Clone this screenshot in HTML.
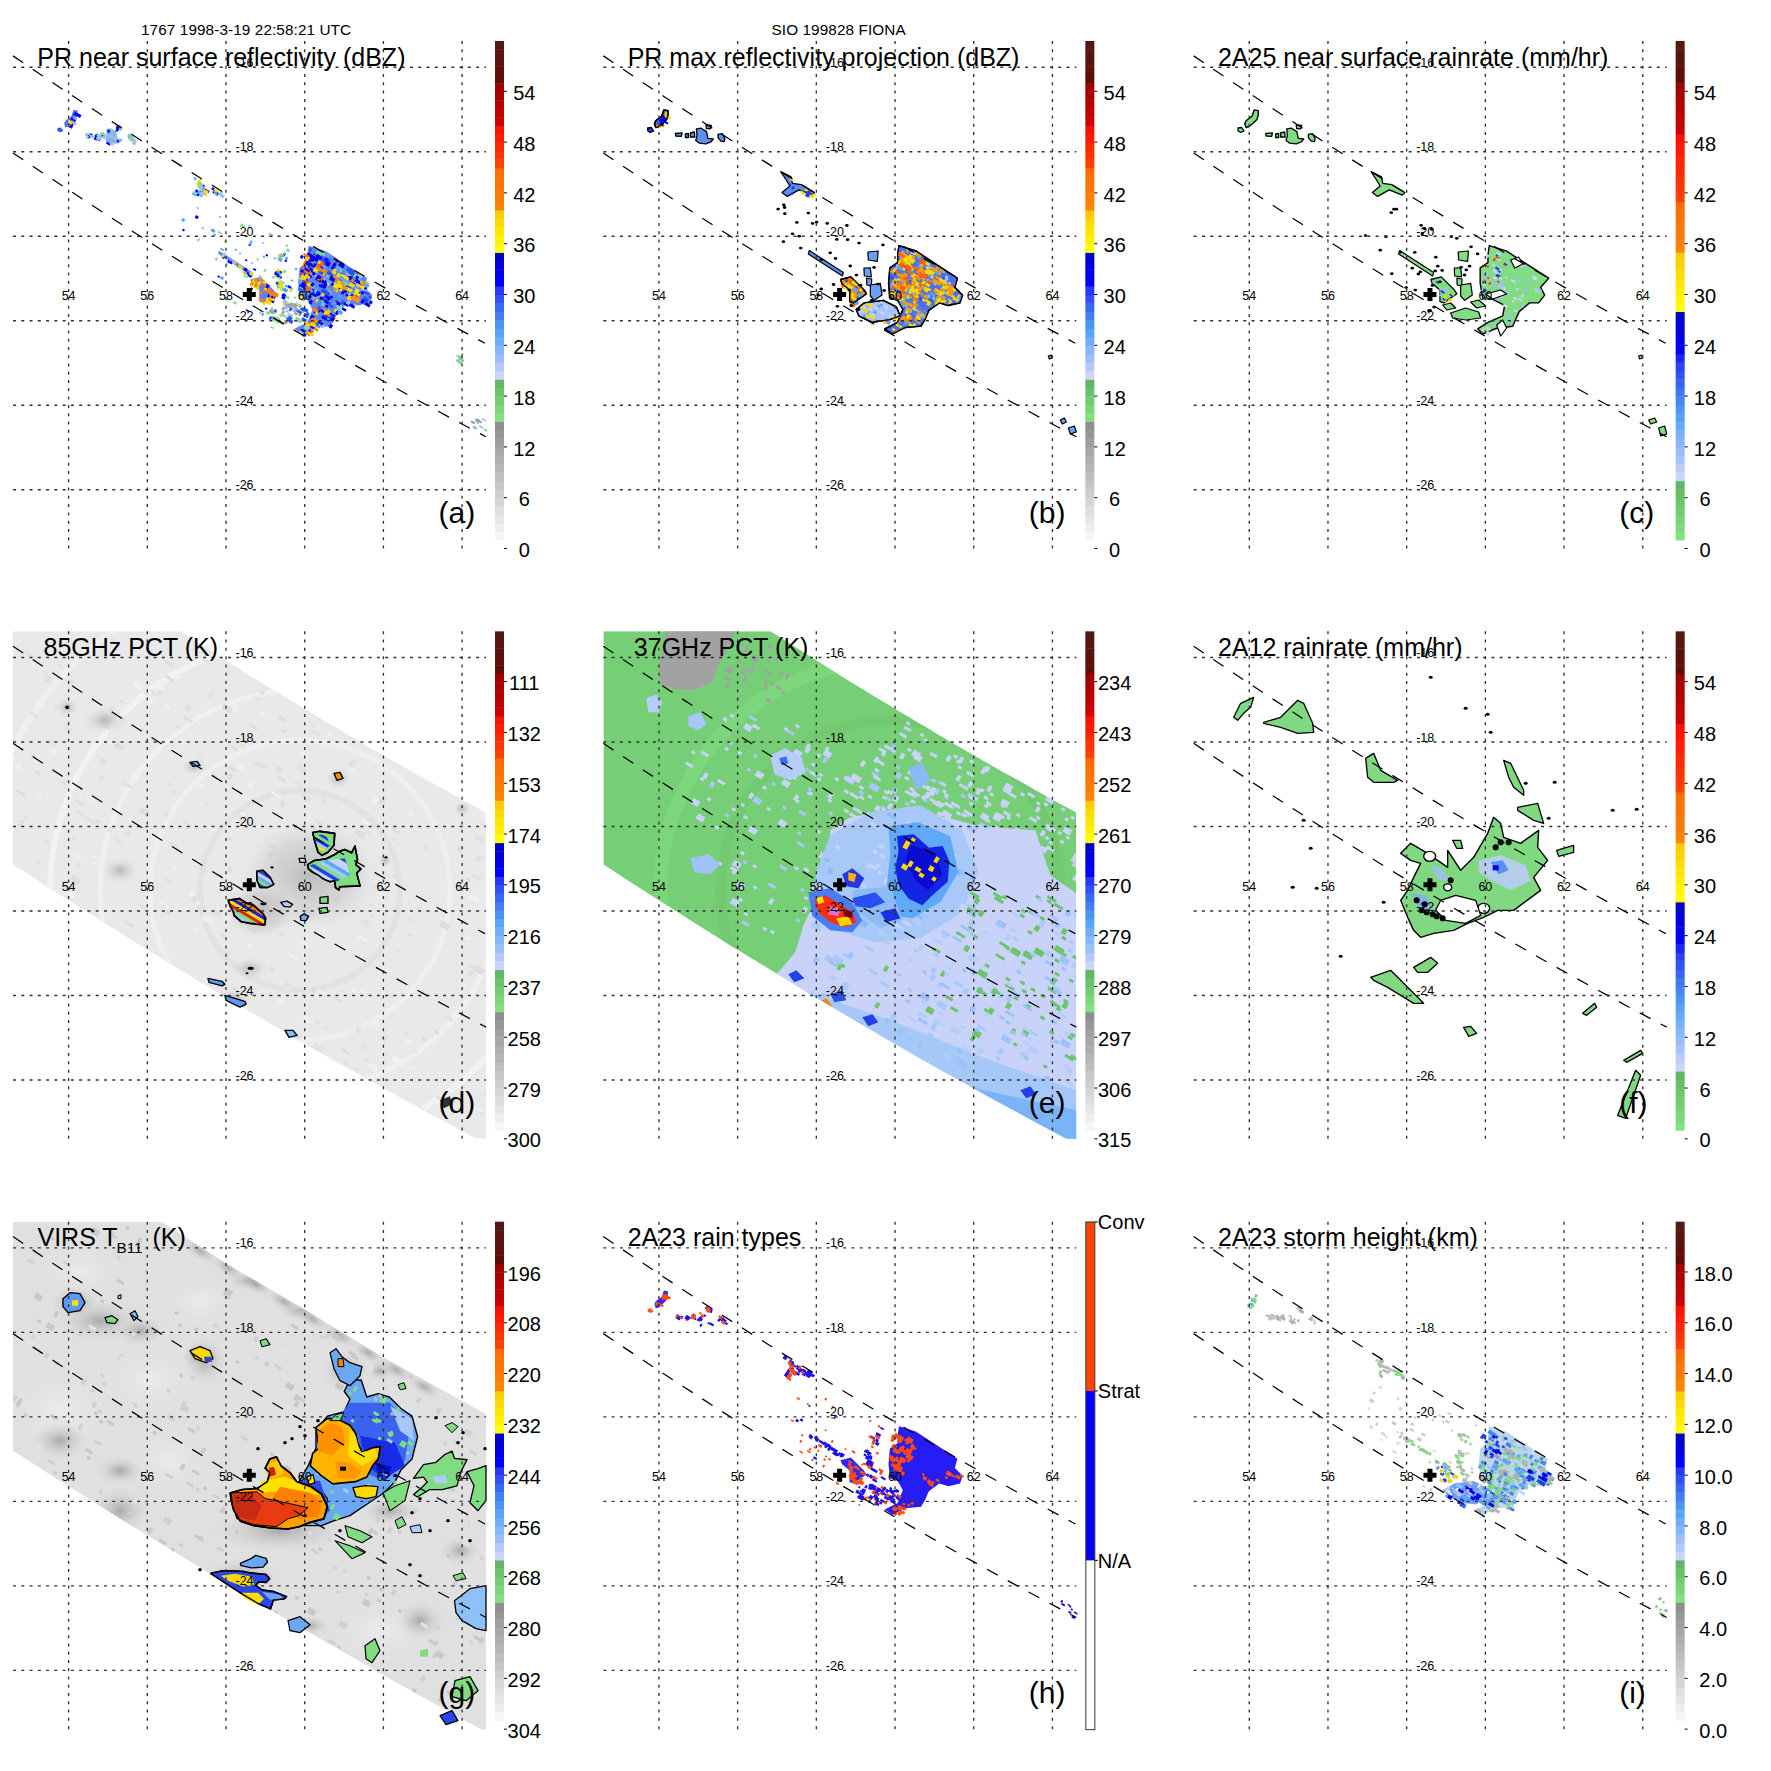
<!DOCTYPE html><html><head><meta charset="utf-8"><style>html,body{margin:0;padding:0;background:#fff;overflow:hidden}svg{display:block}</style></head><body>
<svg width="1771" height="1771" viewBox="0 0 1771 1771">
<rect width="1771" height="1771" fill="#fff"/>
<text x="141" y="35" style="font-family:'Liberation Sans',sans-serif;letter-spacing:0.1px" font-size="15.3" fill="#000">1767 1998-3-19 22:58:21 UTC</text>
<text x="771.5" y="35.1" style="font-family:'Liberation Sans',sans-serif;letter-spacing:0.1px" font-size="15.3" fill="#000">SIO 199828 FIONA</text>
<g transform="translate(0.000,0.000)">
<polygon points="308.6,245.7 325.5,250.9 367.1,278.2 364.5,287.3 372.3,295.1 369.7,302.9 358.0,305.5 348.9,302.9 338.5,310.6 334.6,319.7 330.7,326.2 315.1,327.5 302.1,334.0 294.4,328.8 307.3,322.3 309.9,315.8 312.5,309.4 307.3,300.3 299.5,297.7 298.2,283.4 299.5,267.8 307.3,262.6 307.3,254.8" fill="#3a64f0" fill-opacity="0.8"/><path fill="#82e082" d="M339.7 262.9l3.9 2.3l-1.5 2.6l-3.9 -2.3zM318.6 322.5l2.6 1.5l-1.2 2.1l-2.6 -1.5zM299.5 296.5l5.1 3.1l-1.2 2.1l-5.1 -3.1zM322.2 302.6l2.6 1.5l-1.2 2.1l-2.6 -1.5zM337.6 266.3l5.1 3.1l-2.0 3.3l-5.1 -3.1zM346.6 282.9l2.6 1.5l-2.0 3.3l-2.6 -1.5zM327.4 279.3l3.9 2.3l-2.0 3.3l-3.9 -2.3zM334.4 281.8l5.1 3.1l-2.0 3.3l-5.1 -3.1zM347.1 268.2l5.1 3.1l-2.0 3.3l-5.1 -3.1zM329.1 274.6l3.9 2.3l-1.2 2.1l-3.9 -2.3zM339.5 281.7l3.9 2.3l-2.0 3.3l-3.9 -2.3zM337.9 303.3l5.1 3.1l-2.0 3.3l-5.1 -3.1zM313.2 320.6l2.6 1.5l-2.0 3.3l-2.6 -1.5zM365.8 280.8l3.9 2.3l-1.5 2.6l-3.9 -2.3zM355.0 273.6l2.6 1.5l-1.5 2.6l-2.6 -1.5zM324.8 280.5l3.9 2.3l-1.2 2.1l-3.9 -2.3zM305.1 325.6l3.9 2.3l-1.5 2.6l-3.9 -2.3zM307.0 282.2l3.9 2.3l-2.0 3.3l-3.9 -2.3zM299.7 278.4l2.6 1.5l-1.2 2.1l-2.6 -1.5zM353.5 294.0l5.1 3.1l-1.2 2.1l-5.1 -3.1zM354.0 281.3l3.9 2.3l-1.5 2.6l-3.9 -2.3zM309.8 282.2l2.6 1.5l-2.0 3.3l-2.6 -1.5zM334.7 277.7l2.6 1.5l-2.0 3.3l-2.6 -1.5zM320.6 297.9l5.1 3.1l-1.2 2.1l-5.1 -3.1zM344.8 283.2l5.1 3.1l-1.2 2.1l-5.1 -3.1zM316.9 250.5l5.1 3.1l-2.0 3.3l-5.1 -3.1zM321.6 251.8l3.9 2.3l-1.2 2.1l-3.9 -2.3zM357.8 276.1l2.6 1.5l-1.2 2.1l-2.6 -1.5zM317.1 266.4l2.6 1.5l-1.2 2.1l-2.6 -1.5zM312.0 284.4l2.6 1.5l-1.5 2.6l-2.6 -1.5zM346.0 279.9l3.9 2.3l-2.0 3.3l-3.9 -2.3zM333.4 270.6l2.6 1.5l-2.0 3.3l-2.6 -1.5z"/><path fill="#ffd800" d="M332.2 314.8l5.1 3.1l-1.2 2.1l-5.1 -3.1zM299.7 294.1l5.1 3.1l-1.2 2.1l-5.1 -3.1zM310.3 255.6l2.6 1.5l-1.2 2.1l-2.6 -1.5zM303.8 275.9l2.6 1.5l-1.5 2.6l-2.6 -1.5zM313.6 296.8l5.1 3.1l-1.5 2.6l-5.1 -3.1zM337.9 259.1l2.6 1.5l-1.2 2.1l-2.6 -1.5zM314.2 318.3l5.1 3.1l-2.0 3.3l-5.1 -3.1zM348.6 271.0l3.9 2.3l-1.2 2.1l-3.9 -2.3zM354.6 297.0l5.1 3.1l-1.5 2.6l-5.1 -3.1zM300.0 276.4l2.6 1.5l-1.2 2.1l-2.6 -1.5zM308.7 282.3l3.9 2.3l-1.5 2.6l-3.9 -2.3zM360.5 285.2l2.6 1.5l-1.2 2.1l-2.6 -1.5zM328.1 273.8l5.1 3.1l-2.0 3.3l-5.1 -3.1zM339.0 285.2l2.6 1.5l-1.2 2.1l-2.6 -1.5zM301.1 275.3l5.1 3.1l-1.5 2.6l-5.1 -3.1zM305.6 266.9l3.9 2.3l-1.5 2.6l-3.9 -2.3zM329.2 290.7l2.6 1.5l-1.2 2.1l-2.6 -1.5zM334.9 308.5l2.6 1.5l-1.5 2.6l-2.6 -1.5zM335.9 288.8l2.6 1.5l-1.2 2.1l-2.6 -1.5zM320.1 270.5l5.1 3.1l-1.5 2.6l-5.1 -3.1zM360.9 280.2l2.6 1.5l-1.5 2.6l-2.6 -1.5zM322.5 270.0l2.6 1.5l-1.5 2.6l-2.6 -1.5zM327.7 281.1l2.6 1.5l-2.0 3.3l-2.6 -1.5zM300.8 329.7l2.6 1.5l-1.5 2.6l-2.6 -1.5zM304.6 266.7l2.6 1.5l-1.2 2.1l-2.6 -1.5zM308.1 254.9l2.6 1.5l-2.0 3.3l-2.6 -1.5zM322.3 292.8l2.6 1.5l-2.0 3.3l-2.6 -1.5zM340.7 281.4l3.9 2.3l-1.5 2.6l-3.9 -2.3z"/><path fill="#4a94f8" d="M314.3 259.9l3.9 2.3l-1.2 2.1l-3.9 -2.3zM352.4 282.6l2.6 1.5l-2.0 3.3l-2.6 -1.5zM347.0 299.6l2.6 1.5l-2.0 3.3l-2.6 -1.5zM302.9 333.0l2.6 1.5l-1.5 2.6l-2.6 -1.5zM318.2 325.0l2.6 1.5l-1.2 2.1l-2.6 -1.5zM326.2 298.5l5.1 3.1l-1.5 2.6l-5.1 -3.1zM305.3 295.1l2.6 1.5l-2.0 3.3l-2.6 -1.5zM308.9 289.8l2.6 1.5l-1.2 2.1l-2.6 -1.5zM319.4 282.8l3.9 2.3l-2.0 3.3l-3.9 -2.3zM302.8 272.8l2.6 1.5l-1.5 2.6l-2.6 -1.5zM309.9 247.5l2.6 1.5l-1.2 2.1l-2.6 -1.5zM318.6 275.2l2.6 1.5l-1.2 2.1l-2.6 -1.5zM319.2 261.4l2.6 1.5l-1.5 2.6l-2.6 -1.5zM329.6 308.4l2.6 1.5l-2.0 3.3l-2.6 -1.5zM314.0 297.7l2.6 1.5l-1.5 2.6l-2.6 -1.5zM300.7 326.5l3.9 2.3l-1.5 2.6l-3.9 -2.3zM310.2 319.4l2.6 1.5l-1.2 2.1l-2.6 -1.5zM312.7 314.4l2.6 1.5l-1.5 2.6l-2.6 -1.5zM312.7 263.1l2.6 1.5l-1.5 2.6l-2.6 -1.5zM336.1 275.7l2.6 1.5l-1.5 2.6l-2.6 -1.5zM350.8 282.1l5.1 3.1l-1.2 2.1l-5.1 -3.1zM335.4 269.0l3.9 2.3l-2.0 3.3l-3.9 -2.3zM327.7 294.3l2.6 1.5l-1.2 2.1l-2.6 -1.5zM328.9 257.1l2.6 1.5l-1.5 2.6l-2.6 -1.5zM332.6 292.3l2.6 1.5l-2.0 3.3l-2.6 -1.5zM331.4 272.8l5.1 3.1l-2.0 3.3l-5.1 -3.1zM304.1 282.4l2.6 1.5l-1.5 2.6l-2.6 -1.5zM364.8 299.0l5.1 3.1l-1.2 2.1l-5.1 -3.1z"/><path fill="#0000dd" d="M331.1 274.5l5.1 3.1l-1.2 2.1l-5.1 -3.1zM325.1 279.2l2.6 1.5l-1.5 2.6l-2.6 -1.5zM321.3 277.9l5.1 3.1l-2.0 3.3l-5.1 -3.1zM329.7 317.6l2.6 1.5l-1.2 2.1l-2.6 -1.5zM367.2 301.6l2.6 1.5l-2.0 3.3l-2.6 -1.5zM342.6 290.0l2.6 1.5l-2.0 3.3l-2.6 -1.5zM330.2 312.7l5.1 3.1l-1.5 2.6l-5.1 -3.1zM350.1 275.3l2.6 1.5l-2.0 3.3l-2.6 -1.5zM308.4 266.2l5.1 3.1l-1.2 2.1l-5.1 -3.1zM312.0 314.9l2.6 1.5l-1.2 2.1l-2.6 -1.5zM323.0 297.0l5.1 3.1l-1.5 2.6l-5.1 -3.1zM332.1 282.5l2.6 1.5l-1.5 2.6l-2.6 -1.5zM334.3 262.2l2.6 1.5l-2.0 3.3l-2.6 -1.5zM316.5 276.9l5.1 3.1l-1.5 2.6l-5.1 -3.1zM326.1 304.3l2.6 1.5l-1.2 2.1l-2.6 -1.5zM350.0 276.0l2.6 1.5l-1.2 2.1l-2.6 -1.5zM318.1 308.9l2.6 1.5l-1.2 2.1l-2.6 -1.5zM342.8 307.3l3.9 2.3l-1.2 2.1l-3.9 -2.3zM310.4 253.7l3.9 2.3l-1.5 2.6l-3.9 -2.3zM340.5 281.6l3.9 2.3l-1.2 2.1l-3.9 -2.3zM321.6 283.8l5.1 3.1l-1.2 2.1l-5.1 -3.1zM335.9 300.3l5.1 3.1l-1.5 2.6l-5.1 -3.1zM312.4 288.8l3.9 2.3l-1.2 2.1l-3.9 -2.3zM337.0 310.5l2.6 1.5l-2.0 3.3l-2.6 -1.5zM326.7 296.5l3.9 2.3l-1.5 2.6l-3.9 -2.3zM323.6 259.7l5.1 3.1l-1.5 2.6l-5.1 -3.1zM344.8 289.2l2.6 1.5l-1.5 2.6l-2.6 -1.5zM355.2 279.5l2.6 1.5l-1.2 2.1l-2.6 -1.5zM343.9 275.0l3.9 2.3l-1.2 2.1l-3.9 -2.3zM365.6 301.8l5.1 3.1l-1.5 2.6l-5.1 -3.1zM325.5 294.3l5.1 3.1l-1.2 2.1l-5.1 -3.1zM324.9 282.5l2.6 1.5l-2.0 3.3l-2.6 -1.5zM344.0 301.7l5.1 3.1l-1.2 2.1l-5.1 -3.1zM328.7 314.7l2.6 1.5l-1.2 2.1l-2.6 -1.5z"/><path fill="#58a6fc" d="M299.3 287.0l2.6 1.5l-2.0 3.3l-2.6 -1.5zM356.0 287.3l3.9 2.3l-1.5 2.6l-3.9 -2.3zM334.4 301.0l2.6 1.5l-1.5 2.6l-2.6 -1.5zM346.3 269.5l2.6 1.5l-1.5 2.6l-2.6 -1.5zM351.0 269.5l3.9 2.3l-1.5 2.6l-3.9 -2.3zM346.1 271.9l5.1 3.1l-2.0 3.3l-5.1 -3.1zM350.6 292.4l2.6 1.5l-1.2 2.1l-2.6 -1.5zM310.9 289.3l2.6 1.5l-1.2 2.1l-2.6 -1.5zM307.9 289.5l3.9 2.3l-1.5 2.6l-3.9 -2.3zM323.8 265.4l2.6 1.5l-2.0 3.3l-2.6 -1.5zM326.8 290.6l5.1 3.1l-1.2 2.1l-5.1 -3.1zM365.4 298.0l5.1 3.1l-1.5 2.6l-5.1 -3.1zM339.4 309.6l3.9 2.3l-2.0 3.3l-3.9 -2.3zM322.0 268.1l5.1 3.1l-1.5 2.6l-5.1 -3.1zM299.2 278.8l5.1 3.1l-1.5 2.6l-5.1 -3.1zM355.4 282.8l2.6 1.5l-1.2 2.1l-2.6 -1.5zM341.9 275.7l5.1 3.1l-2.0 3.3l-5.1 -3.1zM369.5 296.5l2.6 1.5l-1.5 2.6l-2.6 -1.5zM333.4 287.9l2.6 1.5l-1.2 2.1l-2.6 -1.5zM336.3 265.6l5.1 3.1l-2.0 3.3l-5.1 -3.1zM365.7 283.1l3.9 2.3l-1.5 2.6l-3.9 -2.3zM347.0 280.3l5.1 3.1l-1.2 2.1l-5.1 -3.1zM314.3 266.9l2.6 1.5l-2.0 3.3l-2.6 -1.5zM353.0 289.8l3.9 2.3l-2.0 3.3l-3.9 -2.3zM304.5 270.1l5.1 3.1l-1.5 2.6l-5.1 -3.1zM323.7 262.4l2.6 1.5l-2.0 3.3l-2.6 -1.5zM339.0 294.6l2.6 1.5l-1.2 2.1l-2.6 -1.5zM326.8 286.7l3.9 2.3l-1.5 2.6l-3.9 -2.3zM326.8 279.0l5.1 3.1l-1.2 2.1l-5.1 -3.1zM328.1 275.3l2.6 1.5l-1.5 2.6l-2.6 -1.5zM353.8 284.4l3.9 2.3l-1.2 2.1l-3.9 -2.3zM312.8 256.8l5.1 3.1l-1.5 2.6l-5.1 -3.1zM327.5 252.4l2.6 1.5l-2.0 3.3l-2.6 -1.5zM316.6 264.0l2.6 1.5l-1.5 2.6l-2.6 -1.5zM366.6 291.2l2.6 1.5l-2.0 3.3l-2.6 -1.5zM325.2 315.9l5.1 3.1l-1.2 2.1l-5.1 -3.1zM315.5 292.6l5.1 3.1l-2.0 3.3l-5.1 -3.1zM349.2 267.5l3.9 2.3l-1.2 2.1l-3.9 -2.3z"/><path fill="#9cbffc" d="M323.3 277.5l2.6 1.5l-1.2 2.1l-2.6 -1.5zM336.9 273.8l3.9 2.3l-1.2 2.1l-3.9 -2.3zM350.0 282.5l2.6 1.5l-1.2 2.1l-2.6 -1.5zM305.9 289.8l2.6 1.5l-1.2 2.1l-2.6 -1.5zM322.3 324.0l2.6 1.5l-2.0 3.3l-2.6 -1.5zM312.0 272.3l5.1 3.1l-1.2 2.1l-5.1 -3.1zM320.2 260.8l2.6 1.5l-1.5 2.6l-2.6 -1.5zM349.1 292.4l5.1 3.1l-1.2 2.1l-5.1 -3.1zM347.9 300.1l2.6 1.5l-2.0 3.3l-2.6 -1.5zM342.7 280.7l2.6 1.5l-2.0 3.3l-2.6 -1.5zM356.3 280.6l2.6 1.5l-2.0 3.3l-2.6 -1.5zM315.6 288.7l2.6 1.5l-2.0 3.3l-2.6 -1.5zM338.0 305.6l2.6 1.5l-2.0 3.3l-2.6 -1.5zM350.8 280.9l3.9 2.3l-1.5 2.6l-3.9 -2.3zM327.9 300.3l2.6 1.5l-1.2 2.1l-2.6 -1.5zM319.8 266.4l5.1 3.1l-1.5 2.6l-5.1 -3.1zM315.5 289.2l2.6 1.5l-1.5 2.6l-2.6 -1.5zM340.2 263.3l2.6 1.5l-1.2 2.1l-2.6 -1.5zM305.3 324.0l5.1 3.1l-1.5 2.6l-5.1 -3.1zM347.1 272.8l2.6 1.5l-1.2 2.1l-2.6 -1.5zM362.2 287.1l5.1 3.1l-1.5 2.6l-5.1 -3.1zM359.4 273.2l3.9 2.3l-2.0 3.3l-3.9 -2.3z"/><path fill="#2a50f8" d="M328.0 270.2l5.1 3.1l-2.0 3.3l-5.1 -3.1zM364.2 295.9l5.1 3.1l-2.0 3.3l-5.1 -3.1zM329.2 324.2l2.6 1.5l-1.2 2.1l-2.6 -1.5zM319.9 270.4l3.9 2.3l-1.5 2.6l-3.9 -2.3zM351.5 303.2l2.6 1.5l-1.5 2.6l-2.6 -1.5zM364.6 290.6l5.1 3.1l-1.2 2.1l-5.1 -3.1zM301.9 271.2l5.1 3.1l-2.0 3.3l-5.1 -3.1zM322.8 288.1l5.1 3.1l-2.0 3.3l-5.1 -3.1zM342.3 300.0l2.6 1.5l-2.0 3.3l-2.6 -1.5zM348.7 288.4l2.6 1.5l-1.5 2.6l-2.6 -1.5zM316.5 322.5l2.6 1.5l-1.2 2.1l-2.6 -1.5zM303.2 288.9l3.9 2.3l-1.5 2.6l-3.9 -2.3zM349.8 267.8l5.1 3.1l-1.2 2.1l-5.1 -3.1zM302.6 271.2l2.6 1.5l-1.2 2.1l-2.6 -1.5zM322.9 295.8l5.1 3.1l-1.5 2.6l-5.1 -3.1zM325.9 312.9l2.6 1.5l-2.0 3.3l-2.6 -1.5zM326.4 299.9l5.1 3.1l-1.5 2.6l-5.1 -3.1zM355.2 294.2l3.9 2.3l-1.5 2.6l-3.9 -2.3zM322.6 256.7l3.9 2.3l-2.0 3.3l-3.9 -2.3zM318.5 305.7l2.6 1.5l-1.5 2.6l-2.6 -1.5zM329.8 304.0l3.9 2.3l-1.2 2.1l-3.9 -2.3zM317.0 290.1l2.6 1.5l-1.5 2.6l-2.6 -1.5zM347.7 267.3l2.6 1.5l-2.0 3.3l-2.6 -1.5zM349.8 269.7l5.1 3.1l-2.0 3.3l-5.1 -3.1zM308.1 288.8l2.6 1.5l-1.5 2.6l-2.6 -1.5zM348.3 267.7l2.6 1.5l-1.5 2.6l-2.6 -1.5zM327.9 291.6l2.6 1.5l-2.0 3.3l-2.6 -1.5zM324.6 261.5l5.1 3.1l-1.5 2.6l-5.1 -3.1zM325.8 257.3l5.1 3.1l-2.0 3.3l-5.1 -3.1zM310.1 247.3l2.6 1.5l-2.0 3.3l-2.6 -1.5zM346.7 284.7l3.9 2.3l-1.5 2.6l-3.9 -2.3zM328.7 313.4l5.1 3.1l-1.5 2.6l-5.1 -3.1zM369.4 295.4l2.6 1.5l-1.2 2.1l-2.6 -1.5zM299.6 287.1l2.6 1.5l-1.5 2.6l-2.6 -1.5zM364.4 299.1l3.9 2.3l-1.2 2.1l-3.9 -2.3zM341.4 272.7l5.1 3.1l-1.2 2.1l-5.1 -3.1zM314.2 252.4l2.6 1.5l-1.2 2.1l-2.6 -1.5zM352.5 282.6l2.6 1.5l-1.5 2.6l-2.6 -1.5z"/><path fill="#0000ff" d="M325.2 299.8l3.9 2.3l-1.2 2.1l-3.9 -2.3zM370.3 300.3l2.6 1.5l-1.5 2.6l-2.6 -1.5zM332.4 316.8l2.6 1.5l-2.0 3.3l-2.6 -1.5zM362.2 299.1l2.6 1.5l-2.0 3.3l-2.6 -1.5zM356.6 275.6l2.6 1.5l-1.5 2.6l-2.6 -1.5zM325.8 257.5l2.6 1.5l-1.5 2.6l-2.6 -1.5zM311.9 292.1l5.1 3.1l-1.2 2.1l-5.1 -3.1zM317.9 261.3l3.9 2.3l-1.5 2.6l-3.9 -2.3zM304.2 332.8l2.6 1.5l-1.5 2.6l-2.6 -1.5zM327.0 261.0l3.9 2.3l-2.0 3.3l-3.9 -2.3zM356.9 280.7l3.9 2.3l-1.2 2.1l-3.9 -2.3zM334.6 270.9l2.6 1.5l-1.5 2.6l-2.6 -1.5zM336.4 259.1l2.6 1.5l-1.2 2.1l-2.6 -1.5zM349.2 276.6l5.1 3.1l-1.2 2.1l-5.1 -3.1zM310.3 262.9l5.1 3.1l-1.2 2.1l-5.1 -3.1zM350.2 303.1l5.1 3.1l-1.5 2.6l-5.1 -3.1zM327.5 311.1l2.6 1.5l-1.2 2.1l-2.6 -1.5zM361.9 290.6l2.6 1.5l-1.5 2.6l-2.6 -1.5zM308.3 274.0l3.9 2.3l-1.2 2.1l-3.9 -2.3zM318.3 291.6l2.6 1.5l-1.5 2.6l-2.6 -1.5zM311.7 314.8l2.6 1.5l-2.0 3.3l-2.6 -1.5zM355.0 289.3l5.1 3.1l-1.5 2.6l-5.1 -3.1zM310.5 299.6l2.6 1.5l-2.0 3.3l-2.6 -1.5zM304.4 277.9l3.9 2.3l-1.5 2.6l-3.9 -2.3zM324.6 317.0l2.6 1.5l-1.2 2.1l-2.6 -1.5zM326.8 312.2l3.9 2.3l-2.0 3.3l-3.9 -2.3zM313.7 271.2l2.6 1.5l-2.0 3.3l-2.6 -1.5zM302.5 281.4l3.9 2.3l-1.5 2.6l-3.9 -2.3zM330.6 323.9l2.6 1.5l-2.0 3.3l-2.6 -1.5zM321.6 278.4l2.6 1.5l-1.2 2.1l-2.6 -1.5zM319.6 283.8l3.9 2.3l-1.2 2.1l-3.9 -2.3zM300.4 283.9l3.9 2.3l-2.0 3.3l-3.9 -2.3zM350.8 280.8l5.1 3.1l-2.0 3.3l-5.1 -3.1zM309.0 294.7l2.6 1.5l-1.5 2.6l-2.6 -1.5zM346.4 293.5l3.9 2.3l-1.2 2.1l-3.9 -2.3zM314.8 310.6l3.9 2.3l-1.2 2.1l-3.9 -2.3zM301.6 328.4l3.9 2.3l-1.2 2.1l-3.9 -2.3zM330.9 276.0l5.1 3.1l-2.0 3.3l-5.1 -3.1zM319.8 265.7l3.9 2.3l-1.2 2.1l-3.9 -2.3zM339.9 262.0l5.1 3.1l-2.0 3.3l-5.1 -3.1zM327.4 261.7l2.6 1.5l-2.0 3.3l-2.6 -1.5zM318.4 320.4l5.1 3.1l-1.2 2.1l-5.1 -3.1zM347.8 275.5l5.1 3.1l-1.5 2.6l-5.1 -3.1zM317.4 253.8l5.1 3.1l-2.0 3.3l-5.1 -3.1zM308.1 252.1l2.6 1.5l-2.0 3.3l-2.6 -1.5zM351.6 293.4l3.9 2.3l-2.0 3.3l-3.9 -2.3zM332.0 265.5l3.9 2.3l-1.5 2.6l-3.9 -2.3zM311.9 269.8l2.6 1.5l-1.2 2.1l-2.6 -1.5zM364.7 286.4l2.6 1.5l-1.2 2.1l-2.6 -1.5zM320.7 296.3l2.6 1.5l-1.5 2.6l-2.6 -1.5zM320.9 308.8l3.9 2.3l-1.2 2.1l-3.9 -2.3zM310.4 323.8l5.1 3.1l-1.5 2.6l-5.1 -3.1zM322.6 315.2l5.1 3.1l-1.5 2.6l-5.1 -3.1zM309.6 328.9l3.9 2.3l-1.5 2.6l-3.9 -2.3zM330.6 295.3l2.6 1.5l-1.2 2.1l-2.6 -1.5zM338.8 286.2l2.6 1.5l-1.2 2.1l-2.6 -1.5zM316.6 292.8l2.6 1.5l-1.2 2.1l-2.6 -1.5zM304.4 283.6l2.6 1.5l-1.2 2.1l-2.6 -1.5zM314.5 263.1l2.6 1.5l-1.2 2.1l-2.6 -1.5zM356.4 279.1l3.9 2.3l-1.2 2.1l-3.9 -2.3z"/><path fill="#ff6000" d="M303.9 274.6l2.6 1.5l-1.5 2.6l-2.6 -1.5zM320.6 267.7l2.6 1.5l-1.2 2.1l-2.6 -1.5zM306.4 258.2l3.9 2.3l-2.0 3.3l-3.9 -2.3zM305.5 267.9l2.6 1.5l-2.0 3.3l-2.6 -1.5zM302.1 265.6l2.6 1.5l-1.2 2.1l-2.6 -1.5zM319.2 260.4l5.1 3.1l-2.0 3.3l-5.1 -3.1zM321.8 261.0l2.6 1.5l-1.2 2.1l-2.6 -1.5zM318.1 276.8l2.6 1.5l-1.5 2.6l-2.6 -1.5zM302.3 272.3l5.1 3.1l-1.2 2.1l-5.1 -3.1zM306.7 269.2l5.1 3.1l-1.5 2.6l-5.1 -3.1zM307.1 286.1l3.9 2.3l-2.0 3.3l-3.9 -2.3zM321.2 276.3l2.6 1.5l-2.0 3.3l-2.6 -1.5zM305.9 285.4l3.9 2.3l-1.5 2.6l-3.9 -2.3zM305.1 279.2l3.9 2.3l-1.5 2.6l-3.9 -2.3zM304.7 261.1l2.6 1.5l-2.0 3.3l-2.6 -1.5z"/><path fill="#ff8000" d="M307.6 267.2l2.6 1.5l-2.0 3.3l-2.6 -1.5zM323.9 268.8l3.9 2.3l-1.5 2.6l-3.9 -2.3zM304.1 252.9l5.1 3.1l-1.2 2.1l-5.1 -3.1zM318.5 266.1l3.9 2.3l-2.0 3.3l-3.9 -2.3zM312.6 258.2l2.6 1.5l-2.0 3.3l-2.6 -1.5zM317.2 263.9l2.6 1.5l-2.0 3.3l-2.6 -1.5z"/><path fill="#0000ff" d="M317.9 274.4l2.6 1.5l-2.0 3.3l-2.6 -1.5zM313.8 255.8l5.1 3.1l-2.0 3.3l-5.1 -3.1zM305.1 267.1l5.1 3.1l-1.2 2.1l-5.1 -3.1zM319.3 275.5l2.6 1.5l-1.5 2.6l-2.6 -1.5zM301.3 254.8l2.6 1.5l-1.5 2.6l-2.6 -1.5zM301.9 284.3l3.9 2.3l-1.5 2.6l-3.9 -2.3zM310.8 255.7l2.6 1.5l-1.2 2.1l-2.6 -1.5zM307.1 260.7l5.1 3.1l-2.0 3.3l-5.1 -3.1zM312.1 282.3l2.6 1.5l-2.0 3.3l-2.6 -1.5zM310.6 257.4l2.6 1.5l-2.0 3.3l-2.6 -1.5zM303.5 286.6l2.6 1.5l-1.2 2.1l-2.6 -1.5zM307.1 260.4l2.6 1.5l-1.2 2.1l-2.6 -1.5zM311.8 258.5l2.6 1.5l-1.2 2.1l-2.6 -1.5zM301.5 268.9l2.6 1.5l-1.5 2.6l-2.6 -1.5z"/><path fill="#ffd800" d="M301.8 274.5l5.1 3.1l-2.0 3.3l-5.1 -3.1zM305.4 273.6l5.1 3.1l-1.2 2.1l-5.1 -3.1zM314.5 267.6l3.9 2.3l-2.0 3.3l-3.9 -2.3zM306.3 257.5l2.6 1.5l-1.2 2.1l-2.6 -1.5zM318.6 260.4l2.6 1.5l-1.5 2.6l-2.6 -1.5z"/><path fill="#ffd800" d="M355.2 290.7l2.6 1.5l-2.0 3.3l-2.6 -1.5zM334.2 267.9l2.6 1.5l-1.2 2.1l-2.6 -1.5zM334.5 283.3l5.1 3.1l-2.0 3.3l-5.1 -3.1zM350.3 288.5l2.6 1.5l-1.2 2.1l-2.6 -1.5zM336.8 283.3l5.1 3.1l-1.2 2.1l-5.1 -3.1zM334.6 282.9l5.1 3.1l-1.5 2.6l-5.1 -3.1zM333.1 270.1l3.9 2.3l-1.5 2.6l-3.9 -2.3zM358.0 292.8l2.6 1.5l-1.5 2.6l-2.6 -1.5zM348.5 295.1l3.9 2.3l-2.0 3.3l-3.9 -2.3zM338.6 280.2l3.9 2.3l-1.5 2.6l-3.9 -2.3zM350.3 281.7l5.1 3.1l-2.0 3.3l-5.1 -3.1zM357.7 283.3l2.6 1.5l-1.5 2.6l-2.6 -1.5z"/><path fill="#ffe000" d="M355.9 287.9l3.9 2.3l-2.0 3.3l-3.9 -2.3zM357.0 289.8l2.6 1.5l-2.0 3.3l-2.6 -1.5zM346.7 286.7l5.1 3.1l-1.5 2.6l-5.1 -3.1zM338.3 272.7l2.6 1.5l-2.0 3.3l-2.6 -1.5zM345.0 275.1l3.9 2.3l-1.5 2.6l-3.9 -2.3zM338.8 283.2l5.1 3.1l-1.5 2.6l-5.1 -3.1zM341.7 273.5l5.1 3.1l-1.2 2.1l-5.1 -3.1zM362.5 285.2l2.6 1.5l-1.5 2.6l-2.6 -1.5zM340.2 288.2l2.6 1.5l-1.2 2.1l-2.6 -1.5zM345.4 276.3l3.9 2.3l-1.2 2.1l-3.9 -2.3zM349.6 295.4l3.9 2.3l-1.2 2.1l-3.9 -2.3z"/><path fill="#ff9000" d="M342.9 285.3l5.1 3.1l-1.5 2.6l-5.1 -3.1zM354.9 296.7l5.1 3.1l-2.0 3.3l-5.1 -3.1zM352.6 295.5l2.6 1.5l-2.0 3.3l-2.6 -1.5zM354.0 294.7l2.6 1.5l-1.5 2.6l-2.6 -1.5zM336.4 277.7l2.6 1.5l-2.0 3.3l-2.6 -1.5zM351.5 295.5l5.1 3.1l-1.5 2.6l-5.1 -3.1zM334.7 287.7l2.6 1.5l-1.2 2.1l-2.6 -1.5zM351.8 278.4l2.6 1.5l-1.5 2.6l-2.6 -1.5zM357.1 296.3l2.6 1.5l-1.2 2.1l-2.6 -1.5zM333.8 275.1l3.9 2.3l-1.2 2.1l-3.9 -2.3zM362.6 281.1l2.6 1.5l-2.0 3.3l-2.6 -1.5zM341.0 280.9l3.9 2.3l-1.2 2.1l-3.9 -2.3z"/><path fill="#ff8000" d="M307.4 321.3l5.1 3.1l-1.5 2.6l-5.1 -3.1zM316.3 308.5l2.6 1.5l-2.0 3.3l-2.6 -1.5zM313.7 307.5l5.1 3.1l-1.5 2.6l-5.1 -3.1zM325.7 311.6l5.1 3.1l-1.5 2.6l-5.1 -3.1zM314.9 327.3l3.9 2.3l-1.2 2.1l-3.9 -2.3zM324.4 308.2l3.9 2.3l-1.2 2.1l-3.9 -2.3zM306.9 331.5l3.9 2.3l-1.5 2.6l-3.9 -2.3zM311.6 329.1l2.6 1.5l-1.5 2.6l-2.6 -1.5zM312.2 317.5l5.1 3.1l-2.0 3.3l-5.1 -3.1z"/><path fill="#ffd800" d="M325.4 310.3l2.6 1.5l-2.0 3.3l-2.6 -1.5zM316.0 311.8l2.6 1.5l-1.2 2.1l-2.6 -1.5zM328.2 309.6l2.6 1.5l-2.0 3.3l-2.6 -1.5zM306.3 322.5l3.9 2.3l-1.5 2.6l-3.9 -2.3zM311.4 322.1l5.1 3.1l-1.5 2.6l-5.1 -3.1zM309.1 331.6l5.1 3.1l-1.2 2.1l-5.1 -3.1z"/><polygon points="250.2,279.5 260.6,276.9 273.6,289.9 276.2,293.8 263.2,302.9 259.3,301.6 259.3,289.9 251.5,283.4" fill="#3a60f0" fill-opacity="0.8"/><path fill="#0000ff" d="M272.6 292.0l3.9 2.3l-2.0 3.3l-3.9 -2.3zM253.4 281.1l3.9 2.3l-1.2 2.1l-3.9 -2.3zM254.0 281.1l2.6 1.5l-1.2 2.1l-2.6 -1.5zM268.9 293.3l2.6 1.5l-2.0 3.3l-2.6 -1.5zM273.1 295.7l2.6 1.5l-2.0 3.3l-2.6 -1.5zM274.3 292.8l3.9 2.3l-1.2 2.1l-3.9 -2.3zM269.8 297.8l5.1 3.1l-1.5 2.6l-5.1 -3.1zM266.0 283.3l3.9 2.3l-2.0 3.3l-3.9 -2.3zM261.9 279.2l2.6 1.5l-1.2 2.1l-2.6 -1.5z"/><path fill="#ffd800" d="M254.7 284.7l5.1 3.1l-1.5 2.6l-5.1 -3.1zM255.2 283.2l3.9 2.3l-1.2 2.1l-3.9 -2.3zM266.8 298.8l5.1 3.1l-2.0 3.3l-5.1 -3.1zM264.8 287.2l2.6 1.5l-1.5 2.6l-2.6 -1.5zM254.8 283.9l3.9 2.3l-1.5 2.6l-3.9 -2.3zM262.9 280.1l3.9 2.3l-1.2 2.1l-3.9 -2.3zM253.0 283.2l3.9 2.3l-1.2 2.1l-3.9 -2.3zM255.6 283.3l3.9 2.3l-2.0 3.3l-3.9 -2.3zM266.8 297.0l5.1 3.1l-1.5 2.6l-5.1 -3.1zM263.5 301.5l2.6 1.5l-1.5 2.6l-2.6 -1.5zM253.2 279.0l3.9 2.3l-2.0 3.3l-3.9 -2.3zM257.6 281.5l2.6 1.5l-2.0 3.3l-2.6 -1.5zM270.0 296.2l5.1 3.1l-1.2 2.1l-5.1 -3.1zM259.2 280.7l2.6 1.5l-2.0 3.3l-2.6 -1.5z"/><path fill="#ff8000" d="M264.1 283.6l2.6 1.5l-1.2 2.1l-2.6 -1.5zM271.1 291.1l2.6 1.5l-1.2 2.1l-2.6 -1.5zM260.3 291.0l2.6 1.5l-1.2 2.1l-2.6 -1.5zM255.7 282.9l2.6 1.5l-2.0 3.3l-2.6 -1.5zM255.4 278.3l2.6 1.5l-1.5 2.6l-2.6 -1.5zM259.5 297.1l5.1 3.1l-1.2 2.1l-5.1 -3.1zM263.9 288.7l2.6 1.5l-1.2 2.1l-2.6 -1.5zM268.8 289.9l2.6 1.5l-1.2 2.1l-2.6 -1.5zM270.1 292.9l5.1 3.1l-1.2 2.1l-5.1 -3.1zM267.7 290.0l5.1 3.1l-1.2 2.1l-5.1 -3.1zM271.5 291.0l2.6 1.5l-1.5 2.6l-2.6 -1.5zM268.3 287.6l2.6 1.5l-1.5 2.6l-2.6 -1.5zM273.9 291.1l5.1 3.1l-2.0 3.3l-5.1 -3.1z"/><path fill="#ff9000" d="M269.3 297.9l2.6 1.5l-1.2 2.1l-2.6 -1.5zM255.0 278.7l2.6 1.5l-1.2 2.1l-2.6 -1.5zM259.6 277.6l3.9 2.3l-1.2 2.1l-3.9 -2.3zM251.4 281.7l2.6 1.5l-2.0 3.3l-2.6 -1.5z"/><path fill="#82e082" d="M304.5 308.0l2.2 1.3l-1.3 2.2l-2.2 -1.3zM279.5 320.4l3.3 2.0l-1.1 1.8l-3.3 -2.0zM278.5 319.7l2.2 1.3l-1.7 2.9l-2.2 -1.3zM288.1 304.0l2.2 1.3l-1.7 2.9l-2.2 -1.3zM284.1 302.1l2.2 1.3l-1.3 2.2l-2.2 -1.3zM300.9 309.9l3.3 2.0l-1.1 1.8l-3.3 -2.0zM271.1 308.3l2.2 1.3l-1.7 2.9l-2.2 -1.3zM302.4 306.4l4.5 2.7l-1.7 2.9l-4.5 -2.7zM300.0 308.0l2.2 1.3l-1.3 2.2l-2.2 -1.3zM294.2 307.8l2.2 1.3l-1.1 1.8l-2.2 -1.3zM294.7 304.1l2.2 1.3l-1.7 2.9l-2.2 -1.3zM290.9 301.9l3.3 2.0l-1.1 1.8l-3.3 -2.0zM282.5 313.5l4.5 2.7l-1.1 1.8l-4.5 -2.7zM299.4 318.7l2.2 1.3l-1.3 2.2l-2.2 -1.3zM298.2 317.8l4.5 2.7l-1.7 2.9l-4.5 -2.7zM307.1 312.2l2.2 1.3l-1.7 2.9l-2.2 -1.3zM266.9 311.1l3.3 2.0l-1.3 2.2l-3.3 -2.0zM296.6 316.6l3.3 2.0l-1.7 2.9l-3.3 -2.0zM275.9 315.9l2.2 1.3l-1.7 2.9l-2.2 -1.3zM273.8 317.1l4.5 2.7l-1.7 2.9l-4.5 -2.7zM280.7 314.1l2.2 1.3l-1.1 1.8l-2.2 -1.3zM280.0 313.5l2.2 1.3l-1.1 1.8l-2.2 -1.3zM308.8 313.3l2.2 1.3l-1.1 1.8l-2.2 -1.3zM287.9 314.2l2.2 1.3l-1.1 1.8l-2.2 -1.3zM271.6 306.7l2.2 1.3l-1.3 2.2l-2.2 -1.3zM289.7 314.1l2.2 1.3l-1.3 2.2l-2.2 -1.3zM295.8 302.3l3.3 2.0l-1.1 1.8l-3.3 -2.0zM288.5 315.4l4.5 2.7l-1.7 2.9l-4.5 -2.7zM284.8 305.5l2.2 1.3l-1.1 1.8l-2.2 -1.3zM275.5 310.2l2.2 1.3l-1.1 1.8l-2.2 -1.3z"/><path fill="#9cbffc" d="M288.9 312.9l2.2 1.3l-1.3 2.2l-2.2 -1.3zM284.3 306.7l2.2 1.3l-1.1 1.8l-2.2 -1.3zM293.8 308.1l3.3 2.0l-1.7 2.9l-3.3 -2.0zM298.7 319.0l2.2 1.3l-1.7 2.9l-2.2 -1.3zM286.0 309.5l3.3 2.0l-1.1 1.8l-3.3 -2.0zM284.6 302.6l2.2 1.3l-1.3 2.2l-2.2 -1.3zM285.3 305.0l3.3 2.0l-1.3 2.2l-3.3 -2.0zM273.2 309.9l3.3 2.0l-1.7 2.9l-3.3 -2.0zM290.7 305.0l3.3 2.0l-1.7 2.9l-3.3 -2.0zM297.1 317.9l3.3 2.0l-1.7 2.9l-3.3 -2.0zM291.0 313.8l2.2 1.3l-1.1 1.8l-2.2 -1.3zM270.9 315.2l2.2 1.3l-1.1 1.8l-2.2 -1.3z"/><path fill="#a0a0a0" d="M270.2 309.0l4.5 2.7l-1.7 2.9l-4.5 -2.7zM282.8 310.4l2.2 1.3l-1.7 2.9l-2.2 -1.3zM293.4 302.9l4.5 2.7l-1.7 2.9l-4.5 -2.7zM299.6 312.4l2.2 1.3l-1.7 2.9l-2.2 -1.3zM273.1 315.5l2.2 1.3l-1.7 2.9l-2.2 -1.3zM278.1 317.4l2.2 1.3l-1.7 2.9l-2.2 -1.3zM290.7 302.4l2.2 1.3l-1.1 1.8l-2.2 -1.3zM280.6 320.4l4.5 2.7l-1.3 2.2l-4.5 -2.7zM286.2 301.6l3.3 2.0l-1.1 1.8l-3.3 -2.0zM282.9 306.6l2.2 1.3l-1.7 2.9l-2.2 -1.3zM296.2 307.6l2.2 1.3l-1.7 2.9l-2.2 -1.3zM287.2 302.6l4.5 2.7l-1.7 2.9l-4.5 -2.7zM284.9 319.7l3.3 2.0l-1.7 2.9l-3.3 -2.0zM299.7 303.9l2.2 1.3l-1.7 2.9l-2.2 -1.3zM294.8 311.4l3.3 2.0l-1.3 2.2l-3.3 -2.0z"/><path fill="#2a50f8" d="M304.6 312.8l4.5 2.7l-1.7 2.9l-4.5 -2.7zM290.2 319.1l3.3 2.0l-1.7 2.9l-3.3 -2.0zM304.1 307.3l4.5 2.7l-1.7 2.9l-4.5 -2.7zM307.3 311.9l2.2 1.3l-1.7 2.9l-2.2 -1.3zM302.6 317.0l4.5 2.7l-1.3 2.2l-4.5 -2.7zM302.0 306.9l2.2 1.3l-1.1 1.8l-2.2 -1.3zM290.3 307.3l2.2 1.3l-1.7 2.9l-2.2 -1.3zM289.3 315.7l3.3 2.0l-1.3 2.2l-3.3 -2.0zM297.7 309.6l4.5 2.7l-1.3 2.2l-4.5 -2.7zM286.9 317.2l4.5 2.7l-1.1 1.8l-4.5 -2.7zM301.2 307.8l3.3 2.0l-1.1 1.8l-3.3 -2.0zM270.2 316.1l2.2 1.3l-1.7 2.9l-2.2 -1.3zM274.9 308.9l2.2 1.3l-1.3 2.2l-2.2 -1.3z"/><polygon points="219.0,250.5 253.0,272.5 252.0,276.0 218.0,254.0" fill="#3060f0" fill-opacity="0.7"/><path fill="#0000ff" d="M246.2 271.0l4.3 2.6l-1.3 2.1l-4.3 -2.6zM223.0 255.7l2.1 1.3l-1.3 2.1l-2.1 -1.3zM237.8 264.6l3.2 1.9l-1.3 2.1l-3.2 -1.9zM248.6 273.4l2.1 1.3l-1.3 2.1l-2.1 -1.3zM244.7 267.4l3.2 1.9l-1.7 2.8l-3.2 -1.9zM228.4 259.8l4.3 2.6l-1.3 2.1l-4.3 -2.6zM249.5 273.3l3.2 1.9l-1.7 2.8l-3.2 -1.9z"/><path fill="#9cbffc" d="M230.8 259.5l3.2 1.9l-1.3 2.1l-3.2 -1.9zM232.6 260.0l2.1 1.3l-1.0 1.7l-2.1 -1.3zM238.9 264.3l4.3 2.6l-1.7 2.8l-4.3 -2.6z"/><path fill="#ffd800" d="M250.5 271.4l3.2 1.9l-1.7 2.8l-3.2 -1.9zM242.9 270.1l4.3 2.6l-1.3 2.1l-4.3 -2.6zM234.2 261.4l2.1 1.3l-1.0 1.7l-2.1 -1.3zM238.2 264.7l4.3 2.6l-1.0 1.7l-4.3 -2.6zM223.1 253.6l2.1 1.3l-1.7 2.8l-2.1 -1.3z"/><path fill="#ffd800" d="M279.7 270.1l3.2 1.9l-1.7 2.8l-3.2 -1.9zM277.6 268.5l3.2 1.9l-1.7 2.8l-3.2 -1.9zM278.3 272.6l2.1 1.3l-1.3 2.1l-2.1 -1.3zM276.6 269.9l2.1 1.3l-1.0 1.7l-2.1 -1.3zM275.1 272.2l3.2 1.9l-1.7 2.8l-3.2 -1.9z"/><path fill="#0000ff" d="M275.7 271.1l4.3 2.6l-1.7 2.8l-4.3 -2.6zM278.0 274.6l4.3 2.6l-1.3 2.1l-4.3 -2.6zM280.0 270.7l2.1 1.3l-1.0 1.7l-2.1 -1.3z"/><path fill="#58a6fc" d="M279.4 272.0l2.1 1.3l-1.3 2.1l-2.1 -1.3zM277.3 270.8l3.2 1.9l-1.0 1.7l-3.2 -1.9z"/><path fill="#82e082" d="M275.1 275.0l2.1 1.3l-1.0 1.7l-2.1 -1.3zM279.0 276.4l2.1 1.3l-1.3 2.1l-2.1 -1.3z"/><path fill="#82e082" d="M280.5 279.9l4.3 2.6l-1.0 1.7l-4.3 -2.6zM279.9 281.1l4.3 2.6l-1.0 1.7l-4.3 -2.6zM278.0 285.2l2.1 1.3l-1.7 2.8l-2.1 -1.3z"/><path fill="#58a6fc" d="M278.3 283.0l2.1 1.3l-1.7 2.8l-2.1 -1.3zM277.8 284.1l4.3 2.6l-1.3 2.1l-4.3 -2.6zM276.8 283.5l2.1 1.3l-1.0 1.7l-2.1 -1.3zM279.8 281.7l2.1 1.3l-1.7 2.8l-2.1 -1.3z"/><path fill="#ffd800" d="M278.4 280.0l4.3 2.6l-1.3 2.1l-4.3 -2.6zM279.8 284.0l4.3 2.6l-1.7 2.8l-4.3 -2.6zM278.7 283.3l2.1 1.3l-1.3 2.1l-2.1 -1.3zM280.2 281.2l2.1 1.3l-1.7 2.8l-2.1 -1.3z"/><path fill="#0000ff" d="M276.5 281.5l3.2 1.9l-1.0 1.7l-3.2 -1.9z"/><path fill="#82e082" d="M285.6 294.7l4.3 2.6l-1.3 2.1l-4.3 -2.6zM284.0 293.7l2.1 1.3l-1.0 1.7l-2.1 -1.3z"/><path fill="#58a6fc" d="M288.8 286.1l4.3 2.6l-1.0 1.7l-4.3 -2.6zM284.1 287.2l4.3 2.6l-1.7 2.8l-4.3 -2.6zM282.5 287.9l4.3 2.6l-1.3 2.1l-4.3 -2.6zM289.1 285.1l3.2 1.9l-1.0 1.7l-3.2 -1.9z"/><path fill="#ffd800" d="M284.6 299.7l4.3 2.6l-1.3 2.1l-4.3 -2.6zM280.8 287.2l2.1 1.3l-1.7 2.8l-2.1 -1.3zM290.5 288.3l2.1 1.3l-1.7 2.8l-2.1 -1.3z"/><path fill="#0000ff" d="M283.0 292.9l3.2 1.9l-1.7 2.8l-3.2 -1.9zM282.7 295.2l3.2 1.9l-1.7 2.8l-3.2 -1.9zM288.0 285.0l3.2 1.9l-1.0 1.7l-3.2 -1.9z"/><path fill="#0000ff" d="M283.2 253.5l2.1 1.3l-1.3 2.1l-2.1 -1.3zM285.3 259.2l2.1 1.3l-1.0 1.7l-2.1 -1.3zM280.7 253.5l2.1 1.3l-1.0 1.7l-2.1 -1.3z"/><path fill="#82e082" d="M278.8 254.1l3.2 1.9l-1.3 2.1l-3.2 -1.9zM277.9 256.9l2.1 1.3l-1.0 1.7l-2.1 -1.3zM280.9 257.3l2.1 1.3l-1.0 1.7l-2.1 -1.3z"/><path fill="#ffd800" d="M281.0 253.0l3.2 1.9l-1.7 2.8l-3.2 -1.9zM280.3 256.1l2.1 1.3l-1.3 2.1l-2.1 -1.3z"/><path fill="#58a6fc" d="M286.3 256.4l2.1 1.3l-1.7 2.8l-2.1 -1.3zM281.7 253.9l2.1 1.3l-1.7 2.8l-2.1 -1.3zM284.6 252.1l2.1 1.3l-1.3 2.1l-2.1 -1.3zM279.6 257.5l3.2 1.9l-1.7 2.8l-3.2 -1.9z"/><path fill="#58a6fc" d="M193.5 191.3l3.3 2.0l-1.7 2.9l-3.3 -2.0zM194.0 192.4l3.3 2.0l-1.3 2.2l-3.3 -2.0zM197.9 192.1l2.2 1.3l-1.3 2.2l-2.2 -1.3zM213.4 189.5l3.3 2.0l-1.7 2.9l-3.3 -2.0zM196.3 188.8l4.5 2.7l-1.7 2.9l-4.5 -2.7zM194.6 176.9l2.2 1.3l-1.3 2.2l-2.2 -1.3zM215.5 190.8l3.3 2.0l-1.7 2.9l-3.3 -2.0zM199.2 181.5l2.2 1.3l-1.7 2.9l-2.2 -1.3zM213.8 189.1l4.5 2.7l-1.7 2.9l-4.5 -2.7zM200.7 194.3l2.2 1.3l-1.1 1.8l-2.2 -1.3zM203.1 186.7l2.2 1.3l-1.7 2.9l-2.2 -1.3z"/><path fill="#0000ff" d="M201.3 190.0l3.3 2.0l-1.3 2.2l-3.3 -2.0zM197.5 193.4l2.2 1.3l-1.1 1.8l-2.2 -1.3zM196.0 189.5l2.2 1.3l-1.1 1.8l-2.2 -1.3zM214.5 190.4l4.5 2.7l-1.7 2.9l-4.5 -2.7zM202.8 184.3l2.2 1.3l-1.1 1.8l-2.2 -1.3zM205.2 188.4l4.5 2.7l-1.1 1.8l-4.5 -2.7zM212.5 187.1l2.2 1.3l-1.3 2.2l-2.2 -1.3z"/><path fill="#ffd800" d="M203.4 191.6l4.5 2.7l-1.3 2.2l-4.5 -2.7zM215.2 189.6l2.2 1.3l-1.1 1.8l-2.2 -1.3zM204.4 189.1l2.2 1.3l-1.3 2.2l-2.2 -1.3zM215.7 189.1l3.3 2.0l-1.1 1.8l-3.3 -2.0zM199.0 182.6l3.3 2.0l-1.3 2.2l-3.3 -2.0zM197.7 181.3l3.3 2.0l-1.7 2.9l-3.3 -2.0zM202.0 191.2l2.2 1.3l-1.7 2.9l-2.2 -1.3zM199.8 178.5l2.2 1.3l-1.7 2.9l-2.2 -1.3zM206.4 190.0l2.2 1.3l-1.3 2.2l-2.2 -1.3z"/><path fill="#9cbffc" d="M201.4 190.9l4.5 2.7l-1.3 2.2l-4.5 -2.7zM199.9 188.1l3.3 2.0l-1.1 1.8l-3.3 -2.0zM201.6 184.7l2.2 1.3l-1.7 2.9l-2.2 -1.3zM201.3 192.5l2.2 1.3l-1.3 2.2l-2.2 -1.3zM220.9 191.0l2.2 1.3l-1.7 2.9l-2.2 -1.3zM219.8 192.8l3.3 2.0l-1.3 2.2l-3.3 -2.0zM221.5 193.5l3.3 2.0l-1.7 2.9l-3.3 -2.0zM200.7 185.1l2.2 1.3l-1.7 2.9l-2.2 -1.3zM194.5 191.3l2.2 1.3l-1.1 1.8l-2.2 -1.3z"/><path fill="#82e082" d="M194.5 192.2l2.2 1.3l-1.1 1.8l-2.2 -1.3zM198.6 184.0l3.3 2.0l-1.7 2.9l-3.3 -2.0zM214.4 192.0l3.3 2.0l-1.1 1.8l-3.3 -2.0zM198.8 181.2l4.5 2.7l-1.1 1.8l-4.5 -2.7z"/><path fill="#0000ff" d="M253.7 267.9l2.8 1.7l-0.9 1.5l-2.8 -1.7zM218.1 275.3l1.9 1.1l-0.9 1.5l-1.9 -1.1zM271.8 295.5l1.9 1.1l-1.1 1.9l-1.9 -1.1zM249.4 243.3l1.9 1.1l-1.1 1.9l-1.9 -1.1zM196.1 215.0l2.8 1.7l-1.5 2.5l-2.8 -1.7zM251.3 287.3l1.9 1.1l-1.5 2.5l-1.9 -1.1zM265.7 307.3l1.9 1.1l-0.9 1.5l-1.9 -1.1zM230.7 260.6l1.9 1.1l-0.9 1.5l-1.9 -1.1zM245.7 259.0l1.9 1.1l-0.9 1.5l-1.9 -1.1zM183.1 228.6l1.9 1.1l-1.1 1.9l-1.9 -1.1zM266.4 253.8l1.9 1.1l-1.1 1.9l-1.9 -1.1zM246.5 309.0l2.8 1.7l-0.9 1.5l-2.8 -1.7z"/><path fill="#9cbffc" d="M281.8 254.9l1.9 1.1l-0.9 1.5l-1.9 -1.1zM218.5 230.7l3.8 2.3l-0.9 1.5l-3.8 -2.3zM202.4 226.8l1.9 1.1l-1.1 1.9l-1.9 -1.1zM283.9 299.3l3.8 2.3l-0.9 1.5l-3.8 -2.3zM283.4 300.1l3.8 2.3l-1.1 1.9l-3.8 -2.3zM249.2 224.6l1.9 1.1l-1.5 2.5l-1.9 -1.1zM259.4 274.7l2.8 1.7l-0.9 1.5l-2.8 -1.7zM197.2 206.6l1.9 1.1l-0.9 1.5l-1.9 -1.1zM272.6 275.8l1.9 1.1l-1.1 1.9l-1.9 -1.1zM216.1 257.2l1.9 1.1l-1.5 2.5l-1.9 -1.1zM274.6 256.5l1.9 1.1l-1.5 2.5l-1.9 -1.1zM262.8 241.6l1.9 1.1l-0.9 1.5l-1.9 -1.1zM239.7 252.0l1.9 1.1l-1.1 1.9l-1.9 -1.1zM259.8 311.1l1.9 1.1l-1.1 1.9l-1.9 -1.1zM226.4 262.4l1.9 1.1l-1.5 2.5l-1.9 -1.1zM269.7 232.6l3.8 2.3l-1.1 1.9l-3.8 -2.3zM251.8 261.6l1.9 1.1l-1.1 1.9l-1.9 -1.1zM224.4 252.4l1.9 1.1l-1.5 2.5l-1.9 -1.1zM294.6 296.3l1.9 1.1l-0.9 1.5l-1.9 -1.1z"/><path fill="#82e082" d="M286.5 244.1l1.9 1.1l-1.1 1.9l-1.9 -1.1zM224.3 240.2l2.8 1.7l-0.9 1.5l-2.8 -1.7zM271.2 326.0l2.8 1.7l-0.9 1.5l-2.8 -1.7zM287.4 248.2l2.8 1.7l-1.5 2.5l-2.8 -1.7zM244.3 274.4l3.8 2.3l-1.1 1.9l-3.8 -2.3zM241.2 223.2l3.8 2.3l-1.5 2.5l-3.8 -2.3zM257.3 257.9l1.9 1.1l-1.1 1.9l-1.9 -1.1zM264.8 268.7l1.9 1.1l-1.5 2.5l-1.9 -1.1zM278.5 282.7l1.9 1.1l-0.9 1.5l-1.9 -1.1zM283.9 269.4l2.8 1.7l-1.5 2.5l-2.8 -1.7zM234.3 301.1l2.8 1.7l-1.1 1.9l-2.8 -1.7zM198.4 238.0l1.9 1.1l-1.5 2.5l-1.9 -1.1zM219.7 215.4l1.9 1.1l-1.1 1.9l-1.9 -1.1z"/><path fill="#58a6fc" d="M235.3 248.4l1.9 1.1l-0.9 1.5l-1.9 -1.1zM263.4 255.6l1.9 1.1l-0.9 1.5l-1.9 -1.1zM291.5 279.2l1.9 1.1l-0.9 1.5l-1.9 -1.1zM285.5 284.3l2.8 1.7l-1.1 1.9l-2.8 -1.7zM214.2 233.2l1.9 1.1l-1.1 1.9l-1.9 -1.1zM182.5 217.9l2.8 1.7l-1.5 2.5l-2.8 -1.7zM262.4 312.6l1.9 1.1l-1.5 2.5l-1.9 -1.1zM299.9 286.1l3.8 2.3l-0.9 1.5l-3.8 -2.3zM295.6 267.5l1.9 1.1l-1.1 1.9l-1.9 -1.1zM250.9 240.2l1.9 1.1l-1.5 2.5l-1.9 -1.1zM211.9 228.3l3.8 2.3l-1.5 2.5l-3.8 -2.3zM220.7 247.4l3.8 2.3l-0.9 1.5l-3.8 -2.3zM300.0 275.0l1.9 1.1l-1.1 1.9l-1.9 -1.1zM250.1 242.9l1.9 1.1l-0.9 1.5l-1.9 -1.1zM245.3 271.6l1.9 1.1l-1.1 1.9l-1.9 -1.1zM221.3 275.9l2.8 1.7l-1.5 2.5l-2.8 -1.7z"/><polygon points="73.5,109.9 77.6,110.6 77.6,115.3 76.3,119.4 72.2,123.5 68.1,126.8 65.4,127.5 64.1,123.5 65.4,120.7 71.5,116.0" fill="#3a60f0" fill-opacity="0.9"/><path fill="#0000ff" d="M71.0 120.4l2.1 1.3l-1.7 2.8l-2.1 -1.3zM77.3 112.7l4.3 2.6l-1.7 2.8l-4.3 -2.6zM74.6 118.2l2.1 1.3l-1.7 2.8l-2.1 -1.3zM73.1 120.8l2.1 1.3l-1.3 2.1l-2.1 -1.3zM75.0 111.8l2.1 1.3l-1.7 2.8l-2.1 -1.3zM68.7 123.0l3.2 1.9l-1.0 1.7l-3.2 -1.9zM70.1 124.1l3.2 1.9l-1.7 2.8l-3.2 -1.9zM71.4 117.8l2.1 1.3l-1.0 1.7l-2.1 -1.3zM71.6 122.8l2.1 1.3l-1.3 2.1l-2.1 -1.3z"/><path fill="#ffd800" d="M69.2 121.0l3.2 1.9l-1.3 2.1l-3.2 -1.9zM69.1 119.4l4.3 2.6l-1.3 2.1l-4.3 -2.6z"/><path fill="#9cbffc" d="M72.7 120.8l4.3 2.6l-1.3 2.1l-4.3 -2.6zM74.8 116.3l2.1 1.3l-1.0 1.7l-2.1 -1.3zM68.0 123.9l2.1 1.3l-1.3 2.1l-2.1 -1.3zM74.9 117.2l2.1 1.3l-1.0 1.7l-2.1 -1.3z"/><polygon points="57.3,128.0 61.0,127.5 63.4,131.0 60.0,132.3 57.5,131.0" fill="#2040f0" fill-opacity="0.9"/><polygon points="85.0,133.5 91.8,132.9 91.0,136.3 85.5,136.0" fill="#6a9cf4" fill-opacity="0.8"/><path fill="#82e082" d="M88.5 133.8l3.8 2.3l-1.5 2.5l-3.8 -2.3zM88.1 134.1l2.8 1.7l-0.9 1.5l-2.8 -1.7zM90.1 133.4l3.8 2.3l-1.1 1.9l-3.8 -2.3z"/><path fill="#0000ff" d="M88.6 135.2l1.9 1.1l-1.1 1.9l-1.9 -1.1zM88.6 135.1l1.9 1.1l-1.5 2.5l-1.9 -1.1zM90.8 133.3l1.9 1.1l-0.9 1.5l-1.9 -1.1z"/><path fill="#9cbffc" d="M87.3 135.4l1.9 1.1l-1.5 2.5l-1.9 -1.1zM90.5 134.3l3.8 2.3l-1.1 1.9l-3.8 -2.3z"/><polygon points="95.0,134.0 98.0,133.5 98.0,137.5 95.0,137.5" fill="#6a9cf4" fill-opacity="0.8"/><path fill="#0000ff" d="M95.9 136.6l3.8 2.3l-1.1 1.9l-3.8 -2.3zM95.1 136.6l2.8 1.7l-1.5 2.5l-2.8 -1.7zM96.8 133.9l1.9 1.1l-1.5 2.5l-1.9 -1.1zM95.6 134.4l1.9 1.1l-1.1 1.9l-1.9 -1.1zM97.2 136.6l3.8 2.3l-1.5 2.5l-3.8 -2.3z"/><path fill="#9cbffc" d="M97.1 136.2l3.8 2.3l-1.5 2.5l-3.8 -2.3zM97.7 135.5l1.9 1.1l-0.9 1.5l-1.9 -1.1z"/><path fill="#82e082" d="M97.3 134.2l2.8 1.7l-0.9 1.5l-2.8 -1.7z"/><polygon points="100.0,133.0 104.0,132.0 104.5,137.0 100.0,137.0" fill="#6a9cf4" fill-opacity="0.8"/><path fill="#0000ff" d="M101.9 134.0l1.9 1.1l-1.1 1.9l-1.9 -1.1z"/><path fill="#82e082" d="M100.6 135.9l1.9 1.1l-0.9 1.5l-1.9 -1.1zM103.6 132.9l3.8 2.3l-0.9 1.5l-3.8 -2.3zM103.6 134.7l2.8 1.7l-1.5 2.5l-2.8 -1.7zM102.4 132.4l1.9 1.1l-1.1 1.9l-1.9 -1.1z"/><path fill="#9cbffc" d="M103.1 135.8l2.8 1.7l-1.1 1.9l-2.8 -1.7zM104.1 134.9l1.9 1.1l-1.5 2.5l-1.9 -1.1zM100.3 133.4l1.9 1.1l-1.5 2.5l-1.9 -1.1z"/><polygon points="106.1,128.9 110.8,128.2 116.2,131.6 117.6,138.4 123.0,139.0 121.0,141.7 115.6,143.8 108.8,143.1 105.4,140.4 106.7,135.7" fill="#6a9cf4" fill-opacity="0.8"/><path fill="#82e082" d="M114.1 135.7l2.8 1.7l-1.5 2.5l-2.8 -1.7zM110.4 128.3l3.8 2.3l-0.9 1.5l-3.8 -2.3z"/><path fill="#0000ff" d="M117.6 139.8l1.9 1.1l-1.1 1.9l-1.9 -1.1zM107.0 141.6l3.8 2.3l-1.1 1.9l-3.8 -2.3zM108.6 129.3l1.9 1.1l-1.5 2.5l-1.9 -1.1z"/><path fill="#9cbffc" d="M111.1 142.5l2.8 1.7l-1.1 1.9l-2.8 -1.7zM106.7 134.4l1.9 1.1l-0.9 1.5l-1.9 -1.1zM109.8 134.3l2.8 1.7l-1.1 1.9l-2.8 -1.7z"/><polygon points="127.7,134.3 131.8,133.6 134.5,138.4 133.8,141.7 130.5,141.1 127.7,137.7" fill="#6a9cf4" fill-opacity="0.8"/><path fill="#82e082" d="M131.0 135.2l1.9 1.1l-0.9 1.5l-1.9 -1.1zM129.7 137.8l2.8 1.7l-1.1 1.9l-2.8 -1.7zM133.9 139.6l2.8 1.7l-1.5 2.5l-2.8 -1.7zM129.5 136.5l3.8 2.3l-1.5 2.5l-3.8 -2.3zM133.3 141.3l2.8 1.7l-1.5 2.5l-2.8 -1.7z"/><path fill="#9cbffc" d="M132.2 137.5l1.9 1.1l-1.1 1.9l-1.9 -1.1zM134.2 138.4l1.9 1.1l-0.9 1.5l-1.9 -1.1zM133.6 141.1l2.8 1.7l-1.5 2.5l-2.8 -1.7z"/><polygon points="115.6,125.0 121.0,125.5 120.0,128.9 116.0,128.5" fill="#6a9cf4" fill-opacity="0.8"/><path fill="#82e082" d="M119.2 127.4l2.8 1.7l-1.1 1.9l-2.8 -1.7zM118.8 125.6l2.8 1.7l-1.1 1.9l-2.8 -1.7zM117.5 126.2l2.8 1.7l-1.1 1.9l-2.8 -1.7zM117.0 128.0l2.8 1.7l-0.9 1.5l-2.8 -1.7z"/><path fill="#9cbffc" d="M117.2 127.8l2.8 1.7l-0.9 1.5l-2.8 -1.7zM116.6 128.1l1.9 1.1l-0.9 1.5l-1.9 -1.1z"/><path fill="#0000ff" d="M117.1 125.8l2.8 1.7l-1.5 2.5l-2.8 -1.7zM116.8 128.3l1.9 1.1l-1.5 2.5l-1.9 -1.1z"/><path fill="#a0a0a0" d="M461.9 353.0l1.9 1.1l-1.5 2.5l-1.9 -1.1zM462.6 358.9l1.9 1.1l-1.5 2.5l-1.9 -1.1zM460.0 356.0l1.9 1.1l-1.5 2.5l-1.9 -1.1zM459.3 355.5l3.8 2.3l-1.5 2.5l-3.8 -2.3z"/><path fill="#82e082" d="M461.6 358.8l1.9 1.1l-1.5 2.5l-1.9 -1.1zM459.0 357.6l1.9 1.1l-1.5 2.5l-1.9 -1.1zM458.6 360.1l3.8 2.3l-1.5 2.5l-3.8 -2.3zM456.9 354.4l3.8 2.3l-0.9 1.5l-3.8 -2.3zM457.8 359.1l1.9 1.1l-1.1 1.9l-1.9 -1.1z"/><path fill="#9cbffc" d="M456.7 359.1l3.8 2.3l-1.1 1.9l-3.8 -2.3z"/><path fill="#9cbffc" d="M482.5 417.9l3.8 2.3l-0.9 1.5l-3.8 -2.3zM473.8 425.3l3.8 2.3l-1.5 2.5l-3.8 -2.3zM475.8 418.9l2.8 1.7l-1.1 1.9l-2.8 -1.7zM479.6 425.0l3.8 2.3l-0.9 1.5l-3.8 -2.3z"/><path fill="#82e082" d="M484.8 428.3l2.8 1.7l-1.1 1.9l-2.8 -1.7zM477.6 421.5l1.9 1.1l-1.1 1.9l-1.9 -1.1z"/><path fill="#a0a0a0" d="M478.6 419.7l3.8 2.3l-0.9 1.5l-3.8 -2.3zM478.3 418.9l1.9 1.1l-1.5 2.5l-1.9 -1.1zM471.6 420.3l3.8 2.3l-1.1 1.9l-3.8 -2.3zM476.5 418.1l3.8 2.3l-1.5 2.5l-3.8 -2.3z"/><g stroke="#333" stroke-width="1.35" stroke-dasharray="3 5.27" fill="none"><line x1="68.60" y1="41" x2="68.60" y2="549"/><line x1="147.30" y1="41" x2="147.30" y2="549"/><line x1="226.00" y1="41" x2="226.00" y2="549"/><line x1="304.70" y1="41" x2="304.70" y2="549"/><line x1="383.40" y1="41" x2="383.40" y2="549"/><line x1="462.10" y1="41" x2="462.10" y2="549"/><line x1="13" y1="67.20" x2="486" y2="67.20"/><line x1="13" y1="151.70" x2="486" y2="151.70"/><line x1="13" y1="236.20" x2="486" y2="236.20"/><line x1="13" y1="320.70" x2="486" y2="320.70"/><line x1="13" y1="405.20" x2="486" y2="405.20"/><line x1="13" y1="489.70" x2="486" y2="489.70"/></g><g stroke="#000" stroke-width="1.25" stroke-dasharray="12.2 11.5" fill="none"><path d="M13.00,55.89 Q249.00,216.18 485.00,343.32"/><path d="M13.00,152.94 Q249.50,312.51 486.00,436.77"/></g><g style="font-family:'Liberation Sans',sans-serif" font-size="12.5" fill="#000"><text x="68.60" y="300.2" text-anchor="middle">54</text><text x="147.30" y="300.2" text-anchor="middle">56</text><text x="226.00" y="300.2" text-anchor="middle">58</text><text x="304.70" y="300.2" text-anchor="middle">60</text><text x="383.40" y="300.2" text-anchor="middle">62</text><text x="462.10" y="300.2" text-anchor="middle">64</text><text x="235.5" y="66.70">-16</text><text x="235.5" y="151.20">-18</text><text x="235.5" y="235.70">-20</text><text x="235.5" y="320.20">-22</text><text x="235.5" y="404.70">-24</text><text x="235.5" y="489.20">-26</text></g><path d="M242.8,294.5 H255.8 M249.3,288.0 V301.0" stroke="#000" stroke-width="5" fill="none"/><text x="37.3" y="65.5" style="font-family:'Liberation Sans',sans-serif" font-size="25" fill="#000">PR near surface reflectivity (dBZ)</text><text x="438.5" y="522.7" style="font-family:'Liberation Sans',sans-serif" font-size="30" fill="#000">(a)</text><rect x="495" y="531.54" width="9" height="8.86" fill="#f6f6f6"/><rect x="495" y="523.08" width="9" height="8.86" fill="#eeeeee"/><rect x="495" y="514.63" width="9" height="8.86" fill="#e6e6e6"/><rect x="495" y="506.17" width="9" height="8.86" fill="#dedede"/><rect x="495" y="497.71" width="9" height="8.86" fill="#d6d6d6"/><rect x="495" y="489.25" width="9" height="8.86" fill="#cecece"/><rect x="495" y="480.80" width="9" height="8.86" fill="#c6c6c6"/><rect x="495" y="472.34" width="9" height="8.86" fill="#bfbfbf"/><rect x="495" y="463.88" width="9" height="8.86" fill="#b7b7b7"/><rect x="495" y="455.42" width="9" height="8.86" fill="#afafaf"/><rect x="495" y="446.97" width="9" height="8.86" fill="#a7a7a7"/><rect x="495" y="438.51" width="9" height="8.86" fill="#9f9f9f"/><rect x="495" y="430.05" width="9" height="8.86" fill="#979797"/><rect x="495" y="421.59" width="9" height="8.86" fill="#8f8f8f"/><rect x="495" y="413.14" width="9" height="8.86" fill="#82e082"/><rect x="495" y="404.68" width="9" height="8.86" fill="#7ad67a"/><rect x="495" y="396.22" width="9" height="8.86" fill="#72cc72"/><rect x="495" y="387.76" width="9" height="8.86" fill="#6ac26a"/><rect x="495" y="379.31" width="9" height="8.86" fill="#62b862"/><rect x="495" y="370.85" width="9" height="8.86" fill="#ccd4fc"/><rect x="495" y="362.39" width="9" height="8.86" fill="#b4c8fc"/><rect x="495" y="353.93" width="9" height="8.86" fill="#9cbffc"/><rect x="495" y="345.47" width="9" height="8.86" fill="#88b6fc"/><rect x="495" y="337.02" width="9" height="8.86" fill="#70aefc"/><rect x="495" y="328.56" width="9" height="8.86" fill="#58a6fc"/><rect x="495" y="320.10" width="9" height="8.86" fill="#4a94f8"/><rect x="495" y="311.64" width="9" height="8.86" fill="#4080f4"/><rect x="495" y="303.19" width="9" height="8.86" fill="#3868f6"/><rect x="495" y="294.73" width="9" height="8.86" fill="#3050f8"/><rect x="495" y="286.27" width="9" height="8.86" fill="#2838f8"/><rect x="495" y="277.81" width="9" height="8.86" fill="#0000ff"/><rect x="495" y="269.36" width="9" height="8.86" fill="#0000ee"/><rect x="495" y="260.90" width="9" height="8.86" fill="#0000dd"/><rect x="495" y="252.44" width="9" height="8.86" fill="#0000cc"/><rect x="495" y="243.98" width="9" height="8.86" fill="#ffff00"/><rect x="495" y="235.53" width="9" height="8.86" fill="#fff200"/><rect x="495" y="227.07" width="9" height="8.86" fill="#ffe600"/><rect x="495" y="218.61" width="9" height="8.86" fill="#ffd900"/><rect x="495" y="210.15" width="9" height="8.86" fill="#ffcc00"/><rect x="495" y="201.69" width="9" height="8.86" fill="#ff8400"/><rect x="495" y="193.24" width="9" height="8.86" fill="#ff7e00"/><rect x="495" y="184.78" width="9" height="8.86" fill="#ff7800"/><rect x="495" y="176.32" width="9" height="8.86" fill="#ff7200"/><rect x="495" y="167.86" width="9" height="8.86" fill="#ff6c00"/><rect x="495" y="159.41" width="9" height="8.86" fill="#ff4000"/><rect x="495" y="150.95" width="9" height="8.86" fill="#ff3400"/><rect x="495" y="142.49" width="9" height="8.86" fill="#ff2800"/><rect x="495" y="134.03" width="9" height="8.86" fill="#ff1c00"/><rect x="495" y="125.58" width="9" height="8.86" fill="#ff1000"/><rect x="495" y="117.12" width="9" height="8.86" fill="#cc0000"/><rect x="495" y="108.66" width="9" height="8.86" fill="#c10000"/><rect x="495" y="100.20" width="9" height="8.86" fill="#b60000"/><rect x="495" y="91.75" width="9" height="8.86" fill="#ab0000"/><rect x="495" y="83.29" width="9" height="8.86" fill="#a00000"/><rect x="495" y="74.83" width="9" height="8.86" fill="#640a04"/><rect x="495" y="66.37" width="9" height="8.86" fill="#600e08"/><rect x="495" y="57.92" width="9" height="8.86" fill="#5c110c"/><rect x="495" y="49.46" width="9" height="8.86" fill="#581410"/><rect x="495" y="41.00" width="9" height="8.86" fill="#541814"/><g stroke="#000" stroke-width="1"><line x1="504" y1="548.50" x2="507" y2="548.50"/><line x1="504" y1="497.70" x2="507" y2="497.70"/><line x1="504" y1="446.90" x2="507" y2="446.90"/><line x1="504" y1="396.10" x2="507" y2="396.10"/><line x1="504" y1="345.30" x2="507" y2="345.30"/><line x1="504" y1="294.50" x2="507" y2="294.50"/><line x1="504" y1="243.70" x2="507" y2="243.70"/><line x1="504" y1="192.90" x2="507" y2="192.90"/><line x1="504" y1="142.10" x2="507" y2="142.10"/><line x1="504" y1="91.30" x2="507" y2="91.30"/></g><g style="font-family:'Liberation Sans',sans-serif" font-size="20" fill="#000" text-anchor="middle"><text x="524.3" y="557.10">0</text><text x="524.3" y="506.30">6</text><text x="524.3" y="455.50">12</text><text x="524.3" y="404.70">18</text><text x="524.3" y="353.90">24</text><text x="524.3" y="303.10">30</text><text x="524.3" y="252.30">36</text><text x="524.3" y="201.50">42</text><text x="524.3" y="150.70">48</text><text x="524.3" y="99.90">54</text></g>
</g>
<g transform="translate(590.333,0.000)">
<polygon points="308.6,245.7 325.5,250.9 367.1,278.2 364.5,287.3 372.3,295.1 369.7,302.9 358.0,305.5 348.9,302.9 338.5,310.6 334.6,319.7 330.7,326.2 315.1,327.5 302.1,334.0 294.4,328.8 307.3,322.3 309.9,315.8 312.5,309.4 307.3,300.3 299.5,297.7 298.2,283.4 299.5,267.8 307.3,262.6 307.3,254.8" fill="#4a70f0" stroke="#000" stroke-width="1.3" stroke-linejoin="round"/><clipPath id="clipBM"><polygon points="308.6,245.7 325.5,250.9 367.1,278.2 364.5,287.3 372.3,295.1 369.7,302.9 358.0,305.5 348.9,302.9 338.5,310.6 334.6,319.7 330.7,326.2 315.1,327.5 302.1,334.0 294.4,328.8 307.3,322.3 309.9,315.8 312.5,309.4 307.3,300.3 299.5,297.7 298.2,283.4 299.5,267.8 307.3,262.6 307.3,254.8"/></clipPath><g clip-path="url(#clipBM)"><path fill="#2a50f8" d="M299.6 274.5l4.1 2.5l-1.6 2.7l-4.1 -2.5zM351.1 288.9l2.7 1.6l-1.3 2.2l-2.7 -1.6zM307.5 283.6l5.5 3.3l-1.6 2.7l-5.5 -3.3zM315.4 288.3l2.7 1.6l-1.6 2.7l-2.7 -1.6zM336.8 283.0l2.7 1.6l-2.1 3.6l-2.7 -1.6zM320.8 274.5l5.5 3.3l-1.6 2.7l-5.5 -3.3zM345.2 305.6l2.7 1.6l-2.1 3.6l-2.7 -1.6zM365.4 280.8l2.7 1.6l-1.6 2.7l-2.7 -1.6zM312.9 281.2l4.1 2.5l-2.1 3.6l-4.1 -2.5zM335.3 287.7l5.5 3.3l-1.3 2.2l-5.5 -3.3zM309.2 279.0l4.1 2.5l-1.6 2.7l-4.1 -2.5zM350.2 271.6l2.7 1.6l-1.3 2.2l-2.7 -1.6zM353.1 276.5l2.7 1.6l-2.1 3.6l-2.7 -1.6zM321.3 279.6l2.7 1.6l-1.3 2.2l-2.7 -1.6zM314.8 303.6l4.1 2.5l-2.1 3.6l-4.1 -2.5zM311.4 315.0l2.7 1.6l-1.3 2.2l-2.7 -1.6zM299.2 284.5l2.7 1.6l-1.6 2.7l-2.7 -1.6zM334.5 282.6l4.1 2.5l-1.3 2.2l-4.1 -2.5zM327.8 280.2l2.7 1.6l-1.6 2.7l-2.7 -1.6zM312.1 288.2l2.7 1.6l-1.3 2.2l-2.7 -1.6zM339.2 298.8l5.5 3.3l-1.3 2.2l-5.5 -3.3zM337.8 310.9l2.7 1.6l-1.6 2.7l-2.7 -1.6zM339.2 280.2l2.7 1.6l-1.6 2.7l-2.7 -1.6zM312.8 260.7l4.1 2.5l-1.6 2.7l-4.1 -2.5zM324.8 295.9l2.7 1.6l-2.1 3.6l-2.7 -1.6zM345.6 295.1l5.5 3.3l-1.6 2.7l-5.5 -3.3zM316.7 308.1l4.1 2.5l-1.6 2.7l-4.1 -2.5zM313.0 264.7l5.5 3.3l-1.6 2.7l-5.5 -3.3zM340.5 306.5l2.7 1.6l-1.6 2.7l-2.7 -1.6zM330.2 297.1l2.7 1.6l-1.6 2.7l-2.7 -1.6zM333.1 256.0l4.1 2.5l-2.1 3.6l-4.1 -2.5zM329.4 308.6l2.7 1.6l-1.3 2.2l-2.7 -1.6zM320.2 276.8l5.5 3.3l-2.1 3.6l-5.5 -3.3zM301.9 291.3l2.7 1.6l-1.3 2.2l-2.7 -1.6zM361.7 304.3l5.5 3.3l-1.3 2.2l-5.5 -3.3zM307.0 263.1l2.7 1.6l-1.6 2.7l-2.7 -1.6zM331.3 268.4l4.1 2.5l-1.3 2.2l-4.1 -2.5zM322.1 292.0l4.1 2.5l-1.3 2.2l-4.1 -2.5z"/><path fill="#9cbffc" d="M331.0 312.3l5.5 3.3l-2.1 3.6l-5.5 -3.3zM326.4 308.4l4.1 2.5l-1.3 2.2l-4.1 -2.5zM320.5 323.9l2.7 1.6l-1.3 2.2l-2.7 -1.6zM358.6 281.3l2.7 1.6l-1.6 2.7l-2.7 -1.6zM349.2 281.0l2.7 1.6l-1.3 2.2l-2.7 -1.6zM354.1 289.0l2.7 1.6l-2.1 3.6l-2.7 -1.6zM316.8 306.6l5.5 3.3l-2.1 3.6l-5.5 -3.3zM315.5 302.5l2.7 1.6l-2.1 3.6l-2.7 -1.6zM335.7 313.3l2.7 1.6l-2.1 3.6l-2.7 -1.6zM321.3 250.3l4.1 2.5l-1.6 2.7l-4.1 -2.5zM366.8 301.7l5.5 3.3l-1.6 2.7l-5.5 -3.3zM337.7 262.5l2.7 1.6l-1.3 2.2l-2.7 -1.6zM337.7 294.1l2.7 1.6l-1.6 2.7l-2.7 -1.6zM327.5 262.6l4.1 2.5l-1.6 2.7l-4.1 -2.5zM327.0 314.2l2.7 1.6l-2.1 3.6l-2.7 -1.6zM315.7 299.8l2.7 1.6l-1.3 2.2l-2.7 -1.6zM310.8 256.4l5.5 3.3l-1.3 2.2l-5.5 -3.3zM344.4 281.5l2.7 1.6l-1.6 2.7l-2.7 -1.6zM301.9 282.3l4.1 2.5l-2.1 3.6l-4.1 -2.5zM346.9 300.8l2.7 1.6l-1.3 2.2l-2.7 -1.6zM306.2 265.6l2.7 1.6l-1.3 2.2l-2.7 -1.6zM315.3 256.1l5.5 3.3l-1.6 2.7l-5.5 -3.3zM305.1 265.9l2.7 1.6l-1.6 2.7l-2.7 -1.6zM332.5 261.2l2.7 1.6l-2.1 3.6l-2.7 -1.6zM307.3 264.1l5.5 3.3l-1.3 2.2l-5.5 -3.3zM355.8 275.1l2.7 1.6l-1.6 2.7l-2.7 -1.6zM343.2 295.9l4.1 2.5l-1.6 2.7l-4.1 -2.5zM311.5 316.6l2.7 1.6l-1.3 2.2l-2.7 -1.6zM326.8 317.9l4.1 2.5l-2.1 3.6l-4.1 -2.5zM337.3 278.5l5.5 3.3l-1.6 2.7l-5.5 -3.3zM355.6 277.1l2.7 1.6l-2.1 3.6l-2.7 -1.6zM337.3 264.6l4.1 2.5l-2.1 3.6l-4.1 -2.5z"/><path fill="#ffd800" d="M338.5 287.8l2.7 1.6l-1.3 2.2l-2.7 -1.6zM350.4 289.9l4.1 2.5l-1.6 2.7l-4.1 -2.5zM301.8 297.2l4.1 2.5l-2.1 3.6l-4.1 -2.5zM332.6 298.1l2.7 1.6l-1.3 2.2l-2.7 -1.6zM323.4 322.8l2.7 1.6l-1.3 2.2l-2.7 -1.6zM335.9 298.9l5.5 3.3l-1.3 2.2l-5.5 -3.3zM317.7 315.1l4.1 2.5l-1.3 2.2l-4.1 -2.5zM314.4 289.0l2.7 1.6l-2.1 3.6l-2.7 -1.6zM324.4 293.8l4.1 2.5l-1.6 2.7l-4.1 -2.5zM350.3 299.8l2.7 1.6l-1.6 2.7l-2.7 -1.6zM313.6 253.5l5.5 3.3l-2.1 3.6l-5.5 -3.3zM323.5 300.0l2.7 1.6l-1.6 2.7l-2.7 -1.6zM313.1 296.6l2.7 1.6l-2.1 3.6l-2.7 -1.6zM311.6 328.5l5.5 3.3l-2.1 3.6l-5.5 -3.3zM357.9 298.4l4.1 2.5l-2.1 3.6l-4.1 -2.5zM304.6 278.0l2.7 1.6l-1.3 2.2l-2.7 -1.6zM353.2 298.7l5.5 3.3l-1.6 2.7l-5.5 -3.3zM361.9 287.2l4.1 2.5l-1.3 2.2l-4.1 -2.5zM312.6 250.5l2.7 1.6l-2.1 3.6l-2.7 -1.6zM337.2 302.3l5.5 3.3l-1.3 2.2l-5.5 -3.3zM320.5 275.2l5.5 3.3l-2.1 3.6l-5.5 -3.3zM309.1 294.8l2.7 1.6l-1.3 2.2l-2.7 -1.6zM363.2 296.8l5.5 3.3l-1.3 2.2l-5.5 -3.3zM340.1 273.1l4.1 2.5l-2.1 3.6l-4.1 -2.5zM309.1 296.1l5.5 3.3l-2.1 3.6l-5.5 -3.3zM313.9 284.9l4.1 2.5l-2.1 3.6l-4.1 -2.5zM348.2 297.7l2.7 1.6l-1.3 2.2l-2.7 -1.6zM336.1 282.2l4.1 2.5l-1.6 2.7l-4.1 -2.5zM308.1 277.8l5.5 3.3l-1.3 2.2l-5.5 -3.3zM353.0 285.3l5.5 3.3l-2.1 3.6l-5.5 -3.3zM331.5 276.6l2.7 1.6l-1.6 2.7l-2.7 -1.6zM323.7 305.3l4.1 2.5l-2.1 3.6l-4.1 -2.5zM325.8 251.9l5.5 3.3l-1.6 2.7l-5.5 -3.3zM316.5 309.1l2.7 1.6l-2.1 3.6l-2.7 -1.6zM317.6 294.4l2.7 1.6l-2.1 3.6l-2.7 -1.6zM300.1 290.2l2.7 1.6l-2.1 3.6l-2.7 -1.6zM322.9 272.7l5.5 3.3l-2.1 3.6l-5.5 -3.3zM322.4 282.5l2.7 1.6l-1.3 2.2l-2.7 -1.6zM312.9 266.9l2.7 1.6l-1.6 2.7l-2.7 -1.6zM310.4 284.7l5.5 3.3l-1.6 2.7l-5.5 -3.3zM368.0 294.3l5.5 3.3l-2.1 3.6l-5.5 -3.3z"/><path fill="#ff9a00" d="M345.4 288.3l2.7 1.6l-2.1 3.6l-2.7 -1.6zM310.1 258.0l2.7 1.6l-2.1 3.6l-2.7 -1.6zM332.1 284.7l4.1 2.5l-1.6 2.7l-4.1 -2.5zM342.0 266.4l5.5 3.3l-1.6 2.7l-5.5 -3.3zM327.5 269.7l2.7 1.6l-1.6 2.7l-2.7 -1.6zM308.5 301.4l4.1 2.5l-1.6 2.7l-4.1 -2.5zM333.4 314.0l5.5 3.3l-1.6 2.7l-5.5 -3.3zM328.4 253.8l2.7 1.6l-1.3 2.2l-2.7 -1.6zM333.1 293.2l5.5 3.3l-1.6 2.7l-5.5 -3.3zM324.8 302.4l4.1 2.5l-2.1 3.6l-4.1 -2.5zM316.4 315.4l5.5 3.3l-1.3 2.2l-5.5 -3.3zM319.3 295.1l2.7 1.6l-1.3 2.2l-2.7 -1.6zM316.7 248.5l2.7 1.6l-2.1 3.6l-2.7 -1.6zM317.1 307.2l4.1 2.5l-1.6 2.7l-4.1 -2.5zM326.4 252.9l2.7 1.6l-1.3 2.2l-2.7 -1.6zM344.6 297.6l4.1 2.5l-1.6 2.7l-4.1 -2.5zM322.0 292.4l4.1 2.5l-1.3 2.2l-4.1 -2.5zM312.5 315.2l5.5 3.3l-2.1 3.6l-5.5 -3.3zM317.7 301.7l5.5 3.3l-1.6 2.7l-5.5 -3.3zM313.6 272.0l4.1 2.5l-2.1 3.6l-4.1 -2.5zM334.8 312.7l5.5 3.3l-1.6 2.7l-5.5 -3.3zM303.0 297.0l4.1 2.5l-2.1 3.6l-4.1 -2.5zM321.0 300.8l2.7 1.6l-2.1 3.6l-2.7 -1.6zM352.8 281.9l2.7 1.6l-1.6 2.7l-2.7 -1.6zM330.0 309.3l2.7 1.6l-1.6 2.7l-2.7 -1.6zM313.7 299.4l5.5 3.3l-2.1 3.6l-5.5 -3.3zM331.0 264.0l2.7 1.6l-1.6 2.7l-2.7 -1.6zM327.8 283.8l2.7 1.6l-2.1 3.6l-2.7 -1.6zM357.9 283.6l5.5 3.3l-2.1 3.6l-5.5 -3.3zM299.9 269.2l4.1 2.5l-1.3 2.2l-4.1 -2.5zM345.7 275.2l5.5 3.3l-1.3 2.2l-5.5 -3.3zM333.1 310.0l5.5 3.3l-1.6 2.7l-5.5 -3.3zM324.6 310.8l5.5 3.3l-1.3 2.2l-5.5 -3.3zM346.6 266.0l2.7 1.6l-2.1 3.6l-2.7 -1.6zM346.2 269.7l5.5 3.3l-1.6 2.7l-5.5 -3.3zM313.1 259.7l5.5 3.3l-2.1 3.6l-5.5 -3.3zM349.0 280.9l2.7 1.6l-2.1 3.6l-2.7 -1.6zM309.6 272.9l4.1 2.5l-1.3 2.2l-4.1 -2.5zM350.0 268.2l5.5 3.3l-1.3 2.2l-5.5 -3.3zM324.8 279.5l2.7 1.6l-2.1 3.6l-2.7 -1.6z"/><path fill="#58a6fc" d="M315.3 327.4l2.7 1.6l-1.3 2.2l-2.7 -1.6zM340.0 291.2l5.5 3.3l-1.3 2.2l-5.5 -3.3zM366.5 301.3l2.7 1.6l-1.6 2.7l-2.7 -1.6zM315.0 321.3l2.7 1.6l-2.1 3.6l-2.7 -1.6zM346.2 270.9l2.7 1.6l-1.6 2.7l-2.7 -1.6zM319.6 316.3l2.7 1.6l-1.3 2.2l-2.7 -1.6zM350.0 294.7l2.7 1.6l-1.3 2.2l-2.7 -1.6zM304.9 281.4l2.7 1.6l-1.3 2.2l-2.7 -1.6zM334.9 289.3l2.7 1.6l-1.6 2.7l-2.7 -1.6zM321.3 268.7l2.7 1.6l-2.1 3.6l-2.7 -1.6zM345.0 299.0l2.7 1.6l-2.1 3.6l-2.7 -1.6zM305.6 283.5l5.5 3.3l-1.3 2.2l-5.5 -3.3zM339.7 273.0l2.7 1.6l-2.1 3.6l-2.7 -1.6zM311.2 277.8l5.5 3.3l-2.1 3.6l-5.5 -3.3zM314.9 292.2l2.7 1.6l-2.1 3.6l-2.7 -1.6zM300.7 285.2l2.7 1.6l-1.3 2.2l-2.7 -1.6zM312.9 302.9l2.7 1.6l-2.1 3.6l-2.7 -1.6zM342.3 270.6l2.7 1.6l-1.6 2.7l-2.7 -1.6zM351.0 286.1l5.5 3.3l-1.6 2.7l-5.5 -3.3zM318.3 289.2l5.5 3.3l-1.3 2.2l-5.5 -3.3zM310.3 293.6l5.5 3.3l-1.6 2.7l-5.5 -3.3zM307.3 265.8l5.5 3.3l-1.3 2.2l-5.5 -3.3zM335.8 271.0l4.1 2.5l-1.6 2.7l-4.1 -2.5zM369.5 295.7l2.7 1.6l-2.1 3.6l-2.7 -1.6zM349.7 269.8l2.7 1.6l-1.3 2.2l-2.7 -1.6zM315.8 287.9l2.7 1.6l-1.3 2.2l-2.7 -1.6zM310.6 299.6l2.7 1.6l-2.1 3.6l-2.7 -1.6zM315.5 318.6l5.5 3.3l-1.6 2.7l-5.5 -3.3zM327.7 255.8l2.7 1.6l-1.3 2.2l-2.7 -1.6zM319.2 286.6l4.1 2.5l-2.1 3.6l-4.1 -2.5zM311.7 280.4l4.1 2.5l-2.1 3.6l-4.1 -2.5zM341.8 272.6l2.7 1.6l-1.3 2.2l-2.7 -1.6z"/><path fill="#4a80f0" d="M341.1 302.5l2.7 1.6l-2.1 3.6l-2.7 -1.6zM360.4 292.9l4.1 2.5l-1.6 2.7l-4.1 -2.5zM317.7 275.0l5.5 3.3l-1.3 2.2l-5.5 -3.3zM331.1 319.2l2.7 1.6l-1.3 2.2l-2.7 -1.6zM333.1 291.4l2.7 1.6l-1.6 2.7l-2.7 -1.6zM311.0 271.9l2.7 1.6l-1.6 2.7l-2.7 -1.6zM355.6 288.7l2.7 1.6l-1.3 2.2l-2.7 -1.6zM314.2 249.8l2.7 1.6l-1.6 2.7l-2.7 -1.6zM371.1 297.1l2.7 1.6l-1.3 2.2l-2.7 -1.6zM332.0 276.9l4.1 2.5l-2.1 3.6l-4.1 -2.5zM356.7 299.2l2.7 1.6l-2.1 3.6l-2.7 -1.6zM327.1 304.9l4.1 2.5l-2.1 3.6l-4.1 -2.5zM323.9 318.5l2.7 1.6l-1.6 2.7l-2.7 -1.6zM320.6 321.9l2.7 1.6l-1.3 2.2l-2.7 -1.6zM326.1 260.9l4.1 2.5l-1.3 2.2l-4.1 -2.5zM307.0 292.3l2.7 1.6l-1.6 2.7l-2.7 -1.6zM322.6 284.6l2.7 1.6l-2.1 3.6l-2.7 -1.6zM336.4 263.9l2.7 1.6l-2.1 3.6l-2.7 -1.6zM324.5 297.3l2.7 1.6l-1.6 2.7l-2.7 -1.6zM318.5 269.9l5.5 3.3l-1.3 2.2l-5.5 -3.3zM317.9 298.9l5.5 3.3l-1.3 2.2l-5.5 -3.3zM316.0 298.1l4.1 2.5l-1.6 2.7l-4.1 -2.5zM345.4 295.5l2.7 1.6l-1.6 2.7l-2.7 -1.6zM328.3 280.2l2.7 1.6l-2.1 3.6l-2.7 -1.6zM365.3 278.2l5.5 3.3l-1.3 2.2l-5.5 -3.3zM324.8 310.3l2.7 1.6l-2.1 3.6l-2.7 -1.6zM333.9 277.5l2.7 1.6l-2.1 3.6l-2.7 -1.6zM305.4 273.7l2.7 1.6l-1.6 2.7l-2.7 -1.6zM341.0 281.2l2.7 1.6l-1.3 2.2l-2.7 -1.6zM371.0 293.9l5.5 3.3l-1.6 2.7l-5.5 -3.3zM326.5 263.6l2.7 1.6l-1.3 2.2l-2.7 -1.6zM333.9 289.6l5.5 3.3l-1.6 2.7l-5.5 -3.3zM336.9 269.1l4.1 2.5l-1.3 2.2l-4.1 -2.5zM313.1 323.6l5.5 3.3l-1.6 2.7l-5.5 -3.3zM372.0 295.3l5.5 3.3l-2.1 3.6l-5.5 -3.3zM311.7 278.8l2.7 1.6l-1.3 2.2l-2.7 -1.6zM331.3 309.8l5.5 3.3l-1.3 2.2l-5.5 -3.3z"/><path fill="#ff8000" d="M322.8 283.5l2.7 1.6l-1.3 2.2l-2.7 -1.6zM317.7 259.5l2.7 1.6l-1.6 2.7l-2.7 -1.6zM311.5 282.7l5.5 3.3l-1.6 2.7l-5.5 -3.3zM308.3 251.2l4.1 2.5l-2.1 3.6l-4.1 -2.5zM314.0 255.8l4.1 2.5l-2.1 3.6l-4.1 -2.5zM323.0 296.7l5.5 3.3l-1.3 2.2l-5.5 -3.3zM338.4 268.1l2.7 1.6l-1.6 2.7l-2.7 -1.6zM306.7 284.4l2.7 1.6l-2.1 3.6l-2.7 -1.6zM328.3 290.8l4.1 2.5l-1.3 2.2l-4.1 -2.5zM319.3 284.2l5.5 3.3l-1.3 2.2l-5.5 -3.3zM319.2 253.8l5.5 3.3l-1.6 2.7l-5.5 -3.3zM307.9 281.6l2.7 1.6l-2.1 3.6l-2.7 -1.6zM331.7 280.6l2.7 1.6l-2.1 3.6l-2.7 -1.6zM325.2 275.0l5.5 3.3l-1.6 2.7l-5.5 -3.3z"/><path fill="#ffd800" d="M330.3 267.3l2.7 1.6l-1.3 2.2l-2.7 -1.6zM314.2 256.4l4.1 2.5l-2.1 3.6l-4.1 -2.5zM301.9 289.4l4.1 2.5l-2.1 3.6l-4.1 -2.5zM309.0 295.2l4.1 2.5l-2.1 3.6l-4.1 -2.5zM304.5 284.6l5.5 3.3l-1.3 2.2l-5.5 -3.3zM315.6 260.4l5.5 3.3l-2.1 3.6l-5.5 -3.3zM317.9 255.5l2.7 1.6l-2.1 3.6l-2.7 -1.6zM303.6 268.4l2.7 1.6l-1.6 2.7l-2.7 -1.6zM335.0 269.9l2.7 1.6l-1.3 2.2l-2.7 -1.6zM305.5 260.6l2.7 1.6l-2.1 3.6l-2.7 -1.6zM326.4 281.6l2.7 1.6l-2.1 3.6l-2.7 -1.6zM305.0 258.4l5.5 3.3l-1.6 2.7l-5.5 -3.3zM332.9 280.5l2.7 1.6l-1.6 2.7l-2.7 -1.6zM321.2 257.5l4.1 2.5l-1.6 2.7l-4.1 -2.5zM335.2 286.6l4.1 2.5l-2.1 3.6l-4.1 -2.5zM321.1 286.8l5.5 3.3l-2.1 3.6l-5.5 -3.3zM314.4 282.5l5.5 3.3l-1.6 2.7l-5.5 -3.3zM303.7 293.5l4.1 2.5l-1.3 2.2l-4.1 -2.5zM323.8 280.1l2.7 1.6l-1.3 2.2l-2.7 -1.6zM319.6 289.1l2.7 1.6l-2.1 3.6l-2.7 -1.6zM336.7 268.8l4.1 2.5l-2.1 3.6l-4.1 -2.5zM318.9 264.4l5.5 3.3l-1.6 2.7l-5.5 -3.3zM319.8 258.9l4.1 2.5l-1.6 2.7l-4.1 -2.5zM307.7 296.4l2.7 1.6l-1.3 2.2l-2.7 -1.6zM326.6 290.9l2.7 1.6l-1.6 2.7l-2.7 -1.6zM321.6 285.0l2.7 1.6l-1.3 2.2l-2.7 -1.6zM317.3 257.1l2.7 1.6l-1.3 2.2l-2.7 -1.6zM335.4 261.3l4.1 2.5l-1.3 2.2l-4.1 -2.5zM319.6 270.9l5.5 3.3l-1.3 2.2l-5.5 -3.3zM316.5 265.2l2.7 1.6l-1.3 2.2l-2.7 -1.6zM336.3 265.9l2.7 1.6l-1.3 2.2l-2.7 -1.6zM325.9 287.9l2.7 1.6l-1.6 2.7l-2.7 -1.6zM340.3 269.7l4.1 2.5l-2.1 3.6l-4.1 -2.5zM319.5 254.3l4.1 2.5l-2.1 3.6l-4.1 -2.5zM311.7 285.7l5.5 3.3l-1.6 2.7l-5.5 -3.3z"/><path fill="#ff9a00" d="M302.6 279.8l4.1 2.5l-1.6 2.7l-4.1 -2.5zM332.3 271.6l2.7 1.6l-2.1 3.6l-2.7 -1.6zM329.3 267.7l2.7 1.6l-1.6 2.7l-2.7 -1.6zM307.3 285.2l2.7 1.6l-1.6 2.7l-2.7 -1.6zM322.5 255.0l2.7 1.6l-1.6 2.7l-2.7 -1.6zM325.6 266.6l2.7 1.6l-1.3 2.2l-2.7 -1.6zM329.3 271.9l2.7 1.6l-2.1 3.6l-2.7 -1.6zM318.7 265.9l2.7 1.6l-2.1 3.6l-2.7 -1.6zM310.8 288.5l2.7 1.6l-1.3 2.2l-2.7 -1.6zM317.5 283.3l2.7 1.6l-2.1 3.6l-2.7 -1.6zM305.8 285.3l4.1 2.5l-1.3 2.2l-4.1 -2.5zM311.3 273.4l4.1 2.5l-2.1 3.6l-4.1 -2.5zM313.9 262.3l5.5 3.3l-1.3 2.2l-5.5 -3.3zM329.5 286.7l2.7 1.6l-2.1 3.6l-2.7 -1.6zM322.1 279.9l4.1 2.5l-1.6 2.7l-4.1 -2.5zM311.3 252.1l2.7 1.6l-1.3 2.2l-2.7 -1.6zM331.7 276.3l4.1 2.5l-1.3 2.2l-4.1 -2.5zM310.4 291.7l5.5 3.3l-1.3 2.2l-5.5 -3.3zM311.6 278.0l4.1 2.5l-1.6 2.7l-4.1 -2.5zM307.7 272.8l5.5 3.3l-1.3 2.2l-5.5 -3.3zM329.8 267.5l5.5 3.3l-2.1 3.6l-5.5 -3.3z"/><path fill="#ff6000" d="M310.3 262.4l4.1 2.5l-2.1 3.6l-4.1 -2.5zM322.7 265.6l5.5 3.3l-1.3 2.2l-5.5 -3.3zM329.6 271.6l5.5 3.3l-2.1 3.6l-5.5 -3.3zM317.3 269.6l4.1 2.5l-1.3 2.2l-4.1 -2.5zM306.8 293.4l5.5 3.3l-1.6 2.7l-5.5 -3.3zM302.4 285.1l2.7 1.6l-1.6 2.7l-2.7 -1.6zM311.7 285.6l4.1 2.5l-1.3 2.2l-4.1 -2.5zM329.9 259.9l5.5 3.3l-1.3 2.2l-5.5 -3.3zM311.9 289.3l4.1 2.5l-1.6 2.7l-4.1 -2.5zM305.8 269.5l2.7 1.6l-1.6 2.7l-2.7 -1.6zM310.6 285.2l4.1 2.5l-1.6 2.7l-4.1 -2.5zM337.7 279.8l4.1 2.5l-1.6 2.7l-4.1 -2.5zM316.2 282.1l2.7 1.6l-1.6 2.7l-2.7 -1.6zM335.4 273.5l2.7 1.6l-2.1 3.6l-2.7 -1.6zM311.0 262.3l2.7 1.6l-1.3 2.2l-2.7 -1.6zM313.9 276.2l5.5 3.3l-1.6 2.7l-5.5 -3.3zM316.3 264.1l5.5 3.3l-2.1 3.6l-5.5 -3.3zM319.0 270.4l4.1 2.5l-1.3 2.2l-4.1 -2.5zM309.7 252.4l5.5 3.3l-1.6 2.7l-5.5 -3.3zM330.7 257.4l5.5 3.3l-1.6 2.7l-5.5 -3.3z"/><path fill="#ffd800" d="M347.5 296.1l3.9 2.3l-2.0 3.3l-3.9 -2.3zM348.1 298.2l5.1 3.1l-1.5 2.6l-5.1 -3.1zM350.2 291.6l2.6 1.5l-2.0 3.3l-2.6 -1.5zM355.6 285.0l2.6 1.5l-2.0 3.3l-2.6 -1.5zM345.7 301.6l2.6 1.5l-1.5 2.6l-2.6 -1.5zM353.0 285.3l2.6 1.5l-2.0 3.3l-2.6 -1.5zM352.3 279.7l5.1 3.1l-1.2 2.1l-5.1 -3.1zM349.8 277.6l5.1 3.1l-1.5 2.6l-5.1 -3.1zM360.9 293.9l3.9 2.3l-1.2 2.1l-3.9 -2.3zM345.0 288.0l5.1 3.1l-1.5 2.6l-5.1 -3.1zM345.7 280.1l2.6 1.5l-1.5 2.6l-2.6 -1.5zM346.5 291.7l2.6 1.5l-1.2 2.1l-2.6 -1.5zM346.5 300.5l5.1 3.1l-2.0 3.3l-5.1 -3.1zM357.1 290.6l3.9 2.3l-2.0 3.3l-3.9 -2.3z"/><path fill="#ff9a00" d="M356.8 287.4l3.9 2.3l-1.5 2.6l-3.9 -2.3zM360.1 289.2l3.9 2.3l-2.0 3.3l-3.9 -2.3zM365.3 281.6l2.6 1.5l-1.5 2.6l-2.6 -1.5zM344.0 289.1l5.1 3.1l-1.2 2.1l-5.1 -3.1zM347.4 295.1l2.6 1.5l-1.5 2.6l-2.6 -1.5zM358.4 292.0l3.9 2.3l-1.5 2.6l-3.9 -2.3zM351.8 287.8l2.6 1.5l-2.0 3.3l-2.6 -1.5zM343.3 278.6l5.1 3.1l-1.5 2.6l-5.1 -3.1zM353.1 295.7l2.6 1.5l-2.0 3.3l-2.6 -1.5zM365.3 281.1l3.9 2.3l-2.0 3.3l-3.9 -2.3zM344.3 278.7l5.1 3.1l-2.0 3.3l-5.1 -3.1z"/><path fill="#ff8000" d="M319.3 314.4l2.6 1.5l-2.0 3.3l-2.6 -1.5zM319.5 325.7l2.6 1.5l-2.0 3.3l-2.6 -1.5zM320.8 323.7l2.6 1.5l-1.5 2.6l-2.6 -1.5zM316.1 316.6l3.9 2.3l-2.0 3.3l-3.9 -2.3zM300.9 332.5l5.1 3.1l-1.2 2.1l-5.1 -3.1zM310.4 329.8l5.1 3.1l-1.2 2.1l-5.1 -3.1zM318.9 316.7l2.6 1.5l-2.0 3.3l-2.6 -1.5zM308.6 317.0l2.6 1.5l-2.0 3.3l-2.6 -1.5zM325.3 316.5l5.1 3.1l-2.0 3.3l-5.1 -3.1zM315.1 319.3l2.6 1.5l-1.2 2.1l-2.6 -1.5z"/><path fill="#ffd800" d="M306.7 320.1l2.6 1.5l-1.5 2.6l-2.6 -1.5zM303.1 328.4l5.1 3.1l-1.2 2.1l-5.1 -3.1zM306.4 323.4l2.6 1.5l-1.2 2.1l-2.6 -1.5zM317.5 314.5l2.6 1.5l-2.0 3.3l-2.6 -1.5zM327.0 315.5l3.9 2.3l-1.5 2.6l-3.9 -2.3zM308.0 329.7l2.6 1.5l-1.2 2.1l-2.6 -1.5zM309.5 324.9l2.6 1.5l-1.2 2.1l-2.6 -1.5zM302.6 327.7l2.6 1.5l-1.2 2.1l-2.6 -1.5zM319.1 322.9l5.1 3.1l-1.2 2.1l-5.1 -3.1zM317.6 313.7l2.6 1.5l-1.2 2.1l-2.6 -1.5z"/></g><polygon points="308.6,245.7 325.5,250.9 367.1,278.2 364.5,287.3 372.3,295.1 369.7,302.9 358.0,305.5 348.9,302.9 338.5,310.6 334.6,319.7 330.7,326.2 315.1,327.5 302.1,334.0 294.4,328.8 307.3,322.3 309.9,315.8 312.5,309.4 307.3,300.3 299.5,297.7 298.2,283.4 299.5,267.8 307.3,262.6 307.3,254.8" fill="none" stroke="#000" stroke-width="1.3" stroke-linejoin="round"/><polygon points="265.8,309.4 273.6,302.9 293.0,300.3 306.0,306.8 309.9,315.8 299.5,319.7 281.4,322.3 268.4,315.8" fill="#a8c4f8" stroke="#000" stroke-width="1.3" stroke-linejoin="round"/><path fill="#c8d4fa" d="M299.5 314.5l2.6 1.5l-1.2 2.1l-2.6 -1.5zM280.2 303.1l2.6 1.5l-2.0 3.3l-2.6 -1.5zM276.8 305.9l5.1 3.1l-1.5 2.6l-5.1 -3.1zM294.5 304.5l3.9 2.3l-1.5 2.6l-3.9 -2.3zM283.9 305.6l3.9 2.3l-1.2 2.1l-3.9 -2.3zM281.1 314.6l2.6 1.5l-1.2 2.1l-2.6 -1.5zM269.7 308.7l2.6 1.5l-2.0 3.3l-2.6 -1.5zM273.4 305.2l2.6 1.5l-1.2 2.1l-2.6 -1.5zM290.2 300.7l2.6 1.5l-2.0 3.3l-2.6 -1.5zM290.7 311.0l3.9 2.3l-1.2 2.1l-3.9 -2.3zM282.8 312.5l2.6 1.5l-2.0 3.3l-2.6 -1.5z"/><path fill="#6aa0f8" d="M284.7 319.0l3.9 2.3l-1.2 2.1l-3.9 -2.3zM273.6 314.1l2.6 1.5l-1.5 2.6l-2.6 -1.5zM277.3 304.2l2.6 1.5l-1.5 2.6l-2.6 -1.5zM308.7 313.2l2.6 1.5l-2.0 3.3l-2.6 -1.5zM290.4 303.2l2.6 1.5l-1.2 2.1l-2.6 -1.5zM287.8 304.4l2.6 1.5l-1.2 2.1l-2.6 -1.5zM295.8 317.7l5.1 3.1l-1.5 2.6l-5.1 -3.1zM277.0 309.7l2.6 1.5l-2.0 3.3l-2.6 -1.5zM296.7 319.6l3.9 2.3l-2.0 3.3l-3.9 -2.3zM284.2 310.5l2.6 1.5l-1.5 2.6l-2.6 -1.5z"/><path fill="#ffd800" d="M276.3 314.2l2.6 1.5l-1.5 2.6l-2.6 -1.5zM271.4 305.2l2.6 1.5l-1.5 2.6l-2.6 -1.5zM274.4 308.7l3.9 2.3l-1.5 2.6l-3.9 -2.3zM303.9 315.2l3.9 2.3l-2.0 3.3l-3.9 -2.3zM294.5 319.8l2.6 1.5l-2.0 3.3l-2.6 -1.5zM279.6 314.1l5.1 3.1l-1.5 2.6l-5.1 -3.1zM276.8 302.5l5.1 3.1l-1.5 2.6l-5.1 -3.1zM306.3 314.8l2.6 1.5l-2.0 3.3l-2.6 -1.5zM280.8 321.8l2.6 1.5l-1.2 2.1l-2.6 -1.5z"/><polygon points="265.8,309.4 273.6,302.9 293.0,300.3 306.0,306.8 309.9,315.8 299.5,319.7 281.4,322.3 268.4,315.8" fill="none" stroke="#000" stroke-width="1.3" stroke-linejoin="round"/><polygon points="250.2,279.5 260.6,276.9 273.6,289.9 276.2,293.8 263.2,302.9 259.3,301.6 259.3,289.9 251.5,283.4" fill="#ff9000" stroke="#000" stroke-width="1.3" stroke-linejoin="round"/><path fill="#ff6000" d="M265.8 282.4l2.6 1.5l-2.0 3.3l-2.6 -1.5zM261.5 285.7l2.6 1.5l-1.2 2.1l-2.6 -1.5zM260.7 283.6l5.1 3.1l-2.0 3.3l-5.1 -3.1zM260.0 278.8l3.9 2.3l-2.0 3.3l-3.9 -2.3zM252.4 283.6l2.6 1.5l-2.0 3.3l-2.6 -1.5zM260.9 301.2l5.1 3.1l-2.0 3.3l-5.1 -3.1zM260.4 279.8l2.6 1.5l-1.2 2.1l-2.6 -1.5zM253.1 283.4l5.1 3.1l-2.0 3.3l-5.1 -3.1zM268.6 287.9l2.6 1.5l-1.2 2.1l-2.6 -1.5zM252.8 284.0l3.9 2.3l-1.2 2.1l-3.9 -2.3zM253.6 282.3l2.6 1.5l-1.5 2.6l-2.6 -1.5zM251.7 282.2l5.1 3.1l-1.5 2.6l-5.1 -3.1z"/><path fill="#2a50f8" d="M266.9 296.3l2.6 1.5l-1.2 2.1l-2.6 -1.5zM268.1 290.7l2.6 1.5l-2.0 3.3l-2.6 -1.5zM265.4 286.2l2.6 1.5l-1.5 2.6l-2.6 -1.5zM255.6 278.5l2.6 1.5l-1.5 2.6l-2.6 -1.5zM260.8 299.7l2.6 1.5l-1.2 2.1l-2.6 -1.5zM260.8 285.4l2.6 1.5l-1.2 2.1l-2.6 -1.5zM271.3 287.8l3.9 2.3l-1.2 2.1l-3.9 -2.3z"/><path fill="#58a6fc" d="M259.3 283.7l5.1 3.1l-1.2 2.1l-5.1 -3.1zM263.5 286.6l3.9 2.3l-2.0 3.3l-3.9 -2.3zM268.7 293.6l2.6 1.5l-1.5 2.6l-2.6 -1.5zM268.2 292.1l5.1 3.1l-1.5 2.6l-5.1 -3.1zM263.1 279.7l5.1 3.1l-1.2 2.1l-5.1 -3.1zM265.2 299.9l3.9 2.3l-2.0 3.3l-3.9 -2.3zM257.1 285.6l3.9 2.3l-1.2 2.1l-3.9 -2.3zM257.2 284.2l2.6 1.5l-1.2 2.1l-2.6 -1.5zM263.4 280.3l2.6 1.5l-2.0 3.3l-2.6 -1.5z"/><path fill="#ffd800" d="M263.0 279.6l5.1 3.1l-2.0 3.3l-5.1 -3.1zM262.0 292.8l2.6 1.5l-1.5 2.6l-2.6 -1.5zM254.6 282.5l2.6 1.5l-2.0 3.3l-2.6 -1.5zM270.2 287.5l2.6 1.5l-2.0 3.3l-2.6 -1.5zM254.8 284.8l5.1 3.1l-2.0 3.3l-5.1 -3.1zM258.0 283.8l5.1 3.1l-1.5 2.6l-5.1 -3.1zM261.2 295.5l5.1 3.1l-1.2 2.1l-5.1 -3.1z"/><polygon points="250.2,279.5 260.6,276.9 273.6,289.9 276.2,293.8 263.2,302.9 259.3,301.6 259.3,289.9 251.5,283.4" fill="none" stroke="#000" stroke-width="1.3" stroke-linejoin="round"/><polygon points="219.0,250.5 253.0,272.5 252.0,276.0 218.0,254.0" fill="#5a8cf4" stroke="#000" stroke-width="1.2" stroke-linejoin="round"/><polygon points="273.6,268.0 280.0,267.8 281.0,276.9 274.0,276.0" fill="#6aa0f8" stroke="#000" stroke-width="1.2" stroke-linejoin="round"/><polygon points="276.2,278.2 281.4,279.0 281.0,286.0 276.5,285.0" fill="#6aa0f8" stroke="#000" stroke-width="1.2" stroke-linejoin="round"/><polygon points="280.0,285.0 290.0,283.4 291.7,295.0 284.0,300.3 280.0,296.0" fill="#6aa0f8" stroke="#000" stroke-width="1.2" stroke-linejoin="round"/><polygon points="277.5,252.0 287.8,251.0 287.0,261.3 278.0,260.0" fill="#6aa0f8" stroke="#000" stroke-width="1.2" stroke-linejoin="round"/><polygon points="190.4,171.7 200.8,176.9 202.1,183.4 211.2,184.7 224.2,192.5 221.6,195.1 208.6,189.9 196.9,196.4 191.7,192.5 199.5,186.0 195.6,179.5" fill="#5a8cf4" stroke="#000" stroke-width="1.3" stroke-linejoin="round"/><path fill="#ffd800" d="M223.7 193.0l2.1 1.3l-1.0 1.7l-2.1 -1.3zM200.3 177.6l3.2 1.9l-1.3 2.1l-3.2 -1.9zM217.7 192.3l4.3 2.6l-1.7 2.8l-4.3 -2.6zM216.7 192.8l4.3 2.6l-1.7 2.8l-4.3 -2.6zM214.7 188.4l3.2 1.9l-1.0 1.7l-3.2 -1.9zM220.0 192.8l4.3 2.6l-1.7 2.8l-4.3 -2.6zM212.7 191.5l2.1 1.3l-1.7 2.8l-2.1 -1.3zM210.5 190.2l3.2 1.9l-1.0 1.7l-3.2 -1.9z"/><path fill="#2040f0" d="M201.3 191.9l2.1 1.3l-1.3 2.1l-2.1 -1.3zM216.2 190.7l4.3 2.6l-1.3 2.1l-4.3 -2.6zM199.2 183.1l2.1 1.3l-1.0 1.7l-2.1 -1.3zM218.3 190.3l2.1 1.3l-1.3 2.1l-2.1 -1.3zM219.8 192.2l2.1 1.3l-1.0 1.7l-2.1 -1.3zM216.3 193.0l3.2 1.9l-1.7 2.8l-3.2 -1.9zM202.5 185.6l2.1 1.3l-1.7 2.8l-2.1 -1.3z"/><polygon points="73.5,109.9 77.6,110.6 77.6,115.3 76.3,119.4 72.2,123.5 68.1,126.8 65.4,127.5 64.1,123.5 65.4,120.7 71.5,116.0" fill="#3a60f0" stroke="#000" stroke-width="1.4" stroke-linejoin="round"/><path fill="#ff8000" d="M70.0 122.7l4.3 2.6l-1.3 2.1l-4.3 -2.6zM75.3 113.9l2.1 1.3l-1.0 1.7l-2.1 -1.3zM77.0 115.3l3.2 1.9l-1.0 1.7l-3.2 -1.9zM69.8 124.1l2.1 1.3l-1.3 2.1l-2.1 -1.3z"/><path fill="#ffd800" d="M66.8 124.6l2.1 1.3l-1.7 2.8l-2.1 -1.3zM77.1 115.6l3.2 1.9l-1.3 2.1l-3.2 -1.9zM75.7 111.2l2.1 1.3l-1.7 2.8l-2.1 -1.3zM73.8 114.5l4.3 2.6l-1.7 2.8l-4.3 -2.6zM69.2 125.0l2.1 1.3l-1.3 2.1l-2.1 -1.3z"/><path fill="#0000ff" d="M72.6 114.8l2.1 1.3l-1.0 1.7l-2.1 -1.3zM73.2 116.3l3.2 1.9l-1.7 2.8l-3.2 -1.9zM73.9 120.2l4.3 2.6l-1.0 1.7l-4.3 -2.6zM71.0 116.9l4.3 2.6l-1.7 2.8l-4.3 -2.6zM70.8 121.5l3.2 1.9l-1.7 2.8l-3.2 -1.9zM70.4 118.3l2.1 1.3l-1.7 2.8l-2.1 -1.3z"/><polygon points="73.5,109.9 77.6,110.6 77.6,115.3 76.3,119.4 72.2,123.5 68.1,126.8 65.4,127.5 64.1,123.5 65.4,120.7 71.5,116.0" fill="none" stroke="#000" stroke-width="1.4" stroke-linejoin="round"/><polygon points="57.3,128.0 61.0,127.5 63.4,131.0 60.0,132.3 57.5,131.0" fill="#2040f0" stroke="#000" stroke-width="1.3" stroke-linejoin="round"/><polygon points="85.0,133.5 91.8,132.9 91.0,136.3 85.5,136.0" fill="#5a90f4" stroke="#000" stroke-width="1.3" stroke-linejoin="round"/><polygon points="95.0,134.0 98.0,133.5 98.0,137.5 95.0,137.5" fill="#5a90f4" stroke="#000" stroke-width="1.3" stroke-linejoin="round"/><polygon points="100.0,133.0 104.0,132.0 104.5,137.0 100.0,137.0" fill="#5a90f4" stroke="#000" stroke-width="1.3" stroke-linejoin="round"/><polygon points="106.1,128.9 110.8,128.2 116.2,131.6 117.6,138.4 123.0,139.0 121.0,141.7 115.6,143.8 108.8,143.1 105.4,140.4 106.7,135.7" fill="#5a90f4" stroke="#000" stroke-width="1.3" stroke-linejoin="round"/><polygon points="127.7,134.3 131.8,133.6 134.5,138.4 133.8,141.7 130.5,141.1 127.7,137.7" fill="#5a90f4" stroke="#000" stroke-width="1.3" stroke-linejoin="round"/><polygon points="115.6,125.0 121.0,125.5 120.0,128.9 116.0,128.5" fill="#5a90f4" stroke="#000" stroke-width="1.3" stroke-linejoin="round"/><ellipse cx="268.3" cy="309.5" rx="1.8" ry="1.4" fill="#000"/><ellipse cx="202.2" cy="233.8" rx="1.8" ry="1.4" fill="#000"/><ellipse cx="243.2" cy="284.5" rx="1.8" ry="1.4" fill="#000"/><ellipse cx="257.3" cy="239.7" rx="1.8" ry="1.4" fill="#000"/><ellipse cx="230.9" cy="289.0" rx="1.8" ry="1.4" fill="#000"/><ellipse cx="246.4" cy="239.4" rx="1.8" ry="1.4" fill="#000"/><ellipse cx="292.6" cy="244.9" rx="1.8" ry="1.4" fill="#000"/><ellipse cx="218.0" cy="213.1" rx="1.8" ry="1.4" fill="#000"/><ellipse cx="293.8" cy="290.5" rx="1.8" ry="1.4" fill="#000"/><ellipse cx="259.9" cy="266.0" rx="1.8" ry="1.4" fill="#000"/><ellipse cx="247.1" cy="306.3" rx="1.8" ry="1.4" fill="#000"/><ellipse cx="187.8" cy="209.1" rx="1.8" ry="1.4" fill="#000"/><ellipse cx="261.0" cy="305.7" rx="1.8" ry="1.4" fill="#000"/><ellipse cx="226.3" cy="222.1" rx="1.8" ry="1.4" fill="#000"/><ellipse cx="194.2" cy="207.5" rx="1.8" ry="1.4" fill="#000"/><ellipse cx="193.1" cy="241.7" rx="1.8" ry="1.4" fill="#000"/><ellipse cx="258.9" cy="290.1" rx="1.8" ry="1.4" fill="#000"/><ellipse cx="206.5" cy="222.4" rx="1.8" ry="1.4" fill="#000"/><ellipse cx="193.5" cy="204.9" rx="1.8" ry="1.4" fill="#000"/><ellipse cx="245.2" cy="258.5" rx="1.8" ry="1.4" fill="#000"/><ellipse cx="268.7" cy="243.1" rx="1.8" ry="1.4" fill="#000"/><ellipse cx="281.4" cy="300.3" rx="1.8" ry="1.4" fill="#000"/><ellipse cx="270.2" cy="285.2" rx="1.8" ry="1.4" fill="#000"/><ellipse cx="266.1" cy="275.1" rx="1.8" ry="1.4" fill="#000"/><ellipse cx="227.7" cy="295.0" rx="1.8" ry="1.4" fill="#000"/><ellipse cx="231.0" cy="259.6" rx="1.8" ry="1.4" fill="#000"/><ellipse cx="256.6" cy="225.5" rx="1.8" ry="1.4" fill="#000"/><ellipse cx="222.3" cy="223.4" rx="1.8" ry="1.4" fill="#000"/><ellipse cx="239.9" cy="252.8" rx="1.8" ry="1.4" fill="#000"/><ellipse cx="208.9" cy="236.2" rx="1.8" ry="1.4" fill="#000"/><ellipse cx="210.4" cy="248.1" rx="1.8" ry="1.4" fill="#000"/><ellipse cx="287.5" cy="284.2" rx="1.8" ry="1.4" fill="#000"/><ellipse cx="194.5" cy="213.7" rx="1.8" ry="1.4" fill="#000"/><ellipse cx="236.9" cy="223.4" rx="1.8" ry="1.4" fill="#000"/><ellipse cx="283.7" cy="267.5" rx="1.8" ry="1.4" fill="#000"/><polygon points="470.0,420.0 474.0,418.0 476.0,422.0 472.0,424.0" fill="#6aa0f8" stroke="#000" stroke-width="1.2" stroke-linejoin="round"/><polygon points="478.0,428.0 484.0,426.0 486.0,432.0 480.0,434.0" fill="#6aa0f8" stroke="#000" stroke-width="1.2" stroke-linejoin="round"/><polygon points="458.0,356.0 461.0,355.0 462.0,358.0 459.0,359.0" fill="#6aa0f8" stroke="#000" stroke-width="1.2" stroke-linejoin="round"/><g stroke="#333" stroke-width="1.35" stroke-dasharray="3 5.27" fill="none"><line x1="68.60" y1="41" x2="68.60" y2="549"/><line x1="147.30" y1="41" x2="147.30" y2="549"/><line x1="226.00" y1="41" x2="226.00" y2="549"/><line x1="304.70" y1="41" x2="304.70" y2="549"/><line x1="383.40" y1="41" x2="383.40" y2="549"/><line x1="462.10" y1="41" x2="462.10" y2="549"/><line x1="13" y1="67.20" x2="486" y2="67.20"/><line x1="13" y1="151.70" x2="486" y2="151.70"/><line x1="13" y1="236.20" x2="486" y2="236.20"/><line x1="13" y1="320.70" x2="486" y2="320.70"/><line x1="13" y1="405.20" x2="486" y2="405.20"/><line x1="13" y1="489.70" x2="486" y2="489.70"/></g><g stroke="#000" stroke-width="1.25" stroke-dasharray="12.2 11.5" fill="none"><path d="M13.00,55.89 Q249.00,216.18 485.00,343.32"/><path d="M13.00,152.94 Q249.50,312.51 486.00,436.77"/></g><g style="font-family:'Liberation Sans',sans-serif" font-size="12.5" fill="#000"><text x="68.60" y="300.2" text-anchor="middle">54</text><text x="147.30" y="300.2" text-anchor="middle">56</text><text x="226.00" y="300.2" text-anchor="middle">58</text><text x="304.70" y="300.2" text-anchor="middle">60</text><text x="383.40" y="300.2" text-anchor="middle">62</text><text x="462.10" y="300.2" text-anchor="middle">64</text><text x="235.5" y="66.70">-16</text><text x="235.5" y="151.20">-18</text><text x="235.5" y="235.70">-20</text><text x="235.5" y="320.20">-22</text><text x="235.5" y="404.70">-24</text><text x="235.5" y="489.20">-26</text></g><path d="M242.8,294.5 H255.8 M249.3,288.0 V301.0" stroke="#000" stroke-width="5" fill="none"/><text x="37.3" y="65.5" style="font-family:'Liberation Sans',sans-serif" font-size="25" fill="#000">PR max reflectivity projection (dBZ)</text><text x="438.5" y="522.7" style="font-family:'Liberation Sans',sans-serif" font-size="30" fill="#000">(b)</text><rect x="495" y="531.54" width="9" height="8.86" fill="#f6f6f6"/><rect x="495" y="523.08" width="9" height="8.86" fill="#eeeeee"/><rect x="495" y="514.63" width="9" height="8.86" fill="#e6e6e6"/><rect x="495" y="506.17" width="9" height="8.86" fill="#dedede"/><rect x="495" y="497.71" width="9" height="8.86" fill="#d6d6d6"/><rect x="495" y="489.25" width="9" height="8.86" fill="#cecece"/><rect x="495" y="480.80" width="9" height="8.86" fill="#c6c6c6"/><rect x="495" y="472.34" width="9" height="8.86" fill="#bfbfbf"/><rect x="495" y="463.88" width="9" height="8.86" fill="#b7b7b7"/><rect x="495" y="455.42" width="9" height="8.86" fill="#afafaf"/><rect x="495" y="446.97" width="9" height="8.86" fill="#a7a7a7"/><rect x="495" y="438.51" width="9" height="8.86" fill="#9f9f9f"/><rect x="495" y="430.05" width="9" height="8.86" fill="#979797"/><rect x="495" y="421.59" width="9" height="8.86" fill="#8f8f8f"/><rect x="495" y="413.14" width="9" height="8.86" fill="#82e082"/><rect x="495" y="404.68" width="9" height="8.86" fill="#7ad67a"/><rect x="495" y="396.22" width="9" height="8.86" fill="#72cc72"/><rect x="495" y="387.76" width="9" height="8.86" fill="#6ac26a"/><rect x="495" y="379.31" width="9" height="8.86" fill="#62b862"/><rect x="495" y="370.85" width="9" height="8.86" fill="#ccd4fc"/><rect x="495" y="362.39" width="9" height="8.86" fill="#b4c8fc"/><rect x="495" y="353.93" width="9" height="8.86" fill="#9cbffc"/><rect x="495" y="345.47" width="9" height="8.86" fill="#88b6fc"/><rect x="495" y="337.02" width="9" height="8.86" fill="#70aefc"/><rect x="495" y="328.56" width="9" height="8.86" fill="#58a6fc"/><rect x="495" y="320.10" width="9" height="8.86" fill="#4a94f8"/><rect x="495" y="311.64" width="9" height="8.86" fill="#4080f4"/><rect x="495" y="303.19" width="9" height="8.86" fill="#3868f6"/><rect x="495" y="294.73" width="9" height="8.86" fill="#3050f8"/><rect x="495" y="286.27" width="9" height="8.86" fill="#2838f8"/><rect x="495" y="277.81" width="9" height="8.86" fill="#0000ff"/><rect x="495" y="269.36" width="9" height="8.86" fill="#0000ee"/><rect x="495" y="260.90" width="9" height="8.86" fill="#0000dd"/><rect x="495" y="252.44" width="9" height="8.86" fill="#0000cc"/><rect x="495" y="243.98" width="9" height="8.86" fill="#ffff00"/><rect x="495" y="235.53" width="9" height="8.86" fill="#fff200"/><rect x="495" y="227.07" width="9" height="8.86" fill="#ffe600"/><rect x="495" y="218.61" width="9" height="8.86" fill="#ffd900"/><rect x="495" y="210.15" width="9" height="8.86" fill="#ffcc00"/><rect x="495" y="201.69" width="9" height="8.86" fill="#ff8400"/><rect x="495" y="193.24" width="9" height="8.86" fill="#ff7e00"/><rect x="495" y="184.78" width="9" height="8.86" fill="#ff7800"/><rect x="495" y="176.32" width="9" height="8.86" fill="#ff7200"/><rect x="495" y="167.86" width="9" height="8.86" fill="#ff6c00"/><rect x="495" y="159.41" width="9" height="8.86" fill="#ff4000"/><rect x="495" y="150.95" width="9" height="8.86" fill="#ff3400"/><rect x="495" y="142.49" width="9" height="8.86" fill="#ff2800"/><rect x="495" y="134.03" width="9" height="8.86" fill="#ff1c00"/><rect x="495" y="125.58" width="9" height="8.86" fill="#ff1000"/><rect x="495" y="117.12" width="9" height="8.86" fill="#cc0000"/><rect x="495" y="108.66" width="9" height="8.86" fill="#c10000"/><rect x="495" y="100.20" width="9" height="8.86" fill="#b60000"/><rect x="495" y="91.75" width="9" height="8.86" fill="#ab0000"/><rect x="495" y="83.29" width="9" height="8.86" fill="#a00000"/><rect x="495" y="74.83" width="9" height="8.86" fill="#640a04"/><rect x="495" y="66.37" width="9" height="8.86" fill="#600e08"/><rect x="495" y="57.92" width="9" height="8.86" fill="#5c110c"/><rect x="495" y="49.46" width="9" height="8.86" fill="#581410"/><rect x="495" y="41.00" width="9" height="8.86" fill="#541814"/><g stroke="#000" stroke-width="1"><line x1="504" y1="548.50" x2="507" y2="548.50"/><line x1="504" y1="497.70" x2="507" y2="497.70"/><line x1="504" y1="446.90" x2="507" y2="446.90"/><line x1="504" y1="396.10" x2="507" y2="396.10"/><line x1="504" y1="345.30" x2="507" y2="345.30"/><line x1="504" y1="294.50" x2="507" y2="294.50"/><line x1="504" y1="243.70" x2="507" y2="243.70"/><line x1="504" y1="192.90" x2="507" y2="192.90"/><line x1="504" y1="142.10" x2="507" y2="142.10"/><line x1="504" y1="91.30" x2="507" y2="91.30"/></g><g style="font-family:'Liberation Sans',sans-serif" font-size="20" fill="#000" text-anchor="middle"><text x="524.3" y="557.10">0</text><text x="524.3" y="506.30">6</text><text x="524.3" y="455.50">12</text><text x="524.3" y="404.70">18</text><text x="524.3" y="353.90">24</text><text x="524.3" y="303.10">30</text><text x="524.3" y="252.30">36</text><text x="524.3" y="201.50">42</text><text x="524.3" y="150.70">48</text><text x="524.3" y="99.90">54</text></g>
</g>
<g transform="translate(1180.667,0.000)">
<polygon points="308.6,245.7 325.5,250.9 368.0,278.2 360.0,287.3 364.0,295.1 358.0,302.9 348.9,302.9 338.5,311.6 332.0,326.2 315.1,328.5 302.1,334.0 297.0,328.8 307.3,322.3 322.0,315.8 324.0,305.4 312.0,299.3 302.0,298.0 299.5,283.4 299.5,267.8 307.3,262.6 307.3,254.8" fill="#82dc82" stroke="#000" stroke-width="1.4" stroke-linejoin="round"/><path fill="#9cbffc" d="M312.0 282.0l3.8 2.3l-1.5 2.5l-3.8 -2.3zM315.6 255.2l2.8 1.7l-0.9 1.5l-2.8 -1.7zM306.6 279.5l1.9 1.1l-0.9 1.5l-1.9 -1.1zM321.7 280.1l1.9 1.1l-1.5 2.5l-1.9 -1.1zM306.1 271.1l2.8 1.7l-1.5 2.5l-2.8 -1.7zM304.3 273.1l3.8 2.3l-0.9 1.5l-3.8 -2.3zM315.3 280.9l1.9 1.1l-1.1 1.9l-1.9 -1.1zM303.8 289.0l3.8 2.3l-1.1 1.9l-3.8 -2.3z"/><path fill="#ff4000" d="M307.1 276.7l1.9 1.1l-0.9 1.5l-1.9 -1.1zM313.5 257.8l1.9 1.1l-1.5 2.5l-1.9 -1.1zM308.9 281.5l1.9 1.1l-1.5 2.5l-1.9 -1.1zM304.8 264.3l3.8 2.3l-0.9 1.5l-3.8 -2.3zM315.8 255.8l3.8 2.3l-0.9 1.5l-3.8 -2.3zM303.3 279.6l1.9 1.1l-1.1 1.9l-1.9 -1.1zM317.2 280.2l1.9 1.1l-1.1 1.9l-1.9 -1.1zM315.5 274.5l1.9 1.1l-1.1 1.9l-1.9 -1.1zM323.7 262.2l2.8 1.7l-1.5 2.5l-2.8 -1.7z"/><path fill="#c8d4fa" d="M319.0 284.3l2.8 1.7l-1.5 2.5l-2.8 -1.7zM312.3 263.3l2.8 1.7l-1.1 1.9l-2.8 -1.7zM313.1 275.5l3.8 2.3l-1.5 2.5l-3.8 -2.3zM316.9 271.5l2.8 1.7l-1.1 1.9l-2.8 -1.7zM325.9 262.6l1.9 1.1l-1.5 2.5l-1.9 -1.1zM314.3 270.6l2.8 1.7l-1.1 1.9l-2.8 -1.7zM306.0 253.8l2.8 1.7l-1.5 2.5l-2.8 -1.7zM324.8 276.2l1.9 1.1l-0.9 1.5l-1.9 -1.1zM302.7 283.0l2.8 1.7l-1.1 1.9l-2.8 -1.7zM301.5 289.1l3.8 2.3l-1.1 1.9l-3.8 -2.3z"/><path fill="#2040f0" d="M324.3 262.7l2.8 1.7l-0.9 1.5l-2.8 -1.7zM303.2 288.3l2.8 1.7l-1.5 2.5l-2.8 -1.7zM302.0 281.2l1.9 1.1l-0.9 1.5l-1.9 -1.1zM315.9 254.2l1.9 1.1l-0.9 1.5l-1.9 -1.1zM315.4 266.6l3.8 2.3l-1.1 1.9l-3.8 -2.3zM318.3 270.2l1.9 1.1l-1.1 1.9l-1.9 -1.1zM317.0 289.5l2.8 1.7l-1.5 2.5l-2.8 -1.7zM316.6 273.6l3.8 2.3l-1.5 2.5l-3.8 -2.3z"/><path fill="#c8d4fa" d="M336.3 287.6l2.1 1.3l-1.3 2.1l-2.1 -1.3zM306.1 332.1l3.2 1.9l-1.3 2.1l-3.2 -1.9zM317.6 258.0l3.2 1.9l-1.0 1.7l-3.2 -1.9zM333.9 309.2l3.2 1.9l-1.0 1.7l-3.2 -1.9zM331.9 299.7l2.1 1.3l-1.3 2.1l-2.1 -1.3zM316.3 251.2l4.3 2.6l-1.0 1.7l-4.3 -2.6zM322.4 286.3l3.2 1.9l-1.3 2.1l-3.2 -1.9zM331.1 278.8l4.3 2.6l-1.3 2.1l-4.3 -2.6zM319.0 276.2l3.2 1.9l-1.3 2.1l-3.2 -1.9zM320.9 293.8l2.1 1.3l-1.7 2.8l-2.1 -1.3zM313.6 268.4l2.1 1.3l-1.7 2.8l-2.1 -1.3zM306.6 330.5l3.2 1.9l-1.7 2.8l-3.2 -1.9zM352.7 275.2l4.3 2.6l-1.7 2.8l-4.3 -2.6zM337.7 297.4l4.3 2.6l-1.0 1.7l-4.3 -2.6zM302.1 328.1l3.2 1.9l-1.3 2.1l-3.2 -1.9zM340.7 264.6l2.1 1.3l-1.3 2.1l-2.1 -1.3zM319.8 268.2l2.1 1.3l-1.3 2.1l-2.1 -1.3zM333.5 296.4l3.2 1.9l-1.3 2.1l-3.2 -1.9zM323.2 303.6l4.3 2.6l-1.3 2.1l-4.3 -2.6zM306.2 326.3l4.3 2.6l-1.3 2.1l-4.3 -2.6zM341.5 293.7l2.1 1.3l-1.7 2.8l-2.1 -1.3zM355.2 288.5l4.3 2.6l-1.3 2.1l-4.3 -2.6z"/><path fill="#9cbffc" d="M325.2 290.2l3.2 1.9l-1.7 2.8l-3.2 -1.9zM357.3 287.6l4.3 2.6l-1.7 2.8l-4.3 -2.6zM326.5 313.4l4.3 2.6l-1.7 2.8l-4.3 -2.6zM343.4 287.2l4.3 2.6l-1.3 2.1l-4.3 -2.6zM347.3 280.7l2.1 1.3l-1.7 2.8l-2.1 -1.3zM307.7 279.2l2.1 1.3l-1.3 2.1l-2.1 -1.3zM344.3 264.3l2.1 1.3l-1.3 2.1l-2.1 -1.3zM337.2 279.1l4.3 2.6l-1.0 1.7l-4.3 -2.6zM340.9 303.4l2.1 1.3l-1.0 1.7l-2.1 -1.3zM313.6 283.7l2.1 1.3l-1.3 2.1l-2.1 -1.3zM319.8 286.2l2.1 1.3l-1.0 1.7l-2.1 -1.3zM317.1 296.1l3.2 1.9l-1.7 2.8l-3.2 -1.9zM341.2 305.0l2.1 1.3l-1.0 1.7l-2.1 -1.3zM314.0 324.2l2.1 1.3l-1.7 2.8l-2.1 -1.3zM329.1 320.9l3.2 1.9l-1.0 1.7l-3.2 -1.9zM302.0 276.1l2.1 1.3l-1.3 2.1l-2.1 -1.3zM320.9 282.9l3.2 1.9l-1.7 2.8l-3.2 -1.9zM304.2 296.0l3.2 1.9l-1.7 2.8l-3.2 -1.9z"/><polygon points="330.0,260.0 338.0,257.0 342.0,264.0 334.0,268.0" fill="#fff" stroke="#000" stroke-width="1.2" stroke-linejoin="round"/><polygon points="305.0,294.0 320.0,290.0 326.0,294.0 312.0,299.0" fill="#fff" stroke="#000" stroke-width="1.2" stroke-linejoin="round"/><polygon points="316.0,325.0 322.0,320.0 326.0,328.0 320.0,336.0" fill="#fff" stroke="#000" stroke-width="1.2" stroke-linejoin="round"/><polygon points="250.2,279.5 260.6,276.9 273.6,289.9 276.2,293.8 263.2,302.9 259.3,301.6 259.3,289.9 251.5,283.4" fill="#82dc82" stroke="#000" stroke-width="1.3" stroke-linejoin="round"/><path fill="#9cbffc" d="M263.6 287.3l3.8 2.3l-1.5 2.5l-3.8 -2.3zM259.4 293.6l1.9 1.1l-1.1 1.9l-1.9 -1.1zM253.0 280.4l1.9 1.1l-1.5 2.5l-1.9 -1.1zM259.3 287.8l1.9 1.1l-1.1 1.9l-1.9 -1.1z"/><path fill="#ffd800" d="M264.3 294.7l1.9 1.1l-1.5 2.5l-1.9 -1.1zM268.4 298.4l2.8 1.7l-1.5 2.5l-2.8 -1.7zM269.9 298.0l1.9 1.1l-1.5 2.5l-1.9 -1.1zM268.0 293.1l1.9 1.1l-1.1 1.9l-1.9 -1.1zM260.0 289.8l1.9 1.1l-1.5 2.5l-1.9 -1.1zM264.2 299.5l1.9 1.1l-1.1 1.9l-1.9 -1.1zM272.1 293.6l1.9 1.1l-1.1 1.9l-1.9 -1.1z"/><path fill="#2040f0" d="M260.4 289.7l3.8 2.3l-1.1 1.9l-3.8 -2.3zM255.8 280.8l2.8 1.7l-0.9 1.5l-2.8 -1.7zM269.2 293.6l3.8 2.3l-0.9 1.5l-3.8 -2.3zM262.3 297.8l2.8 1.7l-0.9 1.5l-2.8 -1.7z"/><polygon points="219.0,250.5 253.0,272.5 252.0,276.0 218.0,254.0" fill="#82dc82" stroke="#000" stroke-width="1.2" stroke-linejoin="round"/><polygon points="273.6,268.0 280.0,267.8 281.0,276.9 274.0,276.0" fill="#82dc82" stroke="#000" stroke-width="1.2" stroke-linejoin="round"/><polygon points="276.2,278.2 281.4,279.0 281.0,286.0 276.5,285.0" fill="#82dc82" stroke="#000" stroke-width="1.2" stroke-linejoin="round"/><polygon points="280.0,285.0 290.0,283.4 291.7,295.0 284.0,300.3 280.0,296.0" fill="#82dc82" stroke="#000" stroke-width="1.2" stroke-linejoin="round"/><polygon points="277.5,252.0 287.8,251.0 287.0,261.3 278.0,260.0" fill="#82dc82" stroke="#000" stroke-width="1.2" stroke-linejoin="round"/><polygon points="270.0,313.0 285.0,308.0 298.0,312.0 300.0,318.0 285.0,320.0 272.0,318.0" fill="#82dc82" stroke="#000" stroke-width="1.2" stroke-linejoin="round"/><polygon points="262.0,305.0 270.0,303.0 275.0,308.0 266.0,310.0" fill="#82dc82" stroke="#000" stroke-width="1.2" stroke-linejoin="round"/><polygon points="290.0,302.0 298.0,300.0 305.0,306.0 296.0,308.0" fill="#82dc82" stroke="#000" stroke-width="1.2" stroke-linejoin="round"/><polygon points="190.4,171.7 200.8,176.9 202.1,183.4 211.2,184.7 224.2,192.5 221.6,195.1 208.6,189.9 196.9,196.4 191.7,192.5 199.5,186.0 195.6,179.5" fill="#82dc82" stroke="#000" stroke-width="1.3" stroke-linejoin="round"/><polygon points="73.5,109.9 77.6,110.6 77.6,115.3 76.3,119.4 72.2,123.5 68.1,126.8 65.4,127.5 64.1,123.5 65.4,120.7 71.5,116.0" fill="#82dc82" stroke="#000" stroke-width="1.4" stroke-linejoin="round"/><polygon points="57.3,128.0 61.0,127.5 63.4,131.0 60.0,132.3 57.5,131.0" fill="#82dc82" stroke="#000" stroke-width="1.3" stroke-linejoin="round"/><polygon points="85.0,133.5 91.8,132.9 91.0,136.3 85.5,136.0" fill="#82dc82" stroke="#000" stroke-width="1.3" stroke-linejoin="round"/><polygon points="95.0,134.0 98.0,133.5 98.0,137.5 95.0,137.5" fill="#82dc82" stroke="#000" stroke-width="1.3" stroke-linejoin="round"/><polygon points="100.0,133.0 104.0,132.0 104.5,137.0 100.0,137.0" fill="#82dc82" stroke="#000" stroke-width="1.3" stroke-linejoin="round"/><polygon points="106.1,128.9 110.8,128.2 116.2,131.6 117.6,138.4 123.0,139.0 121.0,141.7 115.6,143.8 108.8,143.1 105.4,140.4 106.7,135.7" fill="#82dc82" stroke="#000" stroke-width="1.3" stroke-linejoin="round"/><polygon points="127.7,134.3 131.8,133.6 134.5,138.4 133.8,141.7 130.5,141.1 127.7,137.7" fill="#82dc82" stroke="#000" stroke-width="1.3" stroke-linejoin="round"/><polygon points="115.6,125.0 121.0,125.5 120.0,128.9 116.0,128.5" fill="#82dc82" stroke="#000" stroke-width="1.3" stroke-linejoin="round"/><ellipse cx="231.6" cy="268.2" rx="1.8" ry="1.4" fill="#000"/><ellipse cx="225.5" cy="287.6" rx="1.8" ry="1.4" fill="#000"/><ellipse cx="283.9" cy="275.0" rx="1.8" ry="1.4" fill="#000"/><ellipse cx="251.8" cy="285.4" rx="1.8" ry="1.4" fill="#000"/><ellipse cx="296.9" cy="253.9" rx="1.8" ry="1.4" fill="#000"/><ellipse cx="253.4" cy="307.1" rx="1.8" ry="1.4" fill="#000"/><ellipse cx="270.6" cy="236.7" rx="1.8" ry="1.4" fill="#000"/><ellipse cx="219.6" cy="252.0" rx="1.8" ry="1.4" fill="#000"/><ellipse cx="285.6" cy="269.9" rx="1.8" ry="1.4" fill="#000"/><ellipse cx="280.4" cy="267.3" rx="1.8" ry="1.4" fill="#000"/><ellipse cx="240.5" cy="225.3" rx="1.8" ry="1.4" fill="#000"/><ellipse cx="184.9" cy="235.6" rx="1.8" ry="1.4" fill="#000"/><ellipse cx="249.3" cy="310.3" rx="1.8" ry="1.4" fill="#000"/><ellipse cx="199.6" cy="250.2" rx="1.8" ry="1.4" fill="#000"/><ellipse cx="288.9" cy="266.2" rx="1.8" ry="1.4" fill="#000"/><ellipse cx="243.8" cy="228.7" rx="1.8" ry="1.4" fill="#000"/><ellipse cx="257.1" cy="266.2" rx="1.8" ry="1.4" fill="#000"/><ellipse cx="251.0" cy="229.3" rx="1.8" ry="1.4" fill="#000"/><ellipse cx="205.3" cy="236.7" rx="1.8" ry="1.4" fill="#000"/><ellipse cx="259.3" cy="281.8" rx="1.8" ry="1.4" fill="#000"/><ellipse cx="276.1" cy="238.3" rx="1.8" ry="1.4" fill="#000"/><ellipse cx="210.6" cy="212.7" rx="1.8" ry="1.4" fill="#000"/><ellipse cx="248.2" cy="310.8" rx="1.8" ry="1.4" fill="#000"/><ellipse cx="261.5" cy="270.4" rx="1.8" ry="1.4" fill="#000"/><ellipse cx="290.4" cy="246.8" rx="1.8" ry="1.4" fill="#000"/><ellipse cx="213.3" cy="209.2" rx="1.8" ry="1.4" fill="#000"/><ellipse cx="237.7" cy="274.0" rx="1.8" ry="1.4" fill="#000"/><ellipse cx="234.1" cy="252.4" rx="1.8" ry="1.4" fill="#000"/><ellipse cx="234.6" cy="290.1" rx="1.8" ry="1.4" fill="#000"/><ellipse cx="211.1" cy="273.7" rx="1.8" ry="1.4" fill="#000"/><ellipse cx="215.7" cy="209.2" rx="1.8" ry="1.4" fill="#000"/><ellipse cx="239.7" cy="271.8" rx="1.8" ry="1.4" fill="#000"/><ellipse cx="241.7" cy="233.5" rx="1.8" ry="1.4" fill="#000"/><ellipse cx="254.5" cy="270.9" rx="1.8" ry="1.4" fill="#000"/><ellipse cx="255.1" cy="257.2" rx="1.8" ry="1.4" fill="#000"/><polygon points="468.0,420.0 474.0,418.0 476.0,422.0 470.0,424.0" fill="#82dc82" stroke="#000" stroke-width="1.2" stroke-linejoin="round"/><polygon points="478.0,428.0 484.0,426.0 486.0,434.0 480.0,436.0" fill="#82dc82" stroke="#000" stroke-width="1.2" stroke-linejoin="round"/><polygon points="458.0,356.0 461.0,355.0 462.0,358.0 459.0,359.0" fill="#82dc82" stroke="#000" stroke-width="1.2" stroke-linejoin="round"/><g stroke="#333" stroke-width="1.35" stroke-dasharray="3 5.27" fill="none"><line x1="68.60" y1="41" x2="68.60" y2="549"/><line x1="147.30" y1="41" x2="147.30" y2="549"/><line x1="226.00" y1="41" x2="226.00" y2="549"/><line x1="304.70" y1="41" x2="304.70" y2="549"/><line x1="383.40" y1="41" x2="383.40" y2="549"/><line x1="462.10" y1="41" x2="462.10" y2="549"/><line x1="13" y1="67.20" x2="486" y2="67.20"/><line x1="13" y1="151.70" x2="486" y2="151.70"/><line x1="13" y1="236.20" x2="486" y2="236.20"/><line x1="13" y1="320.70" x2="486" y2="320.70"/><line x1="13" y1="405.20" x2="486" y2="405.20"/><line x1="13" y1="489.70" x2="486" y2="489.70"/></g><g stroke="#000" stroke-width="1.25" stroke-dasharray="12.2 11.5" fill="none"><path d="M13.00,55.89 Q249.00,216.18 485.00,343.32"/><path d="M13.00,152.94 Q249.50,312.51 486.00,436.77"/></g><g style="font-family:'Liberation Sans',sans-serif" font-size="12.5" fill="#000"><text x="68.60" y="300.2" text-anchor="middle">54</text><text x="147.30" y="300.2" text-anchor="middle">56</text><text x="226.00" y="300.2" text-anchor="middle">58</text><text x="304.70" y="300.2" text-anchor="middle">60</text><text x="383.40" y="300.2" text-anchor="middle">62</text><text x="462.10" y="300.2" text-anchor="middle">64</text><text x="235.5" y="66.70">-16</text><text x="235.5" y="151.20">-18</text><text x="235.5" y="235.70">-20</text><text x="235.5" y="320.20">-22</text><text x="235.5" y="404.70">-24</text><text x="235.5" y="489.20">-26</text></g><path d="M242.8,294.5 H255.8 M249.3,288.0 V301.0" stroke="#000" stroke-width="5" fill="none"/><text x="37.3" y="65.5" style="font-family:'Liberation Sans',sans-serif" font-size="25" fill="#000">2A25 near surface rainrate (mm/hr)</text><text x="438.5" y="522.7" style="font-family:'Liberation Sans',sans-serif" font-size="30" fill="#000">(c)</text><rect x="495" y="531.54" width="9" height="8.86" fill="#82e082"/><rect x="495" y="523.08" width="9" height="8.86" fill="#7dd97d"/><rect x="495" y="514.63" width="9" height="8.86" fill="#77d377"/><rect x="495" y="506.17" width="9" height="8.86" fill="#72cc72"/><rect x="495" y="497.71" width="9" height="8.86" fill="#6dc56d"/><rect x="495" y="489.25" width="9" height="8.86" fill="#67bf67"/><rect x="495" y="480.80" width="9" height="8.86" fill="#62b862"/><rect x="495" y="472.34" width="9" height="8.86" fill="#ccd4fc"/><rect x="495" y="463.88" width="9" height="8.86" fill="#bacbfc"/><rect x="495" y="455.42" width="9" height="8.86" fill="#a9c4fc"/><rect x="495" y="446.97" width="9" height="8.86" fill="#98bdfc"/><rect x="495" y="438.51" width="9" height="8.86" fill="#89b6fc"/><rect x="495" y="430.05" width="9" height="8.86" fill="#78b1fc"/><rect x="495" y="421.59" width="9" height="8.86" fill="#66abfc"/><rect x="495" y="413.14" width="9" height="8.86" fill="#56a3fb"/><rect x="495" y="404.68" width="9" height="8.86" fill="#4b96f8"/><rect x="495" y="396.22" width="9" height="8.86" fill="#4487f5"/><rect x="495" y="387.76" width="9" height="8.86" fill="#3d77f5"/><rect x="495" y="379.31" width="9" height="8.86" fill="#3765f6"/><rect x="495" y="370.85" width="9" height="8.86" fill="#3154f8"/><rect x="495" y="362.39" width="9" height="8.86" fill="#2b42f8"/><rect x="495" y="353.93" width="9" height="8.86" fill="#1b26fa"/><rect x="495" y="345.47" width="9" height="8.86" fill="#0000fe"/><rect x="495" y="337.02" width="9" height="8.86" fill="#0000f2"/><rect x="495" y="328.56" width="9" height="8.86" fill="#0000e5"/><rect x="495" y="320.10" width="9" height="8.86" fill="#0000d9"/><rect x="495" y="311.64" width="9" height="8.86" fill="#0000cc"/><rect x="495" y="303.19" width="9" height="8.86" fill="#ffff00"/><rect x="495" y="294.73" width="9" height="8.86" fill="#fff600"/><rect x="495" y="286.27" width="9" height="8.86" fill="#ffee00"/><rect x="495" y="277.81" width="9" height="8.86" fill="#ffe600"/><rect x="495" y="269.36" width="9" height="8.86" fill="#ffdd00"/><rect x="495" y="260.90" width="9" height="8.86" fill="#ffd400"/><rect x="495" y="252.44" width="9" height="8.86" fill="#ffcc00"/><rect x="495" y="243.98" width="9" height="8.86" fill="#ff8400"/><rect x="495" y="235.53" width="9" height="8.86" fill="#ff7f00"/><rect x="495" y="227.07" width="9" height="8.86" fill="#ff7a00"/><rect x="495" y="218.61" width="9" height="8.86" fill="#ff7600"/><rect x="495" y="210.15" width="9" height="8.86" fill="#ff7100"/><rect x="495" y="201.69" width="9" height="8.86" fill="#ff6c00"/><rect x="495" y="193.24" width="9" height="8.86" fill="#ff4000"/><rect x="495" y="184.78" width="9" height="8.86" fill="#ff3900"/><rect x="495" y="176.32" width="9" height="8.86" fill="#ff3200"/><rect x="495" y="167.86" width="9" height="8.86" fill="#ff2b00"/><rect x="495" y="159.41" width="9" height="8.86" fill="#ff2500"/><rect x="495" y="150.95" width="9" height="8.86" fill="#ff1e00"/><rect x="495" y="142.49" width="9" height="8.86" fill="#ff1700"/><rect x="495" y="134.03" width="9" height="8.86" fill="#ff1000"/><rect x="495" y="125.58" width="9" height="8.86" fill="#cc0000"/><rect x="495" y="117.12" width="9" height="8.86" fill="#c30000"/><rect x="495" y="108.66" width="9" height="8.86" fill="#ba0000"/><rect x="495" y="100.20" width="9" height="8.86" fill="#b20000"/><rect x="495" y="91.75" width="9" height="8.86" fill="#a90000"/><rect x="495" y="83.29" width="9" height="8.86" fill="#a00000"/><rect x="495" y="74.83" width="9" height="8.86" fill="#640a04"/><rect x="495" y="66.37" width="9" height="8.86" fill="#600e08"/><rect x="495" y="57.92" width="9" height="8.86" fill="#5c110c"/><rect x="495" y="49.46" width="9" height="8.86" fill="#581410"/><rect x="495" y="41.00" width="9" height="8.86" fill="#541814"/><g stroke="#000" stroke-width="1"><line x1="504" y1="548.50" x2="507" y2="548.50"/><line x1="504" y1="497.70" x2="507" y2="497.70"/><line x1="504" y1="446.90" x2="507" y2="446.90"/><line x1="504" y1="396.10" x2="507" y2="396.10"/><line x1="504" y1="345.30" x2="507" y2="345.30"/><line x1="504" y1="294.50" x2="507" y2="294.50"/><line x1="504" y1="243.70" x2="507" y2="243.70"/><line x1="504" y1="192.90" x2="507" y2="192.90"/><line x1="504" y1="142.10" x2="507" y2="142.10"/><line x1="504" y1="91.30" x2="507" y2="91.30"/></g><g style="font-family:'Liberation Sans',sans-serif" font-size="20" fill="#000" text-anchor="middle"><text x="524.3" y="557.10">0</text><text x="524.3" y="506.30">6</text><text x="524.3" y="455.50">12</text><text x="524.3" y="404.70">18</text><text x="524.3" y="353.90">24</text><text x="524.3" y="303.10">30</text><text x="524.3" y="252.30">36</text><text x="524.3" y="201.50">42</text><text x="524.3" y="150.70">48</text><text x="524.3" y="99.90">54</text></g>
</g>
<g transform="translate(0.000,590.333)">
<defs><radialGradient id="gdD" cx="0.5" cy="0.5" r="0.5"><stop offset="0" stop-color="#b8b8b8" stop-opacity="0.9"/><stop offset="0.6" stop-color="#c8c8c8" stop-opacity="0.5"/><stop offset="1" stop-color="#e8e8e8" stop-opacity="0"/></radialGradient><radialGradient id="gdS" cx="0.5" cy="0.5" r="0.5"><stop offset="0" stop-color="#a8a8a8" stop-opacity="0.8"/><stop offset="1" stop-color="#e8e8e8" stop-opacity="0"/></radialGradient></defs><clipPath id="clipD"><polygon points="13.0,41.0 179.7,41.0 179.7,40.4 195.8,50.7 211.9,61.0 228.1,71.2 244.2,81.3 260.3,91.3 276.4,101.2 292.5,111.0 308.7,120.7 324.8,130.4 340.9,140.0 357.0,149.4 373.2,158.8 389.3,168.1 405.4,177.3 421.5,186.4 437.6,195.5 453.8,204.4 469.9,213.3 486.0,222.0 486.0,548.4 475.7,548.2 451.3,535.2 427.0,522.0 402.6,508.7 378.3,495.2 353.9,481.6 329.6,467.8 305.2,453.8 280.9,439.7 256.5,425.4 232.2,411.0 207.8,396.4 183.5,381.7 159.1,366.8 134.8,351.8 110.4,336.6 86.1,321.2 61.7,305.7 37.4,290.1 13.0,274.2"/></clipPath><g clip-path="url(#clipD)"><polygon points="13.0,41.0 179.7,41.0 179.7,40.4 195.8,50.7 211.9,61.0 228.1,71.2 244.2,81.3 260.3,91.3 276.4,101.2 292.5,111.0 308.7,120.7 324.8,130.4 340.9,140.0 357.0,149.4 373.2,158.8 389.3,168.1 405.4,177.3 421.5,186.4 437.6,195.5 453.8,204.4 469.9,213.3 486.0,222.0 486.0,548.4 475.7,548.2 451.3,535.2 427.0,522.0 402.6,508.7 378.3,495.2 353.9,481.6 329.6,467.8 305.2,453.8 280.9,439.7 256.5,425.4 232.2,411.0 207.8,396.4 183.5,381.7 159.1,366.8 134.8,351.8 110.4,336.6 86.1,321.2 61.7,305.7 37.4,290.1 13.0,274.2" fill="#e9e9e9"/><circle cx="300" cy="300" r="250" fill="none" stroke="#f2f2f2" stroke-width="6"/><circle cx="300" cy="300" r="200" fill="none" stroke="#f0f0f0" stroke-width="5"/><circle cx="300" cy="300" r="150" fill="none" stroke="#efefef" stroke-width="5"/><circle cx="300" cy="300" r="320" fill="none" stroke="#efefef" stroke-width="6"/><circle cx="300" cy="300" r="100" fill="none" stroke="#e2e2e2" stroke-width="6"/><path fill="#f0f0f0" d="M227.0 325.4l4.3 2.6l-3.1 5.1l-4.3 -2.6zM18.2 277.2l4.3 2.6l-3.1 5.1l-4.3 -2.6zM211.3 235.9l4.3 2.6l-1.5 2.6l-4.3 -2.6zM241.1 412.1l4.3 2.6l-1.5 2.6l-4.3 -2.6zM361.6 398.5l4.3 2.6l-1.5 2.6l-4.3 -2.6zM248.2 353.2l4.3 2.6l-1.5 2.6l-4.3 -2.6zM328.0 141.8l4.3 2.6l-1.5 2.6l-4.3 -2.6zM194.8 337.2l4.3 2.6l-1.5 2.6l-4.3 -2.6zM93.0 269.9l4.3 2.6l-1.5 2.6l-4.3 -2.6zM303.6 425.2l8.6 5.2l-1.5 2.6l-8.6 -5.2zM475.0 514.6l8.6 5.2l-1.5 2.6l-8.6 -5.2zM177.8 83.0l4.3 2.6l-3.1 5.1l-4.3 -2.6zM67.1 43.5l4.3 2.6l-3.1 5.1l-4.3 -2.6zM471.5 303.1l8.6 5.2l-3.1 5.1l-8.6 -5.2zM73.1 261.3l8.6 5.2l-1.5 2.6l-8.6 -5.2zM352.5 397.3l4.3 2.6l-1.5 2.6l-4.3 -2.6zM135.7 90.3l8.6 5.2l-3.1 5.1l-8.6 -5.2zM67.6 297.9l8.6 5.2l-3.1 5.1l-8.6 -5.2zM407.0 448.8l4.3 2.6l-1.5 2.6l-4.3 -2.6zM374.7 207.0l4.3 2.6l-3.1 5.1l-4.3 -2.6zM180.7 147.7l4.3 2.6l-3.1 5.1l-4.3 -2.6zM375.9 429.7l4.3 2.6l-3.1 5.1l-4.3 -2.6zM155.7 92.2l8.6 5.2l-3.1 5.1l-8.6 -5.2zM316.8 397.2l8.6 5.2l-1.5 2.6l-8.6 -5.2zM18.1 172.3l4.3 2.6l-3.1 5.1l-4.3 -2.6zM160.8 310.4l8.6 5.2l-1.5 2.6l-8.6 -5.2zM290.1 362.6l8.6 5.2l-1.5 2.6l-8.6 -5.2zM38.0 201.1l4.3 2.6l-3.1 5.1l-4.3 -2.6zM150.2 106.5l4.3 2.6l-3.1 5.1l-4.3 -2.6zM31.7 71.9l4.3 2.6l-1.5 2.6l-4.3 -2.6zM241.9 220.9l4.3 2.6l-1.5 2.6l-4.3 -2.6zM322.3 335.9l4.3 2.6l-1.5 2.6l-4.3 -2.6zM362.5 228.1l8.6 5.2l-1.5 2.6l-8.6 -5.2zM173.0 274.2l4.3 2.6l-1.5 2.6l-4.3 -2.6zM394.2 464.6l8.6 5.2l-3.1 5.1l-8.6 -5.2zM197.2 309.8l4.3 2.6l-1.5 2.6l-4.3 -2.6zM239.8 173.3l4.3 2.6l-3.1 5.1l-4.3 -2.6zM450.2 494.2l4.3 2.6l-1.5 2.6l-4.3 -2.6zM87.2 204.5l8.6 5.2l-1.5 2.6l-8.6 -5.2zM303.8 309.2l8.6 5.2l-1.5 2.6l-8.6 -5.2zM261.6 121.0l4.3 2.6l-1.5 2.6l-4.3 -2.6zM204.8 323.6l8.6 5.2l-3.1 5.1l-8.6 -5.2zM279.2 408.7l4.3 2.6l-1.5 2.6l-4.3 -2.6zM191.6 299.8l4.3 2.6l-3.1 5.1l-4.3 -2.6zM285.7 395.1l4.3 2.6l-1.5 2.6l-4.3 -2.6zM370.6 471.5l8.6 5.2l-3.1 5.1l-8.6 -5.2zM234.4 113.6l4.3 2.6l-3.1 5.1l-4.3 -2.6zM466.8 345.8l4.3 2.6l-1.5 2.6l-4.3 -2.6zM409.5 475.4l4.3 2.6l-1.5 2.6l-4.3 -2.6zM261.8 307.7l4.3 2.6l-1.5 2.6l-4.3 -2.6zM359.2 344.5l8.6 5.2l-1.5 2.6l-8.6 -5.2zM13.3 164.9l4.3 2.6l-1.5 2.6l-4.3 -2.6zM94.4 264.9l8.6 5.2l-1.5 2.6l-8.6 -5.2zM122.2 196.6l4.3 2.6l-1.5 2.6l-4.3 -2.6zM166.4 113.8l4.3 2.6l-1.5 2.6l-4.3 -2.6zM409.3 220.9l4.3 2.6l-1.5 2.6l-4.3 -2.6zM250.2 191.1l4.3 2.6l-3.1 5.1l-4.3 -2.6zM290.4 313.9l8.6 5.2l-1.5 2.6l-8.6 -5.2zM300.6 160.6l8.6 5.2l-1.5 2.6l-8.6 -5.2zM300.7 350.1l8.6 5.2l-1.5 2.6l-8.6 -5.2zM125.6 115.3l4.3 2.6l-1.5 2.6l-4.3 -2.6zM192.2 167.1l8.6 5.2l-3.1 5.1l-8.6 -5.2zM198.9 192.4l4.3 2.6l-1.5 2.6l-4.3 -2.6zM53.7 156.4l4.3 2.6l-3.1 5.1l-4.3 -2.6zM109.3 149.9l4.3 2.6l-1.5 2.6l-4.3 -2.6zM351.3 177.5l4.3 2.6l-1.5 2.6l-4.3 -2.6zM485.0 467.1l4.3 2.6l-1.5 2.6l-4.3 -2.6zM272.3 200.4l8.6 5.2l-1.5 2.6l-8.6 -5.2z"/><path fill="#dedede" d="M393.2 282.7l4.3 2.6l-1.5 2.6l-4.3 -2.6zM224.2 113.0l8.6 5.2l-3.1 5.1l-8.6 -5.2zM469.3 373.2l8.6 5.2l-1.5 2.6l-8.6 -5.2zM381.0 206.8l4.3 2.6l-3.1 5.1l-4.3 -2.6zM229.3 182.3l4.3 2.6l-3.1 5.1l-4.3 -2.6zM20.3 228.3l4.3 2.6l-1.5 2.6l-4.3 -2.6zM466.7 286.7l4.3 2.6l-1.5 2.6l-4.3 -2.6zM310.5 322.4l4.3 2.6l-1.5 2.6l-4.3 -2.6zM255.3 170.6l8.6 5.2l-1.5 2.6l-8.6 -5.2zM72.8 284.5l8.6 5.2l-3.1 5.1l-8.6 -5.2zM96.4 228.3l4.3 2.6l-1.5 2.6l-4.3 -2.6zM476.8 374.7l8.6 5.2l-3.1 5.1l-8.6 -5.2zM357.4 238.3l8.6 5.2l-3.1 5.1l-8.6 -5.2zM229.5 276.0l4.3 2.6l-3.1 5.1l-4.3 -2.6zM187.0 113.8l4.3 2.6l-3.1 5.1l-4.3 -2.6zM193.9 305.1l4.3 2.6l-3.1 5.1l-4.3 -2.6zM282.9 198.0l4.3 2.6l-3.1 5.1l-4.3 -2.6zM381.6 445.8l4.3 2.6l-1.5 2.6l-4.3 -2.6zM141.8 216.6l8.6 5.2l-3.1 5.1l-8.6 -5.2zM422.7 446.5l4.3 2.6l-1.5 2.6l-4.3 -2.6zM485.9 498.5l8.6 5.2l-3.1 5.1l-8.6 -5.2zM278.6 124.5l8.6 5.2l-1.5 2.6l-8.6 -5.2zM160.4 234.7l4.3 2.6l-1.5 2.6l-4.3 -2.6zM165.3 221.5l4.3 2.6l-1.5 2.6l-4.3 -2.6zM249.3 336.8l8.6 5.2l-1.5 2.6l-8.6 -5.2zM304.3 314.4l8.6 5.2l-3.1 5.1l-8.6 -5.2zM116.3 150.8l8.6 5.2l-3.1 5.1l-8.6 -5.2zM72.6 245.6l4.3 2.6l-1.5 2.6l-4.3 -2.6zM58.1 72.5l4.3 2.6l-1.5 2.6l-4.3 -2.6zM166.1 84.1l8.6 5.2l-1.5 2.6l-8.6 -5.2zM282.5 138.0l4.3 2.6l-1.5 2.6l-4.3 -2.6zM145.2 100.1l4.3 2.6l-1.5 2.6l-4.3 -2.6zM76.0 208.6l8.6 5.2l-1.5 2.6l-8.6 -5.2zM36.4 179.7l4.3 2.6l-1.5 2.6l-4.3 -2.6zM268.7 252.2l8.6 5.2l-1.5 2.6l-8.6 -5.2zM417.7 316.3l4.3 2.6l-1.5 2.6l-4.3 -2.6zM460.1 254.7l4.3 2.6l-3.1 5.1l-4.3 -2.6zM278.2 185.0l8.6 5.2l-1.5 2.6l-8.6 -5.2zM228.5 174.2l8.6 5.2l-1.5 2.6l-8.6 -5.2zM435.2 439.4l4.3 2.6l-1.5 2.6l-4.3 -2.6zM280.2 341.6l4.3 2.6l-1.5 2.6l-4.3 -2.6zM102.8 167.5l4.3 2.6l-3.1 5.1l-4.3 -2.6zM47.3 84.9l4.3 2.6l-3.1 5.1l-4.3 -2.6zM166.9 319.7l4.3 2.6l-1.5 2.6l-4.3 -2.6zM270.1 260.5l4.3 2.6l-3.1 5.1l-4.3 -2.6zM17.4 198.6l8.6 5.2l-1.5 2.6l-8.6 -5.2zM341.8 292.3l4.3 2.6l-1.5 2.6l-4.3 -2.6zM221.6 343.1l4.3 2.6l-1.5 2.6l-4.3 -2.6zM229.8 153.4l8.6 5.2l-1.5 2.6l-8.6 -5.2zM331.0 291.8l8.6 5.2l-1.5 2.6l-8.6 -5.2zM158.9 99.3l4.3 2.6l-1.5 2.6l-4.3 -2.6zM296.8 280.7l4.3 2.6l-1.5 2.6l-4.3 -2.6zM392.1 236.6l8.6 5.2l-1.5 2.6l-8.6 -5.2zM389.9 403.4l4.3 2.6l-1.5 2.6l-4.3 -2.6zM18.8 232.6l4.3 2.6l-1.5 2.6l-4.3 -2.6zM110.2 116.2l4.3 2.6l-1.5 2.6l-4.3 -2.6zM350.5 170.0l4.3 2.6l-3.1 5.1l-4.3 -2.6zM125.9 330.2l8.6 5.2l-1.5 2.6l-8.6 -5.2zM278.0 175.3l4.3 2.6l-3.1 5.1l-4.3 -2.6zM184.7 125.3l8.6 5.2l-1.5 2.6l-8.6 -5.2zM227.9 245.9l4.3 2.6l-1.5 2.6l-4.3 -2.6zM281.7 209.7l4.3 2.6l-3.1 5.1l-4.3 -2.6zM437.1 504.8l4.3 2.6l-1.5 2.6l-4.3 -2.6zM164.7 68.8l8.6 5.2l-1.5 2.6l-8.6 -5.2zM470.1 379.2l4.3 2.6l-3.1 5.1l-4.3 -2.6zM313.5 395.5l4.3 2.6l-3.1 5.1l-4.3 -2.6zM261.0 99.8l4.3 2.6l-1.5 2.6l-4.3 -2.6zM119.9 108.3l4.3 2.6l-1.5 2.6l-4.3 -2.6zM478.0 264.7l4.3 2.6l-3.1 5.1l-4.3 -2.6zM102.6 132.1l8.6 5.2l-1.5 2.6l-8.6 -5.2zM249.5 132.4l8.6 5.2l-1.5 2.6l-8.6 -5.2zM336.7 305.4l4.3 2.6l-3.1 5.1l-4.3 -2.6zM442.2 330.0l8.6 5.2l-3.1 5.1l-8.6 -5.2zM342.0 457.4l8.6 5.2l-1.5 2.6l-8.6 -5.2zM375.0 294.2l8.6 5.2l-1.5 2.6l-8.6 -5.2zM233.8 395.9l4.3 2.6l-1.5 2.6l-4.3 -2.6zM31.6 163.2l4.3 2.6l-1.5 2.6l-4.3 -2.6zM334.6 405.2l8.6 5.2l-1.5 2.6l-8.6 -5.2zM116.3 122.5l8.6 5.2l-1.5 2.6l-8.6 -5.2zM361.8 329.2l4.3 2.6l-1.5 2.6l-4.3 -2.6zM177.3 134.3l4.3 2.6l-1.5 2.6l-4.3 -2.6zM306.7 304.6l4.3 2.6l-3.1 5.1l-4.3 -2.6z"/><path fill="#e2e2e2" d="M42.9 59.1l8.6 5.2l-1.5 2.6l-8.6 -5.2zM123.5 190.4l8.6 5.2l-1.5 2.6l-8.6 -5.2zM64.0 188.8l4.3 2.6l-3.1 5.1l-4.3 -2.6zM13.3 147.5l4.3 2.6l-1.5 2.6l-4.3 -2.6zM476.7 242.9l8.6 5.2l-3.1 5.1l-8.6 -5.2zM172.4 199.1l4.3 2.6l-1.5 2.6l-4.3 -2.6zM277.5 268.3l8.6 5.2l-1.5 2.6l-8.6 -5.2zM474.1 342.1l4.3 2.6l-1.5 2.6l-4.3 -2.6zM168.6 191.5l4.3 2.6l-1.5 2.6l-4.3 -2.6zM99.5 119.3l8.6 5.2l-1.5 2.6l-8.6 -5.2zM298.5 255.1l4.3 2.6l-1.5 2.6l-4.3 -2.6zM295.1 190.1l8.6 5.2l-1.5 2.6l-8.6 -5.2zM48.1 148.9l8.6 5.2l-1.5 2.6l-8.6 -5.2zM45.7 250.0l4.3 2.6l-1.5 2.6l-4.3 -2.6zM460.9 340.7l4.3 2.6l-1.5 2.6l-4.3 -2.6zM425.0 252.9l4.3 2.6l-3.1 5.1l-4.3 -2.6zM47.2 87.0l4.3 2.6l-1.5 2.6l-4.3 -2.6zM297.4 285.3l8.6 5.2l-1.5 2.6l-8.6 -5.2zM325.2 265.5l4.3 2.6l-1.5 2.6l-4.3 -2.6zM76.6 219.2l8.6 5.2l-1.5 2.6l-8.6 -5.2zM227.0 78.9l4.3 2.6l-3.1 5.1l-4.3 -2.6zM77.3 272.1l4.3 2.6l-1.5 2.6l-4.3 -2.6zM315.7 228.3l8.6 5.2l-1.5 2.6l-8.6 -5.2zM107.3 282.4l8.6 5.2l-1.5 2.6l-8.6 -5.2zM370.1 312.7l4.3 2.6l-1.5 2.6l-4.3 -2.6zM227.5 358.8l4.3 2.6l-3.1 5.1l-4.3 -2.6zM232.3 371.9l4.3 2.6l-3.1 5.1l-4.3 -2.6zM127.6 239.2l4.3 2.6l-3.1 5.1l-4.3 -2.6zM212.3 180.8l4.3 2.6l-1.5 2.6l-4.3 -2.6zM265.2 389.8l4.3 2.6l-1.5 2.6l-4.3 -2.6zM286.8 391.0l4.3 2.6l-3.1 5.1l-4.3 -2.6zM261.0 332.1l4.3 2.6l-3.1 5.1l-4.3 -2.6zM70.7 88.4l4.3 2.6l-3.1 5.1l-4.3 -2.6zM391.6 246.3l4.3 2.6l-1.5 2.6l-4.3 -2.6zM64.4 254.1l4.3 2.6l-1.5 2.6l-4.3 -2.6zM29.9 120.0l8.6 5.2l-1.5 2.6l-8.6 -5.2zM363.4 452.7l4.3 2.6l-3.1 5.1l-4.3 -2.6zM256.5 329.9l4.3 2.6l-1.5 2.6l-4.3 -2.6zM67.4 128.6l4.3 2.6l-3.1 5.1l-4.3 -2.6zM344.6 469.9l4.3 2.6l-1.5 2.6l-4.3 -2.6zM183.1 229.1l8.6 5.2l-1.5 2.6l-8.6 -5.2zM115.2 247.3l8.6 5.2l-1.5 2.6l-8.6 -5.2zM67.3 95.9l4.3 2.6l-1.5 2.6l-4.3 -2.6zM202.9 66.6l8.6 5.2l-1.5 2.6l-8.6 -5.2zM314.8 452.2l8.6 5.2l-3.1 5.1l-8.6 -5.2zM480.7 520.8l4.3 2.6l-1.5 2.6l-4.3 -2.6zM353.1 168.5l4.3 2.6l-3.1 5.1l-4.3 -2.6zM210.3 100.9l4.3 2.6l-3.1 5.1l-4.3 -2.6zM86.2 225.6l8.6 5.2l-1.5 2.6l-8.6 -5.2zM25.7 60.3l8.6 5.2l-1.5 2.6l-8.6 -5.2zM365.3 467.0l4.3 2.6l-1.5 2.6l-4.3 -2.6zM395.7 357.9l4.3 2.6l-1.5 2.6l-4.3 -2.6zM366.5 239.2l4.3 2.6l-1.5 2.6l-4.3 -2.6zM323.9 207.1l4.3 2.6l-3.1 5.1l-4.3 -2.6zM408.6 326.9l4.3 2.6l-1.5 2.6l-4.3 -2.6zM270.4 329.3l8.6 5.2l-1.5 2.6l-8.6 -5.2zM365.8 370.7l8.6 5.2l-1.5 2.6l-8.6 -5.2zM24.5 224.9l4.3 2.6l-1.5 2.6l-4.3 -2.6zM449.8 506.1l8.6 5.2l-1.5 2.6l-8.6 -5.2zM481.7 231.8l4.3 2.6l-1.5 2.6l-4.3 -2.6zM444.5 423.6l8.6 5.2l-1.5 2.6l-8.6 -5.2zM64.4 134.7l8.6 5.2l-1.5 2.6l-8.6 -5.2zM100.5 183.8l4.3 2.6l-3.1 5.1l-4.3 -2.6zM241.3 153.3l4.3 2.6l-1.5 2.6l-4.3 -2.6zM139.1 312.6l8.6 5.2l-1.5 2.6l-8.6 -5.2zM413.2 458.6l4.3 2.6l-1.5 2.6l-4.3 -2.6zM270.0 298.0l4.3 2.6l-1.5 2.6l-4.3 -2.6zM382.6 264.6l8.6 5.2l-1.5 2.6l-8.6 -5.2zM44.7 78.8l4.3 2.6l-3.1 5.1l-4.3 -2.6zM199.5 275.6l8.6 5.2l-1.5 2.6l-8.6 -5.2zM151.8 98.6l8.6 5.2l-1.5 2.6l-8.6 -5.2zM370.1 323.2l4.3 2.6l-1.5 2.6l-4.3 -2.6zM56.6 112.5l4.3 2.6l-3.1 5.1l-4.3 -2.6zM311.2 132.1l4.3 2.6l-1.5 2.6l-4.3 -2.6zM408.9 342.1l4.3 2.6l-1.5 2.6l-4.3 -2.6zM169.8 250.4l8.6 5.2l-1.5 2.6l-8.6 -5.2zM303.0 202.4l8.6 5.2l-3.1 5.1l-8.6 -5.2zM263.6 173.4l4.3 2.6l-1.5 2.6l-4.3 -2.6zM255.9 332.7l8.6 5.2l-3.1 5.1l-8.6 -5.2zM324.9 435.5l4.3 2.6l-1.5 2.6l-4.3 -2.6zM315.9 428.8l4.3 2.6l-1.5 2.6l-4.3 -2.6zM204.9 211.8l4.3 2.6l-1.5 2.6l-4.3 -2.6zM473.0 282.7l8.6 5.2l-1.5 2.6l-8.6 -5.2zM270.8 374.7l4.3 2.6l-3.1 5.1l-4.3 -2.6zM366.2 328.9l4.3 2.6l-3.1 5.1l-4.3 -2.6zM312.1 138.3l8.6 5.2l-1.5 2.6l-8.6 -5.2zM381.4 251.9l4.3 2.6l-1.5 2.6l-4.3 -2.6zM164.7 286.6l8.6 5.2l-1.5 2.6l-8.6 -5.2zM385.0 442.9l4.3 2.6l-1.5 2.6l-4.3 -2.6zM298.4 173.8l8.6 5.2l-3.1 5.1l-8.6 -5.2zM37.8 268.8l4.3 2.6l-1.5 2.6l-4.3 -2.6zM355.0 476.2l4.3 2.6l-1.5 2.6l-4.3 -2.6zM406.0 440.6l4.3 2.6l-1.5 2.6l-4.3 -2.6zM152.9 101.4l4.3 2.6l-1.5 2.6l-4.3 -2.6zM419.8 516.2l4.3 2.6l-1.5 2.6l-4.3 -2.6zM109.8 235.5l4.3 2.6l-3.1 5.1l-4.3 -2.6zM357.4 435.6l4.3 2.6l-3.1 5.1l-4.3 -2.6zM199.3 162.1l4.3 2.6l-1.5 2.6l-4.3 -2.6zM256.1 105.8l4.3 2.6l-1.5 2.6l-4.3 -2.6zM213.6 317.3l8.6 5.2l-3.1 5.1l-8.6 -5.2z"/><ellipse cx="310" cy="285" rx="75" ry="60" fill="url(#gdD)"/><ellipse cx="260" cy="320" rx="40" ry="30" fill="url(#gdD)"/><ellipse cx="105" cy="130" rx="25" ry="15" fill="url(#gdS)"/><ellipse cx="67" cy="117" rx="12" ry="10" fill="url(#gdS)"/><ellipse cx="194" cy="176" rx="14" ry="10" fill="url(#gdS)"/><ellipse cx="338" cy="188" rx="14" ry="12" fill="url(#gdS)"/><ellipse cx="250" cy="378" rx="20" ry="12" fill="url(#gdS)"/><ellipse cx="232" cy="408" rx="25" ry="10" fill="url(#gdS)"/><ellipse cx="290" cy="446" rx="16" ry="8" fill="url(#gdS)"/><ellipse cx="120" cy="280" rx="20" ry="14" fill="url(#gdS)"/><ellipse cx="462" cy="218" rx="10" ry="8" fill="url(#gdS)"/><ellipse cx="385" cy="270" rx="8" ry="8" fill="url(#gdS)"/></g><polygon points="307.6,274.3 314.4,270.1 326.2,268.4 334.7,264.2 339.8,260.8 344.8,259.1 351.6,262.5 355.0,255.7 357.5,269.3 355.8,274.3 360.9,278.6 356.7,282.8 360.1,295.5 339.8,296.4 338.9,299.7 335.5,297.2 334.7,290.4 329.6,291.3 323.7,288.7 317.7,284.5 312.7,282.0 308.4,278.6" fill="#80dc80" stroke="#000" stroke-width="1.6" stroke-linejoin="round"/><clipPath id="dg1"><polygon points="310.0,275.0 326.0,270.0 345.0,268.0 350.0,285.0 335.0,292.0 318.0,287.0"/></clipPath><g clip-path="url(#dg1)"><g transform="rotate(31 330.0 280.0)"><rect x="266.0" y="248.0" width="128.0" height="3.8" fill="#c8d4fa"/><rect x="266.0" y="251.5" width="128.0" height="3.8" fill="#5aa8f8"/><rect x="266.0" y="255.0" width="128.0" height="3.8" fill="#a8c8fa"/><rect x="266.0" y="258.5" width="128.0" height="3.8" fill="#80dc80"/><rect x="266.0" y="262.0" width="128.0" height="3.8" fill="#2040f0"/><rect x="266.0" y="265.5" width="128.0" height="3.8" fill="#c8d4fa"/><rect x="266.0" y="269.0" width="128.0" height="3.8" fill="#c8d4fa"/><rect x="266.0" y="272.5" width="128.0" height="3.8" fill="#5aa8f8"/><rect x="266.0" y="276.0" width="128.0" height="3.8" fill="#a8c8fa"/><rect x="266.0" y="279.5" width="128.0" height="3.8" fill="#80dc80"/><rect x="266.0" y="283.0" width="128.0" height="3.8" fill="#2040f0"/><rect x="266.0" y="286.5" width="128.0" height="3.8" fill="#c8d4fa"/><rect x="266.0" y="290.0" width="128.0" height="3.8" fill="#c8d4fa"/><rect x="266.0" y="293.5" width="128.0" height="3.8" fill="#5aa8f8"/><rect x="266.0" y="297.0" width="128.0" height="3.8" fill="#a8c8fa"/><rect x="266.0" y="300.5" width="128.0" height="3.8" fill="#80dc80"/><rect x="266.0" y="304.0" width="128.0" height="3.8" fill="#2040f0"/><rect x="266.0" y="307.5" width="128.0" height="3.8" fill="#c8d4fa"/><rect x="266.0" y="311.0" width="128.0" height="3.8" fill="#c8d4fa"/><rect x="266.0" y="314.5" width="128.0" height="3.8" fill="#5aa8f8"/></g></g><polygon points="307.6,274.3 314.4,270.1 326.2,268.4 334.7,264.2 339.8,260.8 344.8,259.1 351.6,262.5 355.0,255.7 357.5,269.3 355.8,274.3 360.9,278.6 356.7,282.8 360.1,295.5 339.8,296.4 338.9,299.7 335.5,297.2 334.7,290.4 329.6,291.3 323.7,288.7 317.7,284.5 312.7,282.0 308.4,278.6" fill="none" stroke="#000" stroke-width="1.6" stroke-linejoin="round"/><polygon points="312.7,242.2 320.0,241.0 334.7,243.0 334.0,255.0 328.0,262.0 322.0,265.0 318.0,262.0 315.0,252.0" fill="#80dc80" stroke="#000" stroke-width="1.6" stroke-linejoin="round"/><clipPath id="dg2"><polygon points="314.0,245.0 326.0,244.0 330.0,255.0 322.0,262.0 317.0,255.0"/></clipPath><g clip-path="url(#dg2)"><g transform="rotate(31 322.0 253.0)"><rect x="288.0" y="236.0" width="68.0" height="3.3" fill="#1030f0"/><rect x="288.0" y="239.0" width="68.0" height="3.3" fill="#a8c8fa"/><rect x="288.0" y="242.0" width="68.0" height="3.3" fill="#ffe000"/><rect x="288.0" y="245.0" width="68.0" height="3.3" fill="#2040f0"/><rect x="288.0" y="248.0" width="68.0" height="3.3" fill="#80dc80"/><rect x="288.0" y="251.0" width="68.0" height="3.3" fill="#1030f0"/><rect x="288.0" y="254.0" width="68.0" height="3.3" fill="#a8c8fa"/><rect x="288.0" y="257.0" width="68.0" height="3.3" fill="#ffe000"/><rect x="288.0" y="260.0" width="68.0" height="3.3" fill="#2040f0"/><rect x="288.0" y="263.0" width="68.0" height="3.3" fill="#80dc80"/><rect x="288.0" y="266.0" width="68.0" height="3.3" fill="#1030f0"/><rect x="288.0" y="269.0" width="68.0" height="3.3" fill="#a8c8fa"/><rect x="288.0" y="272.0" width="68.0" height="3.3" fill="#ffe000"/></g></g><polygon points="312.7,242.2 320.0,241.0 334.7,243.0 334.0,255.0 328.0,262.0 322.0,265.0 318.0,262.0 315.0,252.0" fill="none" stroke="#000" stroke-width="1.6" stroke-linejoin="round"/><polygon points="257.0,281.0 263.0,280.0 270.0,287.0 273.7,294.0 268.0,297.0 260.0,297.0 257.0,290.0" fill="#6aaaf8" stroke="#000" stroke-width="1.6" stroke-linejoin="round"/><clipPath id="dg3"><polygon points="257.0,281.0 263.0,280.0 270.0,287.0 273.7,294.0 268.0,297.0 260.0,297.0 257.0,290.0"/></clipPath><g clip-path="url(#dg3)"><g transform="rotate(31 265.4 288.5)"><rect x="231.7" y="271.6" width="67.4" height="3.3" fill="#2a40f0"/><rect x="231.7" y="274.6" width="67.4" height="3.3" fill="#c8d4fa"/><rect x="231.7" y="277.6" width="67.4" height="3.3" fill="#6aaaf8"/><rect x="231.7" y="280.6" width="67.4" height="3.3" fill="#80dc80"/><rect x="231.7" y="283.6" width="67.4" height="3.3" fill="#2a40f0"/><rect x="231.7" y="286.6" width="67.4" height="3.3" fill="#c8d4fa"/><rect x="231.7" y="289.6" width="67.4" height="3.3" fill="#6aaaf8"/><rect x="231.7" y="292.6" width="67.4" height="3.3" fill="#80dc80"/><rect x="231.7" y="295.6" width="67.4" height="3.3" fill="#2a40f0"/><rect x="231.7" y="298.6" width="67.4" height="3.3" fill="#c8d4fa"/><rect x="231.7" y="301.6" width="67.4" height="3.3" fill="#6aaaf8"/><rect x="231.7" y="304.6" width="67.4" height="3.3" fill="#80dc80"/><rect x="231.7" y="307.6" width="67.4" height="3.3" fill="#2a40f0"/></g></g><polygon points="257.0,281.0 263.0,280.0 270.0,287.0 273.7,294.0 268.0,297.0 260.0,297.0 257.0,290.0" fill="none" stroke="#000" stroke-width="1.6" stroke-linejoin="round"/><polygon points="228.3,310.0 239.3,308.3 246.0,312.5 253.7,315.1 263.0,323.5 265.5,327.8 264.7,334.5 256.2,333.7 249.4,332.9 241.0,331.2 234.2,325.2 233.3,321.0 230.8,316.8" fill="#ffd000" stroke="#000" stroke-width="1.6" stroke-linejoin="round"/><clipPath id="dg4"><polygon points="228.3,310.0 239.3,308.3 246.0,312.5 253.7,315.1 263.0,323.5 265.5,327.8 264.7,334.5 256.2,333.7 249.4,332.9 241.0,331.2 234.2,325.2 233.3,321.0 230.8,316.8"/></clipPath><g clip-path="url(#dg4)"><g transform="rotate(31 246.9 321.4)"><rect x="183.5" y="289.7" width="126.8" height="3.3" fill="#ff8000"/><rect x="183.5" y="292.7" width="126.8" height="3.3" fill="#1020f0"/><rect x="183.5" y="295.7" width="126.8" height="3.3" fill="#ffe000"/><rect x="183.5" y="298.7" width="126.8" height="3.3" fill="#e02000"/><rect x="183.5" y="301.7" width="126.8" height="3.3" fill="#80dc80"/><rect x="183.5" y="304.7" width="126.8" height="3.3" fill="#a8c8fa"/><rect x="183.5" y="307.7" width="126.8" height="3.3" fill="#ffd000"/><rect x="183.5" y="310.7" width="126.8" height="3.3" fill="#c02000"/><rect x="183.5" y="313.7" width="126.8" height="3.3" fill="#ff8000"/><rect x="183.5" y="316.7" width="126.8" height="3.3" fill="#1020f0"/><rect x="183.5" y="319.7" width="126.8" height="3.3" fill="#ffe000"/><rect x="183.5" y="322.7" width="126.8" height="3.3" fill="#e02000"/><rect x="183.5" y="325.7" width="126.8" height="3.3" fill="#80dc80"/><rect x="183.5" y="328.7" width="126.8" height="3.3" fill="#a8c8fa"/><rect x="183.5" y="331.7" width="126.8" height="3.3" fill="#ffd000"/><rect x="183.5" y="334.7" width="126.8" height="3.3" fill="#c02000"/><rect x="183.5" y="337.7" width="126.8" height="3.3" fill="#ff8000"/><rect x="183.5" y="340.7" width="126.8" height="3.3" fill="#1020f0"/><rect x="183.5" y="343.7" width="126.8" height="3.3" fill="#ffe000"/><rect x="183.5" y="346.7" width="126.8" height="3.3" fill="#e02000"/><rect x="183.5" y="349.7" width="126.8" height="3.3" fill="#80dc80"/><rect x="183.5" y="352.7" width="126.8" height="3.3" fill="#a8c8fa"/><rect x="183.5" y="355.7" width="126.8" height="3.3" fill="#ffd000"/></g></g><polygon points="228.3,310.0 239.3,308.3 246.0,312.5 253.7,315.1 263.0,323.5 265.5,327.8 264.7,334.5 256.2,333.7 249.4,332.9 241.0,331.2 234.2,325.2 233.3,321.0 230.8,316.8" fill="none" stroke="#000" stroke-width="1.8" stroke-linejoin="round"/><polygon points="280.8,312.0 287.0,310.8 292.6,314.0 290.0,316.8 284.0,316.0" fill="#b0ccf9" stroke="#000" stroke-width="1.4" stroke-linejoin="round"/><polygon points="300.2,326.0 304.0,323.5 308.7,326.0 306.0,330.3 301.0,330.0" fill="#70b0f8" stroke="#000" stroke-width="1.4" stroke-linejoin="round"/><polygon points="208.0,388.0 222.0,391.0 224.9,394.0 222.0,395.5 209.0,392.0" fill="#5a9cf4" stroke="#000" stroke-width="1.4" stroke-linejoin="round"/><polygon points="224.9,405.0 245.0,411.0 246.0,414.0 240.0,416.7 226.0,410.0" fill="#5a9cf4" stroke="#000" stroke-width="1.4" stroke-linejoin="round"/><polygon points="190.0,172.0 197.0,171.0 200.0,175.0 193.0,176.0" fill="#80c0f8" stroke="#000" stroke-width="1.4" stroke-linejoin="round"/><polygon points="334.0,183.0 340.0,182.0 343.0,188.0 337.0,190.0" fill="#ff9000" stroke="#000" stroke-width="1.4" stroke-linejoin="round"/><polygon points="285.0,440.0 293.0,440.0 297.0,445.0 289.0,447.0" fill="#80c0f8" stroke="#000" stroke-width="1.4" stroke-linejoin="round"/><polygon points="299.0,268.0 305.0,268.0 306.0,272.0 300.0,272.0" fill="#c8d4fa" stroke="#000" stroke-width="1.4" stroke-linejoin="round"/><polygon points="319.0,318.0 327.0,317.0 328.0,322.0 320.0,323.0" fill="#80dc80" stroke="#000" stroke-width="1.4" stroke-linejoin="round"/><polygon points="320.0,307.0 328.0,306.0 328.0,313.0 320.0,313.0" fill="#80dc80" stroke="#000" stroke-width="1.4" stroke-linejoin="round"/><ellipse cx="263.5" cy="313.3" rx="3" ry="1.6" fill="#000"/><ellipse cx="250.7" cy="378" rx="3" ry="1.5" fill="#000"/><ellipse cx="247" cy="383" rx="1.5" ry="1" fill="#000"/><ellipse cx="67" cy="117" rx="1.8" ry="1.8" fill="#000"/><ellipse cx="272" cy="277" rx="1.5" ry="1.2" fill="#000"/><ellipse cx="386" cy="267" rx="1.5" ry="1.2" fill="#000"/><polygon points="440.0,510.0 450.0,506.0 452.0,514.0 444.0,518.0" fill="#303030"/><g stroke="#333" stroke-width="1.35" stroke-dasharray="3 5.27" fill="none"><line x1="68.60" y1="41" x2="68.60" y2="549"/><line x1="147.30" y1="41" x2="147.30" y2="549"/><line x1="226.00" y1="41" x2="226.00" y2="549"/><line x1="304.70" y1="41" x2="304.70" y2="549"/><line x1="383.40" y1="41" x2="383.40" y2="549"/><line x1="462.10" y1="41" x2="462.10" y2="549"/><line x1="13" y1="67.20" x2="486" y2="67.20"/><line x1="13" y1="151.70" x2="486" y2="151.70"/><line x1="13" y1="236.20" x2="486" y2="236.20"/><line x1="13" y1="320.70" x2="486" y2="320.70"/><line x1="13" y1="405.20" x2="486" y2="405.20"/><line x1="13" y1="489.70" x2="486" y2="489.70"/></g><g stroke="#000" stroke-width="1.25" stroke-dasharray="12.2 11.5" fill="none"><path d="M13.00,55.89 Q249.00,216.18 485.00,343.32"/><path d="M13.00,152.94 Q249.50,312.51 486.00,436.77"/></g><g style="font-family:'Liberation Sans',sans-serif" font-size="12.5" fill="#000"><text x="68.60" y="300.2" text-anchor="middle">54</text><text x="147.30" y="300.2" text-anchor="middle">56</text><text x="226.00" y="300.2" text-anchor="middle">58</text><text x="304.70" y="300.2" text-anchor="middle">60</text><text x="383.40" y="300.2" text-anchor="middle">62</text><text x="462.10" y="300.2" text-anchor="middle">64</text><text x="235.5" y="66.70">-16</text><text x="235.5" y="151.20">-18</text><text x="235.5" y="235.70">-20</text><text x="235.5" y="320.20">-22</text><text x="235.5" y="404.70">-24</text><text x="235.5" y="489.20">-26</text></g><path d="M242.8,294.5 H255.8 M249.3,288.0 V301.0" stroke="#000" stroke-width="5" fill="none"/><text x="43.5" y="65.5" style="font-family:'Liberation Sans',sans-serif" font-size="25" fill="#000">85GHz PCT (K)</text><text x="438.5" y="522.7" style="font-family:'Liberation Sans',sans-serif" font-size="30" fill="#000">(d)</text><rect x="495" y="531.54" width="9" height="8.86" fill="#f6f6f6"/><rect x="495" y="523.08" width="9" height="8.86" fill="#eeeeee"/><rect x="495" y="514.63" width="9" height="8.86" fill="#e6e6e6"/><rect x="495" y="506.17" width="9" height="8.86" fill="#dedede"/><rect x="495" y="497.71" width="9" height="8.86" fill="#d6d6d6"/><rect x="495" y="489.25" width="9" height="8.86" fill="#cecece"/><rect x="495" y="480.80" width="9" height="8.86" fill="#c6c6c6"/><rect x="495" y="472.34" width="9" height="8.86" fill="#bfbfbf"/><rect x="495" y="463.88" width="9" height="8.86" fill="#b7b7b7"/><rect x="495" y="455.42" width="9" height="8.86" fill="#afafaf"/><rect x="495" y="446.97" width="9" height="8.86" fill="#a7a7a7"/><rect x="495" y="438.51" width="9" height="8.86" fill="#9f9f9f"/><rect x="495" y="430.05" width="9" height="8.86" fill="#979797"/><rect x="495" y="421.59" width="9" height="8.86" fill="#8f8f8f"/><rect x="495" y="413.14" width="9" height="8.86" fill="#82e082"/><rect x="495" y="404.68" width="9" height="8.86" fill="#7ad67a"/><rect x="495" y="396.22" width="9" height="8.86" fill="#72cc72"/><rect x="495" y="387.76" width="9" height="8.86" fill="#6ac26a"/><rect x="495" y="379.31" width="9" height="8.86" fill="#62b862"/><rect x="495" y="370.85" width="9" height="8.86" fill="#ccd4fc"/><rect x="495" y="362.39" width="9" height="8.86" fill="#b4c8fc"/><rect x="495" y="353.93" width="9" height="8.86" fill="#9cbffc"/><rect x="495" y="345.47" width="9" height="8.86" fill="#88b6fc"/><rect x="495" y="337.02" width="9" height="8.86" fill="#70aefc"/><rect x="495" y="328.56" width="9" height="8.86" fill="#58a6fc"/><rect x="495" y="320.10" width="9" height="8.86" fill="#4a94f8"/><rect x="495" y="311.64" width="9" height="8.86" fill="#4080f4"/><rect x="495" y="303.19" width="9" height="8.86" fill="#3868f6"/><rect x="495" y="294.73" width="9" height="8.86" fill="#3050f8"/><rect x="495" y="286.27" width="9" height="8.86" fill="#2838f8"/><rect x="495" y="277.81" width="9" height="8.86" fill="#0000ff"/><rect x="495" y="269.36" width="9" height="8.86" fill="#0000ee"/><rect x="495" y="260.90" width="9" height="8.86" fill="#0000dd"/><rect x="495" y="252.44" width="9" height="8.86" fill="#0000cc"/><rect x="495" y="243.98" width="9" height="8.86" fill="#ffff00"/><rect x="495" y="235.53" width="9" height="8.86" fill="#fff200"/><rect x="495" y="227.07" width="9" height="8.86" fill="#ffe600"/><rect x="495" y="218.61" width="9" height="8.86" fill="#ffd900"/><rect x="495" y="210.15" width="9" height="8.86" fill="#ffcc00"/><rect x="495" y="201.69" width="9" height="8.86" fill="#ff8400"/><rect x="495" y="193.24" width="9" height="8.86" fill="#ff7e00"/><rect x="495" y="184.78" width="9" height="8.86" fill="#ff7800"/><rect x="495" y="176.32" width="9" height="8.86" fill="#ff7200"/><rect x="495" y="167.86" width="9" height="8.86" fill="#ff6c00"/><rect x="495" y="159.41" width="9" height="8.86" fill="#ff4000"/><rect x="495" y="150.95" width="9" height="8.86" fill="#ff3400"/><rect x="495" y="142.49" width="9" height="8.86" fill="#ff2800"/><rect x="495" y="134.03" width="9" height="8.86" fill="#ff1c00"/><rect x="495" y="125.58" width="9" height="8.86" fill="#ff1000"/><rect x="495" y="117.12" width="9" height="8.86" fill="#cc0000"/><rect x="495" y="108.66" width="9" height="8.86" fill="#c10000"/><rect x="495" y="100.20" width="9" height="8.86" fill="#b60000"/><rect x="495" y="91.75" width="9" height="8.86" fill="#ab0000"/><rect x="495" y="83.29" width="9" height="8.86" fill="#a00000"/><rect x="495" y="74.83" width="9" height="8.86" fill="#640a04"/><rect x="495" y="66.37" width="9" height="8.86" fill="#600e08"/><rect x="495" y="57.92" width="9" height="8.86" fill="#5c110c"/><rect x="495" y="49.46" width="9" height="8.86" fill="#581410"/><rect x="495" y="41.00" width="9" height="8.86" fill="#541814"/><g stroke="#000" stroke-width="1"><line x1="504" y1="548.50" x2="507" y2="548.50"/><line x1="504" y1="497.70" x2="507" y2="497.70"/><line x1="504" y1="446.90" x2="507" y2="446.90"/><line x1="504" y1="396.10" x2="507" y2="396.10"/><line x1="504" y1="345.30" x2="507" y2="345.30"/><line x1="504" y1="294.50" x2="507" y2="294.50"/><line x1="504" y1="243.70" x2="507" y2="243.70"/><line x1="504" y1="192.90" x2="507" y2="192.90"/><line x1="504" y1="142.10" x2="507" y2="142.10"/><line x1="504" y1="91.30" x2="507" y2="91.30"/></g><g style="font-family:'Liberation Sans',sans-serif" font-size="20" fill="#000" text-anchor="middle"><text x="524.3" y="557.10">300</text><text x="524.3" y="506.30">279</text><text x="524.3" y="455.50">258</text><text x="524.3" y="404.70">237</text><text x="524.3" y="353.90">216</text><text x="524.3" y="303.10">195</text><text x="524.3" y="252.30">174</text><text x="524.3" y="201.50">153</text><text x="524.3" y="150.70">132</text><text x="524.3" y="99.90">111</text></g>
</g>
<g transform="translate(590.333,590.333)">
<clipPath id="clipE"><polygon points="13.0,41.0 179.7,41.0 179.7,40.4 195.8,50.7 211.9,61.0 228.1,71.2 244.2,81.3 260.3,91.3 276.4,101.2 292.5,111.0 308.7,120.7 324.8,130.4 340.9,140.0 357.0,149.4 373.2,158.8 389.3,168.1 405.4,177.3 421.5,186.4 437.6,195.5 453.8,204.4 469.9,213.3 486.0,222.0 486.0,548.4 475.7,548.2 451.3,535.2 427.0,522.0 402.6,508.7 378.3,495.2 353.9,481.6 329.6,467.8 305.2,453.8 280.9,439.7 256.5,425.4 232.2,411.0 207.8,396.4 183.5,381.7 159.1,366.8 134.8,351.8 110.4,336.6 86.1,321.2 61.7,305.7 37.4,290.1 13.0,274.2"/></clipPath><g clip-path="url(#clipE)"><polygon points="13.0,41.0 179.7,41.0 179.7,40.4 195.8,50.7 211.9,61.0 228.1,71.2 244.2,81.3 260.3,91.3 276.4,101.2 292.5,111.0 308.7,120.7 324.8,130.4 340.9,140.0 357.0,149.4 373.2,158.8 389.3,168.1 405.4,177.3 421.5,186.4 437.6,195.5 453.8,204.4 469.9,213.3 486.0,222.0 486.0,548.4 475.7,548.2 451.3,535.2 427.0,522.0 402.6,508.7 378.3,495.2 353.9,481.6 329.6,467.8 305.2,453.8 280.9,439.7 256.5,425.4 232.2,411.0 207.8,396.4 183.5,381.7 159.1,366.8 134.8,351.8 110.4,336.6 86.1,321.2 61.7,305.7 37.4,290.1 13.0,274.2" fill="#76cf76"/><circle cx="300" cy="300" r="230" fill="none" stroke="#80da80" stroke-width="14" opacity="0.6"/><circle cx="300" cy="300" r="170" fill="none" stroke="#6ec46e" stroke-width="10" opacity="0.5"/><polygon points="75.0,41.0 145.0,41.0 138.0,58.0 128.0,75.0 122.0,92.0 104.0,100.0 84.0,99.0 70.0,94.0 68.0,80.0 72.0,60.0" fill="#a2a2a2"/><path fill="#a2a2a2" d="M155.5 56.8l2.6 1.5l-3.1 5.1l-2.6 -1.5zM147.8 73.2l2.6 1.5l-1.5 2.6l-2.6 -1.5zM176.3 106.9l5.1 3.1l-1.5 2.6l-5.1 -3.1zM154.6 86.1l2.6 1.5l-3.1 5.1l-2.6 -1.5zM176.1 88.6l2.6 1.5l-3.1 5.1l-2.6 -1.5zM192.5 100.4l2.6 1.5l-1.5 2.6l-2.6 -1.5zM146.4 107.8l2.6 1.5l-1.5 2.6l-2.6 -1.5zM190.1 80.9l2.6 1.5l-1.5 2.6l-2.6 -1.5zM150.8 46.5l2.6 1.5l-1.5 2.6l-2.6 -1.5zM175.3 95.3l2.6 1.5l-1.5 2.6l-2.6 -1.5zM135.6 85.1l5.1 3.1l-1.5 2.6l-5.1 -3.1zM152.7 78.1l2.6 1.5l-1.5 2.6l-2.6 -1.5zM175.7 79.3l5.1 3.1l-1.5 2.6l-5.1 -3.1zM138.4 75.7l5.1 3.1l-3.1 5.1l-5.1 -3.1zM162.5 75.6l2.6 1.5l-1.5 2.6l-2.6 -1.5zM197.3 82.9l2.6 1.5l-3.1 5.1l-2.6 -1.5zM157.8 77.3l5.1 3.1l-1.5 2.6l-5.1 -3.1zM186.5 94.8l5.1 3.1l-1.5 2.6l-5.1 -3.1zM178.8 53.4l5.1 3.1l-1.5 2.6l-5.1 -3.1zM174.7 96.1l2.6 1.5l-1.5 2.6l-2.6 -1.5zM152.6 78.0l2.6 1.5l-1.5 2.6l-2.6 -1.5zM187.3 65.1l2.6 1.5l-3.1 5.1l-2.6 -1.5zM137.5 92.0l2.6 1.5l-3.1 5.1l-2.6 -1.5zM148.8 53.3l2.6 1.5l-3.1 5.1l-2.6 -1.5zM150.9 79.0l5.1 3.1l-1.5 2.6l-5.1 -3.1zM156.0 53.5l2.6 1.5l-1.5 2.6l-2.6 -1.5zM133.5 51.9l2.6 1.5l-3.1 5.1l-2.6 -1.5zM148.7 69.1l2.6 1.5l-1.5 2.6l-2.6 -1.5zM181.0 91.0l2.6 1.5l-1.5 2.6l-2.6 -1.5zM163.9 64.2l5.1 3.1l-3.1 5.1l-5.1 -3.1zM162.5 72.1l2.6 1.5l-1.5 2.6l-2.6 -1.5zM177.8 69.1l2.6 1.5l-1.5 2.6l-2.6 -1.5z"/><polygon points="187.0,383.0 205.0,362.0 213.0,335.0 228.0,305.0 238.0,275.0 240.0,240.0 258.0,228.0 285.0,222.0 310.0,220.0 330.0,224.0 360.0,228.0 385.0,235.0 415.0,238.0 445.0,240.0 460.0,285.0 486.0,303.0 490.0,560.0 380.0,512.0 300.0,468.0 215.0,420.0 180.0,395.0" fill="#c9d3f9"/><path fill="#a9c7f9" d="M280.1 223.9l4.3 2.6l-3.1 5.1l-4.3 -2.6zM390.9 231.9l8.6 5.2l-3.1 5.1l-8.6 -5.2zM281.2 191.9l8.6 5.2l-3.1 5.1l-8.6 -5.2zM378.4 202.3l8.6 5.2l-1.5 2.6l-8.6 -5.2zM375.1 222.5l4.3 2.6l-1.5 2.6l-4.3 -2.6zM329.3 239.8l8.6 5.2l-1.5 2.6l-8.6 -5.2zM332.4 204.5l4.3 2.6l-1.5 2.6l-4.3 -2.6zM257.0 184.7l8.6 5.2l-3.1 5.1l-8.6 -5.2zM342.0 187.6l4.3 2.6l-1.5 2.6l-4.3 -2.6zM307.7 181.4l4.3 2.6l-3.1 5.1l-4.3 -2.6zM379.7 203.1l8.6 5.2l-1.5 2.6l-8.6 -5.2zM323.1 231.2l4.3 2.6l-3.1 5.1l-4.3 -2.6zM349.2 190.2l4.3 2.6l-1.5 2.6l-4.3 -2.6zM371.5 203.0l4.3 2.6l-1.5 2.6l-4.3 -2.6zM333.3 207.1l4.3 2.6l-1.5 2.6l-4.3 -2.6zM358.6 233.3l8.6 5.2l-1.5 2.6l-8.6 -5.2zM346.0 197.3l4.3 2.6l-3.1 5.1l-4.3 -2.6zM360.2 214.3l4.3 2.6l-1.5 2.6l-4.3 -2.6zM323.7 218.3l4.3 2.6l-1.5 2.6l-4.3 -2.6zM379.0 233.3l8.6 5.2l-3.1 5.1l-8.6 -5.2zM354.4 204.4l4.3 2.6l-1.5 2.6l-4.3 -2.6zM297.3 206.3l4.3 2.6l-1.5 2.6l-4.3 -2.6zM318.3 200.6l8.6 5.2l-1.5 2.6l-8.6 -5.2zM303.7 196.4l4.3 2.6l-3.1 5.1l-4.3 -2.6zM285.8 229.2l8.6 5.2l-3.1 5.1l-8.6 -5.2zM292.1 215.0l4.3 2.6l-1.5 2.6l-4.3 -2.6zM315.4 211.0l4.3 2.6l-1.5 2.6l-4.3 -2.6zM347.5 221.6l4.3 2.6l-3.1 5.1l-4.3 -2.6zM269.7 199.7l4.3 2.6l-1.5 2.6l-4.3 -2.6z"/><path fill="#c9d3f9" d="M294.6 199.4l4.3 2.6l-1.5 2.6l-4.3 -2.6zM336.7 200.9l4.3 2.6l-3.1 5.1l-4.3 -2.6zM304.9 204.7l4.3 2.6l-3.1 5.1l-4.3 -2.6zM372.4 222.4l4.3 2.6l-1.5 2.6l-4.3 -2.6zM386.1 239.3l4.3 2.6l-3.1 5.1l-4.3 -2.6zM379.0 204.4l4.3 2.6l-1.5 2.6l-4.3 -2.6zM252.7 239.0l8.6 5.2l-1.5 2.6l-8.6 -5.2zM308.5 233.8l8.6 5.2l-3.1 5.1l-8.6 -5.2zM404.0 234.3l4.3 2.6l-3.1 5.1l-4.3 -2.6zM353.1 238.5l4.3 2.6l-3.1 5.1l-4.3 -2.6zM254.7 198.7l4.3 2.6l-1.5 2.6l-4.3 -2.6zM301.0 226.2l4.3 2.6l-3.1 5.1l-4.3 -2.6zM320.2 196.2l4.3 2.6l-1.5 2.6l-4.3 -2.6zM315.2 185.4l4.3 2.6l-1.5 2.6l-4.3 -2.6zM322.9 182.5l8.6 5.2l-1.5 2.6l-8.6 -5.2zM285.1 177.2l4.3 2.6l-1.5 2.6l-4.3 -2.6zM394.2 205.0l4.3 2.6l-1.5 2.6l-4.3 -2.6zM321.3 208.7l4.3 2.6l-1.5 2.6l-4.3 -2.6zM369.8 192.6l8.6 5.2l-1.5 2.6l-8.6 -5.2zM254.6 218.0l4.3 2.6l-1.5 2.6l-4.3 -2.6zM307.6 232.0l8.6 5.2l-1.5 2.6l-8.6 -5.2zM269.7 194.7l4.3 2.6l-1.5 2.6l-4.3 -2.6zM287.0 235.2l4.3 2.6l-1.5 2.6l-4.3 -2.6zM286.7 214.3l4.3 2.6l-3.1 5.1l-4.3 -2.6zM324.5 221.8l8.6 5.2l-1.5 2.6l-8.6 -5.2zM352.0 191.5l4.3 2.6l-1.5 2.6l-4.3 -2.6zM374.3 218.9l8.6 5.2l-1.5 2.6l-8.6 -5.2zM312.3 233.2l4.3 2.6l-1.5 2.6l-4.3 -2.6zM254.7 185.5l8.6 5.2l-1.5 2.6l-8.6 -5.2zM386.9 197.1l4.3 2.6l-1.5 2.6l-4.3 -2.6zM332.9 224.5l4.3 2.6l-1.5 2.6l-4.3 -2.6zM260.0 221.7l8.6 5.2l-1.5 2.6l-8.6 -5.2zM333.2 194.1l8.6 5.2l-1.5 2.6l-8.6 -5.2zM348.4 220.6l4.3 2.6l-3.1 5.1l-4.3 -2.6zM263.2 182.7l8.6 5.2l-3.1 5.1l-8.6 -5.2zM318.4 180.2l8.6 5.2l-1.5 2.6l-8.6 -5.2zM341.2 198.6l4.3 2.6l-3.1 5.1l-4.3 -2.6zM277.8 220.8l4.3 2.6l-3.1 5.1l-4.3 -2.6zM335.5 230.1l4.3 2.6l-3.1 5.1l-4.3 -2.6zM336.8 194.5l4.3 2.6l-1.5 2.6l-4.3 -2.6zM397.0 210.4l4.3 2.6l-1.5 2.6l-4.3 -2.6zM353.5 219.2l8.6 5.2l-3.1 5.1l-8.6 -5.2zM394.5 239.1l4.3 2.6l-1.5 2.6l-4.3 -2.6zM329.4 230.8l4.3 2.6l-1.5 2.6l-4.3 -2.6zM343.5 210.2l8.6 5.2l-1.5 2.6l-8.6 -5.2zM361.7 211.0l8.6 5.2l-1.5 2.6l-8.6 -5.2zM263.7 216.2l8.6 5.2l-1.5 2.6l-8.6 -5.2zM340.2 207.1l8.6 5.2l-1.5 2.6l-8.6 -5.2zM397.1 211.3l4.3 2.6l-1.5 2.6l-4.3 -2.6zM270.0 204.6l4.3 2.6l-1.5 2.6l-4.3 -2.6zM396.1 227.7l4.3 2.6l-1.5 2.6l-4.3 -2.6zM294.1 234.0l4.3 2.6l-3.1 5.1l-4.3 -2.6zM330.1 231.4l4.3 2.6l-1.5 2.6l-4.3 -2.6zM367.0 220.5l4.3 2.6l-1.5 2.6l-4.3 -2.6zM292.0 217.4l4.3 2.6l-1.5 2.6l-4.3 -2.6zM260.3 201.5l8.6 5.2l-1.5 2.6l-8.6 -5.2zM405.7 221.2l8.6 5.2l-1.5 2.6l-8.6 -5.2zM397.3 237.2l4.3 2.6l-1.5 2.6l-4.3 -2.6zM369.5 236.9l4.3 2.6l-3.1 5.1l-4.3 -2.6zM297.2 234.8l8.6 5.2l-3.1 5.1l-8.6 -5.2zM298.0 199.2l4.3 2.6l-1.5 2.6l-4.3 -2.6z"/><path fill="#a9c7f9" d="M234.9 166.3l3.4 2.1l-3.1 5.1l-3.4 -2.1zM227.5 289.0l3.4 2.1l-1.5 2.6l-3.4 -2.1zM209.5 219.4l6.9 4.1l-1.5 2.6l-6.9 -4.1zM206.6 327.5l3.4 2.1l-1.5 2.6l-3.4 -2.1zM160.1 125.0l6.9 4.1l-1.5 2.6l-6.9 -4.1zM217.2 200.8l3.4 2.1l-1.5 2.6l-3.4 -2.1zM152.4 329.9l6.9 4.1l-1.5 2.6l-6.9 -4.1zM306.7 174.7l3.4 2.1l-1.5 2.6l-3.4 -2.1zM182.5 191.3l3.4 2.1l-1.5 2.6l-3.4 -2.1zM165.0 205.7l6.9 4.1l-3.1 5.1l-6.9 -4.1zM157.5 177.0l3.4 2.1l-1.5 2.6l-3.4 -2.1zM190.1 274.0l6.9 4.1l-1.5 2.6l-6.9 -4.1zM193.2 215.0l3.4 2.1l-1.5 2.6l-3.4 -2.1zM239.6 220.9l3.4 2.1l-1.5 2.6l-3.4 -2.1zM215.9 176.5l3.4 2.1l-1.5 2.6l-3.4 -2.1zM195.2 161.7l6.9 4.1l-1.5 2.6l-6.9 -4.1zM211.1 297.1l3.4 2.1l-1.5 2.6l-3.4 -2.1zM153.8 269.6l3.4 2.1l-1.5 2.6l-3.4 -2.1zM282.0 181.0l6.9 4.1l-1.5 2.6l-6.9 -4.1zM179.0 292.1l6.9 4.1l-1.5 2.6l-6.9 -4.1zM207.6 250.6l6.9 4.1l-1.5 2.6l-6.9 -4.1zM302.5 153.5l3.4 2.1l-3.1 5.1l-3.4 -2.1zM135.6 222.6l3.4 2.1l-1.5 2.6l-3.4 -2.1zM233.4 266.1l6.9 4.1l-3.1 5.1l-6.9 -4.1zM134.0 125.3l3.4 2.1l-1.5 2.6l-3.4 -2.1zM218.7 196.7l3.4 2.1l-1.5 2.6l-3.4 -2.1zM208.1 240.8l3.4 2.1l-1.5 2.6l-3.4 -2.1zM121.6 190.7l3.4 2.1l-3.1 5.1l-3.4 -2.1zM237.4 203.3l3.4 2.1l-1.5 2.6l-3.4 -2.1zM164.2 163.5l3.4 2.1l-1.5 2.6l-3.4 -2.1zM139.7 150.5l3.4 2.1l-1.5 2.6l-3.4 -2.1zM197.3 138.6l6.9 4.1l-1.5 2.6l-6.9 -4.1z"/><path fill="#c9d3f9" d="M206.1 133.5l3.4 2.1l-1.5 2.6l-3.4 -2.1zM154.3 224.5l3.4 2.1l-1.5 2.6l-3.4 -2.1zM240.4 201.4l3.4 2.1l-3.1 5.1l-3.4 -2.1zM96.3 171.1l6.9 4.1l-1.5 2.6l-6.9 -4.1zM180.8 307.5l3.4 2.1l-3.1 5.1l-3.4 -2.1zM160.8 201.9l3.4 2.1l-3.1 5.1l-3.4 -2.1zM142.6 279.8l3.4 2.1l-1.5 2.6l-3.4 -2.1zM181.2 339.4l3.4 2.1l-1.5 2.6l-3.4 -2.1zM167.2 180.0l6.9 4.1l-3.1 5.1l-6.9 -4.1zM142.5 216.6l3.4 2.1l-1.5 2.6l-3.4 -2.1zM236.1 155.9l3.4 2.1l-1.5 2.6l-3.4 -2.1zM163.1 133.2l6.9 4.1l-1.5 2.6l-6.9 -4.1zM292.1 161.8l3.4 2.1l-1.5 2.6l-3.4 -2.1zM204.7 182.5l3.4 2.1l-3.1 5.1l-3.4 -2.1zM173.5 336.1l3.4 2.1l-1.5 2.6l-3.4 -2.1zM217.2 156.0l3.4 2.1l-3.1 5.1l-3.4 -2.1zM245.6 186.5l3.4 2.1l-1.5 2.6l-3.4 -2.1zM148.1 291.1l6.9 4.1l-3.1 5.1l-6.9 -4.1zM214.3 316.0l3.4 2.1l-3.1 5.1l-3.4 -2.1zM227.5 239.0l3.4 2.1l-1.5 2.6l-3.4 -2.1zM215.7 277.5l3.4 2.1l-1.5 2.6l-3.4 -2.1zM227.7 162.9l3.4 2.1l-1.5 2.6l-3.4 -2.1zM141.0 275.7l6.9 4.1l-1.5 2.6l-6.9 -4.1zM102.0 159.7l3.4 2.1l-1.5 2.6l-3.4 -2.1zM285.9 165.7l3.4 2.1l-3.1 5.1l-3.4 -2.1zM278.8 204.2l3.4 2.1l-1.5 2.6l-3.4 -2.1zM302.5 158.4l3.4 2.1l-1.5 2.6l-3.4 -2.1zM108.2 223.0l6.9 4.1l-3.1 5.1l-6.9 -4.1zM231.1 261.6l3.4 2.1l-3.1 5.1l-3.4 -2.1zM115.0 181.7l3.4 2.1l-3.1 5.1l-3.4 -2.1zM125.7 234.8l3.4 2.1l-1.5 2.6l-3.4 -2.1zM160.6 235.5l6.9 4.1l-3.1 5.1l-6.9 -4.1zM110.8 186.5l3.4 2.1l-1.5 2.6l-3.4 -2.1zM205.5 158.2l6.9 4.1l-3.1 5.1l-6.9 -4.1zM193.7 188.6l6.9 4.1l-3.1 5.1l-6.9 -4.1zM217.5 152.9l3.4 2.1l-3.1 5.1l-3.4 -2.1zM128.9 270.9l3.4 2.1l-1.5 2.6l-3.4 -2.1zM173.1 194.9l3.4 2.1l-1.5 2.6l-3.4 -2.1zM212.3 178.6l3.4 2.1l-1.5 2.6l-3.4 -2.1zM163.3 273.7l3.4 2.1l-1.5 2.6l-3.4 -2.1zM190.4 228.3l6.9 4.1l-3.1 5.1l-6.9 -4.1zM154.5 321.3l3.4 2.1l-1.5 2.6l-3.4 -2.1zM206.1 208.3l3.4 2.1l-1.5 2.6l-3.4 -2.1zM151.4 212.3l3.4 2.1l-1.5 2.6l-3.4 -2.1zM155.6 132.5l6.9 4.1l-3.1 5.1l-6.9 -4.1zM205.3 275.6l3.4 2.1l-1.5 2.6l-3.4 -2.1zM287.5 169.0l6.9 4.1l-1.5 2.6l-6.9 -4.1zM149.5 307.2l3.4 2.1l-1.5 2.6l-3.4 -2.1zM318.0 157.3l3.4 2.1l-1.5 2.6l-3.4 -2.1zM214.4 276.5l3.4 2.1l-1.5 2.6l-3.4 -2.1zM223.0 296.2l6.9 4.1l-1.5 2.6l-6.9 -4.1zM194.6 136.5l3.4 2.1l-1.5 2.6l-3.4 -2.1zM142.6 307.6l6.9 4.1l-3.1 5.1l-6.9 -4.1zM103.2 207.4l6.9 4.1l-3.1 5.1l-6.9 -4.1zM322.8 200.4l6.9 4.1l-1.5 2.6l-6.9 -4.1zM205.7 203.9l3.4 2.1l-3.1 5.1l-3.4 -2.1zM144.6 269.4l6.9 4.1l-3.1 5.1l-6.9 -4.1zM128.2 188.5l6.9 4.1l-1.5 2.6l-6.9 -4.1zM151.2 260.4l3.4 2.1l-1.5 2.6l-3.4 -2.1zM220.0 179.9l6.9 4.1l-1.5 2.6l-6.9 -4.1zM229.5 182.2l3.4 2.1l-1.5 2.6l-3.4 -2.1zM228.0 186.5l3.4 2.1l-1.5 2.6l-3.4 -2.1zM142.3 308.2l3.4 2.1l-1.5 2.6l-3.4 -2.1zM133.6 126.9l3.4 2.1l-1.5 2.6l-3.4 -2.1zM198.1 163.4l3.4 2.1l-1.5 2.6l-3.4 -2.1zM235.2 159.0l6.9 4.1l-3.1 5.1l-6.9 -4.1zM284.1 184.5l6.9 4.1l-1.5 2.6l-6.9 -4.1zM293.2 204.7l3.4 2.1l-1.5 2.6l-3.4 -2.1zM289.5 156.9l6.9 4.1l-1.5 2.6l-6.9 -4.1zM295.0 153.7l6.9 4.1l-1.5 2.6l-6.9 -4.1zM323.0 199.6l3.4 2.1l-3.1 5.1l-3.4 -2.1zM299.5 212.3l3.4 2.1l-3.1 5.1l-3.4 -2.1zM140.7 123.0l3.4 2.1l-1.5 2.6l-3.4 -2.1zM315.6 199.3l6.9 4.1l-1.5 2.6l-6.9 -4.1zM222.1 171.8l3.4 2.1l-1.5 2.6l-3.4 -2.1zM325.3 184.8l3.4 2.1l-1.5 2.6l-3.4 -2.1zM311.6 162.2l3.4 2.1l-3.1 5.1l-3.4 -2.1zM163.8 294.8l3.4 2.1l-1.5 2.6l-3.4 -2.1zM272.4 169.7l3.4 2.1l-3.1 5.1l-3.4 -2.1zM238.5 207.9l3.4 2.1l-1.5 2.6l-3.4 -2.1zM219.3 200.8l3.4 2.1l-1.5 2.6l-3.4 -2.1zM148.7 160.3l3.4 2.1l-1.5 2.6l-3.4 -2.1zM117.7 206.6l3.4 2.1l-1.5 2.6l-3.4 -2.1zM214.8 305.5l3.4 2.1l-1.5 2.6l-3.4 -2.1zM259.6 227.3l6.9 4.1l-1.5 2.6l-6.9 -4.1zM135.4 156.2l3.4 2.1l-1.5 2.6l-3.4 -2.1zM111.8 160.1l6.9 4.1l-1.5 2.6l-6.9 -4.1zM177.4 216.3l3.4 2.1l-1.5 2.6l-3.4 -2.1z"/><path fill="#c9d3f9" d="M393.8 175.9l3.4 2.1l-1.5 2.6l-3.4 -2.1zM481.4 225.0l3.4 2.1l-1.5 2.6l-3.4 -2.1zM451.4 255.2l3.4 2.1l-3.1 5.1l-3.4 -2.1zM475.2 236.0l6.9 4.1l-3.1 5.1l-6.9 -4.1zM417.4 225.3l3.4 2.1l-1.5 2.6l-3.4 -2.1zM483.0 272.5l3.4 2.1l-1.5 2.6l-3.4 -2.1zM454.6 211.7l3.4 2.1l-1.5 2.6l-3.4 -2.1zM379.7 190.5l3.4 2.1l-3.1 5.1l-3.4 -2.1zM426.9 222.5l3.4 2.1l-1.5 2.6l-3.4 -2.1zM401.9 239.7l3.4 2.1l-3.1 5.1l-3.4 -2.1zM377.1 180.5l6.9 4.1l-1.5 2.6l-6.9 -4.1zM440.1 225.9l6.9 4.1l-1.5 2.6l-6.9 -4.1zM484.9 262.5l3.4 2.1l-3.1 5.1l-3.4 -2.1zM441.1 249.9l3.4 2.1l-1.5 2.6l-3.4 -2.1zM396.8 175.2l3.4 2.1l-3.1 5.1l-3.4 -2.1zM414.1 220.2l6.9 4.1l-1.5 2.6l-6.9 -4.1zM330.7 142.3l3.4 2.1l-1.5 2.6l-3.4 -2.1zM446.9 225.2l3.4 2.1l-1.5 2.6l-3.4 -2.1zM454.5 256.3l3.4 2.1l-3.1 5.1l-3.4 -2.1zM475.4 226.8l3.4 2.1l-1.5 2.6l-3.4 -2.1zM355.2 202.6l3.4 2.1l-1.5 2.6l-3.4 -2.1zM457.2 205.4l3.4 2.1l-1.5 2.6l-3.4 -2.1zM414.9 195.0l6.9 4.1l-3.1 5.1l-6.9 -4.1zM419.7 201.8l6.9 4.1l-1.5 2.6l-6.9 -4.1zM448.1 273.8l3.4 2.1l-1.5 2.6l-3.4 -2.1zM334.6 147.8l3.4 2.1l-1.5 2.6l-3.4 -2.1zM399.0 194.7l3.4 2.1l-3.1 5.1l-3.4 -2.1zM380.5 169.1l3.4 2.1l-1.5 2.6l-3.4 -2.1zM412.7 208.4l6.9 4.1l-3.1 5.1l-6.9 -4.1zM405.1 222.7l6.9 4.1l-3.1 5.1l-6.9 -4.1zM347.6 209.9l6.9 4.1l-1.5 2.6l-6.9 -4.1zM388.0 197.9l3.4 2.1l-3.1 5.1l-3.4 -2.1zM340.5 161.2l6.9 4.1l-1.5 2.6l-6.9 -4.1zM471.8 216.8l3.4 2.1l-1.5 2.6l-3.4 -2.1zM367.0 169.1l3.4 2.1l-1.5 2.6l-3.4 -2.1zM306.9 114.5l3.4 2.1l-1.5 2.6l-3.4 -2.1zM373.6 149.8l6.9 4.1l-1.5 2.6l-6.9 -4.1zM452.3 239.5l3.4 2.1l-3.1 5.1l-3.4 -2.1zM323.9 159.3l6.9 4.1l-3.1 5.1l-6.9 -4.1zM388.1 233.4l6.9 4.1l-1.5 2.6l-6.9 -4.1zM438.1 201.4l6.9 4.1l-1.5 2.6l-6.9 -4.1zM390.8 197.4l3.4 2.1l-1.5 2.6l-3.4 -2.1zM455.8 245.4l3.4 2.1l-1.5 2.6l-3.4 -2.1zM457.9 204.6l6.9 4.1l-3.1 5.1l-6.9 -4.1zM437.3 244.0l3.4 2.1l-1.5 2.6l-3.4 -2.1zM422.1 256.4l3.4 2.1l-1.5 2.6l-3.4 -2.1zM431.3 201.7l3.4 2.1l-1.5 2.6l-3.4 -2.1zM357.0 141.9l6.9 4.1l-1.5 2.6l-6.9 -4.1zM459.3 250.1l3.4 2.1l-1.5 2.6l-3.4 -2.1zM484.9 284.1l3.4 2.1l-3.1 5.1l-3.4 -2.1zM457.2 255.0l6.9 4.1l-1.5 2.6l-6.9 -4.1zM425.6 236.7l3.4 2.1l-1.5 2.6l-3.4 -2.1zM394.9 213.5l3.4 2.1l-1.5 2.6l-3.4 -2.1zM384.6 206.0l3.4 2.1l-1.5 2.6l-3.4 -2.1zM449.0 274.2l3.4 2.1l-3.1 5.1l-3.4 -2.1zM342.7 196.2l3.4 2.1l-3.1 5.1l-3.4 -2.1zM355.1 211.2l6.9 4.1l-1.5 2.6l-6.9 -4.1zM481.6 267.7l6.9 4.1l-1.5 2.6l-6.9 -4.1zM392.4 222.0l6.9 4.1l-3.1 5.1l-6.9 -4.1zM400.3 201.7l3.4 2.1l-1.5 2.6l-3.4 -2.1zM447.1 210.8l3.4 2.1l-1.5 2.6l-3.4 -2.1zM368.0 184.3l3.4 2.1l-3.1 5.1l-3.4 -2.1zM399.6 240.8l3.4 2.1l-3.1 5.1l-3.4 -2.1zM447.3 215.6l3.4 2.1l-3.1 5.1l-3.4 -2.1zM353.3 199.0l3.4 2.1l-1.5 2.6l-3.4 -2.1zM456.5 233.0l3.4 2.1l-1.5 2.6l-3.4 -2.1zM358.1 164.6l3.4 2.1l-3.1 5.1l-3.4 -2.1zM379.9 211.3l3.4 2.1l-1.5 2.6l-3.4 -2.1zM334.0 187.8l3.4 2.1l-1.5 2.6l-3.4 -2.1zM327.9 128.9l6.9 4.1l-1.5 2.6l-6.9 -4.1zM421.8 181.2l6.9 4.1l-1.5 2.6l-6.9 -4.1zM333.3 126.4l6.9 4.1l-1.5 2.6l-6.9 -4.1zM310.0 141.6l6.9 4.1l-1.5 2.6l-6.9 -4.1zM316.8 130.6l3.4 2.1l-1.5 2.6l-3.4 -2.1zM416.2 192.2l6.9 4.1l-3.1 5.1l-6.9 -4.1zM470.7 249.1l3.4 2.1l-1.5 2.6l-3.4 -2.1zM368.6 174.7l3.4 2.1l-1.5 2.6l-3.4 -2.1zM370.7 165.9l3.4 2.1l-3.1 5.1l-3.4 -2.1zM430.2 247.5l6.9 4.1l-3.1 5.1l-6.9 -4.1zM413.1 210.8l3.4 2.1l-3.1 5.1l-3.4 -2.1zM314.6 135.3l6.9 4.1l-1.5 2.6l-6.9 -4.1zM325.7 162.7l6.9 4.1l-3.1 5.1l-6.9 -4.1zM459.0 234.8l6.9 4.1l-1.5 2.6l-6.9 -4.1zM468.5 240.3l3.4 2.1l-1.5 2.6l-3.4 -2.1zM392.9 177.2l3.4 2.1l-3.1 5.1l-3.4 -2.1zM427.1 238.4l6.9 4.1l-1.5 2.6l-6.9 -4.1zM364.2 164.0l3.4 2.1l-1.5 2.6l-3.4 -2.1zM476.4 244.8l3.4 2.1l-1.5 2.6l-3.4 -2.1zM456.4 235.6l6.9 4.1l-1.5 2.6l-6.9 -4.1zM332.1 204.8l3.4 2.1l-1.5 2.6l-3.4 -2.1z"/><polygon points="56.0,108.0 66.0,104.0 72.0,112.0 68.0,122.0 58.0,122.0" fill="#b6cdf9"/><polygon points="98.0,126.0 110.0,122.0 116.0,134.0 108.0,140.0 98.0,136.0" fill="#a8c6f9"/><polygon points="100.0,268.0 118.0,264.0 130.0,274.0 120.0,284.0 104.0,282.0" fill="#a0c2f9"/><polygon points="180.0,165.0 195.0,158.0 212.0,168.0 215.0,182.0 200.0,190.0 184.0,184.0" fill="#b6cdf9"/><polygon points="189.0,168.0 196.0,166.0 198.0,173.0 191.0,175.0" fill="#3a6cf4"/><polygon points="318.0,178.0 332.0,172.0 340.0,190.0 326.0,200.0" fill="#8cb8f9"/><path fill="#6cc46c" d="M388.7 396.1l4.3 2.6l-3.1 5.1l-4.3 -2.6zM479.6 387.8l4.3 2.6l-1.5 2.6l-4.3 -2.6zM463.2 386.7l4.3 2.6l-1.5 2.6l-4.3 -2.6zM412.9 304.3l4.3 2.6l-1.5 2.6l-4.3 -2.6zM400.1 416.9l4.3 2.6l-3.1 5.1l-4.3 -2.6zM481.1 442.4l4.3 2.6l-1.5 2.6l-4.3 -2.6zM460.8 409.2l4.3 2.6l-1.5 2.6l-4.3 -2.6zM458.3 396.2l8.6 5.2l-1.5 2.6l-8.6 -5.2zM481.2 463.9l8.6 5.2l-1.5 2.6l-8.6 -5.2zM446.0 356.8l8.6 5.2l-3.1 5.1l-8.6 -5.2zM406.7 400.0l4.3 2.6l-1.5 2.6l-4.3 -2.6zM472.2 345.2l4.3 2.6l-1.5 2.6l-4.3 -2.6zM435.3 439.3l4.3 2.6l-3.1 5.1l-4.3 -2.6zM434.9 359.7l8.6 5.2l-3.1 5.1l-8.6 -5.2zM465.2 367.6l4.3 2.6l-1.5 2.6l-4.3 -2.6zM375.8 354.4l4.3 2.6l-3.1 5.1l-4.3 -2.6zM432.5 398.3l4.3 2.6l-1.5 2.6l-4.3 -2.6zM462.3 387.2l4.3 2.6l-3.1 5.1l-4.3 -2.6zM451.2 403.2l4.3 2.6l-1.5 2.6l-4.3 -2.6zM450.7 424.9l4.3 2.6l-1.5 2.6l-4.3 -2.6zM403.4 397.1l4.3 2.6l-3.1 5.1l-4.3 -2.6zM468.2 359.2l8.6 5.2l-1.5 2.6l-8.6 -5.2zM431.5 369.8l4.3 2.6l-1.5 2.6l-4.3 -2.6zM466.0 354.4l8.6 5.2l-3.1 5.1l-8.6 -5.2zM383.8 343.6l4.3 2.6l-1.5 2.6l-4.3 -2.6zM395.4 372.9l4.3 2.6l-1.5 2.6l-4.3 -2.6zM473.2 337.3l4.3 2.6l-3.1 5.1l-4.3 -2.6zM389.2 319.4l4.3 2.6l-1.5 2.6l-4.3 -2.6zM389.4 378.3l8.6 5.2l-3.1 5.1l-8.6 -5.2zM380.8 300.8l8.6 5.2l-1.5 2.6l-8.6 -5.2zM436.7 413.4l4.3 2.6l-1.5 2.6l-4.3 -2.6zM392.1 400.4l4.3 2.6l-1.5 2.6l-4.3 -2.6zM433.7 438.8l4.3 2.6l-1.5 2.6l-4.3 -2.6zM385.9 306.8l4.3 2.6l-3.1 5.1l-4.3 -2.6zM464.5 312.2l8.6 5.2l-1.5 2.6l-8.6 -5.2zM415.7 355.1l4.3 2.6l-1.5 2.6l-4.3 -2.6zM378.8 335.2l4.3 2.6l-1.5 2.6l-4.3 -2.6zM474.1 408.4l4.3 2.6l-1.5 2.6l-4.3 -2.6zM474.2 411.2l4.3 2.6l-3.1 5.1l-4.3 -2.6zM478.4 444.8l4.3 2.6l-1.5 2.6l-4.3 -2.6zM416.2 386.2l4.3 2.6l-1.5 2.6l-4.3 -2.6zM457.9 304.8l8.6 5.2l-1.5 2.6l-8.6 -5.2zM405.1 306.0l8.6 5.2l-1.5 2.6l-8.6 -5.2zM457.6 308.8l4.3 2.6l-1.5 2.6l-4.3 -2.6zM406.2 362.6l8.6 5.2l-1.5 2.6l-8.6 -5.2zM439.5 319.6l4.3 2.6l-1.5 2.6l-4.3 -2.6zM430.5 323.0l4.3 2.6l-1.5 2.6l-4.3 -2.6zM441.3 396.8l4.3 2.6l-1.5 2.6l-4.3 -2.6zM431.9 318.1l4.3 2.6l-1.5 2.6l-4.3 -2.6zM377.2 319.8l8.6 5.2l-1.5 2.6l-8.6 -5.2zM417.6 411.7l4.3 2.6l-3.1 5.1l-4.3 -2.6zM430.8 389.8l4.3 2.6l-1.5 2.6l-4.3 -2.6zM461.8 410.7l8.6 5.2l-1.5 2.6l-8.6 -5.2zM459.9 439.6l4.3 2.6l-1.5 2.6l-4.3 -2.6zM475.3 463.3l8.6 5.2l-1.5 2.6l-8.6 -5.2zM390.1 319.3l4.3 2.6l-3.1 5.1l-4.3 -2.6zM465.4 381.2l4.3 2.6l-1.5 2.6l-4.3 -2.6zM366.9 340.6l8.6 5.2l-1.5 2.6l-8.6 -5.2zM450.6 325.5l4.3 2.6l-1.5 2.6l-4.3 -2.6zM446.4 304.4l4.3 2.6l-1.5 2.6l-4.3 -2.6zM424.3 405.3l4.3 2.6l-1.5 2.6l-4.3 -2.6zM422.4 356.4l8.6 5.2l-3.1 5.1l-8.6 -5.2zM446.1 334.3l4.3 2.6l-3.1 5.1l-4.3 -2.6zM410.2 350.9l8.6 5.2l-1.5 2.6l-8.6 -5.2zM466.8 416.2l4.3 2.6l-1.5 2.6l-4.3 -2.6zM415.8 392.9l8.6 5.2l-1.5 2.6l-8.6 -5.2zM378.9 314.6l8.6 5.2l-3.1 5.1l-8.6 -5.2zM438.3 339.4l4.3 2.6l-1.5 2.6l-4.3 -2.6zM403.7 301.4l8.6 5.2l-1.5 2.6l-8.6 -5.2zM483.0 364.3l8.6 5.2l-1.5 2.6l-8.6 -5.2z"/><path fill="#6cc46c" d="M248.4 371.1l6.9 4.1l-1.5 2.6l-6.9 -4.1zM300.0 315.2l3.4 2.1l-3.1 5.1l-3.4 -2.1zM286.8 411.3l3.4 2.1l-3.1 5.1l-3.4 -2.1zM253.0 397.3l3.4 2.1l-1.5 2.6l-3.4 -2.1zM454.1 473.9l3.4 2.1l-1.5 2.6l-3.4 -2.1zM251.8 400.8l3.4 2.1l-1.5 2.6l-3.4 -2.1zM424.0 451.7l3.4 2.1l-1.5 2.6l-3.4 -2.1zM356.2 404.5l6.9 4.1l-1.5 2.6l-6.9 -4.1zM394.6 417.3l6.9 4.1l-1.5 2.6l-6.9 -4.1zM382.3 444.1l3.4 2.1l-3.1 5.1l-3.4 -2.1zM337.7 415.5l6.9 4.1l-3.1 5.1l-6.9 -4.1zM262.0 430.5l6.9 4.1l-1.5 2.6l-6.9 -4.1zM343.6 356.7l6.9 4.1l-1.5 2.6l-6.9 -4.1zM384.7 438.9l6.9 4.1l-3.1 5.1l-6.9 -4.1zM249.1 373.2l3.4 2.1l-3.1 5.1l-3.4 -2.1zM352.5 379.8l3.4 2.1l-3.1 5.1l-3.4 -2.1zM361.2 415.7l6.9 4.1l-1.5 2.6l-6.9 -4.1zM295.5 374.7l3.4 2.1l-3.1 5.1l-3.4 -2.1zM388.9 398.3l3.4 2.1l-1.5 2.6l-3.4 -2.1zM422.8 437.3l3.4 2.1l-3.1 5.1l-3.4 -2.1z"/><polygon points="200.0,395.0 300.0,430.0 400.0,470.0 486.0,500.0 490.0,560.0 380.0,512.0 300.0,468.0 215.0,420.0" fill="#a6c8f9"/><polygon points="380.0,497.0 486.0,520.0 490.0,560.0 380.0,512.0" fill="#7ab4f8"/><polygon points="240.0,245.0 280.0,222.0 330.0,215.0 372.0,240.0 388.0,280.0 372.0,322.0 330.0,348.0 285.0,352.0 245.0,340.0 222.0,318.0 226.0,280.0" fill="#a8c8fa"/><path fill="#a8c8fa" d="M275.2 354.3l8.6 5.2l-1.5 2.6l-8.6 -5.2zM338.6 442.1l4.3 2.6l-1.5 2.6l-4.3 -2.6zM374.8 397.0l4.3 2.6l-3.1 5.1l-4.3 -2.6zM292.2 434.5l4.3 2.6l-1.5 2.6l-4.3 -2.6zM380.9 328.5l4.3 2.6l-3.1 5.1l-4.3 -2.6zM479.5 349.1l4.3 2.6l-1.5 2.6l-4.3 -2.6zM390.6 457.8l4.3 2.6l-1.5 2.6l-4.3 -2.6zM244.9 364.5l8.6 5.2l-3.1 5.1l-8.6 -5.2zM342.7 432.9l4.3 2.6l-3.1 5.1l-4.3 -2.6zM381.3 380.9l4.3 2.6l-1.5 2.6l-4.3 -2.6zM261.6 427.6l8.6 5.2l-3.1 5.1l-8.6 -5.2zM351.9 339.0l8.6 5.2l-1.5 2.6l-8.6 -5.2zM252.4 392.0l4.3 2.6l-3.1 5.1l-4.3 -2.6zM348.5 457.9l4.3 2.6l-3.1 5.1l-4.3 -2.6zM343.6 429.6l4.3 2.6l-1.5 2.6l-4.3 -2.6zM341.8 383.4l4.3 2.6l-3.1 5.1l-4.3 -2.6zM348.4 409.6l8.6 5.2l-3.1 5.1l-8.6 -5.2zM451.1 329.1l4.3 2.6l-3.1 5.1l-4.3 -2.6zM318.3 396.9l4.3 2.6l-1.5 2.6l-4.3 -2.6zM307.6 381.5l4.3 2.6l-1.5 2.6l-4.3 -2.6zM352.7 343.5l4.3 2.6l-1.5 2.6l-4.3 -2.6zM241.4 385.0l4.3 2.6l-1.5 2.6l-4.3 -2.6zM439.9 439.2l8.6 5.2l-1.5 2.6l-8.6 -5.2zM424.1 346.0l4.3 2.6l-1.5 2.6l-4.3 -2.6zM478.7 357.9l4.3 2.6l-1.5 2.6l-4.3 -2.6zM324.2 357.7l4.3 2.6l-1.5 2.6l-4.3 -2.6zM290.8 390.0l8.6 5.2l-1.5 2.6l-8.6 -5.2zM452.4 499.7l8.6 5.2l-1.5 2.6l-8.6 -5.2zM417.9 404.6l4.3 2.6l-3.1 5.1l-4.3 -2.6zM431.2 461.7l8.6 5.2l-1.5 2.6l-8.6 -5.2zM441.4 361.8l4.3 2.6l-1.5 2.6l-4.3 -2.6zM278.9 377.4l8.6 5.2l-1.5 2.6l-8.6 -5.2zM406.2 465.2l4.3 2.6l-1.5 2.6l-4.3 -2.6zM302.2 423.2l4.3 2.6l-3.1 5.1l-4.3 -2.6zM342.5 376.1l4.3 2.6l-3.1 5.1l-4.3 -2.6zM223.5 330.8l8.6 5.2l-3.1 5.1l-8.6 -5.2zM344.2 362.4l4.3 2.6l-1.5 2.6l-4.3 -2.6zM446.5 484.4l8.6 5.2l-1.5 2.6l-8.6 -5.2zM343.3 464.3l8.6 5.2l-1.5 2.6l-8.6 -5.2zM453.9 485.1l8.6 5.2l-1.5 2.6l-8.6 -5.2zM281.1 337.2l4.3 2.6l-1.5 2.6l-4.3 -2.6zM459.6 323.5l8.6 5.2l-1.5 2.6l-8.6 -5.2zM236.6 363.6l8.6 5.2l-3.1 5.1l-8.6 -5.2zM448.0 306.8l4.3 2.6l-1.5 2.6l-4.3 -2.6zM377.4 312.5l8.6 5.2l-1.5 2.6l-8.6 -5.2zM466.1 400.0l4.3 2.6l-1.5 2.6l-4.3 -2.6zM409.4 457.4l4.3 2.6l-3.1 5.1l-4.3 -2.6zM387.7 433.5l8.6 5.2l-1.5 2.6l-8.6 -5.2zM485.4 324.1l4.3 2.6l-1.5 2.6l-4.3 -2.6zM253.4 362.0l8.6 5.2l-1.5 2.6l-8.6 -5.2zM460.5 449.0l4.3 2.6l-1.5 2.6l-4.3 -2.6zM422.4 399.4l8.6 5.2l-1.5 2.6l-8.6 -5.2zM255.1 391.2l4.3 2.6l-3.1 5.1l-4.3 -2.6zM318.2 451.1l8.6 5.2l-3.1 5.1l-8.6 -5.2zM364.5 389.8l8.6 5.2l-1.5 2.6l-8.6 -5.2zM378.1 321.3l4.3 2.6l-1.5 2.6l-4.3 -2.6zM464.6 333.0l4.3 2.6l-1.5 2.6l-4.3 -2.6zM441.1 320.0l8.6 5.2l-1.5 2.6l-8.6 -5.2zM445.4 499.8l4.3 2.6l-1.5 2.6l-4.3 -2.6z"/><path fill="#b4cefa" d="M331.9 409.7l4.3 2.6l-1.5 2.6l-4.3 -2.6zM421.7 337.7l4.3 2.6l-1.5 2.6l-4.3 -2.6zM467.9 420.7l8.6 5.2l-1.5 2.6l-8.6 -5.2zM345.9 429.2l8.6 5.2l-1.5 2.6l-8.6 -5.2zM295.5 350.1l4.3 2.6l-1.5 2.6l-4.3 -2.6zM287.8 338.3l8.6 5.2l-1.5 2.6l-8.6 -5.2zM468.3 332.2l4.3 2.6l-1.5 2.6l-4.3 -2.6zM308.4 318.9l4.3 2.6l-3.1 5.1l-4.3 -2.6zM464.3 340.8l4.3 2.6l-1.5 2.6l-4.3 -2.6zM474.4 440.4l4.3 2.6l-1.5 2.6l-4.3 -2.6zM301.8 329.8l4.3 2.6l-1.5 2.6l-4.3 -2.6zM483.7 370.8l4.3 2.6l-3.1 5.1l-4.3 -2.6zM410.4 401.6l4.3 2.6l-3.1 5.1l-4.3 -2.6zM357.3 375.6l4.3 2.6l-1.5 2.6l-4.3 -2.6zM253.9 398.3l8.6 5.2l-3.1 5.1l-8.6 -5.2zM433.6 435.9l8.6 5.2l-1.5 2.6l-8.6 -5.2zM372.4 455.0l8.6 5.2l-1.5 2.6l-8.6 -5.2zM456.5 359.1l8.6 5.2l-3.1 5.1l-8.6 -5.2zM301.2 359.4l4.3 2.6l-1.5 2.6l-4.3 -2.6zM323.2 327.9l8.6 5.2l-1.5 2.6l-8.6 -5.2zM362.3 434.6l8.6 5.2l-3.1 5.1l-8.6 -5.2zM474.6 473.5l4.3 2.6l-1.5 2.6l-4.3 -2.6zM394.5 340.1l4.3 2.6l-1.5 2.6l-4.3 -2.6zM370.9 434.1l4.3 2.6l-1.5 2.6l-4.3 -2.6zM420.5 319.9l8.6 5.2l-1.5 2.6l-8.6 -5.2zM287.5 332.7l4.3 2.6l-1.5 2.6l-4.3 -2.6zM417.0 343.3l4.3 2.6l-3.1 5.1l-4.3 -2.6zM418.0 391.9l4.3 2.6l-1.5 2.6l-4.3 -2.6zM366.2 460.3l8.6 5.2l-1.5 2.6l-8.6 -5.2zM318.0 366.8l4.3 2.6l-1.5 2.6l-4.3 -2.6zM463.0 394.2l8.6 5.2l-1.5 2.6l-8.6 -5.2zM485.6 320.1l4.3 2.6l-3.1 5.1l-4.3 -2.6zM483.0 383.8l4.3 2.6l-1.5 2.6l-4.3 -2.6zM343.9 346.6l8.6 5.2l-1.5 2.6l-8.6 -5.2zM317.8 424.7l8.6 5.2l-1.5 2.6l-8.6 -5.2zM328.7 420.3l8.6 5.2l-1.5 2.6l-8.6 -5.2zM435.0 459.5l4.3 2.6l-1.5 2.6l-4.3 -2.6zM355.3 380.5l4.3 2.6l-1.5 2.6l-4.3 -2.6zM313.1 346.7l4.3 2.6l-1.5 2.6l-4.3 -2.6zM439.8 454.4l8.6 5.2l-3.1 5.1l-8.6 -5.2zM434.2 449.6l4.3 2.6l-1.5 2.6l-4.3 -2.6zM388.7 457.1l4.3 2.6l-3.1 5.1l-4.3 -2.6zM325.5 326.8l4.3 2.6l-1.5 2.6l-4.3 -2.6zM348.6 391.5l4.3 2.6l-3.1 5.1l-4.3 -2.6zM355.1 462.9l4.3 2.6l-1.5 2.6l-4.3 -2.6zM437.4 445.4l4.3 2.6l-1.5 2.6l-4.3 -2.6zM330.1 353.1l4.3 2.6l-3.1 5.1l-4.3 -2.6zM394.5 421.6l4.3 2.6l-1.5 2.6l-4.3 -2.6zM475.7 489.5l8.6 5.2l-1.5 2.6l-8.6 -5.2zM379.7 363.4l8.6 5.2l-3.1 5.1l-8.6 -5.2zM349.5 421.0l4.3 2.6l-1.5 2.6l-4.3 -2.6zM478.5 477.2l4.3 2.6l-3.1 5.1l-4.3 -2.6zM328.3 421.7l4.3 2.6l-1.5 2.6l-4.3 -2.6z"/><path fill="#9cc2fa" d="M249.9 332.1l4.3 2.6l-1.5 2.6l-4.3 -2.6zM416.0 419.5l8.6 5.2l-1.5 2.6l-8.6 -5.2zM260.5 336.1l4.3 2.6l-1.5 2.6l-4.3 -2.6zM366.9 465.7l8.6 5.2l-3.1 5.1l-8.6 -5.2zM315.8 408.3l4.3 2.6l-1.5 2.6l-4.3 -2.6zM319.5 446.8l4.3 2.6l-1.5 2.6l-4.3 -2.6zM351.0 391.6l8.6 5.2l-1.5 2.6l-8.6 -5.2zM332.8 379.1l4.3 2.6l-1.5 2.6l-4.3 -2.6zM416.2 429.7l4.3 2.6l-1.5 2.6l-4.3 -2.6zM427.1 379.0l4.3 2.6l-1.5 2.6l-4.3 -2.6zM455.5 385.4l8.6 5.2l-1.5 2.6l-8.6 -5.2zM372.6 377.5l4.3 2.6l-1.5 2.6l-4.3 -2.6zM385.7 437.3l4.3 2.6l-1.5 2.6l-4.3 -2.6zM256.2 326.8l4.3 2.6l-3.1 5.1l-4.3 -2.6zM455.7 369.3l8.6 5.2l-1.5 2.6l-8.6 -5.2zM481.4 514.2l8.6 5.2l-1.5 2.6l-8.6 -5.2zM456.4 484.9l4.3 2.6l-1.5 2.6l-4.3 -2.6zM368.1 457.0l4.3 2.6l-3.1 5.1l-4.3 -2.6zM471.0 365.2l8.6 5.2l-3.1 5.1l-8.6 -5.2zM477.1 318.9l4.3 2.6l-3.1 5.1l-4.3 -2.6zM421.9 439.7l4.3 2.6l-1.5 2.6l-4.3 -2.6zM472.3 448.2l8.6 5.2l-3.1 5.1l-8.6 -5.2zM225.3 366.2l4.3 2.6l-3.1 5.1l-4.3 -2.6zM331.9 401.3l8.6 5.2l-3.1 5.1l-8.6 -5.2zM413.3 443.6l8.6 5.2l-3.1 5.1l-8.6 -5.2zM434.1 465.4l4.3 2.6l-1.5 2.6l-4.3 -2.6zM464.8 448.7l4.3 2.6l-1.5 2.6l-4.3 -2.6zM382.3 320.3l4.3 2.6l-1.5 2.6l-4.3 -2.6zM382.3 378.0l4.3 2.6l-1.5 2.6l-4.3 -2.6zM239.3 369.4l8.6 5.2l-1.5 2.6l-8.6 -5.2zM309.9 436.7l4.3 2.6l-3.1 5.1l-4.3 -2.6zM463.2 396.9l8.6 5.2l-1.5 2.6l-8.6 -5.2zM432.2 441.2l4.3 2.6l-1.5 2.6l-4.3 -2.6zM296.3 427.2l4.3 2.6l-3.1 5.1l-4.3 -2.6zM472.0 375.9l4.3 2.6l-1.5 2.6l-4.3 -2.6zM232.5 402.3l4.3 2.6l-1.5 2.6l-4.3 -2.6zM433.6 413.6l8.6 5.2l-1.5 2.6l-8.6 -5.2zM368.7 468.7l8.6 5.2l-3.1 5.1l-8.6 -5.2zM328.9 451.2l4.3 2.6l-3.1 5.1l-4.3 -2.6zM381.5 415.1l4.3 2.6l-3.1 5.1l-4.3 -2.6zM410.1 424.6l4.3 2.6l-1.5 2.6l-4.3 -2.6zM259.8 361.0l4.3 2.6l-3.1 5.1l-4.3 -2.6zM363.2 344.9l8.6 5.2l-1.5 2.6l-8.6 -5.2zM371.5 334.0l8.6 5.2l-1.5 2.6l-8.6 -5.2zM462.9 429.3l4.3 2.6l-1.5 2.6l-4.3 -2.6zM328.9 427.0l8.6 5.2l-1.5 2.6l-8.6 -5.2zM380.4 341.2l4.3 2.6l-1.5 2.6l-4.3 -2.6zM408.1 328.7l8.6 5.2l-3.1 5.1l-8.6 -5.2z"/><path fill="#c9d3f9" d="M283.3 258.9l4.3 2.6l-1.5 2.6l-4.3 -2.6zM324.2 312.0l4.3 2.6l-1.5 2.6l-4.3 -2.6zM281.3 231.1l4.3 2.6l-1.5 2.6l-4.3 -2.6zM241.3 294.9l4.3 2.6l-3.1 5.1l-4.3 -2.6zM267.8 289.9l8.6 5.2l-1.5 2.6l-8.6 -5.2zM258.8 306.9l4.3 2.6l-3.1 5.1l-4.3 -2.6zM295.5 320.7l4.3 2.6l-1.5 2.6l-4.3 -2.6zM277.3 273.9l4.3 2.6l-1.5 2.6l-4.3 -2.6zM259.8 282.4l8.6 5.2l-1.5 2.6l-8.6 -5.2zM289.5 253.7l4.3 2.6l-1.5 2.6l-4.3 -2.6zM286.5 272.3l4.3 2.6l-1.5 2.6l-4.3 -2.6zM238.9 328.6l4.3 2.6l-1.5 2.6l-4.3 -2.6zM270.0 315.5l8.6 5.2l-1.5 2.6l-8.6 -5.2zM331.9 295.8l4.3 2.6l-3.1 5.1l-4.3 -2.6zM246.2 254.2l4.3 2.6l-1.5 2.6l-4.3 -2.6zM356.6 280.3l4.3 2.6l-3.1 5.1l-4.3 -2.6zM358.1 259.3l8.6 5.2l-1.5 2.6l-8.6 -5.2zM314.9 315.7l8.6 5.2l-3.1 5.1l-8.6 -5.2zM370.9 312.8l4.3 2.6l-3.1 5.1l-4.3 -2.6zM288.2 279.9l4.3 2.6l-1.5 2.6l-4.3 -2.6zM296.0 286.9l4.3 2.6l-3.1 5.1l-4.3 -2.6zM304.8 332.1l8.6 5.2l-1.5 2.6l-8.6 -5.2zM290.6 263.0l4.3 2.6l-1.5 2.6l-4.3 -2.6zM313.5 322.0l4.3 2.6l-1.5 2.6l-4.3 -2.6zM303.7 259.3l8.6 5.2l-1.5 2.6l-8.6 -5.2zM332.9 317.9l4.3 2.6l-1.5 2.6l-4.3 -2.6zM341.8 287.3l4.3 2.6l-1.5 2.6l-4.3 -2.6zM347.9 277.4l8.6 5.2l-1.5 2.6l-8.6 -5.2zM318.0 230.3l8.6 5.2l-1.5 2.6l-8.6 -5.2zM319.5 316.7l8.6 5.2l-1.5 2.6l-8.6 -5.2zM328.3 301.8l8.6 5.2l-1.5 2.6l-8.6 -5.2zM371.8 318.8l4.3 2.6l-3.1 5.1l-4.3 -2.6zM369.3 317.5l4.3 2.6l-1.5 2.6l-4.3 -2.6zM340.8 265.0l4.3 2.6l-1.5 2.6l-4.3 -2.6zM278.4 272.2l8.6 5.2l-1.5 2.6l-8.6 -5.2zM234.8 330.2l4.3 2.6l-1.5 2.6l-4.3 -2.6zM313.0 329.1l8.6 5.2l-1.5 2.6l-8.6 -5.2zM285.6 234.3l4.3 2.6l-1.5 2.6l-4.3 -2.6zM226.4 294.9l4.3 2.6l-3.1 5.1l-4.3 -2.6z"/><path fill="#8cbcf8" d="M332.3 273.1l8.6 5.2l-1.5 2.6l-8.6 -5.2zM341.8 306.4l4.3 2.6l-3.1 5.1l-4.3 -2.6zM367.5 278.1l8.6 5.2l-1.5 2.6l-8.6 -5.2zM356.7 286.2l4.3 2.6l-3.1 5.1l-4.3 -2.6zM284.6 306.6l4.3 2.6l-3.1 5.1l-4.3 -2.6zM309.8 289.3l8.6 5.2l-1.5 2.6l-8.6 -5.2zM239.0 276.8l4.3 2.6l-3.1 5.1l-4.3 -2.6zM256.9 289.6l4.3 2.6l-1.5 2.6l-4.3 -2.6zM309.6 295.2l4.3 2.6l-3.1 5.1l-4.3 -2.6zM242.9 331.1l4.3 2.6l-1.5 2.6l-4.3 -2.6zM323.7 321.6l8.6 5.2l-1.5 2.6l-8.6 -5.2zM349.7 282.2l4.3 2.6l-3.1 5.1l-4.3 -2.6zM297.9 221.7l8.6 5.2l-1.5 2.6l-8.6 -5.2zM253.1 324.8l4.3 2.6l-1.5 2.6l-4.3 -2.6zM332.3 244.2l4.3 2.6l-1.5 2.6l-4.3 -2.6zM235.0 267.4l4.3 2.6l-1.5 2.6l-4.3 -2.6zM296.6 302.9l4.3 2.6l-3.1 5.1l-4.3 -2.6zM269.5 327.2l8.6 5.2l-3.1 5.1l-8.6 -5.2zM380.7 285.6l4.3 2.6l-1.5 2.6l-4.3 -2.6zM294.3 305.9l4.3 2.6l-3.1 5.1l-4.3 -2.6zM366.7 280.7l4.3 2.6l-1.5 2.6l-4.3 -2.6z"/><polygon points="298.0,236.0 328.0,232.0 360.0,246.0 368.0,282.0 350.0,312.0 322.0,328.0 300.0,325.0 296.0,300.0 300.0,262.0" fill="#60a8f8"/><polygon points="262.0,300.0 300.0,296.0 312.0,330.0 290.0,338.0 265.0,320.0" fill="#8cbcf8"/><polygon points="306.6,245.6 323.5,243.9 338.7,257.4 352.3,255.7 359.1,271.0 357.4,291.3 342.1,304.9 332.0,315.0 318.4,308.3 308.2,294.7 304.9,277.8 308.2,260.8" fill="#1424e4"/><polygon points="320.0,255.0 345.0,262.0 352.0,285.0 338.0,300.0 325.0,290.0 315.0,270.0" fill="#0a0ad0"/><rect x="316" y="250" width="5" height="8" fill="#ffd800" transform="rotate(30 316 250)"/><rect x="322" y="247" width="4" height="4" fill="#ffd800" transform="rotate(30 322 247)"/><rect x="313" y="273" width="6" height="5" fill="#ffd800" transform="rotate(30 313 273)"/><rect x="320" y="270" width="4" height="6" fill="#ffd800" transform="rotate(30 320 270)"/><rect x="326" y="276" width="6" height="4" fill="#ffd800" transform="rotate(30 326 276)"/><rect x="330" y="282" width="5" height="4" fill="#ffd800" transform="rotate(30 330 282)"/><rect x="340" y="275" width="5" height="5" fill="#ffd800" transform="rotate(30 340 275)"/><rect x="346" y="266" width="4" height="6" fill="#ffd800" transform="rotate(30 346 266)"/><rect x="343" y="286" width="4" height="4" fill="#ffd800" transform="rotate(30 343 286)"/><polygon points="262.0,308.0 285.0,302.0 295.0,312.0 280.0,318.0 265.0,316.0" fill="#2a4ef0"/><polygon points="290.0,322.0 305.0,318.0 310.0,328.0 296.0,332.0" fill="#1a30e8"/><polygon points="252.0,284.0 262.0,278.0 274.0,288.0 268.0,298.0 256.0,296.0" fill="#2236e8"/><polygon points="258.0,282.0 266.0,284.0 264.0,292.0 258.0,290.0" fill="#ffb000"/><polygon points="218.0,302.0 240.0,298.0 262.0,312.0 272.0,330.0 262.0,342.0 240.0,340.0 222.0,326.0" fill="#4a7cf4"/><polygon points="224.0,310.0 235.0,305.0 250.0,314.0 262.0,322.0 266.0,332.0 255.0,337.0 240.0,332.0 228.0,322.0" fill="#ff3010"/><polygon points="240.0,316.0 250.0,318.0 248.0,326.0 238.0,324.0" fill="#e070e0"/><polygon points="226.0,308.0 232.0,306.0 234.0,312.0 228.0,314.0" fill="#ffe000"/><polygon points="246.0,328.0 258.0,326.0 262.0,334.0 250.0,336.0" fill="#ffd000"/><polygon points="252.0,318.0 262.0,322.0 262.0,328.0 254.0,326.0" fill="#700000"/><polygon points="198.0,384.0 206.0,380.0 214.0,388.0 204.0,392.0" fill="#2040e8"/><polygon points="228.0,412.0 236.0,408.0 242.0,416.0 232.0,420.0" fill="#ff8000"/><polygon points="240.0,404.0 252.0,400.0 256.0,410.0 244.0,412.0" fill="#2a50f0"/><polygon points="272.0,427.0 282.0,424.0 288.0,432.0 278.0,436.0" fill="#2040e8"/><polygon points="430.0,500.0 440.0,496.0 446.0,504.0 436.0,508.0" fill="#2040e8"/></g><g stroke="#333" stroke-width="1.35" stroke-dasharray="3 5.27" fill="none"><line x1="68.60" y1="41" x2="68.60" y2="549"/><line x1="147.30" y1="41" x2="147.30" y2="549"/><line x1="226.00" y1="41" x2="226.00" y2="549"/><line x1="304.70" y1="41" x2="304.70" y2="549"/><line x1="383.40" y1="41" x2="383.40" y2="549"/><line x1="462.10" y1="41" x2="462.10" y2="549"/><line x1="13" y1="67.20" x2="486" y2="67.20"/><line x1="13" y1="151.70" x2="486" y2="151.70"/><line x1="13" y1="236.20" x2="486" y2="236.20"/><line x1="13" y1="320.70" x2="486" y2="320.70"/><line x1="13" y1="405.20" x2="486" y2="405.20"/><line x1="13" y1="489.70" x2="486" y2="489.70"/></g><g stroke="#000" stroke-width="1.25" stroke-dasharray="12.2 11.5" fill="none"><path d="M13.00,55.89 Q249.00,216.18 485.00,343.32"/><path d="M13.00,152.94 Q249.50,312.51 486.00,436.77"/></g><g style="font-family:'Liberation Sans',sans-serif" font-size="12.5" fill="#000"><text x="68.60" y="300.2" text-anchor="middle">54</text><text x="147.30" y="300.2" text-anchor="middle">56</text><text x="226.00" y="300.2" text-anchor="middle">58</text><text x="304.70" y="300.2" text-anchor="middle">60</text><text x="383.40" y="300.2" text-anchor="middle">62</text><text x="462.10" y="300.2" text-anchor="middle">64</text><text x="235.5" y="66.70">-16</text><text x="235.5" y="151.20">-18</text><text x="235.5" y="235.70">-20</text><text x="235.5" y="320.20">-22</text><text x="235.5" y="404.70">-24</text><text x="235.5" y="489.20">-26</text></g><path d="M242.8,294.5 H255.8 M249.3,288.0 V301.0" stroke="#000" stroke-width="5" fill="none"/><text x="43.5" y="65.5" style="font-family:'Liberation Sans',sans-serif" font-size="25" fill="#000">37GHz PCT (K)</text><text x="438.5" y="522.7" style="font-family:'Liberation Sans',sans-serif" font-size="30" fill="#000">(e)</text><rect x="495" y="531.54" width="9" height="8.86" fill="#f6f6f6"/><rect x="495" y="523.08" width="9" height="8.86" fill="#eeeeee"/><rect x="495" y="514.63" width="9" height="8.86" fill="#e6e6e6"/><rect x="495" y="506.17" width="9" height="8.86" fill="#dedede"/><rect x="495" y="497.71" width="9" height="8.86" fill="#d6d6d6"/><rect x="495" y="489.25" width="9" height="8.86" fill="#cecece"/><rect x="495" y="480.80" width="9" height="8.86" fill="#c6c6c6"/><rect x="495" y="472.34" width="9" height="8.86" fill="#bfbfbf"/><rect x="495" y="463.88" width="9" height="8.86" fill="#b7b7b7"/><rect x="495" y="455.42" width="9" height="8.86" fill="#afafaf"/><rect x="495" y="446.97" width="9" height="8.86" fill="#a7a7a7"/><rect x="495" y="438.51" width="9" height="8.86" fill="#9f9f9f"/><rect x="495" y="430.05" width="9" height="8.86" fill="#979797"/><rect x="495" y="421.59" width="9" height="8.86" fill="#8f8f8f"/><rect x="495" y="413.14" width="9" height="8.86" fill="#82e082"/><rect x="495" y="404.68" width="9" height="8.86" fill="#7ad67a"/><rect x="495" y="396.22" width="9" height="8.86" fill="#72cc72"/><rect x="495" y="387.76" width="9" height="8.86" fill="#6ac26a"/><rect x="495" y="379.31" width="9" height="8.86" fill="#62b862"/><rect x="495" y="370.85" width="9" height="8.86" fill="#ccd4fc"/><rect x="495" y="362.39" width="9" height="8.86" fill="#b4c8fc"/><rect x="495" y="353.93" width="9" height="8.86" fill="#9cbffc"/><rect x="495" y="345.47" width="9" height="8.86" fill="#88b6fc"/><rect x="495" y="337.02" width="9" height="8.86" fill="#70aefc"/><rect x="495" y="328.56" width="9" height="8.86" fill="#58a6fc"/><rect x="495" y="320.10" width="9" height="8.86" fill="#4a94f8"/><rect x="495" y="311.64" width="9" height="8.86" fill="#4080f4"/><rect x="495" y="303.19" width="9" height="8.86" fill="#3868f6"/><rect x="495" y="294.73" width="9" height="8.86" fill="#3050f8"/><rect x="495" y="286.27" width="9" height="8.86" fill="#2838f8"/><rect x="495" y="277.81" width="9" height="8.86" fill="#0000ff"/><rect x="495" y="269.36" width="9" height="8.86" fill="#0000ee"/><rect x="495" y="260.90" width="9" height="8.86" fill="#0000dd"/><rect x="495" y="252.44" width="9" height="8.86" fill="#0000cc"/><rect x="495" y="243.98" width="9" height="8.86" fill="#ffff00"/><rect x="495" y="235.53" width="9" height="8.86" fill="#fff200"/><rect x="495" y="227.07" width="9" height="8.86" fill="#ffe600"/><rect x="495" y="218.61" width="9" height="8.86" fill="#ffd900"/><rect x="495" y="210.15" width="9" height="8.86" fill="#ffcc00"/><rect x="495" y="201.69" width="9" height="8.86" fill="#ff8400"/><rect x="495" y="193.24" width="9" height="8.86" fill="#ff7e00"/><rect x="495" y="184.78" width="9" height="8.86" fill="#ff7800"/><rect x="495" y="176.32" width="9" height="8.86" fill="#ff7200"/><rect x="495" y="167.86" width="9" height="8.86" fill="#ff6c00"/><rect x="495" y="159.41" width="9" height="8.86" fill="#ff4000"/><rect x="495" y="150.95" width="9" height="8.86" fill="#ff3400"/><rect x="495" y="142.49" width="9" height="8.86" fill="#ff2800"/><rect x="495" y="134.03" width="9" height="8.86" fill="#ff1c00"/><rect x="495" y="125.58" width="9" height="8.86" fill="#ff1000"/><rect x="495" y="117.12" width="9" height="8.86" fill="#cc0000"/><rect x="495" y="108.66" width="9" height="8.86" fill="#c10000"/><rect x="495" y="100.20" width="9" height="8.86" fill="#b60000"/><rect x="495" y="91.75" width="9" height="8.86" fill="#ab0000"/><rect x="495" y="83.29" width="9" height="8.86" fill="#a00000"/><rect x="495" y="74.83" width="9" height="8.86" fill="#640a04"/><rect x="495" y="66.37" width="9" height="8.86" fill="#600e08"/><rect x="495" y="57.92" width="9" height="8.86" fill="#5c110c"/><rect x="495" y="49.46" width="9" height="8.86" fill="#581410"/><rect x="495" y="41.00" width="9" height="8.86" fill="#541814"/><g stroke="#000" stroke-width="1"><line x1="504" y1="548.50" x2="507" y2="548.50"/><line x1="504" y1="497.70" x2="507" y2="497.70"/><line x1="504" y1="446.90" x2="507" y2="446.90"/><line x1="504" y1="396.10" x2="507" y2="396.10"/><line x1="504" y1="345.30" x2="507" y2="345.30"/><line x1="504" y1="294.50" x2="507" y2="294.50"/><line x1="504" y1="243.70" x2="507" y2="243.70"/><line x1="504" y1="192.90" x2="507" y2="192.90"/><line x1="504" y1="142.10" x2="507" y2="142.10"/><line x1="504" y1="91.30" x2="507" y2="91.30"/></g><g style="font-family:'Liberation Sans',sans-serif" font-size="20" fill="#000" text-anchor="middle"><text x="524.3" y="557.10">315</text><text x="524.3" y="506.30">306</text><text x="524.3" y="455.50">297</text><text x="524.3" y="404.70">288</text><text x="524.3" y="353.90">279</text><text x="524.3" y="303.10">270</text><text x="524.3" y="252.30">261</text><text x="524.3" y="201.50">252</text><text x="524.3" y="150.70">243</text><text x="524.3" y="99.90">234</text></g>
</g>
<g transform="translate(1180.667,590.333)">
<polygon points="53.0,127.0 60.0,113.0 73.0,107.0 70.0,117.0 63.0,123.0 57.0,130.0" fill="#80d880" stroke="#000" stroke-width="1.3" stroke-linejoin="round"/><polygon points="83.0,132.0 100.0,127.0 117.0,110.0 123.0,113.0 132.0,133.0 133.0,142.0 117.0,143.0 100.0,137.0 83.0,133.0" fill="#80d880" stroke="#000" stroke-width="1.3" stroke-linejoin="round"/><polygon points="185.0,168.0 193.0,163.0 200.0,180.0 217.0,190.0 213.0,192.0 193.0,192.0 187.0,187.0" fill="#80d880" stroke="#000" stroke-width="1.3" stroke-linejoin="round"/><polygon points="323.0,170.0 330.0,173.0 343.0,200.0 343.0,205.0 333.0,197.0 328.0,187.0" fill="#80d880" stroke="#000" stroke-width="1.3" stroke-linejoin="round"/><polygon points="337.0,217.0 357.0,213.0 363.0,233.0 353.0,230.0 337.0,220.0" fill="#80d880" stroke="#000" stroke-width="1.3" stroke-linejoin="round"/><polygon points="233.0,377.0 250.0,367.0 257.0,373.0 247.0,382.0 237.0,382.0" fill="#80d880" stroke="#000" stroke-width="1.3" stroke-linejoin="round"/><polygon points="190.0,387.0 210.0,380.0 233.0,403.0 243.0,413.0 233.0,413.0 207.0,397.0 193.0,390.0" fill="#80d880" stroke="#000" stroke-width="1.3" stroke-linejoin="round"/><polygon points="283.0,437.0 290.0,436.0 296.0,443.0 288.0,446.0" fill="#80d880" stroke="#000" stroke-width="1.3" stroke-linejoin="round"/><polygon points="402.0,423.0 414.0,413.0 416.0,417.0 406.0,425.0" fill="#80d880" stroke="#000" stroke-width="1.3" stroke-linejoin="round"/><polygon points="443.0,470.0 460.0,460.0 462.0,463.0 446.0,472.0" fill="#80d880" stroke="#000" stroke-width="1.3" stroke-linejoin="round"/><polygon points="437.0,525.0 455.0,480.0 460.0,485.0 445.0,528.0" fill="#80d880" stroke="#000" stroke-width="1.3" stroke-linejoin="round"/><polygon points="376.0,260.0 393.0,255.0 393.0,262.0 378.0,266.0" fill="#80d880" stroke="#000" stroke-width="1.3" stroke-linejoin="round"/><polygon points="272.0,250.0 280.0,250.0 282.0,258.0 276.0,258.0" fill="#80d880" stroke="#000" stroke-width="1.3" stroke-linejoin="round"/><polygon points="220.0,263.0 230.0,253.0 247.0,263.0 267.0,277.0 267.0,260.0 280.0,280.0 293.0,267.0 307.0,243.0 313.0,227.0 320.0,233.0 323.0,247.0 340.0,253.0 358.0,240.0 357.0,257.0 367.0,270.0 353.0,287.0 360.0,300.0 333.0,320.0 317.0,320.0 303.0,327.0 287.0,333.0 273.0,340.0 253.0,343.0 240.0,347.0 233.0,340.0 227.0,327.0 220.0,310.0 227.0,300.0 233.0,287.0 240.0,273.0 230.0,270.0" fill="#80d880" stroke="#000" stroke-width="1.4" stroke-linejoin="round"/><polygon points="298.0,270.0 320.0,265.0 345.0,275.0 350.0,290.0 330.0,300.0 310.0,290.0 298.0,282.0" fill="#b8ccf6" fill-opacity="0.9"/><polygon points="310.0,272.0 322.0,270.0 328.0,280.0 318.0,284.0" fill="#5a90f0"/><polygon points="312.0,275.0 318.0,275.0 318.0,280.0 312.0,280.0" fill="#0000e0"/><polygon points="230.0,303.0 245.0,305.0 252.0,318.0 240.0,322.0" fill="#80b0f0" fill-opacity="0.9"/><polygon points="250.0,275.0 262.0,278.0 268.0,290.0 258.0,290.0" fill="#9cbffc" fill-opacity="0.8"/><ellipse cx="249" cy="266" rx="6" ry="5" fill="#fff" stroke="#000" stroke-width="1.4"/><ellipse cx="267" cy="297" rx="4" ry="3.5" fill="#fff" stroke="#000" stroke-width="1.4"/><ellipse cx="303" cy="318" rx="6" ry="5" fill="#fff" stroke="#000" stroke-width="1.4"/><polygon points="260.0,310.0 275.0,305.0 295.0,310.0 300.0,325.0 285.0,333.0 265.0,330.0 255.0,320.0" fill="#fff" stroke="#000" stroke-width="1.3" stroke-linejoin="round"/><path d="M233,310 H239 M236,307 V313 M233.8,307.8 L238.2,312.2 M233.8,312.2 L238.2,307.8" stroke="#000" stroke-width="2"/><path d="M238,320 H244 M241,317 V323 M238.8,317.8 L243.2,322.2 M238.8,322.2 L243.2,317.8" stroke="#000" stroke-width="2"/><path d="M243,322 H249 M246,319 V325 M243.8,319.8 L248.2,324.2 M243.8,324.2 L248.2,319.8" stroke="#000" stroke-width="2"/><path d="M253,326 H259 M256,323 V329 M253.8,323.8 L258.2,328.2 M253.8,328.2 L258.2,323.8" stroke="#000" stroke-width="2"/><path d="M259,328 H265 M262,325 V331 M259.8,325.8 L264.2,330.2 M259.8,330.2 L264.2,325.8" stroke="#000" stroke-width="2"/><path d="M267,290 H273 M270,287 V293 M267.8,287.8 L272.2,292.2 M267.8,292.2 L272.2,287.8" stroke="#000" stroke-width="2"/><path d="M312,257 H318 M315,254 V260 M312.8,254.8 L317.2,259.2 M312.8,259.2 L317.2,254.8" stroke="#000" stroke-width="2"/><path d="M325,252 H331 M328,249 V255 M325.8,249.8 L330.2,254.2 M325.8,254.2 L330.2,249.8" stroke="#000" stroke-width="2"/><path d="M317,252 H323 M320,249 V255 M317.8,249.8 L322.2,254.2 M317.8,254.2 L322.2,249.8" stroke="#000" stroke-width="2"/><path d="M241,314 H247 M244,311 V317 M241.8,311.8 L246.2,316.2 M241.8,316.2 L246.2,311.8" stroke="#000" stroke-width="2"/><path d="M249,324 H255 M252,321 V327 M249.8,321.8 L254.2,326.2 M249.8,326.2 L254.2,321.8" stroke="#000" stroke-width="2"/><ellipse cx="307" cy="124" rx="2" ry="1.5" fill="#000"/><ellipse cx="310" cy="142" rx="2" ry="1.5" fill="#000"/><ellipse cx="250" cy="87" rx="2" ry="1.5" fill="#000"/><ellipse cx="285" cy="118" rx="2" ry="1.5" fill="#000"/><ellipse cx="112" cy="297" rx="2" ry="1.5" fill="#000"/><ellipse cx="136" cy="298" rx="2" ry="1.5" fill="#000"/><ellipse cx="160" cy="366" rx="2" ry="1.5" fill="#000"/><ellipse cx="203" cy="312" rx="2" ry="1.5" fill="#000"/><ellipse cx="130" cy="258" rx="2" ry="1.5" fill="#000"/><ellipse cx="345" cy="193" rx="2" ry="1.5" fill="#000"/><ellipse cx="374" cy="192" rx="2" ry="1.5" fill="#000"/><ellipse cx="368" cy="228" rx="2" ry="1.5" fill="#000"/><ellipse cx="432" cy="220" rx="2" ry="1.5" fill="#000"/><ellipse cx="456" cy="219" rx="2" ry="1.5" fill="#000"/><ellipse cx="123" cy="230" rx="2" ry="1.5" fill="#000"/><g stroke="#333" stroke-width="1.35" stroke-dasharray="3 5.27" fill="none"><line x1="68.60" y1="41" x2="68.60" y2="549"/><line x1="147.30" y1="41" x2="147.30" y2="549"/><line x1="226.00" y1="41" x2="226.00" y2="549"/><line x1="304.70" y1="41" x2="304.70" y2="549"/><line x1="383.40" y1="41" x2="383.40" y2="549"/><line x1="462.10" y1="41" x2="462.10" y2="549"/><line x1="13" y1="67.20" x2="486" y2="67.20"/><line x1="13" y1="151.70" x2="486" y2="151.70"/><line x1="13" y1="236.20" x2="486" y2="236.20"/><line x1="13" y1="320.70" x2="486" y2="320.70"/><line x1="13" y1="405.20" x2="486" y2="405.20"/><line x1="13" y1="489.70" x2="486" y2="489.70"/></g><g stroke="#000" stroke-width="1.25" stroke-dasharray="12.2 11.5" fill="none"><path d="M13.00,55.89 Q249.00,216.18 485.00,343.32"/><path d="M13.00,152.94 Q249.50,312.51 486.00,436.77"/></g><g style="font-family:'Liberation Sans',sans-serif" font-size="12.5" fill="#000"><text x="68.60" y="300.2" text-anchor="middle">54</text><text x="147.30" y="300.2" text-anchor="middle">56</text><text x="226.00" y="300.2" text-anchor="middle">58</text><text x="304.70" y="300.2" text-anchor="middle">60</text><text x="383.40" y="300.2" text-anchor="middle">62</text><text x="462.10" y="300.2" text-anchor="middle">64</text><text x="235.5" y="66.70">-16</text><text x="235.5" y="151.20">-18</text><text x="235.5" y="235.70">-20</text><text x="235.5" y="320.20">-22</text><text x="235.5" y="404.70">-24</text><text x="235.5" y="489.20">-26</text></g><path d="M242.8,294.5 H255.8 M249.3,288.0 V301.0" stroke="#000" stroke-width="5" fill="none"/><text x="37.3" y="65.5" style="font-family:'Liberation Sans',sans-serif" font-size="25" fill="#000">2A12 rainrate (mm/hr)</text><text x="438.5" y="522.7" style="font-family:'Liberation Sans',sans-serif" font-size="30" fill="#000">(f)</text><rect x="495" y="531.54" width="9" height="8.86" fill="#82e082"/><rect x="495" y="523.08" width="9" height="8.86" fill="#7dd97d"/><rect x="495" y="514.63" width="9" height="8.86" fill="#77d377"/><rect x="495" y="506.17" width="9" height="8.86" fill="#72cc72"/><rect x="495" y="497.71" width="9" height="8.86" fill="#6dc56d"/><rect x="495" y="489.25" width="9" height="8.86" fill="#67bf67"/><rect x="495" y="480.80" width="9" height="8.86" fill="#62b862"/><rect x="495" y="472.34" width="9" height="8.86" fill="#ccd4fc"/><rect x="495" y="463.88" width="9" height="8.86" fill="#bacbfc"/><rect x="495" y="455.42" width="9" height="8.86" fill="#a9c4fc"/><rect x="495" y="446.97" width="9" height="8.86" fill="#98bdfc"/><rect x="495" y="438.51" width="9" height="8.86" fill="#89b6fc"/><rect x="495" y="430.05" width="9" height="8.86" fill="#78b1fc"/><rect x="495" y="421.59" width="9" height="8.86" fill="#66abfc"/><rect x="495" y="413.14" width="9" height="8.86" fill="#56a3fb"/><rect x="495" y="404.68" width="9" height="8.86" fill="#4b96f8"/><rect x="495" y="396.22" width="9" height="8.86" fill="#4487f5"/><rect x="495" y="387.76" width="9" height="8.86" fill="#3d77f5"/><rect x="495" y="379.31" width="9" height="8.86" fill="#3765f6"/><rect x="495" y="370.85" width="9" height="8.86" fill="#3154f8"/><rect x="495" y="362.39" width="9" height="8.86" fill="#2b42f8"/><rect x="495" y="353.93" width="9" height="8.86" fill="#1b26fa"/><rect x="495" y="345.47" width="9" height="8.86" fill="#0000fe"/><rect x="495" y="337.02" width="9" height="8.86" fill="#0000f2"/><rect x="495" y="328.56" width="9" height="8.86" fill="#0000e5"/><rect x="495" y="320.10" width="9" height="8.86" fill="#0000d9"/><rect x="495" y="311.64" width="9" height="8.86" fill="#0000cc"/><rect x="495" y="303.19" width="9" height="8.86" fill="#ffff00"/><rect x="495" y="294.73" width="9" height="8.86" fill="#fff600"/><rect x="495" y="286.27" width="9" height="8.86" fill="#ffee00"/><rect x="495" y="277.81" width="9" height="8.86" fill="#ffe600"/><rect x="495" y="269.36" width="9" height="8.86" fill="#ffdd00"/><rect x="495" y="260.90" width="9" height="8.86" fill="#ffd400"/><rect x="495" y="252.44" width="9" height="8.86" fill="#ffcc00"/><rect x="495" y="243.98" width="9" height="8.86" fill="#ff8400"/><rect x="495" y="235.53" width="9" height="8.86" fill="#ff7f00"/><rect x="495" y="227.07" width="9" height="8.86" fill="#ff7a00"/><rect x="495" y="218.61" width="9" height="8.86" fill="#ff7600"/><rect x="495" y="210.15" width="9" height="8.86" fill="#ff7100"/><rect x="495" y="201.69" width="9" height="8.86" fill="#ff6c00"/><rect x="495" y="193.24" width="9" height="8.86" fill="#ff4000"/><rect x="495" y="184.78" width="9" height="8.86" fill="#ff3900"/><rect x="495" y="176.32" width="9" height="8.86" fill="#ff3200"/><rect x="495" y="167.86" width="9" height="8.86" fill="#ff2b00"/><rect x="495" y="159.41" width="9" height="8.86" fill="#ff2500"/><rect x="495" y="150.95" width="9" height="8.86" fill="#ff1e00"/><rect x="495" y="142.49" width="9" height="8.86" fill="#ff1700"/><rect x="495" y="134.03" width="9" height="8.86" fill="#ff1000"/><rect x="495" y="125.58" width="9" height="8.86" fill="#cc0000"/><rect x="495" y="117.12" width="9" height="8.86" fill="#c30000"/><rect x="495" y="108.66" width="9" height="8.86" fill="#ba0000"/><rect x="495" y="100.20" width="9" height="8.86" fill="#b20000"/><rect x="495" y="91.75" width="9" height="8.86" fill="#a90000"/><rect x="495" y="83.29" width="9" height="8.86" fill="#a00000"/><rect x="495" y="74.83" width="9" height="8.86" fill="#640a04"/><rect x="495" y="66.37" width="9" height="8.86" fill="#600e08"/><rect x="495" y="57.92" width="9" height="8.86" fill="#5c110c"/><rect x="495" y="49.46" width="9" height="8.86" fill="#581410"/><rect x="495" y="41.00" width="9" height="8.86" fill="#541814"/><g stroke="#000" stroke-width="1"><line x1="504" y1="548.50" x2="507" y2="548.50"/><line x1="504" y1="497.70" x2="507" y2="497.70"/><line x1="504" y1="446.90" x2="507" y2="446.90"/><line x1="504" y1="396.10" x2="507" y2="396.10"/><line x1="504" y1="345.30" x2="507" y2="345.30"/><line x1="504" y1="294.50" x2="507" y2="294.50"/><line x1="504" y1="243.70" x2="507" y2="243.70"/><line x1="504" y1="192.90" x2="507" y2="192.90"/><line x1="504" y1="142.10" x2="507" y2="142.10"/><line x1="504" y1="91.30" x2="507" y2="91.30"/></g><g style="font-family:'Liberation Sans',sans-serif" font-size="20" fill="#000" text-anchor="middle"><text x="524.3" y="557.10">0</text><text x="524.3" y="506.30">6</text><text x="524.3" y="455.50">12</text><text x="524.3" y="404.70">18</text><text x="524.3" y="353.90">24</text><text x="524.3" y="303.10">30</text><text x="524.3" y="252.30">36</text><text x="524.3" y="201.50">42</text><text x="524.3" y="150.70">48</text><text x="524.3" y="99.90">54</text></g>
</g>
<g transform="translate(0.000,1180.667)">
<defs><radialGradient id="ggD" cx="0.5" cy="0.5" r="0.5"><stop offset="0" stop-color="#a0a0a0" stop-opacity="0.85"/><stop offset="1" stop-color="#d8d8d8" stop-opacity="0"/></radialGradient><radialGradient id="ggL" cx="0.5" cy="0.5" r="0.5"><stop offset="0" stop-color="#ececec" stop-opacity="0.9"/><stop offset="1" stop-color="#e0e0e0" stop-opacity="0"/></radialGradient></defs><clipPath id="clipG"><polygon points="13.0,41.4 162.5,41.4 225.8,82.6 304.5,128.7 383.2,176.7 486.0,233.3 486.0,549.0 482.0,549.0 457.3,536.0 432.6,522.3 407.9,508.5 383.3,494.5 358.6,480.4 333.9,466.2 309.2,451.9 284.5,437.5 259.8,422.9 235.2,408.2 210.5,393.4 185.8,378.4 161.1,363.4 136.4,348.2 111.7,332.9 87.1,317.4 62.4,301.9 37.7,286.2 13.0,270.4"/></clipPath><g clip-path="url(#clipG)"><polygon points="13.0,41.4 162.5,41.4 225.8,82.6 304.5,128.7 383.2,176.7 486.0,233.3 486.0,549.0 482.0,549.0 457.3,536.0 432.6,522.3 407.9,508.5 383.3,494.5 358.6,480.4 333.9,466.2 309.2,451.9 284.5,437.5 259.8,422.9 235.2,408.2 210.5,393.4 185.8,378.4 161.1,363.4 136.4,348.2 111.7,332.9 87.1,317.4 62.4,301.9 37.7,286.2 13.0,270.4" fill="#e0e0e0"/><ellipse cx="60" cy="230" rx="70" ry="50" fill="url(#ggL)"/><ellipse cx="150" cy="200" rx="60" ry="40" fill="url(#ggL)"/><ellipse cx="80" cy="90" rx="50" ry="30" fill="url(#ggL)"/><ellipse cx="200" cy="120" rx="40" ry="30" fill="url(#ggL)"/><ellipse cx="170" cy="280" rx="50" ry="40" fill="url(#ggL)"/><ellipse cx="380" cy="450" rx="60" ry="40" fill="url(#ggL)"/><ellipse cx="250" cy="440" rx="40" ry="30" fill="url(#ggL)"/><ellipse cx="100" cy="140" rx="45" ry="22" fill="url(#ggD)"/><ellipse cx="75" cy="122" rx="25" ry="18" fill="url(#ggD)"/><ellipse cx="140" cy="150" rx="25" ry="15" fill="url(#ggD)"/><ellipse cx="205" cy="180" rx="22" ry="25" fill="url(#ggD)"/><ellipse cx="60" cy="260" rx="30" ry="20" fill="url(#ggD)"/><ellipse cx="120" cy="330" rx="30" ry="25" fill="url(#ggD)"/><ellipse cx="240" cy="470" rx="40" ry="20" fill="url(#ggD)"/><ellipse cx="330" cy="510" rx="30" ry="15" fill="url(#ggD)"/><ellipse cx="200" cy="175" rx="20" ry="14" fill="url(#ggD)"/><ellipse cx="345" cy="190" rx="25" ry="20" fill="url(#ggD)"/><ellipse cx="280" cy="350" rx="70" ry="22" fill="url(#ggD)"/><ellipse cx="240" cy="395" rx="40" ry="16" fill="url(#ggD)"/><ellipse cx="310" cy="445" rx="20" ry="10" fill="url(#ggD)"/><ellipse cx="420" cy="440" rx="25" ry="20" fill="url(#ggD)"/><ellipse cx="250" cy="100" rx="25" ry="10" fill="url(#ggD)"/><ellipse cx="300" cy="130" rx="22" ry="10" fill="url(#ggD)"/><ellipse cx="380" cy="190" rx="15" ry="10" fill="url(#ggD)"/><ellipse cx="460" cy="370" rx="20" ry="15" fill="url(#ggD)"/><ellipse cx="120" cy="290" rx="25" ry="15" fill="url(#ggD)"/><ellipse cx="390" cy="330" rx="30" ry="14" fill="url(#ggD)"/><ellipse cx="200" cy="70" rx="20" ry="9" fill="url(#ggD)" transform="rotate(31 200 70)"/><ellipse cx="228" cy="87" rx="20" ry="9" fill="url(#ggD)" transform="rotate(31 228 87)"/><ellipse cx="256" cy="104" rx="20" ry="9" fill="url(#ggD)" transform="rotate(31 256 104)"/><ellipse cx="284" cy="121" rx="20" ry="9" fill="url(#ggD)" transform="rotate(31 284 121)"/><ellipse cx="312" cy="138" rx="20" ry="9" fill="url(#ggD)" transform="rotate(31 312 138)"/><ellipse cx="340" cy="155" rx="20" ry="9" fill="url(#ggD)" transform="rotate(31 340 155)"/><ellipse cx="368" cy="172" rx="20" ry="9" fill="url(#ggD)" transform="rotate(31 368 172)"/><ellipse cx="396" cy="189" rx="20" ry="9" fill="url(#ggD)" transform="rotate(31 396 189)"/><ellipse cx="424" cy="206" rx="20" ry="9" fill="url(#ggD)" transform="rotate(31 424 206)"/><path fill="#d0d0d0" d="M313.4 284.4l3.4 2.1l-3.1 5.1l-3.4 -2.1zM99.8 309.0l3.4 2.1l-1.5 2.6l-3.4 -2.1zM454.2 258.5l3.4 2.1l-1.5 2.6l-3.4 -2.1zM95.3 258.8l6.9 4.1l-1.5 2.6l-6.9 -4.1zM466.3 247.8l6.9 4.1l-3.1 5.1l-6.9 -4.1zM438.4 226.8l3.4 2.1l-3.1 5.1l-3.4 -2.1zM80.2 242.7l3.4 2.1l-3.1 5.1l-3.4 -2.1zM224.4 112.5l6.9 4.1l-1.5 2.6l-6.9 -4.1zM166.4 291.9l6.9 4.1l-1.5 2.6l-6.9 -4.1zM304.6 206.5l3.4 2.1l-1.5 2.6l-3.4 -2.1zM63.9 79.7l6.9 4.1l-1.5 2.6l-6.9 -4.1zM197.2 245.0l3.4 2.1l-1.5 2.6l-3.4 -2.1zM343.6 388.0l3.4 2.1l-1.5 2.6l-3.4 -2.1zM438.6 298.6l6.9 4.1l-3.1 5.1l-6.9 -4.1zM328.8 356.8l3.4 2.1l-1.5 2.6l-3.4 -2.1zM455.1 398.9l3.4 2.1l-3.1 5.1l-3.4 -2.1zM444.4 260.5l3.4 2.1l-1.5 2.6l-3.4 -2.1zM480.9 375.3l3.4 2.1l-1.5 2.6l-3.4 -2.1zM334.3 384.5l3.4 2.1l-1.5 2.6l-3.4 -2.1zM183.4 220.0l3.4 2.1l-3.1 5.1l-3.4 -2.1zM357.3 307.5l3.4 2.1l-1.5 2.6l-3.4 -2.1zM312.4 367.4l6.9 4.1l-1.5 2.6l-6.9 -4.1zM78.9 152.2l3.4 2.1l-1.5 2.6l-3.4 -2.1zM46.5 171.3l3.4 2.1l-3.1 5.1l-3.4 -2.1zM152.9 151.8l3.4 2.1l-1.5 2.6l-3.4 -2.1zM377.8 292.6l6.9 4.1l-1.5 2.6l-6.9 -4.1zM448.8 306.5l3.4 2.1l-1.5 2.6l-3.4 -2.1zM256.0 154.5l3.4 2.1l-3.1 5.1l-3.4 -2.1zM54.0 290.0l3.4 2.1l-1.5 2.6l-3.4 -2.1zM167.6 207.8l3.4 2.1l-1.5 2.6l-3.4 -2.1zM111.5 50.1l3.4 2.1l-3.1 5.1l-3.4 -2.1zM377.8 335.5l3.4 2.1l-3.1 5.1l-3.4 -2.1zM83.7 197.7l3.4 2.1l-3.1 5.1l-3.4 -2.1zM404.4 301.4l6.9 4.1l-1.5 2.6l-6.9 -4.1zM214.3 142.7l3.4 2.1l-1.5 2.6l-3.4 -2.1zM98.9 228.3l3.4 2.1l-1.5 2.6l-3.4 -2.1zM434.6 470.9l3.4 2.1l-3.1 5.1l-3.4 -2.1zM168.0 233.9l6.9 4.1l-1.5 2.6l-6.9 -4.1zM478.6 430.5l3.4 2.1l-1.5 2.6l-3.4 -2.1zM435.7 459.3l3.4 2.1l-3.1 5.1l-3.4 -2.1zM344.8 302.0l6.9 4.1l-1.5 2.6l-6.9 -4.1zM377.2 304.8l3.4 2.1l-3.1 5.1l-3.4 -2.1zM275.1 182.9l6.9 4.1l-1.5 2.6l-6.9 -4.1zM179.7 362.1l3.4 2.1l-1.5 2.6l-3.4 -2.1zM14.7 213.9l3.4 2.1l-3.1 5.1l-3.4 -2.1zM113.8 53.9l3.4 2.1l-1.5 2.6l-3.4 -2.1zM284.1 322.5l3.4 2.1l-3.1 5.1l-3.4 -2.1zM352.2 349.5l3.4 2.1l-1.5 2.6l-3.4 -2.1zM365.9 411.5l3.4 2.1l-1.5 2.6l-3.4 -2.1zM340.7 439.5l6.9 4.1l-3.1 5.1l-6.9 -4.1zM393.5 408.1l3.4 2.1l-3.1 5.1l-3.4 -2.1zM101.2 192.5l3.4 2.1l-1.5 2.6l-3.4 -2.1zM187.1 300.4l6.9 4.1l-1.5 2.6l-6.9 -4.1zM241.6 254.5l6.9 4.1l-1.5 2.6l-6.9 -4.1zM213.3 312.8l6.9 4.1l-1.5 2.6l-6.9 -4.1zM414.0 327.1l3.4 2.1l-3.1 5.1l-3.4 -2.1zM200.6 354.8l3.4 2.1l-1.5 2.6l-3.4 -2.1zM255.9 175.0l3.4 2.1l-1.5 2.6l-3.4 -2.1zM403.8 329.7l3.4 2.1l-1.5 2.6l-3.4 -2.1zM191.3 194.7l3.4 2.1l-1.5 2.6l-3.4 -2.1zM120.6 172.9l3.4 2.1l-3.1 5.1l-3.4 -2.1zM338.2 464.5l3.4 2.1l-1.5 2.6l-3.4 -2.1zM460.1 276.7l6.9 4.1l-1.5 2.6l-6.9 -4.1zM196.8 306.6l3.4 2.1l-1.5 2.6l-3.4 -2.1zM217.6 365.2l6.9 4.1l-1.5 2.6l-6.9 -4.1zM327.7 151.3l3.4 2.1l-3.1 5.1l-3.4 -2.1zM219.4 388.8l3.4 2.1l-3.1 5.1l-3.4 -2.1zM425.8 303.8l3.4 2.1l-1.5 2.6l-3.4 -2.1zM94.1 220.6l3.4 2.1l-3.1 5.1l-3.4 -2.1zM389.8 345.9l3.4 2.1l-3.1 5.1l-3.4 -2.1zM337.2 408.7l3.4 2.1l-1.5 2.6l-3.4 -2.1zM201.0 356.9l3.4 2.1l-1.5 2.6l-3.4 -2.1zM334.0 247.6l3.4 2.1l-1.5 2.6l-3.4 -2.1zM32.4 153.9l3.4 2.1l-1.5 2.6l-3.4 -2.1zM135.7 327.9l3.4 2.1l-1.5 2.6l-3.4 -2.1zM437.5 444.7l3.4 2.1l-1.5 2.6l-3.4 -2.1zM426.8 444.9l3.4 2.1l-1.5 2.6l-3.4 -2.1zM128.9 330.1l3.4 2.1l-1.5 2.6l-3.4 -2.1zM182.8 223.4l6.9 4.1l-3.1 5.1l-6.9 -4.1zM117.7 74.6l3.4 2.1l-1.5 2.6l-3.4 -2.1zM329.3 458.1l6.9 4.1l-1.5 2.6l-6.9 -4.1zM130.9 220.6l6.9 4.1l-1.5 2.6l-6.9 -4.1zM28.7 77.5l6.9 4.1l-1.5 2.6l-6.9 -4.1zM470.3 268.6l6.9 4.1l-1.5 2.6l-6.9 -4.1zM365.4 279.9l3.4 2.1l-1.5 2.6l-3.4 -2.1zM423.0 494.1l3.4 2.1l-3.1 5.1l-3.4 -2.1zM447.1 509.2l6.9 4.1l-1.5 2.6l-6.9 -4.1zM456.6 436.0l3.4 2.1l-1.5 2.6l-3.4 -2.1zM48.8 278.2l6.9 4.1l-1.5 2.6l-6.9 -4.1zM373.1 270.6l3.4 2.1l-3.1 5.1l-3.4 -2.1zM365.0 293.9l3.4 2.1l-3.1 5.1l-3.4 -2.1zM470.1 458.7l3.4 2.1l-1.5 2.6l-3.4 -2.1zM467.4 519.3l3.4 2.1l-1.5 2.6l-3.4 -2.1zM418.6 216.1l3.4 2.1l-3.1 5.1l-3.4 -2.1zM165.2 335.8l6.9 4.1l-3.1 5.1l-6.9 -4.1zM91.4 207.7l3.4 2.1l-1.5 2.6l-3.4 -2.1zM103.2 201.2l3.4 2.1l-1.5 2.6l-3.4 -2.1zM320.8 153.8l3.4 2.1l-1.5 2.6l-3.4 -2.1z"/><path fill="#c8c8c8" d="M341.2 262.9l3.4 2.1l-3.1 5.1l-3.4 -2.1zM268.5 393.5l3.4 2.1l-1.5 2.6l-3.4 -2.1zM48.3 141.3l6.9 4.1l-3.1 5.1l-6.9 -4.1zM19.7 217.1l3.4 2.1l-3.1 5.1l-3.4 -2.1zM36.4 111.9l6.9 4.1l-3.1 5.1l-6.9 -4.1zM265.7 181.2l3.4 2.1l-1.5 2.6l-3.4 -2.1zM371.1 347.8l6.9 4.1l-1.5 2.6l-6.9 -4.1zM349.5 169.5l6.9 4.1l-1.5 2.6l-6.9 -4.1zM481.5 456.3l3.4 2.1l-3.1 5.1l-3.4 -2.1zM253.4 414.2l3.4 2.1l-1.5 2.6l-3.4 -2.1zM343.8 308.1l3.4 2.1l-1.5 2.6l-3.4 -2.1zM94.8 230.5l3.4 2.1l-1.5 2.6l-3.4 -2.1zM309.5 426.3l6.9 4.1l-3.1 5.1l-6.9 -4.1zM195.6 353.3l6.9 4.1l-1.5 2.6l-6.9 -4.1zM55.9 130.1l3.4 2.1l-3.1 5.1l-3.4 -2.1zM171.6 366.9l3.4 2.1l-1.5 2.6l-3.4 -2.1zM51.8 55.5l3.4 2.1l-1.5 2.6l-3.4 -2.1zM126.6 44.9l3.4 2.1l-1.5 2.6l-3.4 -2.1zM128.6 333.0l3.4 2.1l-1.5 2.6l-3.4 -2.1zM398.6 349.1l3.4 2.1l-1.5 2.6l-3.4 -2.1zM180.0 192.4l3.4 2.1l-1.5 2.6l-3.4 -2.1zM247.2 386.8l3.4 2.1l-1.5 2.6l-3.4 -2.1zM334.4 151.4l6.9 4.1l-3.1 5.1l-6.9 -4.1zM18.3 219.8l3.4 2.1l-3.1 5.1l-3.4 -2.1zM24.8 232.1l3.4 2.1l-1.5 2.6l-3.4 -2.1zM296.5 219.8l3.4 2.1l-3.1 5.1l-3.4 -2.1zM478.6 417.0l3.4 2.1l-1.5 2.6l-3.4 -2.1zM451.8 306.7l3.4 2.1l-1.5 2.6l-3.4 -2.1zM327.2 336.4l3.4 2.1l-1.5 2.6l-3.4 -2.1zM274.7 429.7l3.4 2.1l-1.5 2.6l-3.4 -2.1zM370.7 346.7l3.4 2.1l-3.1 5.1l-3.4 -2.1zM243.8 314.1l3.4 2.1l-1.5 2.6l-3.4 -2.1zM203.1 266.4l3.4 2.1l-3.1 5.1l-3.4 -2.1zM437.6 469.5l6.9 4.1l-3.1 5.1l-6.9 -4.1zM101.3 118.1l3.4 2.1l-1.5 2.6l-3.4 -2.1zM117.5 97.8l6.9 4.1l-1.5 2.6l-6.9 -4.1zM380.2 406.6l3.4 2.1l-1.5 2.6l-3.4 -2.1zM367.8 394.8l3.4 2.1l-1.5 2.6l-3.4 -2.1zM193.1 288.4l6.9 4.1l-1.5 2.6l-6.9 -4.1zM440.8 514.9l3.4 2.1l-3.1 5.1l-3.4 -2.1zM447.4 373.1l3.4 2.1l-1.5 2.6l-3.4 -2.1zM337.4 201.2l6.9 4.1l-3.1 5.1l-6.9 -4.1zM109.3 132.3l6.9 4.1l-1.5 2.6l-6.9 -4.1zM93.5 46.7l6.9 4.1l-3.1 5.1l-6.9 -4.1zM287.9 201.2l6.9 4.1l-3.1 5.1l-6.9 -4.1zM399.0 427.9l3.4 2.1l-1.5 2.6l-3.4 -2.1zM377.9 417.3l3.4 2.1l-1.5 2.6l-3.4 -2.1zM236.4 179.0l3.4 2.1l-1.5 2.6l-3.4 -2.1zM55.7 180.2l3.4 2.1l-1.5 2.6l-3.4 -2.1zM188.9 246.5l6.9 4.1l-1.5 2.6l-6.9 -4.1zM393.2 243.8l3.4 2.1l-1.5 2.6l-3.4 -2.1zM295.8 414.7l3.4 2.1l-1.5 2.6l-3.4 -2.1zM146.0 88.3l3.4 2.1l-1.5 2.6l-3.4 -2.1zM471.2 321.3l3.4 2.1l-1.5 2.6l-3.4 -2.1zM319.4 366.2l3.4 2.1l-1.5 2.6l-3.4 -2.1zM285.2 283.9l6.9 4.1l-1.5 2.6l-6.9 -4.1zM195.5 146.3l3.4 2.1l-1.5 2.6l-3.4 -2.1zM296.0 213.2l3.4 2.1l-3.1 5.1l-3.4 -2.1zM331.3 271.3l3.4 2.1l-3.1 5.1l-3.4 -2.1zM175.9 130.2l3.4 2.1l-1.5 2.6l-3.4 -2.1zM341.7 287.0l6.9 4.1l-1.5 2.6l-6.9 -4.1zM474.2 454.1l6.9 4.1l-1.5 2.6l-6.9 -4.1zM51.2 233.2l6.9 4.1l-1.5 2.6l-6.9 -4.1zM159.9 357.8l6.9 4.1l-1.5 2.6l-6.9 -4.1zM153.7 249.9l3.4 2.1l-1.5 2.6l-3.4 -2.1zM352.0 172.9l6.9 4.1l-1.5 2.6l-6.9 -4.1zM178.9 142.3l3.4 2.1l-1.5 2.6l-3.4 -2.1zM413.5 507.4l3.4 2.1l-1.5 2.6l-3.4 -2.1zM398.5 309.9l6.9 4.1l-1.5 2.6l-6.9 -4.1zM409.6 193.5l3.4 2.1l-1.5 2.6l-3.4 -2.1zM100.2 238.7l3.4 2.1l-1.5 2.6l-3.4 -2.1zM149.9 346.5l3.4 2.1l-3.1 5.1l-3.4 -2.1zM444.9 271.2l3.4 2.1l-1.5 2.6l-3.4 -2.1zM242.2 403.4l6.9 4.1l-1.5 2.6l-6.9 -4.1zM281.2 311.8l3.4 2.1l-3.1 5.1l-3.4 -2.1zM271.2 271.5l3.4 2.1l-1.5 2.6l-3.4 -2.1zM237.3 325.4l6.9 4.1l-3.1 5.1l-6.9 -4.1zM467.5 340.5l3.4 2.1l-1.5 2.6l-3.4 -2.1zM298.5 215.3l6.9 4.1l-1.5 2.6l-6.9 -4.1zM204.4 305.4l3.4 2.1l-1.5 2.6l-3.4 -2.1zM246.9 230.9l3.4 2.1l-1.5 2.6l-3.4 -2.1zM235.8 348.8l3.4 2.1l-1.5 2.6l-3.4 -2.1zM38.5 138.3l3.4 2.1l-1.5 2.6l-3.4 -2.1zM108.0 239.1l6.9 4.1l-1.5 2.6l-6.9 -4.1zM86.1 267.1l6.9 4.1l-1.5 2.6l-6.9 -4.1zM355.9 218.3l3.4 2.1l-3.1 5.1l-3.4 -2.1zM295.3 215.3l3.4 2.1l-1.5 2.6l-3.4 -2.1zM139.4 56.7l3.4 2.1l-3.1 5.1l-3.4 -2.1zM182.2 282.8l3.4 2.1l-3.1 5.1l-3.4 -2.1zM226.5 106.9l6.9 4.1l-3.1 5.1l-6.9 -4.1zM364.7 417.9l6.9 4.1l-3.1 5.1l-6.9 -4.1zM429.0 457.9l6.9 4.1l-1.5 2.6l-6.9 -4.1zM292.2 143.0l6.9 4.1l-1.5 2.6l-6.9 -4.1zM389.5 333.7l3.4 2.1l-1.5 2.6l-3.4 -2.1zM222.6 326.2l3.4 2.1l-3.1 5.1l-3.4 -2.1zM87.8 275.1l3.4 2.1l-1.5 2.6l-3.4 -2.1z"/><path fill="#e2e2e2" d="M227.3 321.4l3.4 2.1l-1.5 2.6l-3.4 -2.1zM277.9 324.9l3.4 2.1l-1.5 2.6l-3.4 -2.1zM449.7 491.9l3.4 2.1l-1.5 2.6l-3.4 -2.1zM464.5 295.7l3.4 2.1l-1.5 2.6l-3.4 -2.1zM260.0 331.3l6.9 4.1l-3.1 5.1l-6.9 -4.1zM89.8 76.2l6.9 4.1l-1.5 2.6l-6.9 -4.1zM40.2 187.3l6.9 4.1l-1.5 2.6l-6.9 -4.1zM29.4 167.3l3.4 2.1l-1.5 2.6l-3.4 -2.1zM378.5 287.1l3.4 2.1l-1.5 2.6l-3.4 -2.1zM289.4 171.7l3.4 2.1l-1.5 2.6l-3.4 -2.1zM334.6 399.5l6.9 4.1l-3.1 5.1l-6.9 -4.1zM143.4 340.4l6.9 4.1l-1.5 2.6l-6.9 -4.1zM228.7 161.1l3.4 2.1l-1.5 2.6l-3.4 -2.1zM89.6 143.6l6.9 4.1l-1.5 2.6l-6.9 -4.1zM459.3 418.1l3.4 2.1l-1.5 2.6l-3.4 -2.1zM144.2 233.5l3.4 2.1l-1.5 2.6l-3.4 -2.1zM219.6 354.5l6.9 4.1l-1.5 2.6l-6.9 -4.1zM287.3 243.3l6.9 4.1l-1.5 2.6l-6.9 -4.1zM28.3 159.2l6.9 4.1l-1.5 2.6l-6.9 -4.1zM114.1 61.6l6.9 4.1l-3.1 5.1l-6.9 -4.1zM246.6 123.3l3.4 2.1l-1.5 2.6l-3.4 -2.1zM159.8 147.8l6.9 4.1l-1.5 2.6l-6.9 -4.1zM453.3 313.4l3.4 2.1l-1.5 2.6l-3.4 -2.1zM485.1 322.9l6.9 4.1l-1.5 2.6l-6.9 -4.1zM75.0 54.7l6.9 4.1l-1.5 2.6l-6.9 -4.1zM303.2 277.0l3.4 2.1l-3.1 5.1l-3.4 -2.1zM113.4 134.7l3.4 2.1l-1.5 2.6l-3.4 -2.1zM386.3 211.7l3.4 2.1l-3.1 5.1l-3.4 -2.1zM249.4 275.4l6.9 4.1l-3.1 5.1l-6.9 -4.1zM147.2 174.3l3.4 2.1l-1.5 2.6l-3.4 -2.1zM313.9 363.9l3.4 2.1l-1.5 2.6l-3.4 -2.1zM281.7 165.3l6.9 4.1l-3.1 5.1l-6.9 -4.1zM343.4 453.8l3.4 2.1l-1.5 2.6l-3.4 -2.1zM394.5 390.0l3.4 2.1l-3.1 5.1l-3.4 -2.1zM323.3 238.8l3.4 2.1l-1.5 2.6l-3.4 -2.1zM148.9 86.9l3.4 2.1l-3.1 5.1l-3.4 -2.1zM309.2 350.0l3.4 2.1l-1.5 2.6l-3.4 -2.1zM130.6 221.2l3.4 2.1l-1.5 2.6l-3.4 -2.1zM14.9 88.0l3.4 2.1l-1.5 2.6l-3.4 -2.1zM65.7 300.3l6.9 4.1l-1.5 2.6l-6.9 -4.1zM132.6 151.0l3.4 2.1l-1.5 2.6l-3.4 -2.1zM465.2 354.9l3.4 2.1l-3.1 5.1l-3.4 -2.1zM462.8 531.4l3.4 2.1l-3.1 5.1l-3.4 -2.1zM421.4 441.3l6.9 4.1l-1.5 2.6l-6.9 -4.1zM433.3 274.7l3.4 2.1l-3.1 5.1l-3.4 -2.1zM408.8 375.3l3.4 2.1l-1.5 2.6l-3.4 -2.1zM125.1 259.5l6.9 4.1l-3.1 5.1l-6.9 -4.1zM20.2 189.3l3.4 2.1l-1.5 2.6l-3.4 -2.1zM434.8 374.7l6.9 4.1l-3.1 5.1l-6.9 -4.1zM327.5 242.8l6.9 4.1l-3.1 5.1l-6.9 -4.1zM184.4 231.0l6.9 4.1l-1.5 2.6l-6.9 -4.1zM317.5 268.5l3.4 2.1l-1.5 2.6l-3.4 -2.1zM391.7 212.2l6.9 4.1l-1.5 2.6l-6.9 -4.1zM411.7 272.8l6.9 4.1l-1.5 2.6l-6.9 -4.1zM380.8 234.1l3.4 2.1l-1.5 2.6l-3.4 -2.1zM370.8 184.8l3.4 2.1l-3.1 5.1l-3.4 -2.1zM460.9 279.5l3.4 2.1l-1.5 2.6l-3.4 -2.1zM209.8 156.3l3.4 2.1l-1.5 2.6l-3.4 -2.1zM477.7 418.4l3.4 2.1l-1.5 2.6l-3.4 -2.1zM398.5 389.7l6.9 4.1l-1.5 2.6l-6.9 -4.1zM93.0 59.6l6.9 4.1l-1.5 2.6l-6.9 -4.1zM193.1 282.4l3.4 2.1l-1.5 2.6l-3.4 -2.1zM471.4 416.3l3.4 2.1l-3.1 5.1l-3.4 -2.1zM263.8 284.9l3.4 2.1l-1.5 2.6l-3.4 -2.1zM108.7 227.0l3.4 2.1l-1.5 2.6l-3.4 -2.1zM177.5 253.8l3.4 2.1l-1.5 2.6l-3.4 -2.1zM135.4 316.4l3.4 2.1l-3.1 5.1l-3.4 -2.1zM299.5 332.7l3.4 2.1l-1.5 2.6l-3.4 -2.1zM251.3 203.1l3.4 2.1l-1.5 2.6l-3.4 -2.1zM101.1 208.0l6.9 4.1l-3.1 5.1l-6.9 -4.1zM419.4 320.9l3.4 2.1l-1.5 2.6l-3.4 -2.1zM371.2 238.3l3.4 2.1l-1.5 2.6l-3.4 -2.1zM280.6 368.7l3.4 2.1l-1.5 2.6l-3.4 -2.1zM438.2 364.7l3.4 2.1l-1.5 2.6l-3.4 -2.1zM319.0 449.1l3.4 2.1l-3.1 5.1l-3.4 -2.1zM119.8 174.8l3.4 2.1l-1.5 2.6l-3.4 -2.1zM160.8 104.1l3.4 2.1l-1.5 2.6l-3.4 -2.1zM229.9 366.0l6.9 4.1l-1.5 2.6l-6.9 -4.1zM218.5 185.9l6.9 4.1l-1.5 2.6l-6.9 -4.1zM295.7 284.6l3.4 2.1l-1.5 2.6l-3.4 -2.1zM197.4 236.4l6.9 4.1l-1.5 2.6l-6.9 -4.1zM172.8 62.2l3.4 2.1l-3.1 5.1l-3.4 -2.1zM181.5 355.7l3.4 2.1l-1.5 2.6l-3.4 -2.1zM129.9 306.1l3.4 2.1l-1.5 2.6l-3.4 -2.1zM129.8 116.9l3.4 2.1l-3.1 5.1l-3.4 -2.1zM466.8 341.1l3.4 2.1l-1.5 2.6l-3.4 -2.1zM187.8 335.8l6.9 4.1l-1.5 2.6l-6.9 -4.1zM447.4 393.9l3.4 2.1l-1.5 2.6l-3.4 -2.1zM297.3 191.2l3.4 2.1l-1.5 2.6l-3.4 -2.1zM446.5 243.7l3.4 2.1l-1.5 2.6l-3.4 -2.1zM128.5 301.3l3.4 2.1l-1.5 2.6l-3.4 -2.1zM35.5 268.5l3.4 2.1l-1.5 2.6l-3.4 -2.1zM445.7 414.3l3.4 2.1l-3.1 5.1l-3.4 -2.1zM287.8 262.8l6.9 4.1l-3.1 5.1l-6.9 -4.1zM171.5 84.4l3.4 2.1l-1.5 2.6l-3.4 -2.1zM134.2 195.7l3.4 2.1l-1.5 2.6l-3.4 -2.1zM147.8 132.5l3.4 2.1l-3.1 5.1l-3.4 -2.1zM37.6 263.1l6.9 4.1l-1.5 2.6l-6.9 -4.1zM374.5 423.9l6.9 4.1l-1.5 2.6l-6.9 -4.1zM463.1 359.8l6.9 4.1l-1.5 2.6l-6.9 -4.1zM221.3 302.6l3.4 2.1l-1.5 2.6l-3.4 -2.1zM183.6 164.7l3.4 2.1l-1.5 2.6l-3.4 -2.1zM193.6 108.2l6.9 4.1l-1.5 2.6l-6.9 -4.1zM212.3 238.9l3.4 2.1l-1.5 2.6l-3.4 -2.1zM364.1 376.5l3.4 2.1l-1.5 2.6l-3.4 -2.1zM281.0 322.0l6.9 4.1l-3.1 5.1l-6.9 -4.1z"/></g><polygon points="299.1,301.0 308.1,285.2 316.0,267.1 316.0,250.1 327.3,235.5 344.2,231.0 349.9,218.5 344.2,210.6 349.9,199.3 361.2,199.3 366.8,216.3 378.1,212.9 389.4,216.3 400.7,227.6 412.0,235.5 417.6,255.8 412.0,278.4 400.7,289.7 395.0,301.0 383.8,312.3 366.8,323.6 349.9,334.9 332.9,340.5 321.6,345.0 299.1,345.0 292.3,339.4 326.2,332.6 327.3,317.9 321.6,310.0" fill="#6aa8f6" stroke="#000" stroke-width="1.4" stroke-linejoin="round"/><polygon points="350.0,222.0 390.0,222.0 410.0,245.0 405.0,280.0 385.0,300.0 360.0,290.0 345.0,265.0 335.0,240.0" fill="#3a64f0"/><polygon points="360.0,255.0 395.0,262.0 405.0,285.0 385.0,298.0 366.0,285.0" fill="#1a2ce8"/><polygon points="300.0,300.0 320.0,300.0 330.0,330.0 310.0,342.0 296.0,330.0" fill="#2a48ee"/><polygon points="390.0,225.0 412.0,238.0 414.0,260.0 400.0,250.0" fill="#a8c6f8"/><path fill="#80dc80" d="M331.4 309.3l2.6 1.5l-1.5 2.6l-2.6 -1.5zM352.7 276.9l2.6 1.5l-1.5 2.6l-2.6 -1.5zM373.3 237.5l5.1 3.1l-1.5 2.6l-5.1 -3.1zM362.2 269.1l2.6 1.5l-3.1 5.1l-2.6 -1.5zM335.5 332.0l5.1 3.1l-3.1 5.1l-5.1 -3.1zM394.6 299.5l2.6 1.5l-1.5 2.6l-2.6 -1.5zM332.7 323.1l2.6 1.5l-3.1 5.1l-2.6 -1.5zM339.5 298.9l2.6 1.5l-1.5 2.6l-2.6 -1.5zM388.6 250.6l5.1 3.1l-1.5 2.6l-5.1 -3.1zM374.4 230.4l5.1 3.1l-1.5 2.6l-5.1 -3.1zM367.8 302.6l5.1 3.1l-1.5 2.6l-5.1 -3.1zM317.9 266.5l2.6 1.5l-1.5 2.6l-2.6 -1.5zM391.3 231.3l2.6 1.5l-1.5 2.6l-2.6 -1.5zM379.1 255.8l2.6 1.5l-1.5 2.6l-2.6 -1.5zM376.5 236.9l5.1 3.1l-1.5 2.6l-5.1 -3.1zM408.7 259.9l5.1 3.1l-1.5 2.6l-5.1 -3.1zM402.1 259.3l5.1 3.1l-3.1 5.1l-5.1 -3.1zM391.1 249.9l2.6 1.5l-3.1 5.1l-2.6 -1.5zM355.4 205.1l2.6 1.5l-3.1 5.1l-2.6 -1.5zM296.9 341.0l5.1 3.1l-3.1 5.1l-5.1 -3.1zM382.2 215.6l5.1 3.1l-3.1 5.1l-5.1 -3.1zM397.7 226.1l2.6 1.5l-1.5 2.6l-2.6 -1.5zM364.5 281.1l5.1 3.1l-1.5 2.6l-5.1 -3.1zM367.2 303.7l2.6 1.5l-3.1 5.1l-2.6 -1.5zM353.9 257.1l5.1 3.1l-3.1 5.1l-5.1 -3.1zM367.8 279.3l2.6 1.5l-1.5 2.6l-2.6 -1.5zM349.5 210.7l2.6 1.5l-1.5 2.6l-2.6 -1.5z"/><path fill="#a8c6f8" d="M318.7 288.6l2.6 1.5l-3.1 5.1l-2.6 -1.5zM375.2 216.2l2.6 1.5l-1.5 2.6l-2.6 -1.5zM401.1 236.1l2.6 1.5l-3.1 5.1l-2.6 -1.5zM352.0 238.1l2.6 1.5l-1.5 2.6l-2.6 -1.5zM344.2 307.2l5.1 3.1l-1.5 2.6l-5.1 -3.1zM387.8 257.3l5.1 3.1l-1.5 2.6l-5.1 -3.1zM324.0 265.3l5.1 3.1l-1.5 2.6l-5.1 -3.1zM375.5 216.9l2.6 1.5l-1.5 2.6l-2.6 -1.5zM383.0 289.9l5.1 3.1l-1.5 2.6l-5.1 -3.1zM407.2 270.3l2.6 1.5l-1.5 2.6l-2.6 -1.5zM326.9 286.1l2.6 1.5l-3.1 5.1l-2.6 -1.5zM330.3 284.4l5.1 3.1l-1.5 2.6l-5.1 -3.1zM379.4 213.4l2.6 1.5l-1.5 2.6l-2.6 -1.5z"/><polygon points="230.2,312.3 242.6,308.9 257.3,307.7 267.4,301.0 269.7,292.0 265.2,287.4 269.7,278.4 276.5,276.1 281.0,285.2 290.0,291.9 296.8,301.0 310.3,305.5 321.6,313.4 327.3,325.8 323.9,338.2 310.3,341.6 299.1,346.1 287.8,348.4 270.8,347.3 253.9,345.0 240.3,340.5 233.6,329.2 231.3,320.2" fill="#ffa000" stroke="#000" stroke-width="1.6" stroke-linejoin="round"/><polygon points="262.0,300.0 285.0,296.0 305.0,305.0 320.0,314.0 300.0,312.0 275.0,311.0 258.0,312.0" fill="#ffe000"/><polygon points="270.0,282.0 278.0,280.0 284.0,292.0 272.0,298.0 266.0,292.0" fill="#ffcc00"/><polygon points="280.0,306.0 310.0,312.0 322.0,322.0 318.0,336.0 300.0,338.0 285.0,330.0 270.0,322.0" fill="#ff8000"/><polygon points="231.3,312.3 257.3,311.2 265.2,317.9 282.1,321.3 308.1,327.0 299.1,334.9 287.8,338.2 276.5,346.1 253.9,343.9 236.9,338.2 232.4,323.6" fill="#e83c10" stroke="#000" stroke-width="1.0" stroke-linejoin="round"/><polygon points="233.0,314.0 250.0,313.0 262.0,325.0 255.0,340.0 238.0,336.0 234.0,324.0" fill="#c82a14"/><polygon points="269.0,287.0 274.0,286.0 276.0,294.0 270.0,296.0" fill="#d02010"/><polygon points="230.2,312.3 242.6,308.9 257.3,307.7 267.4,301.0 269.7,292.0 265.2,287.4 269.7,278.4 276.5,276.1 281.0,285.2 290.0,291.9 296.8,301.0 310.3,305.5 321.6,313.4 327.3,325.8 323.9,338.2 310.3,341.6 299.1,346.1 287.8,348.4 270.8,347.3 253.9,345.0 240.3,340.5 233.6,329.2 231.3,320.2" fill="none" stroke="#000" stroke-width="1.6" stroke-linejoin="round"/><polygon points="316.0,246.8 327.3,237.7 338.6,238.9 349.9,244.5 355.5,252.4 357.8,262.6 362.3,271.6 372.5,267.1 380.4,266.0 378.1,278.4 372.5,285.2 366.8,296.4 355.5,301.0 332.9,303.2 321.6,295.3 310.3,285.2 312.6,272.7 319.4,267.1 317.1,255.8" fill="#ffb400" stroke="#000" stroke-width="1.6" stroke-linejoin="round"/><polygon points="318.0,250.0 330.0,242.0 342.0,246.0 345.0,262.0 332.0,275.0 318.0,270.0" fill="#ff9000"/><polygon points="335.0,280.0 350.0,282.0 362.0,290.0 355.0,298.0 338.0,298.0" fill="#ff9800"/><polygon points="350.0,248.0 356.0,256.0 360.0,272.0 375.0,268.0 378.0,276.0 362.0,285.0 348.0,275.0" fill="#ffe000"/><polygon points="340.0,286.0 346.0,286.0 346.0,290.0 340.0,290.0" fill="#000"/><polygon points="353.0,307.0 365.0,305.0 378.0,306.0 376.0,316.0 366.0,318.0 356.0,316.0" fill="#ffd800" stroke="#000" stroke-width="1.4" stroke-linejoin="round"/><polygon points="377.0,282.0 392.0,286.0 388.0,294.0 376.0,290.0" fill="#0010c0"/><polygon points="307.0,296.0 313.0,294.0 315.0,302.0 309.0,304.0" fill="#ffe000" stroke="#000" stroke-width="1.2" stroke-linejoin="round"/><polygon points="240.4,382.8 251.4,377.7 255.8,374.7 266.1,377.7 267.5,381.4 263.1,386.5 251.4,387.2 241.1,385.0" fill="#6aa8f6" stroke="#000" stroke-width="1.4" stroke-linejoin="round"/><polygon points="211.0,392.4 222.0,390.2 233.0,390.2 244.0,390.9 251.4,392.4 266.1,393.8 269.7,398.2 266.1,401.9 258.7,401.2 255.8,404.8 262.4,409.3 273.4,410.7 286.6,415.9 284.4,418.1 273.4,419.5 270.5,428.3 258.7,423.2 240.4,412.2 211.0,393.1" fill="#2a44ee" stroke="#000" stroke-width="1.4" stroke-linejoin="round"/><polygon points="221.0,395.0 235.0,393.0 252.0,396.0 254.0,404.0 244.0,406.0 228.0,400.0" fill="#ffd800"/><polygon points="241.0,412.0 258.0,412.0 264.0,418.0 258.0,424.0 245.0,418.0" fill="#ffe000"/><polygon points="262.0,411.0 280.0,414.0 284.0,418.0 270.0,419.0" fill="#6aa8f6"/><polygon points="211.0,392.4 222.0,390.2 233.0,390.2 244.0,390.9 251.4,392.4 266.1,393.8 269.7,398.2 266.1,401.9 258.7,401.2 255.8,404.8 262.4,409.3 273.4,410.7 286.6,415.9 284.4,418.1 273.4,419.5 270.5,428.3 258.7,423.2 240.4,412.2 211.0,393.1" fill="none" stroke="#000" stroke-width="1.4" stroke-linejoin="round"/><polygon points="63.0,118.0 70.0,112.0 80.0,113.0 85.0,122.0 80.0,130.0 68.0,132.0 63.0,126.0" fill="#5a9cf4" stroke="#000" stroke-width="1.4" stroke-linejoin="round"/><polygon points="72.0,120.0 78.0,119.0 78.0,125.0 72.0,125.0" fill="#ffe000"/><polygon points="105.0,137.0 112.0,135.0 118.0,139.0 115.0,143.0 107.0,142.0" fill="#80dc80" stroke="#000" stroke-width="1.2" stroke-linejoin="round"/><polygon points="130.0,133.0 135.0,130.0 138.0,136.0 134.0,140.0" fill="#80c0f8" stroke="#000" stroke-width="1.2" stroke-linejoin="round"/><polygon points="118.0,115.0 121.0,114.0 121.0,118.0 118.0,118.0" fill="#80dc80" stroke="#000" stroke-width="1" stroke-linejoin="round"/><polygon points="190.0,170.0 200.0,166.0 210.0,170.0 213.0,178.0 206.0,182.0 195.0,178.0" fill="#ffd800" stroke="#000" stroke-width="1.4" stroke-linejoin="round"/><polygon points="204.0,176.0 211.0,176.0 212.0,181.0 205.0,181.0" fill="#2a44ee"/><polygon points="330.0,172.0 336.0,168.0 342.0,176.0 350.0,182.0 362.0,186.0 360.0,195.0 350.0,205.0 340.0,200.0 334.0,188.0" fill="#6aa8f6" stroke="#000" stroke-width="1.3" stroke-linejoin="round"/><polygon points="338.0,178.0 343.0,178.0 344.0,186.0 338.0,186.0" fill="#ff8000" stroke="#000" stroke-width="1.0" stroke-linejoin="round"/><polygon points="413.5,297.7 423.5,284.0 435.9,281.6 444.6,274.1 452.0,270.4 454.5,277.8 467.0,279.1 460.7,291.5 457.0,305.2 442.1,308.9 429.7,308.9 417.3,316.4 413.5,313.9 421.0,307.7 427.2,301.4 423.5,296.5" fill="#80dc80" stroke="#000" stroke-width="1.3" stroke-linejoin="round"/><polygon points="432.0,296.0 445.0,294.0 448.0,302.0 436.0,303.0" fill="#b0ccf8"/><polygon points="467.0,291.0 478.0,288.0 486.0,285.0 486.0,320.0 478.0,330.0 470.0,322.0 474.0,305.0" fill="#80dc80" stroke="#000" stroke-width="1.3" stroke-linejoin="round"/><polygon points="445.0,245.0 452.0,242.0 458.0,246.0 452.0,252.0" fill="#80dc80" stroke="#000" stroke-width="1.0" stroke-linejoin="round"/><polygon points="398.0,204.0 404.0,202.0 406.0,208.0 400.0,209.0" fill="#80dc80" stroke="#000" stroke-width="1.0" stroke-linejoin="round"/><polygon points="454.5,420.0 470.0,408.0 486.0,405.0 486.0,450.0 476.0,448.0 462.0,440.0 456.0,432.0" fill="#90c0f8" stroke="#000" stroke-width="1.3" stroke-linejoin="round"/><polygon points="395.0,340.0 402.0,336.0 406.0,344.0 398.0,348.0" fill="#80dc80" stroke="#000" stroke-width="1.0" stroke-linejoin="round"/><polygon points="410.0,346.0 420.0,344.0 422.0,352.0 412.0,352.0" fill="#b0ccf8" stroke="#000" stroke-width="1.0" stroke-linejoin="round"/><polygon points="453.0,395.0 463.0,392.0 466.0,398.0 456.0,400.0" fill="#80dc80" stroke="#000" stroke-width="1.0" stroke-linejoin="round"/><polygon points="365.0,465.0 375.0,458.0 380.0,470.0 372.0,482.0 366.0,478.0" fill="#80dc80" stroke="#000" stroke-width="1.2" stroke-linejoin="round"/><polygon points="420.0,470.0 428.0,468.0 428.0,476.0 420.0,476.0" fill="#80dc80"/><polygon points="455.0,500.0 470.0,496.0 478.0,510.0 466.0,520.0 452.0,516.0" fill="#80dc80" stroke="#000" stroke-width="1.2" stroke-linejoin="round"/><polygon points="440.0,535.0 452.0,530.0 458.0,540.0 446.0,544.0" fill="#2a44ee" stroke="#000" stroke-width="1.2" stroke-linejoin="round"/><polygon points="288.0,440.0 300.0,436.0 310.0,444.0 300.0,452.0 290.0,450.0" fill="#6aa8f6" stroke="#000" stroke-width="1.2" stroke-linejoin="round"/><polygon points="330.0,240.0 336.0,234.0 344.0,232.0 340.0,240.0" fill="#80dc80" stroke="#000" stroke-width="1.0" stroke-linejoin="round"/><polygon points="383.0,312.0 395.0,305.0 410.0,300.0 405.0,320.0 390.0,330.0" fill="#80dc80" stroke="#000" stroke-width="1.1" stroke-linejoin="round"/><polygon points="345.0,345.0 360.0,350.0 372.0,356.0 362.0,362.0 348.0,356.0" fill="#80dc80" stroke="#000" stroke-width="1.1" stroke-linejoin="round"/><polygon points="335.0,360.0 350.0,365.0 365.0,372.0 352.0,378.0" fill="#80dc80" stroke="#000" stroke-width="1.1" stroke-linejoin="round"/><polygon points="260.0,160.0 266.0,158.0 270.0,164.0 262.0,166.0" fill="#80dc80" stroke="#000" stroke-width="1.1" stroke-linejoin="round"/><ellipse cx="285" cy="262" rx="1.8" ry="1.6" fill="#000"/><ellipse cx="292" cy="258" rx="1.8" ry="1.6" fill="#000"/><ellipse cx="258" cy="268" rx="1.8" ry="1.6" fill="#000"/><ellipse cx="300" cy="246" rx="1.8" ry="1.6" fill="#000"/><ellipse cx="305" cy="255" rx="1.8" ry="1.6" fill="#000"/><ellipse cx="395" cy="295" rx="1.8" ry="1.6" fill="#000"/><ellipse cx="412" cy="332" rx="1.8" ry="1.6" fill="#000"/><ellipse cx="420" cy="318" rx="1.8" ry="1.6" fill="#000"/><ellipse cx="430" cy="350" rx="1.8" ry="1.6" fill="#000"/><ellipse cx="448" cy="340" rx="1.8" ry="1.6" fill="#000"/><ellipse cx="470" cy="360" rx="1.8" ry="1.6" fill="#000"/><ellipse cx="305" cy="335" rx="1.8" ry="1.6" fill="#000"/><ellipse cx="463" cy="252" rx="1.8" ry="1.6" fill="#000"/><ellipse cx="485" cy="268" rx="1.8" ry="1.6" fill="#000"/><ellipse cx="436" cy="237" rx="1.8" ry="1.6" fill="#000"/><ellipse cx="458" cy="262" rx="1.8" ry="1.6" fill="#000"/><ellipse cx="200" cy="389" rx="1.8" ry="1.6" fill="#000"/><ellipse cx="410" cy="384" rx="1.8" ry="1.6" fill="#000"/><ellipse cx="420" cy="395" rx="1.8" ry="1.6" fill="#000"/><ellipse cx="340" cy="350" rx="1.8" ry="1.6" fill="#000"/><ellipse cx="318" cy="240" rx="1.8" ry="1.6" fill="#000"/><g stroke="#333" stroke-width="1.35" stroke-dasharray="3 5.27" fill="none"><line x1="68.60" y1="41" x2="68.60" y2="549"/><line x1="147.30" y1="41" x2="147.30" y2="549"/><line x1="226.00" y1="41" x2="226.00" y2="549"/><line x1="304.70" y1="41" x2="304.70" y2="549"/><line x1="383.40" y1="41" x2="383.40" y2="549"/><line x1="462.10" y1="41" x2="462.10" y2="549"/><line x1="13" y1="67.20" x2="486" y2="67.20"/><line x1="13" y1="151.70" x2="486" y2="151.70"/><line x1="13" y1="236.20" x2="486" y2="236.20"/><line x1="13" y1="320.70" x2="486" y2="320.70"/><line x1="13" y1="405.20" x2="486" y2="405.20"/><line x1="13" y1="489.70" x2="486" y2="489.70"/></g><g stroke="#000" stroke-width="1.25" stroke-dasharray="12.2 11.5" fill="none"><path d="M13.00,55.89 Q249.00,216.18 485.00,343.32"/><path d="M13.00,152.94 Q249.50,312.51 486.00,436.77"/></g><g style="font-family:'Liberation Sans',sans-serif" font-size="12.5" fill="#000"><text x="68.60" y="300.2" text-anchor="middle">54</text><text x="147.30" y="300.2" text-anchor="middle">56</text><text x="226.00" y="300.2" text-anchor="middle">58</text><text x="304.70" y="300.2" text-anchor="middle">60</text><text x="383.40" y="300.2" text-anchor="middle">62</text><text x="462.10" y="300.2" text-anchor="middle">64</text><text x="235.5" y="66.70">-16</text><text x="235.5" y="151.20">-18</text><text x="235.5" y="235.70">-20</text><text x="235.5" y="320.20">-22</text><text x="235.5" y="404.70">-24</text><text x="235.5" y="489.20">-26</text></g><path d="M242.8,294.5 H255.8 M249.3,288.0 V301.0" stroke="#000" stroke-width="5" fill="none"/><text x="37.5" y="65.7" style="font-family:'Liberation Sans',sans-serif" font-size="25" fill="#000">VIRS T</text><text x="116.5" y="72" style="font-family:'Liberation Sans',sans-serif" font-size="15.3" fill="#000">B11</text><text x="152.5" y="65.7" style="font-family:'Liberation Sans',sans-serif" font-size="25" fill="#000">(K)</text><text x="438.5" y="522.7" style="font-family:'Liberation Sans',sans-serif" font-size="30" fill="#000">(g)</text><rect x="495" y="531.54" width="9" height="8.86" fill="#f6f6f6"/><rect x="495" y="523.08" width="9" height="8.86" fill="#eeeeee"/><rect x="495" y="514.63" width="9" height="8.86" fill="#e6e6e6"/><rect x="495" y="506.17" width="9" height="8.86" fill="#dedede"/><rect x="495" y="497.71" width="9" height="8.86" fill="#d6d6d6"/><rect x="495" y="489.25" width="9" height="8.86" fill="#cecece"/><rect x="495" y="480.80" width="9" height="8.86" fill="#c6c6c6"/><rect x="495" y="472.34" width="9" height="8.86" fill="#bfbfbf"/><rect x="495" y="463.88" width="9" height="8.86" fill="#b7b7b7"/><rect x="495" y="455.42" width="9" height="8.86" fill="#afafaf"/><rect x="495" y="446.97" width="9" height="8.86" fill="#a7a7a7"/><rect x="495" y="438.51" width="9" height="8.86" fill="#9f9f9f"/><rect x="495" y="430.05" width="9" height="8.86" fill="#979797"/><rect x="495" y="421.59" width="9" height="8.86" fill="#8f8f8f"/><rect x="495" y="413.14" width="9" height="8.86" fill="#82e082"/><rect x="495" y="404.68" width="9" height="8.86" fill="#7ad67a"/><rect x="495" y="396.22" width="9" height="8.86" fill="#72cc72"/><rect x="495" y="387.76" width="9" height="8.86" fill="#6ac26a"/><rect x="495" y="379.31" width="9" height="8.86" fill="#62b862"/><rect x="495" y="370.85" width="9" height="8.86" fill="#ccd4fc"/><rect x="495" y="362.39" width="9" height="8.86" fill="#b4c8fc"/><rect x="495" y="353.93" width="9" height="8.86" fill="#9cbffc"/><rect x="495" y="345.47" width="9" height="8.86" fill="#88b6fc"/><rect x="495" y="337.02" width="9" height="8.86" fill="#70aefc"/><rect x="495" y="328.56" width="9" height="8.86" fill="#58a6fc"/><rect x="495" y="320.10" width="9" height="8.86" fill="#4a94f8"/><rect x="495" y="311.64" width="9" height="8.86" fill="#4080f4"/><rect x="495" y="303.19" width="9" height="8.86" fill="#3868f6"/><rect x="495" y="294.73" width="9" height="8.86" fill="#3050f8"/><rect x="495" y="286.27" width="9" height="8.86" fill="#2838f8"/><rect x="495" y="277.81" width="9" height="8.86" fill="#0000ff"/><rect x="495" y="269.36" width="9" height="8.86" fill="#0000ee"/><rect x="495" y="260.90" width="9" height="8.86" fill="#0000dd"/><rect x="495" y="252.44" width="9" height="8.86" fill="#0000cc"/><rect x="495" y="243.98" width="9" height="8.86" fill="#ffff00"/><rect x="495" y="235.53" width="9" height="8.86" fill="#fff200"/><rect x="495" y="227.07" width="9" height="8.86" fill="#ffe600"/><rect x="495" y="218.61" width="9" height="8.86" fill="#ffd900"/><rect x="495" y="210.15" width="9" height="8.86" fill="#ffcc00"/><rect x="495" y="201.69" width="9" height="8.86" fill="#ff8400"/><rect x="495" y="193.24" width="9" height="8.86" fill="#ff7e00"/><rect x="495" y="184.78" width="9" height="8.86" fill="#ff7800"/><rect x="495" y="176.32" width="9" height="8.86" fill="#ff7200"/><rect x="495" y="167.86" width="9" height="8.86" fill="#ff6c00"/><rect x="495" y="159.41" width="9" height="8.86" fill="#ff4000"/><rect x="495" y="150.95" width="9" height="8.86" fill="#ff3400"/><rect x="495" y="142.49" width="9" height="8.86" fill="#ff2800"/><rect x="495" y="134.03" width="9" height="8.86" fill="#ff1c00"/><rect x="495" y="125.58" width="9" height="8.86" fill="#ff1000"/><rect x="495" y="117.12" width="9" height="8.86" fill="#cc0000"/><rect x="495" y="108.66" width="9" height="8.86" fill="#c10000"/><rect x="495" y="100.20" width="9" height="8.86" fill="#b60000"/><rect x="495" y="91.75" width="9" height="8.86" fill="#ab0000"/><rect x="495" y="83.29" width="9" height="8.86" fill="#a00000"/><rect x="495" y="74.83" width="9" height="8.86" fill="#640a04"/><rect x="495" y="66.37" width="9" height="8.86" fill="#600e08"/><rect x="495" y="57.92" width="9" height="8.86" fill="#5c110c"/><rect x="495" y="49.46" width="9" height="8.86" fill="#581410"/><rect x="495" y="41.00" width="9" height="8.86" fill="#541814"/><g stroke="#000" stroke-width="1"><line x1="504" y1="548.50" x2="507" y2="548.50"/><line x1="504" y1="497.70" x2="507" y2="497.70"/><line x1="504" y1="446.90" x2="507" y2="446.90"/><line x1="504" y1="396.10" x2="507" y2="396.10"/><line x1="504" y1="345.30" x2="507" y2="345.30"/><line x1="504" y1="294.50" x2="507" y2="294.50"/><line x1="504" y1="243.70" x2="507" y2="243.70"/><line x1="504" y1="192.90" x2="507" y2="192.90"/><line x1="504" y1="142.10" x2="507" y2="142.10"/><line x1="504" y1="91.30" x2="507" y2="91.30"/></g><g style="font-family:'Liberation Sans',sans-serif" font-size="20" fill="#000" text-anchor="middle"><text x="524.3" y="557.10">304</text><text x="524.3" y="506.30">292</text><text x="524.3" y="455.50">280</text><text x="524.3" y="404.70">268</text><text x="524.3" y="353.90">256</text><text x="524.3" y="303.10">244</text><text x="524.3" y="252.30">232</text><text x="524.3" y="201.50">220</text><text x="524.3" y="150.70">208</text><text x="524.3" y="99.90">196</text></g>
</g>
<g transform="translate(590.333,1180.667)">
<polygon points="308.6,245.7 325.5,250.9 367.1,278.2 364.5,287.3 372.3,295.1 369.7,302.9 358.0,305.5 348.9,302.9 338.5,310.6 334.6,319.7 330.7,326.2 315.1,327.5 302.1,334.0 294.4,328.8 307.3,322.3 309.9,315.8 312.5,309.4 307.3,300.3 299.5,297.7 298.2,283.4 299.5,267.8 307.3,262.6 307.3,254.8" fill="#1a10f4" fill-opacity="0.95"/><path fill="#ff4a14" d="M316.7 267.0l5.5 3.3l-2.1 3.6l-5.5 -3.3zM310.5 278.6l2.7 1.6l-1.6 2.7l-2.7 -1.6zM316.2 270.1l4.1 2.5l-1.6 2.7l-4.1 -2.5zM302.5 256.3l2.7 1.6l-1.3 2.2l-2.7 -1.6zM316.4 268.6l2.7 1.6l-2.1 3.6l-2.7 -1.6zM319.5 273.7l4.1 2.5l-2.1 3.6l-4.1 -2.5zM305.9 277.4l2.7 1.6l-1.6 2.7l-2.7 -1.6zM305.4 267.9l5.5 3.3l-1.3 2.2l-5.5 -3.3zM305.3 252.2l5.5 3.3l-2.1 3.6l-5.5 -3.3zM308.5 285.1l2.7 1.6l-2.1 3.6l-2.7 -1.6zM302.5 253.3l4.1 2.5l-2.1 3.6l-4.1 -2.5zM309.1 287.9l2.7 1.6l-2.1 3.6l-2.7 -1.6zM316.9 273.1l2.7 1.6l-2.1 3.6l-2.7 -1.6zM303.7 267.8l5.5 3.3l-1.6 2.7l-5.5 -3.3zM321.6 265.0l2.7 1.6l-2.1 3.6l-2.7 -1.6zM310.3 266.4l4.1 2.5l-1.6 2.7l-4.1 -2.5zM303.8 287.9l2.7 1.6l-1.3 2.2l-2.7 -1.6zM301.5 257.3l2.7 1.6l-1.6 2.7l-2.7 -1.6zM314.4 269.1l2.7 1.6l-2.1 3.6l-2.7 -1.6zM308.7 284.7l4.1 2.5l-1.3 2.2l-4.1 -2.5zM315.2 257.6l4.1 2.5l-1.3 2.2l-4.1 -2.5zM304.8 282.8l2.7 1.6l-1.3 2.2l-2.7 -1.6zM320.9 264.2l5.5 3.3l-1.3 2.2l-5.5 -3.3zM305.9 275.6l2.7 1.6l-2.1 3.6l-2.7 -1.6zM310.7 275.7l5.5 3.3l-2.1 3.6l-5.5 -3.3zM308.8 279.3l2.7 1.6l-2.1 3.6l-2.7 -1.6zM316.3 259.9l2.7 1.6l-1.6 2.7l-2.7 -1.6zM312.1 264.6l2.7 1.6l-1.3 2.2l-2.7 -1.6zM302.9 262.8l4.1 2.5l-2.1 3.6l-4.1 -2.5zM318.6 270.2l2.7 1.6l-1.6 2.7l-2.7 -1.6zM317.7 255.7l5.5 3.3l-2.1 3.6l-5.5 -3.3zM317.7 277.9l2.7 1.6l-1.6 2.7l-2.7 -1.6zM315.7 270.7l4.1 2.5l-1.6 2.7l-4.1 -2.5zM308.5 257.1l4.1 2.5l-2.1 3.6l-4.1 -2.5zM300.0 274.2l4.1 2.5l-2.1 3.6l-4.1 -2.5zM301.8 282.2l4.1 2.5l-1.6 2.7l-4.1 -2.5zM308.2 281.9l2.7 1.6l-1.3 2.2l-2.7 -1.6zM301.7 276.1l5.5 3.3l-2.1 3.6l-5.5 -3.3zM309.8 254.5l4.1 2.5l-2.1 3.6l-4.1 -2.5zM305.0 284.3l4.1 2.5l-2.1 3.6l-4.1 -2.5zM310.1 265.5l2.7 1.6l-2.1 3.6l-2.7 -1.6zM307.0 282.9l2.7 1.6l-1.3 2.2l-2.7 -1.6zM312.0 290.4l2.7 1.6l-2.1 3.6l-2.7 -1.6zM317.7 256.5l5.5 3.3l-2.1 3.6l-5.5 -3.3zM321.7 263.1l2.7 1.6l-2.1 3.6l-2.7 -1.6z"/><path fill="#ff4a14" d="M333.7 295.1l3.3 2.0l-1.7 2.9l-3.3 -2.0zM337.9 298.3l3.3 2.0l-1.3 2.2l-3.3 -2.0zM332.3 292.2l2.2 1.3l-1.1 1.8l-2.2 -1.3zM338.8 302.0l4.5 2.7l-1.1 1.8l-4.5 -2.7zM341.9 300.9l2.2 1.3l-1.3 2.2l-2.2 -1.3zM338.1 299.0l3.3 2.0l-1.7 2.9l-3.3 -2.0z"/><path fill="#ff4a14" d="M317.9 323.0l2.4 1.4l-1.2 1.9l-2.4 -1.4zM314.4 326.0l2.4 1.4l-1.2 1.9l-2.4 -1.4zM304.2 325.6l3.6 2.2l-1.4 2.4l-3.6 -2.2zM308.3 332.0l2.4 1.4l-1.2 1.9l-2.4 -1.4zM308.2 324.4l4.8 2.9l-1.9 3.1l-4.8 -2.9zM304.9 330.9l2.4 1.4l-1.9 3.1l-2.4 -1.4zM308.9 329.0l3.6 2.2l-1.9 3.1l-3.6 -2.2zM312.6 330.1l2.4 1.4l-1.4 2.4l-2.4 -1.4zM307.7 325.6l2.4 1.4l-1.2 1.9l-2.4 -1.4zM310.6 324.9l4.8 2.9l-1.4 2.4l-4.8 -2.9zM303.4 325.7l3.6 2.2l-1.9 3.1l-3.6 -2.2zM308.9 324.6l4.8 2.9l-1.2 1.9l-4.8 -2.9zM321.3 320.8l2.4 1.4l-1.4 2.4l-2.4 -1.4zM312.9 321.8l2.4 1.4l-1.2 1.9l-2.4 -1.4z"/><path fill="#ff4a14" d="M366.2 293.6l4.5 2.7l-1.7 2.9l-4.5 -2.7zM357.0 289.6l4.5 2.7l-1.1 1.8l-4.5 -2.7zM356.3 291.5l4.5 2.7l-1.1 1.8l-4.5 -2.7zM346.1 297.7l3.3 2.0l-1.1 1.8l-3.3 -2.0zM360.5 292.6l4.5 2.7l-1.1 1.8l-4.5 -2.7zM355.5 295.4l2.2 1.3l-1.1 1.8l-2.2 -1.3zM342.0 300.1l2.2 1.3l-1.1 1.8l-2.2 -1.3zM370.5 293.3l3.3 2.0l-1.1 1.8l-3.3 -2.0z"/><polygon points="250.2,279.5 260.6,276.9 273.6,289.9 276.2,293.8 263.2,302.9 259.3,301.6 259.3,289.9 251.5,283.4" fill="#1a10f4" fill-opacity="0.9"/><path fill="#ff4a14" d="M269.0 298.5l5.1 3.1l-2.0 3.3l-5.1 -3.1zM263.5 297.7l5.1 3.1l-2.0 3.3l-5.1 -3.1zM259.5 284.4l3.9 2.3l-1.5 2.6l-3.9 -2.3zM263.5 291.1l2.6 1.5l-1.2 2.1l-2.6 -1.5zM260.5 294.6l3.9 2.3l-2.0 3.3l-3.9 -2.3zM270.5 289.5l5.1 3.1l-1.5 2.6l-5.1 -3.1zM264.1 284.5l5.1 3.1l-1.2 2.1l-5.1 -3.1zM260.1 292.1l5.1 3.1l-2.0 3.3l-5.1 -3.1zM263.6 292.3l3.9 2.3l-1.5 2.6l-3.9 -2.3zM265.8 285.2l3.9 2.3l-1.2 2.1l-3.9 -2.3zM258.4 282.2l2.6 1.5l-1.2 2.1l-2.6 -1.5zM263.7 298.4l2.6 1.5l-2.0 3.3l-2.6 -1.5zM260.7 292.2l5.1 3.1l-1.5 2.6l-5.1 -3.1zM266.1 299.5l3.9 2.3l-1.2 2.1l-3.9 -2.3zM260.6 286.6l2.6 1.5l-1.2 2.1l-2.6 -1.5zM270.4 296.1l2.6 1.5l-1.5 2.6l-2.6 -1.5zM260.5 289.1l2.6 1.5l-1.5 2.6l-2.6 -1.5zM262.9 299.7l5.1 3.1l-1.2 2.1l-5.1 -3.1z"/><path fill="#ff4a14" d="M284.4 309.5l3.3 2.0l-1.7 2.9l-3.3 -2.0zM301.0 310.9l4.5 2.7l-1.1 1.8l-4.5 -2.7zM274.7 315.9l2.2 1.3l-1.7 2.9l-2.2 -1.3zM290.1 311.4l3.3 2.0l-1.1 1.8l-3.3 -2.0zM292.7 319.1l4.5 2.7l-1.3 2.2l-4.5 -2.7zM284.7 321.4l2.2 1.3l-1.7 2.9l-2.2 -1.3zM277.4 315.3l4.5 2.7l-1.1 1.8l-4.5 -2.7zM291.4 305.2l3.3 2.0l-1.3 2.2l-3.3 -2.0zM282.6 309.4l2.2 1.3l-1.7 2.9l-2.2 -1.3zM271.0 315.1l3.3 2.0l-1.7 2.9l-3.3 -2.0zM296.9 312.7l3.3 2.0l-1.7 2.9l-3.3 -2.0zM273.7 307.9l2.2 1.3l-1.1 1.8l-2.2 -1.3zM284.4 316.6l4.5 2.7l-1.3 2.2l-4.5 -2.7zM284.7 304.8l4.5 2.7l-1.7 2.9l-4.5 -2.7zM300.4 316.3l4.5 2.7l-1.7 2.9l-4.5 -2.7zM307.0 313.1l4.5 2.7l-1.3 2.2l-4.5 -2.7zM287.9 319.4l3.3 2.0l-1.1 1.8l-3.3 -2.0zM295.7 307.7l2.2 1.3l-1.1 1.8l-2.2 -1.3z"/><path fill="#1a10f4" d="M279.4 302.9l4.5 2.7l-1.3 2.2l-4.5 -2.7zM268.7 315.8l2.2 1.3l-1.1 1.8l-2.2 -1.3zM302.3 310.3l2.2 1.3l-1.1 1.8l-2.2 -1.3zM284.3 313.4l3.3 2.0l-1.7 2.9l-3.3 -2.0zM278.8 305.7l3.3 2.0l-1.3 2.2l-3.3 -2.0zM275.5 304.0l2.2 1.3l-1.7 2.9l-2.2 -1.3zM286.2 319.0l2.2 1.3l-1.7 2.9l-2.2 -1.3zM267.3 310.4l3.3 2.0l-1.1 1.8l-3.3 -2.0zM292.1 311.1l4.5 2.7l-1.1 1.8l-4.5 -2.7zM270.7 315.7l3.3 2.0l-1.3 2.2l-3.3 -2.0zM279.2 306.1l2.2 1.3l-1.1 1.8l-2.2 -1.3zM293.0 307.2l2.2 1.3l-1.7 2.9l-2.2 -1.3zM299.7 314.3l3.3 2.0l-1.7 2.9l-3.3 -2.0zM278.7 319.2l2.2 1.3l-1.3 2.2l-2.2 -1.3zM266.6 308.9l2.2 1.3l-1.7 2.9l-2.2 -1.3zM285.9 315.8l3.3 2.0l-1.7 2.9l-3.3 -2.0zM306.2 315.0l2.2 1.3l-1.1 1.8l-2.2 -1.3zM281.5 302.8l4.5 2.7l-1.7 2.9l-4.5 -2.7zM280.0 314.2l3.3 2.0l-1.7 2.9l-3.3 -2.0zM282.7 305.5l2.2 1.3l-1.7 2.9l-2.2 -1.3zM296.7 308.3l2.2 1.3l-1.7 2.9l-2.2 -1.3zM300.9 318.8l4.5 2.7l-1.3 2.2l-4.5 -2.7zM294.0 305.9l2.2 1.3l-1.3 2.2l-2.2 -1.3zM285.1 310.5l4.5 2.7l-1.3 2.2l-4.5 -2.7zM306.7 316.3l3.3 2.0l-1.1 1.8l-3.3 -2.0zM269.6 313.2l4.5 2.7l-1.3 2.2l-4.5 -2.7zM298.2 316.9l2.2 1.3l-1.1 1.8l-2.2 -1.3zM286.0 321.4l3.3 2.0l-1.3 2.2l-3.3 -2.0zM299.9 306.2l2.2 1.3l-1.1 1.8l-2.2 -1.3zM287.8 306.6l3.3 2.0l-1.7 2.9l-3.3 -2.0zM267.9 314.5l3.3 2.0l-1.3 2.2l-3.3 -2.0zM302.1 313.8l2.2 1.3l-1.7 2.9l-2.2 -1.3zM286.0 309.2l2.2 1.3l-1.1 1.8l-2.2 -1.3zM302.3 309.8l2.2 1.3l-1.7 2.9l-2.2 -1.3zM303.0 317.3l2.2 1.3l-1.3 2.2l-2.2 -1.3zM272.3 307.5l3.3 2.0l-1.7 2.9l-3.3 -2.0zM270.5 312.7l2.2 1.3l-1.1 1.8l-2.2 -1.3zM293.5 311.4l2.2 1.3l-1.1 1.8l-2.2 -1.3zM285.5 315.1l2.2 1.3l-1.3 2.2l-2.2 -1.3zM270.9 316.9l2.2 1.3l-1.1 1.8l-2.2 -1.3zM290.6 318.1l3.3 2.0l-1.1 1.8l-3.3 -2.0zM272.7 310.2l2.2 1.3l-1.7 2.9l-2.2 -1.3zM282.6 306.2l3.3 2.0l-1.3 2.2l-3.3 -2.0zM299.9 307.9l3.3 2.0l-1.7 2.9l-3.3 -2.0zM270.1 309.3l2.2 1.3l-1.1 1.8l-2.2 -1.3zM306.0 308.1l3.3 2.0l-1.3 2.2l-3.3 -2.0zM294.7 315.1l4.5 2.7l-1.3 2.2l-4.5 -2.7zM286.8 309.0l2.2 1.3l-1.3 2.2l-2.2 -1.3zM304.0 308.5l3.3 2.0l-1.1 1.8l-3.3 -2.0zM291.1 308.8l2.2 1.3l-1.3 2.2l-2.2 -1.3zM307.3 316.4l2.2 1.3l-1.1 1.8l-2.2 -1.3zM290.1 320.5l2.2 1.3l-1.3 2.2l-2.2 -1.3z"/><path fill="#1a10f4" d="M234.4 260.9l2.2 1.3l-1.1 1.8l-2.2 -1.3zM243.3 267.2l4.5 2.7l-1.3 2.2l-4.5 -2.7zM244.8 271.2l4.5 2.7l-1.1 1.8l-4.5 -2.7zM235.5 263.7l2.2 1.3l-1.7 2.9l-2.2 -1.3zM220.7 254.6l2.2 1.3l-1.7 2.9l-2.2 -1.3zM251.3 271.8l3.3 2.0l-1.7 2.9l-3.3 -2.0zM233.3 262.0l2.2 1.3l-1.1 1.8l-2.2 -1.3zM243.5 270.2l4.5 2.7l-1.7 2.9l-4.5 -2.7zM240.8 266.3l3.3 2.0l-1.3 2.2l-3.3 -2.0zM219.7 253.3l2.2 1.3l-1.7 2.9l-2.2 -1.3zM230.5 259.7l4.5 2.7l-1.3 2.2l-4.5 -2.7zM225.6 256.9l3.3 2.0l-1.3 2.2l-3.3 -2.0zM225.6 254.9l2.2 1.3l-1.1 1.8l-2.2 -1.3zM238.4 266.3l2.2 1.3l-1.7 2.9l-2.2 -1.3zM236.8 262.3l4.5 2.7l-1.3 2.2l-4.5 -2.7zM239.5 264.5l3.3 2.0l-1.1 1.8l-3.3 -2.0zM224.6 255.7l4.5 2.7l-1.1 1.8l-4.5 -2.7zM248.8 271.3l4.5 2.7l-1.3 2.2l-4.5 -2.7zM250.7 272.8l2.2 1.3l-1.7 2.9l-2.2 -1.3zM225.9 258.3l2.2 1.3l-1.1 1.8l-2.2 -1.3z"/><path fill="#1a10f4" d="M277.0 269.6l4.5 2.7l-1.1 1.8l-4.5 -2.7zM276.0 269.9l4.5 2.7l-1.1 1.8l-4.5 -2.7zM280.0 274.2l2.2 1.3l-1.3 2.2l-2.2 -1.3zM277.7 274.6l4.5 2.7l-1.3 2.2l-4.5 -2.7zM277.8 271.6l2.2 1.3l-1.3 2.2l-2.2 -1.3zM276.2 274.6l3.3 2.0l-1.7 2.9l-3.3 -2.0zM275.9 269.1l3.3 2.0l-1.3 2.2l-3.3 -2.0zM276.5 268.5l2.2 1.3l-1.3 2.2l-2.2 -1.3zM274.8 268.8l2.2 1.3l-1.3 2.2l-2.2 -1.3zM274.1 272.7l2.2 1.3l-1.1 1.8l-2.2 -1.3z"/><path fill="#ff4a14" d="M277.3 280.8l2.2 1.3l-1.1 1.8l-2.2 -1.3zM281.0 283.5l2.2 1.3l-1.7 2.9l-2.2 -1.3zM278.1 282.4l3.3 2.0l-1.7 2.9l-3.3 -2.0zM279.7 282.3l3.3 2.0l-1.1 1.8l-3.3 -2.0zM279.5 279.2l4.5 2.7l-1.3 2.2l-4.5 -2.7zM278.0 285.1l3.3 2.0l-1.1 1.8l-3.3 -2.0z"/><path fill="#1a10f4" d="M280.9 281.9l2.2 1.3l-1.7 2.9l-2.2 -1.3zM277.9 278.5l4.5 2.7l-1.7 2.9l-4.5 -2.7zM277.2 279.3l2.2 1.3l-1.7 2.9l-2.2 -1.3zM276.5 280.8l3.3 2.0l-1.7 2.9l-3.3 -2.0z"/><path fill="#1a10f4" d="M283.4 295.4l2.2 1.3l-1.1 1.8l-2.2 -1.3zM281.3 286.6l4.5 2.7l-1.3 2.2l-4.5 -2.7zM280.0 293.5l3.3 2.0l-1.7 2.9l-3.3 -2.0zM283.0 287.6l4.5 2.7l-1.3 2.2l-4.5 -2.7zM291.2 295.3l4.5 2.7l-1.1 1.8l-4.5 -2.7zM282.7 297.7l4.5 2.7l-1.1 1.8l-4.5 -2.7z"/><path fill="#ff4a14" d="M290.7 289.1l2.2 1.3l-1.3 2.2l-2.2 -1.3zM290.3 290.3l2.2 1.3l-1.7 2.9l-2.2 -1.3zM288.9 287.5l4.5 2.7l-1.1 1.8l-4.5 -2.7zM283.0 294.8l4.5 2.7l-1.3 2.2l-4.5 -2.7z"/><path fill="#1a10f4" d="M286.0 257.6l2.2 1.3l-1.1 1.8l-2.2 -1.3zM283.2 258.6l2.2 1.3l-1.3 2.2l-2.2 -1.3zM280.6 254.6l4.5 2.7l-1.1 1.8l-4.5 -2.7zM286.4 258.2l2.2 1.3l-1.3 2.2l-2.2 -1.3zM286.0 260.5l3.3 2.0l-1.7 2.9l-3.3 -2.0zM286.4 253.5l2.2 1.3l-1.3 2.2l-2.2 -1.3zM286.4 251.4l4.5 2.7l-1.3 2.2l-4.5 -2.7z"/><path fill="#ff4a14" d="M285.6 253.9l4.5 2.7l-1.3 2.2l-4.5 -2.7zM282.6 260.3l2.2 1.3l-1.7 2.9l-2.2 -1.3zM279.0 254.6l4.5 2.7l-1.1 1.8l-4.5 -2.7z"/><path fill="#1a10f4" d="M212.8 187.9l3.3 2.0l-1.3 2.2l-3.3 -2.0zM201.6 182.4l3.3 2.0l-1.3 2.2l-3.3 -2.0zM222.5 193.0l2.2 1.3l-1.3 2.2l-2.2 -1.3zM205.2 190.4l4.5 2.7l-1.3 2.2l-4.5 -2.7zM206.8 184.2l2.2 1.3l-1.1 1.8l-2.2 -1.3zM197.7 188.1l3.3 2.0l-1.1 1.8l-3.3 -2.0zM209.2 187.6l3.3 2.0l-1.1 1.8l-3.3 -2.0zM208.6 188.9l2.2 1.3l-1.3 2.2l-2.2 -1.3zM218.1 188.9l4.5 2.7l-1.3 2.2l-4.5 -2.7zM217.3 192.8l3.3 2.0l-1.7 2.9l-3.3 -2.0zM196.1 192.7l3.3 2.0l-1.7 2.9l-3.3 -2.0zM207.2 185.3l2.2 1.3l-1.7 2.9l-2.2 -1.3zM194.7 174.8l2.2 1.3l-1.7 2.9l-2.2 -1.3zM209.6 186.9l2.2 1.3l-1.3 2.2l-2.2 -1.3zM222.3 193.2l2.2 1.3l-1.3 2.2l-2.2 -1.3zM200.2 188.0l3.3 2.0l-1.3 2.2l-3.3 -2.0zM199.3 186.3l2.2 1.3l-1.7 2.9l-2.2 -1.3zM199.7 178.8l4.5 2.7l-1.3 2.2l-4.5 -2.7zM195.2 192.0l2.2 1.3l-1.7 2.9l-2.2 -1.3zM219.1 193.0l2.2 1.3l-1.1 1.8l-2.2 -1.3zM217.6 189.1l4.5 2.7l-1.7 2.9l-4.5 -2.7zM220.9 193.3l2.2 1.3l-1.1 1.8l-2.2 -1.3zM207.6 187.0l4.5 2.7l-1.1 1.8l-4.5 -2.7zM201.8 186.4l2.2 1.3l-1.1 1.8l-2.2 -1.3zM195.7 192.1l3.3 2.0l-1.1 1.8l-3.3 -2.0zM193.9 174.7l3.3 2.0l-1.7 2.9l-3.3 -2.0zM212.8 190.9l3.3 2.0l-1.7 2.9l-3.3 -2.0zM196.9 189.8l2.2 1.3l-1.7 2.9l-2.2 -1.3zM196.8 190.8l4.5 2.7l-1.1 1.8l-4.5 -2.7zM211.7 188.1l2.2 1.3l-1.1 1.8l-2.2 -1.3zM200.1 181.2l2.2 1.3l-1.7 2.9l-2.2 -1.3zM204.0 184.0l2.2 1.3l-1.1 1.8l-2.2 -1.3zM213.1 190.9l3.3 2.0l-1.1 1.8l-3.3 -2.0zM197.1 190.3l2.2 1.3l-1.3 2.2l-2.2 -1.3zM204.3 191.0l2.2 1.3l-1.7 2.9l-2.2 -1.3zM215.5 190.8l2.2 1.3l-1.7 2.9l-2.2 -1.3z"/><path fill="#ff4a14" d="M196.7 195.8l4.5 2.7l-1.1 1.8l-4.5 -2.7zM203.6 191.6l2.2 1.3l-1.3 2.2l-2.2 -1.3zM205.1 189.8l2.2 1.3l-1.1 1.8l-2.2 -1.3zM211.2 190.2l3.3 2.0l-1.1 1.8l-3.3 -2.0zM199.5 186.8l4.5 2.7l-1.7 2.9l-4.5 -2.7zM198.9 192.1l3.3 2.0l-1.3 2.2l-3.3 -2.0zM201.8 187.9l3.3 2.0l-1.7 2.9l-3.3 -2.0zM197.9 193.6l3.3 2.0l-1.7 2.9l-3.3 -2.0zM202.1 183.7l2.2 1.3l-1.7 2.9l-2.2 -1.3zM201.6 184.0l2.2 1.3l-1.1 1.8l-2.2 -1.3zM209.3 184.6l2.2 1.3l-1.7 2.9l-2.2 -1.3zM198.7 180.2l3.3 2.0l-1.7 2.9l-3.3 -2.0zM199.9 183.5l2.2 1.3l-1.3 2.2l-2.2 -1.3zM201.6 190.1l3.3 2.0l-1.3 2.2l-3.3 -2.0z"/><path fill="#ff4a14" d="M258.5 279.5l3.4 2.1l-1.0 1.7l-3.4 -2.1zM233.9 277.7l1.7 1.0l-1.0 1.7l-1.7 -1.0zM273.4 281.6l3.4 2.1l-1.0 1.7l-3.4 -2.1zM279.6 238.9l1.7 1.0l-1.0 1.7l-1.7 -1.0zM286.2 270.8l2.6 1.5l-1.0 1.7l-2.6 -1.5zM228.8 263.1l3.4 2.1l-1.3 2.2l-3.4 -2.1zM217.1 222.2l1.7 1.0l-0.8 1.4l-1.7 -1.0zM210.2 259.2l1.7 1.0l-1.3 2.2l-1.7 -1.0zM245.8 301.1l3.4 2.1l-0.8 1.4l-3.4 -2.1zM241.9 224.8l2.6 1.5l-0.8 1.4l-2.6 -1.5zM217.3 269.2l3.4 2.1l-0.8 1.4l-3.4 -2.1zM209.6 269.7l3.4 2.1l-0.8 1.4l-3.4 -2.1zM267.7 300.5l2.6 1.5l-1.3 2.2l-2.6 -1.5zM258.5 287.7l2.6 1.5l-0.8 1.4l-2.6 -1.5zM234.9 248.5l1.7 1.0l-0.8 1.4l-1.7 -1.0zM238.2 277.2l2.6 1.5l-0.8 1.4l-2.6 -1.5zM285.7 312.1l2.6 1.5l-0.8 1.4l-2.6 -1.5zM201.2 238.5l2.6 1.5l-1.0 1.7l-2.6 -1.5zM235.1 274.6l1.7 1.0l-0.8 1.4l-1.7 -1.0zM288.4 244.2l1.7 1.0l-1.3 2.2l-1.7 -1.0zM281.2 264.6l2.6 1.5l-1.0 1.7l-2.6 -1.5zM227.6 269.0l1.7 1.0l-1.0 1.7l-1.7 -1.0zM241.7 259.1l1.7 1.0l-1.3 2.2l-1.7 -1.0zM283.2 258.2l1.7 1.0l-1.3 2.2l-1.7 -1.0zM262.0 269.4l3.4 2.1l-1.0 1.7l-3.4 -2.1zM221.8 277.9l1.7 1.0l-1.0 1.7l-1.7 -1.0zM235.3 216.9l1.7 1.0l-1.3 2.2l-1.7 -1.0zM207.2 216.4l2.6 1.5l-1.0 1.7l-2.6 -1.5zM254.6 267.3l1.7 1.0l-0.8 1.4l-1.7 -1.0zM233.1 283.8l1.7 1.0l-1.3 2.2l-1.7 -1.0zM268.5 323.0l1.7 1.0l-0.8 1.4l-1.7 -1.0zM271.5 282.8l1.7 1.0l-0.8 1.4l-1.7 -1.0zM223.9 265.5l2.6 1.5l-0.8 1.4l-2.6 -1.5zM211.5 253.4l1.7 1.0l-1.0 1.7l-1.7 -1.0zM241.4 235.9l1.7 1.0l-0.8 1.4l-1.7 -1.0zM219.6 267.0l1.7 1.0l-1.3 2.2l-1.7 -1.0z"/><path fill="#1a10f4" d="M218.8 224.0l1.7 1.0l-1.0 1.7l-1.7 -1.0zM290.4 246.1l3.4 2.1l-0.8 1.4l-3.4 -2.1zM268.6 305.1l1.7 1.0l-1.0 1.7l-1.7 -1.0zM206.1 238.2l2.6 1.5l-1.3 2.2l-2.6 -1.5zM210.5 237.5l2.6 1.5l-1.3 2.2l-2.6 -1.5zM223.6 275.6l3.4 2.1l-1.0 1.7l-3.4 -2.1zM229.2 259.1l1.7 1.0l-1.0 1.7l-1.7 -1.0zM276.7 292.7l2.6 1.5l-1.3 2.2l-2.6 -1.5zM244.1 235.3l1.7 1.0l-1.3 2.2l-1.7 -1.0z"/><polygon points="73.5,109.9 77.6,110.6 77.6,115.3 76.3,119.4 72.2,123.5 68.1,126.8 65.4,127.5 64.1,123.5 65.4,120.7 71.5,116.0" fill="#1a10f4" fill-opacity="0.9"/><path fill="#ff4a14" d="M72.5 115.2l4.3 2.6l-1.3 2.1l-4.3 -2.6zM74.9 112.6l3.2 1.9l-1.7 2.8l-3.2 -1.9zM75.0 116.8l2.1 1.3l-1.0 1.7l-2.1 -1.3zM77.6 115.0l3.2 1.9l-1.0 1.7l-3.2 -1.9zM74.9 114.8l4.3 2.6l-1.0 1.7l-4.3 -2.6zM66.4 121.1l2.1 1.3l-1.7 2.8l-2.1 -1.3zM71.9 116.7l2.1 1.3l-1.0 1.7l-2.1 -1.3zM69.1 122.2l4.3 2.6l-1.0 1.7l-4.3 -2.6zM73.3 113.4l2.1 1.3l-1.7 2.8l-2.1 -1.3zM72.9 113.7l2.1 1.3l-1.0 1.7l-2.1 -1.3z"/><polygon points="57.3,128.0 61.0,127.5 63.4,131.0 60.0,132.3 57.5,131.0" fill="#ff4a14" fill-opacity="0.9"/><path fill="#1a10f4" d="M86.8 133.4l1.9 1.1l-1.1 1.9l-1.9 -1.1zM87.2 135.7l1.9 1.1l-0.9 1.5l-1.9 -1.1zM86.3 136.0l3.8 2.3l-0.9 1.5l-3.8 -2.3zM86.4 135.4l3.8 2.3l-1.1 1.9l-3.8 -2.3zM86.1 135.1l3.8 2.3l-0.9 1.5l-3.8 -2.3zM91.2 134.9l1.9 1.1l-1.5 2.5l-1.9 -1.1zM89.0 135.1l1.9 1.1l-1.1 1.9l-1.9 -1.1zM88.5 134.6l1.9 1.1l-0.9 1.5l-1.9 -1.1z"/><path fill="#ff4a14" d="M86.4 133.5l1.9 1.1l-1.5 2.5l-1.9 -1.1zM89.5 135.2l2.8 1.7l-0.9 1.5l-2.8 -1.7z"/><path fill="#ff4a14" d="M97.9 136.6l1.9 1.1l-0.9 1.5l-1.9 -1.1zM97.3 136.1l1.9 1.1l-1.1 1.9l-1.9 -1.1zM95.5 136.0l1.9 1.1l-1.1 1.9l-1.9 -1.1zM96.3 137.2l1.9 1.1l-1.5 2.5l-1.9 -1.1z"/><path fill="#1a10f4" d="M97.0 136.0l1.9 1.1l-1.1 1.9l-1.9 -1.1zM96.6 134.9l3.8 2.3l-0.9 1.5l-3.8 -2.3zM95.2 135.6l3.8 2.3l-1.1 1.9l-3.8 -2.3zM97.6 135.5l2.8 1.7l-0.9 1.5l-2.8 -1.7zM96.4 134.1l3.8 2.3l-1.5 2.5l-3.8 -2.3zM95.9 135.1l1.9 1.1l-1.5 2.5l-1.9 -1.1z"/><path fill="#1a10f4" d="M102.6 135.3l3.8 2.3l-1.1 1.9l-3.8 -2.3zM102.2 136.1l1.9 1.1l-0.9 1.5l-1.9 -1.1zM101.0 135.8l1.9 1.1l-0.9 1.5l-1.9 -1.1zM101.4 135.6l1.9 1.1l-1.1 1.9l-1.9 -1.1zM102.9 132.6l1.9 1.1l-1.1 1.9l-1.9 -1.1zM103.8 133.5l1.9 1.1l-1.1 1.9l-1.9 -1.1zM101.2 135.5l1.9 1.1l-1.1 1.9l-1.9 -1.1z"/><path fill="#ff4a14" d="M103.2 132.9l1.9 1.1l-1.5 2.5l-1.9 -1.1zM101.5 133.4l3.8 2.3l-0.9 1.5l-3.8 -2.3zM101.7 134.6l3.8 2.3l-1.5 2.5l-3.8 -2.3z"/><path fill="#1a10f4" d="M108.9 136.0l3.8 2.3l-1.5 2.5l-3.8 -2.3zM117.9 141.3l1.9 1.1l-0.9 1.5l-1.9 -1.1zM107.1 138.0l2.8 1.7l-0.9 1.5l-2.8 -1.7zM110.4 142.8l1.9 1.1l-1.5 2.5l-1.9 -1.1zM120.0 141.6l3.8 2.3l-1.1 1.9l-3.8 -2.3zM114.0 133.5l1.9 1.1l-1.1 1.9l-1.9 -1.1zM110.5 135.0l1.9 1.1l-1.5 2.5l-1.9 -1.1z"/><path fill="#ff4a14" d="M111.5 133.0l1.9 1.1l-1.5 2.5l-1.9 -1.1zM109.5 131.2l1.9 1.1l-1.1 1.9l-1.9 -1.1zM112.2 134.1l1.9 1.1l-1.1 1.9l-1.9 -1.1z"/><path fill="#1a10f4" d="M130.2 137.8l2.8 1.7l-0.9 1.5l-2.8 -1.7zM130.0 136.6l1.9 1.1l-1.1 1.9l-1.9 -1.1zM128.4 137.7l1.9 1.1l-1.5 2.5l-1.9 -1.1zM132.1 135.9l1.9 1.1l-1.1 1.9l-1.9 -1.1zM133.9 140.3l3.8 2.3l-1.1 1.9l-3.8 -2.3zM132.7 137.3l3.8 2.3l-1.1 1.9l-3.8 -2.3zM130.0 135.3l1.9 1.1l-0.9 1.5l-1.9 -1.1z"/><path fill="#ff4a14" d="M129.7 135.4l1.9 1.1l-1.1 1.9l-1.9 -1.1zM132.0 139.5l3.8 2.3l-1.5 2.5l-3.8 -2.3zM128.9 134.3l3.8 2.3l-1.1 1.9l-3.8 -2.3z"/><path fill="#1a10f4" d="M118.4 128.4l3.8 2.3l-1.1 1.9l-3.8 -2.3zM118.5 127.1l2.8 1.7l-0.9 1.5l-2.8 -1.7zM116.0 125.4l1.9 1.1l-1.5 2.5l-1.9 -1.1zM117.6 126.9l1.9 1.1l-1.1 1.9l-1.9 -1.1zM119.8 127.2l2.8 1.7l-1.5 2.5l-2.8 -1.7zM119.0 126.3l1.9 1.1l-0.9 1.5l-1.9 -1.1z"/><path fill="#ff4a14" d="M117.1 125.3l3.8 2.3l-1.5 2.5l-3.8 -2.3zM116.7 127.5l3.8 2.3l-1.5 2.5l-3.8 -2.3zM117.4 128.6l1.9 1.1l-1.5 2.5l-1.9 -1.1zM117.6 126.5l1.9 1.1l-1.5 2.5l-1.9 -1.1z"/><path fill="#1a10f4" d="M481.1 427.5l1.7 1.0l-1.0 1.7l-1.7 -1.0zM482.0 434.6l3.4 2.1l-1.0 1.7l-3.4 -2.1zM471.6 422.1l3.4 2.1l-1.0 1.7l-3.4 -2.1zM471.2 419.2l1.7 1.0l-1.3 2.2l-1.7 -1.0zM484.1 430.5l3.4 2.1l-0.8 1.4l-3.4 -2.1zM482.3 434.6l1.7 1.0l-1.3 2.2l-1.7 -1.0zM478.7 430.1l2.6 1.5l-1.0 1.7l-2.6 -1.5zM477.8 423.0l2.6 1.5l-0.8 1.4l-2.6 -1.5zM479.5 424.9l1.7 1.0l-0.8 1.4l-1.7 -1.0zM481.9 435.1l2.6 1.5l-0.8 1.4l-2.6 -1.5z"/><g stroke="#333" stroke-width="1.35" stroke-dasharray="3 5.27" fill="none"><line x1="68.60" y1="41" x2="68.60" y2="549"/><line x1="147.30" y1="41" x2="147.30" y2="549"/><line x1="226.00" y1="41" x2="226.00" y2="549"/><line x1="304.70" y1="41" x2="304.70" y2="549"/><line x1="383.40" y1="41" x2="383.40" y2="549"/><line x1="462.10" y1="41" x2="462.10" y2="549"/><line x1="13" y1="67.20" x2="486" y2="67.20"/><line x1="13" y1="151.70" x2="486" y2="151.70"/><line x1="13" y1="236.20" x2="486" y2="236.20"/><line x1="13" y1="320.70" x2="486" y2="320.70"/><line x1="13" y1="405.20" x2="486" y2="405.20"/><line x1="13" y1="489.70" x2="486" y2="489.70"/></g><g stroke="#000" stroke-width="1.25" stroke-dasharray="12.2 11.5" fill="none"><path d="M13.00,55.89 Q249.00,216.18 485.00,343.32"/><path d="M13.00,152.94 Q249.50,312.51 486.00,436.77"/></g><g style="font-family:'Liberation Sans',sans-serif" font-size="12.5" fill="#000"><text x="68.60" y="300.2" text-anchor="middle">54</text><text x="147.30" y="300.2" text-anchor="middle">56</text><text x="226.00" y="300.2" text-anchor="middle">58</text><text x="304.70" y="300.2" text-anchor="middle">60</text><text x="383.40" y="300.2" text-anchor="middle">62</text><text x="462.10" y="300.2" text-anchor="middle">64</text><text x="235.5" y="66.70">-16</text><text x="235.5" y="151.20">-18</text><text x="235.5" y="235.70">-20</text><text x="235.5" y="320.20">-22</text><text x="235.5" y="404.70">-24</text><text x="235.5" y="489.20">-26</text></g><path d="M242.8,294.5 H255.8 M249.3,288.0 V301.0" stroke="#000" stroke-width="5" fill="none"/><text x="37.3" y="65.5" style="font-family:'Liberation Sans',sans-serif" font-size="25" fill="#000">2A23 rain types</text><text x="438.5" y="522.7" style="font-family:'Liberation Sans',sans-serif" font-size="30" fill="#000">(h)</text><rect x="495.5" y="41.3" width="9" height="169.0" fill="#ff4400"/><rect x="495.5" y="210.3" width="9" height="169.39999999999998" fill="#0000ff"/><rect x="495.5" y="41.3" width="9" height="507.7" fill="none" stroke="#333" stroke-width="1"/><g stroke="#000" stroke-width="1"><line x1="504.5" y1="41.3" x2="507.5" y2="41.3"/><line x1="504.5" y1="210.3" x2="507.5" y2="210.3"/><line x1="504.5" y1="379.7" x2="507.5" y2="379.7"/></g><g style="font-family:'Liberation Sans',sans-serif" font-size="20" fill="#000"><text x="507.5" y="48.50">Conv</text><text x="507.5" y="217.50">Strat</text><text x="507.5" y="386.90">N/A</text></g>
</g>
<g transform="translate(1180.667,1180.667)">
<polygon points="308.6,245.7 325.5,250.9 367.1,278.2 364.5,287.3 372.3,295.1 369.7,302.9 358.0,305.5 348.9,302.9 338.5,310.6 334.6,319.7 330.7,326.2 315.1,327.5 302.1,334.0 294.4,328.8 307.3,322.3 309.9,315.8 312.5,309.4 307.3,300.3 299.5,297.7 298.2,283.4 299.5,267.8 307.3,262.6 307.3,254.8" fill="#9cc4d8" fill-opacity="0.7"/><path fill="#9cbffc" d="M344.2 301.2l3.9 2.3l-1.5 2.6l-3.9 -2.3zM360.5 290.7l5.1 3.1l-1.5 2.6l-5.1 -3.1zM342.1 264.7l2.6 1.5l-1.2 2.1l-2.6 -1.5zM317.6 302.7l2.6 1.5l-1.5 2.6l-2.6 -1.5zM322.5 256.6l2.6 1.5l-2.0 3.3l-2.6 -1.5zM305.5 273.9l2.6 1.5l-1.2 2.1l-2.6 -1.5zM365.5 302.3l2.6 1.5l-1.2 2.1l-2.6 -1.5zM326.6 308.5l2.6 1.5l-2.0 3.3l-2.6 -1.5zM359.1 291.6l2.6 1.5l-2.0 3.3l-2.6 -1.5zM338.7 289.3l2.6 1.5l-1.5 2.6l-2.6 -1.5zM330.8 258.7l2.6 1.5l-2.0 3.3l-2.6 -1.5zM319.5 319.3l2.6 1.5l-1.5 2.6l-2.6 -1.5zM310.1 267.0l3.9 2.3l-2.0 3.3l-3.9 -2.3zM353.0 291.7l3.9 2.3l-1.5 2.6l-3.9 -2.3zM315.3 264.2l2.6 1.5l-1.2 2.1l-2.6 -1.5zM343.1 278.7l2.6 1.5l-1.2 2.1l-2.6 -1.5zM330.5 312.1l2.6 1.5l-1.5 2.6l-2.6 -1.5zM347.2 288.2l5.1 3.1l-2.0 3.3l-5.1 -3.1zM333.2 258.7l2.6 1.5l-1.5 2.6l-2.6 -1.5zM366.6 295.4l2.6 1.5l-2.0 3.3l-2.6 -1.5zM348.9 275.9l2.6 1.5l-1.5 2.6l-2.6 -1.5zM332.8 280.5l3.9 2.3l-1.2 2.1l-3.9 -2.3zM331.0 325.7l2.6 1.5l-2.0 3.3l-2.6 -1.5zM338.0 265.2l2.6 1.5l-1.2 2.1l-2.6 -1.5zM332.0 299.2l2.6 1.5l-2.0 3.3l-2.6 -1.5zM318.4 273.3l3.9 2.3l-1.5 2.6l-3.9 -2.3zM343.9 267.2l2.6 1.5l-1.5 2.6l-2.6 -1.5zM314.8 322.7l2.6 1.5l-1.5 2.6l-2.6 -1.5zM307.7 284.8l3.9 2.3l-1.2 2.1l-3.9 -2.3zM321.1 282.1l2.6 1.5l-1.2 2.1l-2.6 -1.5zM322.4 319.5l2.6 1.5l-1.2 2.1l-2.6 -1.5z"/><path fill="#c8d4fa" d="M335.7 260.9l3.9 2.3l-1.5 2.6l-3.9 -2.3zM330.7 317.3l5.1 3.1l-1.5 2.6l-5.1 -3.1zM325.7 324.1l5.1 3.1l-1.5 2.6l-5.1 -3.1zM318.8 279.4l2.6 1.5l-1.2 2.1l-2.6 -1.5zM328.6 321.3l5.1 3.1l-2.0 3.3l-5.1 -3.1zM325.5 254.6l2.6 1.5l-1.2 2.1l-2.6 -1.5zM342.5 283.5l5.1 3.1l-2.0 3.3l-5.1 -3.1zM349.8 301.2l5.1 3.1l-1.5 2.6l-5.1 -3.1zM357.0 279.6l5.1 3.1l-1.2 2.1l-5.1 -3.1zM307.4 272.1l3.9 2.3l-1.2 2.1l-3.9 -2.3zM313.4 283.4l2.6 1.5l-2.0 3.3l-2.6 -1.5zM365.2 289.5l3.9 2.3l-1.5 2.6l-3.9 -2.3zM305.9 298.3l3.9 2.3l-1.5 2.6l-3.9 -2.3zM327.2 269.9l3.9 2.3l-1.2 2.1l-3.9 -2.3zM343.1 276.5l5.1 3.1l-1.5 2.6l-5.1 -3.1zM315.3 277.3l5.1 3.1l-1.2 2.1l-5.1 -3.1zM303.5 286.0l5.1 3.1l-1.5 2.6l-5.1 -3.1zM369.0 294.3l5.1 3.1l-1.2 2.1l-5.1 -3.1zM356.6 289.7l2.6 1.5l-2.0 3.3l-2.6 -1.5zM343.2 269.7l2.6 1.5l-2.0 3.3l-2.6 -1.5zM362.0 282.3l2.6 1.5l-1.5 2.6l-2.6 -1.5zM342.9 304.4l3.9 2.3l-1.2 2.1l-3.9 -2.3zM350.9 269.0l3.9 2.3l-2.0 3.3l-3.9 -2.3zM323.0 319.7l3.9 2.3l-1.2 2.1l-3.9 -2.3zM324.3 259.4l5.1 3.1l-2.0 3.3l-5.1 -3.1zM321.7 273.0l3.9 2.3l-2.0 3.3l-3.9 -2.3zM318.8 321.4l5.1 3.1l-1.5 2.6l-5.1 -3.1zM362.8 292.9l3.9 2.3l-2.0 3.3l-3.9 -2.3zM315.2 272.0l5.1 3.1l-1.5 2.6l-5.1 -3.1zM330.1 291.4l5.1 3.1l-2.0 3.3l-5.1 -3.1zM322.6 269.2l2.6 1.5l-1.5 2.6l-2.6 -1.5zM335.6 295.1l3.9 2.3l-2.0 3.3l-3.9 -2.3zM311.2 273.8l2.6 1.5l-1.2 2.1l-2.6 -1.5zM306.0 287.3l2.6 1.5l-2.0 3.3l-2.6 -1.5zM358.8 295.7l2.6 1.5l-2.0 3.3l-2.6 -1.5zM334.9 295.0l2.6 1.5l-1.2 2.1l-2.6 -1.5zM320.4 298.2l5.1 3.1l-1.2 2.1l-5.1 -3.1zM329.8 280.1l3.9 2.3l-1.2 2.1l-3.9 -2.3zM339.9 309.5l5.1 3.1l-1.5 2.6l-5.1 -3.1zM324.4 261.1l2.6 1.5l-1.2 2.1l-2.6 -1.5zM317.0 318.1l3.9 2.3l-1.5 2.6l-3.9 -2.3zM341.2 281.0l5.1 3.1l-1.5 2.6l-5.1 -3.1zM316.8 292.2l3.9 2.3l-2.0 3.3l-3.9 -2.3zM318.7 321.6l3.9 2.3l-1.5 2.6l-3.9 -2.3zM300.0 294.7l2.6 1.5l-1.2 2.1l-2.6 -1.5zM361.5 277.3l2.6 1.5l-1.5 2.6l-2.6 -1.5zM308.5 255.6l5.1 3.1l-2.0 3.3l-5.1 -3.1zM360.2 299.3l3.9 2.3l-2.0 3.3l-3.9 -2.3zM323.9 317.9l5.1 3.1l-1.5 2.6l-5.1 -3.1zM327.3 302.4l3.9 2.3l-1.2 2.1l-3.9 -2.3zM314.1 325.6l2.6 1.5l-1.2 2.1l-2.6 -1.5zM353.8 276.1l2.6 1.5l-2.0 3.3l-2.6 -1.5zM356.4 287.9l5.1 3.1l-1.5 2.6l-5.1 -3.1zM317.1 259.9l5.1 3.1l-1.5 2.6l-5.1 -3.1zM346.3 298.3l3.9 2.3l-2.0 3.3l-3.9 -2.3zM340.1 283.8l2.6 1.5l-1.5 2.6l-2.6 -1.5zM320.0 313.9l2.6 1.5l-2.0 3.3l-2.6 -1.5zM318.5 291.0l5.1 3.1l-1.2 2.1l-5.1 -3.1zM322.8 311.6l2.6 1.5l-1.2 2.1l-2.6 -1.5zM318.5 264.1l2.6 1.5l-1.2 2.1l-2.6 -1.5zM328.1 296.2l2.6 1.5l-2.0 3.3l-2.6 -1.5zM321.2 305.9l3.9 2.3l-2.0 3.3l-3.9 -2.3zM300.6 331.5l2.6 1.5l-1.2 2.1l-2.6 -1.5zM330.9 273.9l2.6 1.5l-1.5 2.6l-2.6 -1.5zM302.1 296.0l2.6 1.5l-2.0 3.3l-2.6 -1.5zM338.6 261.2l2.6 1.5l-1.2 2.1l-2.6 -1.5zM343.3 280.3l3.9 2.3l-1.2 2.1l-3.9 -2.3zM315.4 267.3l5.1 3.1l-2.0 3.3l-5.1 -3.1zM361.5 295.7l2.6 1.5l-1.5 2.6l-2.6 -1.5zM346.0 282.1l2.6 1.5l-2.0 3.3l-2.6 -1.5zM325.3 277.6l2.6 1.5l-1.2 2.1l-2.6 -1.5zM320.7 260.5l2.6 1.5l-1.2 2.1l-2.6 -1.5zM330.2 275.9l2.6 1.5l-1.2 2.1l-2.6 -1.5zM310.3 275.1l5.1 3.1l-2.0 3.3l-5.1 -3.1zM303.5 278.5l5.1 3.1l-1.5 2.6l-5.1 -3.1zM317.9 257.1l2.6 1.5l-1.5 2.6l-2.6 -1.5zM305.6 269.1l2.6 1.5l-2.0 3.3l-2.6 -1.5zM321.7 301.5l3.9 2.3l-1.2 2.1l-3.9 -2.3zM334.0 285.3l2.6 1.5l-1.2 2.1l-2.6 -1.5zM323.2 291.4l3.9 2.3l-1.2 2.1l-3.9 -2.3zM309.3 281.7l2.6 1.5l-2.0 3.3l-2.6 -1.5z"/><path fill="#4a80f0" d="M330.0 305.3l2.6 1.5l-1.2 2.1l-2.6 -1.5zM350.8 281.4l2.6 1.5l-1.5 2.6l-2.6 -1.5zM322.4 289.8l5.1 3.1l-2.0 3.3l-5.1 -3.1zM351.7 302.0l3.9 2.3l-1.5 2.6l-3.9 -2.3zM302.2 297.3l3.9 2.3l-2.0 3.3l-3.9 -2.3zM337.9 285.9l2.6 1.5l-2.0 3.3l-2.6 -1.5zM303.7 271.3l3.9 2.3l-1.2 2.1l-3.9 -2.3zM320.2 293.7l2.6 1.5l-1.5 2.6l-2.6 -1.5zM316.3 282.9l2.6 1.5l-1.5 2.6l-2.6 -1.5zM329.7 310.4l3.9 2.3l-1.5 2.6l-3.9 -2.3zM350.2 273.7l2.6 1.5l-2.0 3.3l-2.6 -1.5zM326.8 316.9l2.6 1.5l-1.2 2.1l-2.6 -1.5zM353.9 289.1l2.6 1.5l-1.5 2.6l-2.6 -1.5zM314.7 279.2l3.9 2.3l-2.0 3.3l-3.9 -2.3zM309.9 291.4l2.6 1.5l-2.0 3.3l-2.6 -1.5zM326.6 261.1l5.1 3.1l-2.0 3.3l-5.1 -3.1zM310.1 301.3l2.6 1.5l-1.5 2.6l-2.6 -1.5zM360.8 278.8l5.1 3.1l-2.0 3.3l-5.1 -3.1zM308.2 299.3l2.6 1.5l-2.0 3.3l-2.6 -1.5zM309.6 271.1l5.1 3.1l-1.5 2.6l-5.1 -3.1zM301.4 279.6l5.1 3.1l-1.5 2.6l-5.1 -3.1zM318.5 298.7l2.6 1.5l-1.5 2.6l-2.6 -1.5zM327.0 270.8l2.6 1.5l-1.5 2.6l-2.6 -1.5zM304.5 288.7l2.6 1.5l-2.0 3.3l-2.6 -1.5zM318.3 308.2l5.1 3.1l-1.5 2.6l-5.1 -3.1zM341.8 305.3l2.6 1.5l-1.5 2.6l-2.6 -1.5zM323.7 313.2l5.1 3.1l-2.0 3.3l-5.1 -3.1zM308.6 256.4l5.1 3.1l-1.2 2.1l-5.1 -3.1zM323.2 319.6l2.6 1.5l-1.5 2.6l-2.6 -1.5zM322.5 305.9l3.9 2.3l-1.5 2.6l-3.9 -2.3zM310.8 250.3l5.1 3.1l-2.0 3.3l-5.1 -3.1zM324.5 298.1l5.1 3.1l-2.0 3.3l-5.1 -3.1zM369.8 295.9l3.9 2.3l-1.5 2.6l-3.9 -2.3zM362.4 294.4l2.6 1.5l-1.2 2.1l-2.6 -1.5zM332.9 303.9l5.1 3.1l-1.2 2.1l-5.1 -3.1zM310.9 288.2l2.6 1.5l-1.5 2.6l-2.6 -1.5zM340.3 293.0l5.1 3.1l-1.5 2.6l-5.1 -3.1zM330.5 270.9l3.9 2.3l-2.0 3.3l-3.9 -2.3zM329.1 325.9l5.1 3.1l-1.2 2.1l-5.1 -3.1zM313.5 316.5l2.6 1.5l-2.0 3.3l-2.6 -1.5zM308.8 248.9l5.1 3.1l-2.0 3.3l-5.1 -3.1zM315.2 267.6l2.6 1.5l-1.2 2.1l-2.6 -1.5zM320.3 313.0l5.1 3.1l-1.5 2.6l-5.1 -3.1zM342.8 299.9l2.6 1.5l-1.5 2.6l-2.6 -1.5zM360.6 275.9l2.6 1.5l-2.0 3.3l-2.6 -1.5zM304.6 266.5l3.9 2.3l-1.2 2.1l-3.9 -2.3zM359.3 296.7l2.6 1.5l-1.2 2.1l-2.6 -1.5zM354.4 278.3l3.9 2.3l-1.2 2.1l-3.9 -2.3zM367.8 300.6l2.6 1.5l-2.0 3.3l-2.6 -1.5z"/><path fill="#82d882" d="M325.1 277.3l2.6 1.5l-2.0 3.3l-2.6 -1.5zM303.6 296.2l2.6 1.5l-1.5 2.6l-2.6 -1.5zM316.1 297.2l2.6 1.5l-1.2 2.1l-2.6 -1.5zM311.0 294.1l2.6 1.5l-1.2 2.1l-2.6 -1.5zM327.9 301.9l2.6 1.5l-1.2 2.1l-2.6 -1.5zM356.4 297.8l2.6 1.5l-1.5 2.6l-2.6 -1.5zM312.6 322.1l2.6 1.5l-1.2 2.1l-2.6 -1.5zM369.3 294.4l5.1 3.1l-1.2 2.1l-5.1 -3.1zM348.6 294.6l3.9 2.3l-2.0 3.3l-3.9 -2.3zM340.3 303.0l3.9 2.3l-1.2 2.1l-3.9 -2.3zM363.1 288.6l3.9 2.3l-1.2 2.1l-3.9 -2.3zM310.6 297.2l2.6 1.5l-1.5 2.6l-2.6 -1.5zM320.4 282.4l2.6 1.5l-2.0 3.3l-2.6 -1.5zM322.7 255.0l5.1 3.1l-1.5 2.6l-5.1 -3.1zM335.9 274.0l5.1 3.1l-2.0 3.3l-5.1 -3.1zM302.7 286.9l5.1 3.1l-1.2 2.1l-5.1 -3.1zM337.3 297.4l2.6 1.5l-2.0 3.3l-2.6 -1.5zM326.4 272.0l3.9 2.3l-1.2 2.1l-3.9 -2.3zM367.4 299.4l2.6 1.5l-1.5 2.6l-2.6 -1.5zM342.7 272.6l5.1 3.1l-1.5 2.6l-5.1 -3.1zM353.1 281.1l3.9 2.3l-1.2 2.1l-3.9 -2.3zM324.9 296.4l5.1 3.1l-1.5 2.6l-5.1 -3.1zM352.3 289.1l2.6 1.5l-2.0 3.3l-2.6 -1.5zM322.2 271.3l2.6 1.5l-1.2 2.1l-2.6 -1.5zM317.0 314.1l2.6 1.5l-2.0 3.3l-2.6 -1.5zM311.0 300.7l2.6 1.5l-1.2 2.1l-2.6 -1.5zM332.7 293.0l2.6 1.5l-1.2 2.1l-2.6 -1.5zM315.7 307.9l5.1 3.1l-2.0 3.3l-5.1 -3.1zM299.9 282.3l5.1 3.1l-2.0 3.3l-5.1 -3.1zM335.1 282.5l2.6 1.5l-2.0 3.3l-2.6 -1.5zM310.8 303.1l5.1 3.1l-1.5 2.6l-5.1 -3.1zM313.4 289.9l2.6 1.5l-1.2 2.1l-2.6 -1.5zM308.9 296.0l2.6 1.5l-2.0 3.3l-2.6 -1.5zM361.8 300.9l2.6 1.5l-1.2 2.1l-2.6 -1.5zM328.6 273.9l5.1 3.1l-1.2 2.1l-5.1 -3.1zM317.4 305.1l5.1 3.1l-2.0 3.3l-5.1 -3.1zM317.7 283.7l2.6 1.5l-1.5 2.6l-2.6 -1.5zM331.3 320.4l2.6 1.5l-2.0 3.3l-2.6 -1.5zM319.1 291.5l3.9 2.3l-1.2 2.1l-3.9 -2.3zM327.3 294.0l5.1 3.1l-1.2 2.1l-5.1 -3.1zM303.1 297.4l2.6 1.5l-1.5 2.6l-2.6 -1.5zM334.9 296.1l5.1 3.1l-1.2 2.1l-5.1 -3.1zM322.4 278.2l5.1 3.1l-1.5 2.6l-5.1 -3.1zM352.8 295.3l2.6 1.5l-1.5 2.6l-2.6 -1.5zM342.2 278.1l2.6 1.5l-2.0 3.3l-2.6 -1.5zM331.0 263.0l5.1 3.1l-1.2 2.1l-5.1 -3.1zM341.8 290.1l2.6 1.5l-2.0 3.3l-2.6 -1.5zM328.9 319.0l3.9 2.3l-1.5 2.6l-3.9 -2.3zM352.1 299.8l3.9 2.3l-2.0 3.3l-3.9 -2.3zM326.0 321.8l3.9 2.3l-1.5 2.6l-3.9 -2.3zM318.1 316.1l5.1 3.1l-1.2 2.1l-5.1 -3.1zM324.4 297.4l3.9 2.3l-1.5 2.6l-3.9 -2.3zM333.2 294.2l2.6 1.5l-1.5 2.6l-2.6 -1.5zM327.8 275.8l2.6 1.5l-2.0 3.3l-2.6 -1.5zM341.2 287.1l5.1 3.1l-1.2 2.1l-5.1 -3.1zM350.7 286.3l3.9 2.3l-2.0 3.3l-3.9 -2.3zM350.7 290.9l2.6 1.5l-1.2 2.1l-2.6 -1.5zM309.9 264.3l2.6 1.5l-1.5 2.6l-2.6 -1.5zM318.9 318.1l2.6 1.5l-1.5 2.6l-2.6 -1.5zM326.2 307.9l2.6 1.5l-2.0 3.3l-2.6 -1.5zM331.6 307.1l3.9 2.3l-1.5 2.6l-3.9 -2.3zM347.8 294.7l3.9 2.3l-1.5 2.6l-3.9 -2.3zM330.0 296.0l2.6 1.5l-1.5 2.6l-2.6 -1.5zM308.2 261.1l3.9 2.3l-2.0 3.3l-3.9 -2.3zM314.8 254.9l2.6 1.5l-1.2 2.1l-2.6 -1.5zM318.9 295.1l3.9 2.3l-2.0 3.3l-3.9 -2.3zM345.3 279.6l2.6 1.5l-1.2 2.1l-2.6 -1.5zM320.7 288.5l2.6 1.5l-2.0 3.3l-2.6 -1.5zM323.6 270.3l2.6 1.5l-2.0 3.3l-2.6 -1.5zM345.0 305.2l2.6 1.5l-1.5 2.6l-2.6 -1.5zM358.5 278.1l2.6 1.5l-1.5 2.6l-2.6 -1.5zM361.8 296.6l5.1 3.1l-2.0 3.3l-5.1 -3.1zM344.0 294.7l2.6 1.5l-2.0 3.3l-2.6 -1.5z"/><path fill="#b0b0b0" d="M369.8 300.8l2.6 1.5l-1.2 2.1l-2.6 -1.5zM325.2 315.0l3.9 2.3l-1.2 2.1l-3.9 -2.3zM318.7 288.5l5.1 3.1l-2.0 3.3l-5.1 -3.1zM316.5 275.8l5.1 3.1l-1.2 2.1l-5.1 -3.1zM305.8 297.8l2.6 1.5l-1.5 2.6l-2.6 -1.5zM342.4 280.9l5.1 3.1l-1.5 2.6l-5.1 -3.1zM324.9 303.5l2.6 1.5l-1.2 2.1l-2.6 -1.5zM326.4 325.3l2.6 1.5l-1.5 2.6l-2.6 -1.5zM296.6 327.8l5.1 3.1l-2.0 3.3l-5.1 -3.1zM328.8 268.2l2.6 1.5l-2.0 3.3l-2.6 -1.5zM335.3 290.5l5.1 3.1l-2.0 3.3l-5.1 -3.1zM325.9 279.7l3.9 2.3l-2.0 3.3l-3.9 -2.3zM366.2 291.4l5.1 3.1l-1.2 2.1l-5.1 -3.1zM300.8 297.1l5.1 3.1l-1.2 2.1l-5.1 -3.1zM328.6 268.3l5.1 3.1l-1.5 2.6l-5.1 -3.1zM324.2 266.2l3.9 2.3l-2.0 3.3l-3.9 -2.3zM311.5 318.9l3.9 2.3l-1.2 2.1l-3.9 -2.3zM333.8 293.3l5.1 3.1l-2.0 3.3l-5.1 -3.1zM304.6 271.5l2.6 1.5l-1.2 2.1l-2.6 -1.5zM367.4 295.9l3.9 2.3l-1.5 2.6l-3.9 -2.3zM323.3 288.1l5.1 3.1l-1.2 2.1l-5.1 -3.1zM359.8 288.2l2.6 1.5l-1.2 2.1l-2.6 -1.5zM314.8 272.2l5.1 3.1l-2.0 3.3l-5.1 -3.1zM318.2 312.8l5.1 3.1l-1.5 2.6l-5.1 -3.1zM301.7 333.7l2.6 1.5l-1.2 2.1l-2.6 -1.5zM314.0 268.7l3.9 2.3l-1.2 2.1l-3.9 -2.3zM329.4 272.5l5.1 3.1l-2.0 3.3l-5.1 -3.1zM305.4 273.6l5.1 3.1l-1.2 2.1l-5.1 -3.1zM359.8 284.7l5.1 3.1l-1.2 2.1l-5.1 -3.1zM333.8 295.0l2.6 1.5l-1.5 2.6l-2.6 -1.5zM310.7 262.7l2.6 1.5l-2.0 3.3l-2.6 -1.5zM314.1 282.5l2.6 1.5l-1.2 2.1l-2.6 -1.5z"/><path fill="#58a6fc" d="M326.5 307.0l2.6 1.5l-1.5 2.6l-2.6 -1.5zM364.0 291.2l2.6 1.5l-2.0 3.3l-2.6 -1.5zM312.5 262.1l2.6 1.5l-1.2 2.1l-2.6 -1.5zM307.8 266.6l2.6 1.5l-2.0 3.3l-2.6 -1.5zM320.8 316.6l3.9 2.3l-1.5 2.6l-3.9 -2.3zM314.7 305.8l2.6 1.5l-1.2 2.1l-2.6 -1.5zM326.0 271.3l2.6 1.5l-1.2 2.1l-2.6 -1.5zM309.8 254.6l2.6 1.5l-1.2 2.1l-2.6 -1.5zM316.1 263.6l3.9 2.3l-1.2 2.1l-3.9 -2.3zM340.9 287.2l5.1 3.1l-1.2 2.1l-5.1 -3.1zM343.1 296.3l3.9 2.3l-2.0 3.3l-3.9 -2.3zM323.0 316.8l3.9 2.3l-2.0 3.3l-3.9 -2.3zM328.3 279.8l2.6 1.5l-1.5 2.6l-2.6 -1.5zM312.8 283.3l5.1 3.1l-2.0 3.3l-5.1 -3.1zM318.2 295.3l2.6 1.5l-2.0 3.3l-2.6 -1.5zM337.8 290.7l3.9 2.3l-1.5 2.6l-3.9 -2.3zM315.7 312.6l3.9 2.3l-2.0 3.3l-3.9 -2.3zM323.0 277.2l5.1 3.1l-2.0 3.3l-5.1 -3.1zM335.2 286.2l3.9 2.3l-2.0 3.3l-3.9 -2.3zM315.8 274.4l2.6 1.5l-1.2 2.1l-2.6 -1.5zM314.3 253.6l3.9 2.3l-1.2 2.1l-3.9 -2.3zM344.6 272.1l2.6 1.5l-1.5 2.6l-2.6 -1.5zM339.1 302.2l5.1 3.1l-1.5 2.6l-5.1 -3.1zM299.1 283.7l2.6 1.5l-2.0 3.3l-2.6 -1.5zM356.1 278.4l2.6 1.5l-1.5 2.6l-2.6 -1.5zM358.9 295.0l3.9 2.3l-2.0 3.3l-3.9 -2.3zM357.8 284.8l2.6 1.5l-1.5 2.6l-2.6 -1.5zM306.2 324.8l3.9 2.3l-1.2 2.1l-3.9 -2.3zM330.7 303.9l3.9 2.3l-1.5 2.6l-3.9 -2.3zM323.6 301.9l2.6 1.5l-1.5 2.6l-2.6 -1.5zM337.6 273.4l2.6 1.5l-1.2 2.1l-2.6 -1.5zM333.0 318.3l3.9 2.3l-2.0 3.3l-3.9 -2.3zM314.6 286.8l2.6 1.5l-1.2 2.1l-2.6 -1.5zM339.9 289.8l2.6 1.5l-1.2 2.1l-2.6 -1.5z"/><path fill="#0000ee" d="M312.6 254.2l2.6 1.5l-1.5 2.6l-2.6 -1.5zM304.9 269.2l2.6 1.5l-2.0 3.3l-2.6 -1.5zM314.9 268.4l2.6 1.5l-1.5 2.6l-2.6 -1.5zM310.4 272.0l2.6 1.5l-1.2 2.1l-2.6 -1.5zM317.1 268.1l2.6 1.5l-1.2 2.1l-2.6 -1.5zM317.5 269.9l3.9 2.3l-1.2 2.1l-3.9 -2.3zM312.5 267.8l5.1 3.1l-1.5 2.6l-5.1 -3.1z"/><path fill="#2040f0" d="M316.1 259.5l2.6 1.5l-1.5 2.6l-2.6 -1.5zM321.9 264.3l2.6 1.5l-1.2 2.1l-2.6 -1.5zM315.3 254.3l2.6 1.5l-1.5 2.6l-2.6 -1.5zM324.3 256.0l2.6 1.5l-1.2 2.1l-2.6 -1.5zM309.7 265.6l2.6 1.5l-1.2 2.1l-2.6 -1.5zM305.2 259.2l2.6 1.5l-1.5 2.6l-2.6 -1.5zM315.2 262.3l3.9 2.3l-1.2 2.1l-3.9 -2.3zM302.3 252.7l3.9 2.3l-2.0 3.3l-3.9 -2.3zM308.8 265.2l3.9 2.3l-1.2 2.1l-3.9 -2.3zM311.0 273.4l2.6 1.5l-2.0 3.3l-2.6 -1.5zM300.7 254.6l2.6 1.5l-1.5 2.6l-2.6 -1.5z"/><path fill="#2040f0" d="M348.9 288.4l5.1 3.1l-1.5 2.6l-5.1 -3.1zM348.2 293.6l5.1 3.1l-2.0 3.3l-5.1 -3.1zM348.4 296.8l2.6 1.5l-2.0 3.3l-2.6 -1.5zM348.4 288.6l5.1 3.1l-1.2 2.1l-5.1 -3.1zM346.3 295.3l5.1 3.1l-1.2 2.1l-5.1 -3.1zM357.3 298.5l2.6 1.5l-1.5 2.6l-2.6 -1.5zM360.2 299.7l5.1 3.1l-2.0 3.3l-5.1 -3.1zM351.8 296.4l2.6 1.5l-1.5 2.6l-2.6 -1.5zM362.9 293.3l2.6 1.5l-1.5 2.6l-2.6 -1.5z"/><path fill="#0000ee" d="M362.1 295.4l5.1 3.1l-2.0 3.3l-5.1 -3.1zM362.4 291.4l5.1 3.1l-1.5 2.6l-5.1 -3.1zM367.3 290.8l3.9 2.3l-1.2 2.1l-3.9 -2.3zM348.3 288.1l3.9 2.3l-2.0 3.3l-3.9 -2.3zM358.3 294.5l5.1 3.1l-1.2 2.1l-5.1 -3.1z"/><path fill="#b0b0b0" d="M312.1 327.5l2.6 1.5l-2.0 3.3l-2.6 -1.5zM303.5 315.7l2.6 1.5l-2.0 3.3l-2.6 -1.5zM306.5 308.2l2.6 1.5l-1.2 2.1l-2.6 -1.5zM312.1 317.7l2.6 1.5l-1.5 2.6l-2.6 -1.5zM316.5 323.8l2.6 1.5l-1.2 2.1l-2.6 -1.5zM315.2 323.4l2.6 1.5l-2.0 3.3l-2.6 -1.5zM314.6 327.5l5.1 3.1l-1.5 2.6l-5.1 -3.1zM300.6 309.4l3.9 2.3l-1.5 2.6l-3.9 -2.3z"/><path fill="#82d882" d="M300.7 317.5l5.1 3.1l-1.5 2.6l-5.1 -3.1zM313.6 311.6l5.1 3.1l-1.5 2.6l-5.1 -3.1zM298.9 305.0l3.9 2.3l-1.5 2.6l-3.9 -2.3zM305.6 321.2l2.6 1.5l-1.2 2.1l-2.6 -1.5zM308.1 319.8l2.6 1.5l-1.5 2.6l-2.6 -1.5zM309.5 327.8l2.6 1.5l-1.5 2.6l-2.6 -1.5zM299.6 303.5l2.6 1.5l-2.0 3.3l-2.6 -1.5zM313.1 322.3l2.6 1.5l-1.2 2.1l-2.6 -1.5zM307.8 303.5l5.1 3.1l-1.5 2.6l-5.1 -3.1zM315.8 320.5l2.6 1.5l-2.0 3.3l-2.6 -1.5zM306.9 306.6l5.1 3.1l-1.5 2.6l-5.1 -3.1zM308.9 313.7l2.6 1.5l-2.0 3.3l-2.6 -1.5z"/><polygon points="262.0,309.4 273.6,302.9 293.0,300.3 306.0,306.8 318.0,316.0 312.0,325.0 299.5,324.0 281.4,322.3 268.4,315.8" fill="#5a8cf0" fill-opacity="0.85"/><path fill="#2040f0" d="M287.9 314.4l2.6 1.5l-1.2 2.1l-2.6 -1.5zM284.5 304.6l3.9 2.3l-2.0 3.3l-3.9 -2.3zM280.6 316.2l3.9 2.3l-2.0 3.3l-3.9 -2.3zM289.1 306.2l3.9 2.3l-1.5 2.6l-3.9 -2.3zM295.9 315.7l2.6 1.5l-2.0 3.3l-2.6 -1.5zM281.6 310.6l2.6 1.5l-2.0 3.3l-2.6 -1.5zM280.7 321.5l5.1 3.1l-2.0 3.3l-5.1 -3.1zM310.1 310.8l3.9 2.3l-1.5 2.6l-3.9 -2.3zM303.2 308.7l5.1 3.1l-1.5 2.6l-5.1 -3.1zM269.7 312.3l2.6 1.5l-1.5 2.6l-2.6 -1.5zM282.7 314.0l3.9 2.3l-2.0 3.3l-3.9 -2.3z"/><path fill="#ffffff" d="M300.5 315.5l3.9 2.3l-1.2 2.1l-3.9 -2.3zM307.1 310.4l2.6 1.5l-1.2 2.1l-2.6 -1.5zM297.6 321.6l3.9 2.3l-2.0 3.3l-3.9 -2.3zM288.0 305.7l2.6 1.5l-2.0 3.3l-2.6 -1.5zM298.5 303.4l2.6 1.5l-2.0 3.3l-2.6 -1.5zM266.1 308.0l3.9 2.3l-1.5 2.6l-3.9 -2.3zM269.3 311.8l2.6 1.5l-1.2 2.1l-2.6 -1.5zM299.6 311.7l5.1 3.1l-1.5 2.6l-5.1 -3.1zM290.0 309.1l2.6 1.5l-2.0 3.3l-2.6 -1.5zM277.5 307.4l3.9 2.3l-2.0 3.3l-3.9 -2.3zM272.3 304.7l5.1 3.1l-1.5 2.6l-5.1 -3.1z"/><path fill="#9cbffc" d="M299.6 304.4l2.6 1.5l-2.0 3.3l-2.6 -1.5zM276.8 317.7l5.1 3.1l-1.5 2.6l-5.1 -3.1zM273.9 308.8l5.1 3.1l-1.5 2.6l-5.1 -3.1zM297.7 309.8l3.9 2.3l-2.0 3.3l-3.9 -2.3zM300.2 307.3l5.1 3.1l-2.0 3.3l-5.1 -3.1zM307.9 322.8l3.9 2.3l-1.2 2.1l-3.9 -2.3zM278.8 309.9l5.1 3.1l-2.0 3.3l-5.1 -3.1zM287.2 313.4l5.1 3.1l-1.5 2.6l-5.1 -3.1zM314.2 317.8l5.1 3.1l-1.5 2.6l-5.1 -3.1zM307.4 311.9l3.9 2.3l-1.2 2.1l-3.9 -2.3zM292.2 308.9l5.1 3.1l-2.0 3.3l-5.1 -3.1zM303.6 316.6l2.6 1.5l-1.5 2.6l-2.6 -1.5zM281.8 310.2l2.6 1.5l-1.5 2.6l-2.6 -1.5zM276.9 302.6l5.1 3.1l-1.5 2.6l-5.1 -3.1zM307.2 315.1l2.6 1.5l-1.5 2.6l-2.6 -1.5zM310.0 312.5l2.6 1.5l-1.5 2.6l-2.6 -1.5zM315.7 319.3l2.6 1.5l-1.2 2.1l-2.6 -1.5z"/><path fill="#58a6fc" d="M281.9 313.6l5.1 3.1l-2.0 3.3l-5.1 -3.1zM293.9 316.3l5.1 3.1l-1.2 2.1l-5.1 -3.1zM298.2 310.9l5.1 3.1l-1.2 2.1l-5.1 -3.1zM302.8 313.4l3.9 2.3l-1.2 2.1l-3.9 -2.3zM272.6 304.3l3.9 2.3l-1.5 2.6l-3.9 -2.3zM286.7 315.8l5.1 3.1l-2.0 3.3l-5.1 -3.1zM282.7 322.0l2.6 1.5l-1.5 2.6l-2.6 -1.5zM301.0 313.3l5.1 3.1l-2.0 3.3l-5.1 -3.1zM282.5 305.4l5.1 3.1l-1.2 2.1l-5.1 -3.1zM304.9 306.7l2.6 1.5l-1.2 2.1l-2.6 -1.5zM266.0 312.3l2.6 1.5l-2.0 3.3l-2.6 -1.5z"/><path fill="#0000ee" d="M296.6 315.4l2.6 1.5l-2.0 3.3l-2.6 -1.5zM296.2 312.2l5.1 3.1l-1.2 2.1l-5.1 -3.1zM268.3 313.8l3.9 2.3l-2.0 3.3l-3.9 -2.3zM294.1 314.6l2.6 1.5l-1.2 2.1l-2.6 -1.5zM290.8 315.2l3.9 2.3l-1.5 2.6l-3.9 -2.3zM277.8 319.8l2.6 1.5l-1.5 2.6l-2.6 -1.5zM289.7 308.4l5.1 3.1l-1.5 2.6l-5.1 -3.1zM308.9 321.4l5.1 3.1l-1.5 2.6l-5.1 -3.1zM278.4 307.5l5.1 3.1l-1.5 2.6l-5.1 -3.1zM286.1 305.3l5.1 3.1l-1.5 2.6l-5.1 -3.1z"/><path fill="#2040f0" d="M260.7 290.8l3.3 2.0l-1.7 2.9l-3.3 -2.0zM263.2 297.2l3.3 2.0l-1.7 2.9l-3.3 -2.0zM269.9 291.0l4.5 2.7l-1.1 1.8l-4.5 -2.7zM260.8 284.8l2.2 1.3l-1.1 1.8l-2.2 -1.3zM256.9 285.4l2.2 1.3l-1.3 2.2l-2.2 -1.3z"/><path fill="#58a6fc" d="M260.1 297.6l2.2 1.3l-1.3 2.2l-2.2 -1.3zM266.8 287.0l4.5 2.7l-1.1 1.8l-4.5 -2.7zM272.8 294.3l2.2 1.3l-1.3 2.2l-2.2 -1.3zM263.8 285.0l3.3 2.0l-1.3 2.2l-3.3 -2.0zM256.6 285.3l2.2 1.3l-1.7 2.9l-2.2 -1.3zM263.1 288.2l3.3 2.0l-1.3 2.2l-3.3 -2.0zM263.2 281.4l3.3 2.0l-1.7 2.9l-3.3 -2.0z"/><path fill="#82d882" d="M255.0 278.8l4.5 2.7l-1.3 2.2l-4.5 -2.7zM267.0 290.5l3.3 2.0l-1.7 2.9l-3.3 -2.0zM264.5 291.7l4.5 2.7l-1.1 1.8l-4.5 -2.7zM262.1 282.3l4.5 2.7l-1.1 1.8l-4.5 -2.7zM266.9 286.7l4.5 2.7l-1.1 1.8l-4.5 -2.7zM267.9 298.3l2.2 1.3l-1.7 2.9l-2.2 -1.3z"/><path fill="#ffd800" d="M260.1 297.9l3.3 2.0l-1.3 2.2l-3.3 -2.0zM273.7 293.2l4.5 2.7l-1.7 2.9l-4.5 -2.7zM265.7 294.0l4.5 2.7l-1.3 2.2l-4.5 -2.7zM260.3 288.2l3.3 2.0l-1.7 2.9l-3.3 -2.0zM269.0 298.0l3.3 2.0l-1.7 2.9l-3.3 -2.0z"/><path fill="#a8a8a8" d="M255.8 279.1l2.2 1.3l-1.7 2.9l-2.2 -1.3zM265.9 283.3l4.5 2.7l-1.1 1.8l-4.5 -2.7z"/><path fill="#82d882" d="M231.4 261.1l2.1 1.3l-1.7 2.8l-2.1 -1.3zM249.1 271.2l2.1 1.3l-1.7 2.8l-2.1 -1.3zM241.2 266.8l3.2 1.9l-1.7 2.8l-3.2 -1.9zM244.1 268.7l4.3 2.6l-1.7 2.8l-4.3 -2.6zM239.0 267.4l2.1 1.3l-1.3 2.1l-2.1 -1.3zM226.0 258.8l2.1 1.3l-1.7 2.8l-2.1 -1.3zM230.0 258.5l3.2 1.9l-1.0 1.7l-3.2 -1.9zM224.4 255.2l4.3 2.6l-1.0 1.7l-4.3 -2.6zM239.9 267.3l2.1 1.3l-1.3 2.1l-2.1 -1.3zM228.8 258.2l2.1 1.3l-1.7 2.8l-2.1 -1.3zM231.8 262.3l3.2 1.9l-1.0 1.7l-3.2 -1.9z"/><path fill="#b8b8b8" d="M223.1 255.6l2.1 1.3l-1.0 1.7l-2.1 -1.3zM223.4 256.7l3.2 1.9l-1.3 2.1l-3.2 -1.9zM237.8 264.5l2.1 1.3l-1.3 2.1l-2.1 -1.3zM219.5 254.0l2.1 1.3l-1.7 2.8l-2.1 -1.3z"/><path fill="#82d882" d="M278.7 272.8l4.3 2.6l-1.0 1.7l-4.3 -2.6zM279.4 269.2l2.1 1.3l-1.7 2.8l-2.1 -1.3zM280.1 271.2l4.3 2.6l-1.7 2.8l-4.3 -2.6zM275.4 275.1l4.3 2.6l-1.0 1.7l-4.3 -2.6zM274.8 273.2l3.2 1.9l-1.3 2.1l-3.2 -1.9zM277.9 270.7l2.1 1.3l-1.3 2.1l-2.1 -1.3z"/><path fill="#b8b8b8" d="M278.0 268.6l2.1 1.3l-1.3 2.1l-2.1 -1.3zM279.0 269.9l4.3 2.6l-1.7 2.8l-4.3 -2.6z"/><path fill="#b8b8b8" d="M276.8 279.2l4.3 2.6l-1.7 2.8l-4.3 -2.6zM279.8 283.9l2.1 1.3l-1.7 2.8l-2.1 -1.3zM278.6 279.4l3.2 1.9l-1.0 1.7l-3.2 -1.9z"/><path fill="#82d882" d="M279.1 284.5l2.1 1.3l-1.0 1.7l-2.1 -1.3zM276.6 284.5l2.1 1.3l-1.3 2.1l-2.1 -1.3zM279.4 284.4l2.1 1.3l-1.7 2.8l-2.1 -1.3zM276.6 278.8l2.1 1.3l-1.3 2.1l-2.1 -1.3zM281.2 280.2l2.1 1.3l-1.0 1.7l-2.1 -1.3z"/><path fill="#82d882" d="M280.2 290.8l4.3 2.6l-1.3 2.1l-4.3 -2.6zM287.3 293.5l2.1 1.3l-1.0 1.7l-2.1 -1.3zM285.2 296.2l2.1 1.3l-1.7 2.8l-2.1 -1.3z"/><path fill="#b8b8b8" d="M290.9 290.3l2.1 1.3l-1.0 1.7l-2.1 -1.3zM282.8 297.4l4.3 2.6l-1.7 2.8l-4.3 -2.6zM284.8 292.2l3.2 1.9l-1.0 1.7l-3.2 -1.9zM280.8 286.9l4.3 2.6l-1.7 2.8l-4.3 -2.6zM285.8 293.6l2.1 1.3l-1.0 1.7l-2.1 -1.3z"/><path fill="#b8b8b8" d="M277.7 252.4l4.3 2.6l-1.7 2.8l-4.3 -2.6zM281.6 252.1l4.3 2.6l-1.3 2.1l-4.3 -2.6z"/><path fill="#82d882" d="M286.5 254.3l2.1 1.3l-1.0 1.7l-2.1 -1.3zM284.8 258.9l2.1 1.3l-1.7 2.8l-2.1 -1.3zM279.0 252.1l2.1 1.3l-1.0 1.7l-2.1 -1.3zM280.0 257.1l3.2 1.9l-1.0 1.7l-3.2 -1.9zM283.2 252.6l2.1 1.3l-1.0 1.7l-2.1 -1.3zM287.2 255.0l2.1 1.3l-1.0 1.7l-2.1 -1.3z"/><path fill="#c0c0c0" d="M198.7 182.0l4.5 2.7l-1.1 1.8l-4.5 -2.7zM217.9 188.8l3.3 2.0l-1.7 2.9l-3.3 -2.0zM208.3 188.6l2.2 1.3l-1.7 2.9l-2.2 -1.3zM213.5 188.2l2.2 1.3l-1.7 2.9l-2.2 -1.3zM205.3 184.7l4.5 2.7l-1.3 2.2l-4.5 -2.7zM206.5 189.9l2.2 1.3l-1.3 2.2l-2.2 -1.3zM199.5 193.5l3.3 2.0l-1.1 1.8l-3.3 -2.0zM199.2 177.4l4.5 2.7l-1.7 2.9l-4.5 -2.7zM195.6 178.1l2.2 1.3l-1.3 2.2l-2.2 -1.3zM199.6 184.5l2.2 1.3l-1.3 2.2l-2.2 -1.3zM201.0 183.5l3.3 2.0l-1.3 2.2l-3.3 -2.0zM209.7 187.0l4.5 2.7l-1.3 2.2l-4.5 -2.7z"/><path fill="#b0b0b0" d="M202.7 184.4l4.5 2.7l-1.1 1.8l-4.5 -2.7zM221.3 194.8l3.3 2.0l-1.7 2.9l-3.3 -2.0zM218.1 191.2l2.2 1.3l-1.7 2.9l-2.2 -1.3zM202.6 188.0l4.5 2.7l-1.1 1.8l-4.5 -2.7zM199.6 189.2l2.2 1.3l-1.3 2.2l-2.2 -1.3zM198.5 183.2l2.2 1.3l-1.3 2.2l-2.2 -1.3zM199.3 193.2l3.3 2.0l-1.3 2.2l-3.3 -2.0zM200.0 178.5l3.3 2.0l-1.7 2.9l-3.3 -2.0z"/><path fill="#82d882" d="M219.5 192.4l4.5 2.7l-1.3 2.2l-4.5 -2.7zM197.6 180.8l2.2 1.3l-1.3 2.2l-2.2 -1.3zM215.8 189.7l4.5 2.7l-1.1 1.8l-4.5 -2.7zM214.9 188.6l2.2 1.3l-1.3 2.2l-2.2 -1.3zM218.2 190.8l2.2 1.3l-1.3 2.2l-2.2 -1.3zM198.2 182.0l2.2 1.3l-1.1 1.8l-2.2 -1.3zM221.5 194.0l3.3 2.0l-1.3 2.2l-3.3 -2.0zM198.8 191.4l2.2 1.3l-1.1 1.8l-2.2 -1.3zM216.3 191.6l2.2 1.3l-1.7 2.9l-2.2 -1.3zM214.9 191.8l2.2 1.3l-1.3 2.2l-2.2 -1.3z"/><path fill="#d0d0d0" d="M277.2 312.8l2.8 1.7l-1.1 1.9l-2.8 -1.7zM189.4 243.9l1.9 1.1l-0.9 1.5l-1.9 -1.1zM198.7 205.4l2.8 1.7l-0.9 1.5l-2.8 -1.7zM201.3 251.1l3.8 2.3l-1.1 1.9l-3.8 -2.3zM271.1 248.4l1.9 1.1l-1.1 1.9l-1.9 -1.1zM236.5 231.3l1.9 1.1l-0.9 1.5l-1.9 -1.1zM252.2 237.5l1.9 1.1l-1.5 2.5l-1.9 -1.1zM219.1 226.0l2.8 1.7l-1.5 2.5l-2.8 -1.7zM205.1 254.7l1.9 1.1l-1.1 1.9l-1.9 -1.1zM242.4 226.4l3.8 2.3l-0.9 1.5l-3.8 -2.3zM231.1 241.5l2.8 1.7l-1.5 2.5l-2.8 -1.7zM279.0 269.4l1.9 1.1l-1.1 1.9l-1.9 -1.1zM261.8 287.9l2.8 1.7l-0.9 1.5l-2.8 -1.7zM267.2 231.0l3.8 2.3l-0.9 1.5l-3.8 -2.3zM216.8 250.2l1.9 1.1l-0.9 1.5l-1.9 -1.1zM220.6 250.6l2.8 1.7l-1.5 2.5l-2.8 -1.7zM289.1 261.4l2.8 1.7l-1.5 2.5l-2.8 -1.7zM224.4 282.0l1.9 1.1l-0.9 1.5l-1.9 -1.1zM264.5 307.9l3.8 2.3l-0.9 1.5l-3.8 -2.3z"/><path fill="#c8c8c8" d="M217.2 216.7l1.9 1.1l-1.1 1.9l-1.9 -1.1zM250.0 306.9l1.9 1.1l-1.5 2.5l-1.9 -1.1zM189.8 217.7l3.8 2.3l-1.5 2.5l-3.8 -2.3zM234.1 235.4l1.9 1.1l-1.1 1.9l-1.9 -1.1zM241.4 251.9l3.8 2.3l-1.1 1.9l-3.8 -2.3zM288.4 300.0l3.8 2.3l-1.5 2.5l-3.8 -2.3zM265.5 238.8l3.8 2.3l-1.1 1.9l-3.8 -2.3zM252.7 292.3l3.8 2.3l-0.9 1.5l-3.8 -2.3zM285.5 297.0l1.9 1.1l-1.1 1.9l-1.9 -1.1zM294.9 243.4l1.9 1.1l-0.9 1.5l-1.9 -1.1zM237.5 256.4l3.8 2.3l-1.5 2.5l-3.8 -2.3zM212.2 240.4l3.8 2.3l-1.5 2.5l-3.8 -2.3zM287.1 308.2l1.9 1.1l-1.5 2.5l-1.9 -1.1zM280.9 258.2l1.9 1.1l-1.1 1.9l-1.9 -1.1zM238.5 257.3l1.9 1.1l-0.9 1.5l-1.9 -1.1zM193.2 210.5l1.9 1.1l-1.5 2.5l-1.9 -1.1zM229.6 247.1l3.8 2.3l-1.1 1.9l-3.8 -2.3zM298.4 296.2l1.9 1.1l-1.1 1.9l-1.9 -1.1zM196.0 241.7l1.9 1.1l-1.5 2.5l-1.9 -1.1zM278.3 273.2l1.9 1.1l-1.5 2.5l-1.9 -1.1zM248.7 280.1l1.9 1.1l-1.1 1.9l-1.9 -1.1zM224.5 255.7l3.8 2.3l-1.5 2.5l-3.8 -2.3zM190.4 245.5l1.9 1.1l-1.1 1.9l-1.9 -1.1zM224.7 220.6l2.8 1.7l-0.9 1.5l-2.8 -1.7z"/><path fill="#dadada" d="M287.0 270.8l2.8 1.7l-0.9 1.5l-2.8 -1.7zM212.3 269.1l3.8 2.3l-1.1 1.9l-3.8 -2.3zM247.8 309.8l1.9 1.1l-0.9 1.5l-1.9 -1.1zM261.5 239.7l2.8 1.7l-0.9 1.5l-2.8 -1.7zM251.0 290.6l1.9 1.1l-1.1 1.9l-1.9 -1.1zM241.8 303.6l3.8 2.3l-1.1 1.9l-3.8 -2.3zM216.8 260.7l2.8 1.7l-1.5 2.5l-2.8 -1.7zM200.3 257.9l1.9 1.1l-0.9 1.5l-1.9 -1.1zM262.6 239.6l1.9 1.1l-1.5 2.5l-1.9 -1.1zM188.0 226.0l1.9 1.1l-1.5 2.5l-1.9 -1.1zM290.7 286.0l2.8 1.7l-1.5 2.5l-2.8 -1.7zM267.7 305.8l1.9 1.1l-1.5 2.5l-1.9 -1.1zM268.7 279.9l2.8 1.7l-1.1 1.9l-2.8 -1.7zM284.8 270.8l2.8 1.7l-1.5 2.5l-2.8 -1.7zM252.6 268.6l2.8 1.7l-0.9 1.5l-2.8 -1.7zM258.2 233.0l2.8 1.7l-1.1 1.9l-2.8 -1.7zM253.3 268.7l1.9 1.1l-0.9 1.5l-1.9 -1.1z"/><path fill="#a8a8a8" d="M75.0 113.2l2.1 1.3l-1.7 2.8l-2.1 -1.3z"/><path fill="#58a6fc" d="M71.3 117.7l3.2 1.9l-1.3 2.1l-3.2 -1.9zM69.4 121.7l4.3 2.6l-1.3 2.1l-4.3 -2.6zM71.0 122.0l2.1 1.3l-1.0 1.7l-2.1 -1.3zM71.1 118.7l4.3 2.6l-1.0 1.7l-4.3 -2.6z"/><path fill="#82d882" d="M67.4 122.3l2.1 1.3l-1.0 1.7l-2.1 -1.3zM71.9 123.4l2.1 1.3l-1.7 2.8l-2.1 -1.3zM73.3 116.9l3.2 1.9l-1.0 1.7l-3.2 -1.9zM74.0 119.7l2.1 1.3l-1.3 2.1l-2.1 -1.3zM73.1 119.2l2.1 1.3l-1.3 2.1l-2.1 -1.3zM71.1 116.6l2.1 1.3l-1.3 2.1l-2.1 -1.3zM67.2 124.5l4.3 2.6l-1.0 1.7l-4.3 -2.6z"/><path fill="#b0b0b0" d="M91.0 133.3l3.8 2.3l-0.9 1.5l-3.8 -2.3zM88.8 134.2l1.9 1.1l-1.5 2.5l-1.9 -1.1zM91.1 133.0l2.8 1.7l-0.9 1.5l-2.8 -1.7zM86.9 133.8l2.8 1.7l-1.1 1.9l-2.8 -1.7zM90.3 135.6l3.8 2.3l-0.9 1.5l-3.8 -2.3z"/><path fill="#c0c0c0" d="M88.8 136.1l2.8 1.7l-1.5 2.5l-2.8 -1.7zM89.2 133.5l1.9 1.1l-1.5 2.5l-1.9 -1.1zM85.3 133.6l2.8 1.7l-0.9 1.5l-2.8 -1.7z"/><path fill="#c0c0c0" d="M97.7 136.2l2.8 1.7l-1.1 1.9l-2.8 -1.7zM96.2 136.4l1.9 1.1l-1.5 2.5l-1.9 -1.1zM95.9 134.2l3.8 2.3l-1.1 1.9l-3.8 -2.3z"/><path fill="#b0b0b0" d="M96.6 136.2l3.8 2.3l-0.9 1.5l-3.8 -2.3zM95.9 134.3l1.9 1.1l-1.5 2.5l-1.9 -1.1zM96.9 134.1l1.9 1.1l-0.9 1.5l-1.9 -1.1zM95.1 134.9l2.8 1.7l-1.1 1.9l-2.8 -1.7zM96.9 137.3l3.8 2.3l-0.9 1.5l-3.8 -2.3z"/><path fill="#b0b0b0" d="M100.9 135.1l3.8 2.3l-1.1 1.9l-3.8 -2.3zM103.2 136.6l1.9 1.1l-1.1 1.9l-1.9 -1.1zM101.1 133.8l2.8 1.7l-1.1 1.9l-2.8 -1.7zM101.2 135.9l2.8 1.7l-0.9 1.5l-2.8 -1.7zM102.4 133.5l1.9 1.1l-1.1 1.9l-1.9 -1.1zM100.1 135.1l2.8 1.7l-1.1 1.9l-2.8 -1.7zM102.4 136.1l2.8 1.7l-1.5 2.5l-2.8 -1.7z"/><path fill="#c0c0c0" d="M100.9 133.5l1.9 1.1l-0.9 1.5l-1.9 -1.1z"/><path fill="#c0c0c0" d="M112.0 139.0l3.8 2.3l-1.5 2.5l-3.8 -2.3zM110.0 137.2l1.9 1.1l-1.1 1.9l-1.9 -1.1zM113.5 137.2l1.9 1.1l-1.5 2.5l-1.9 -1.1z"/><path fill="#b0b0b0" d="M108.7 134.2l2.8 1.7l-0.9 1.5l-2.8 -1.7zM110.7 139.2l1.9 1.1l-1.5 2.5l-1.9 -1.1zM117.4 138.2l1.9 1.1l-1.5 2.5l-1.9 -1.1zM111.4 141.1l1.9 1.1l-1.1 1.9l-1.9 -1.1zM108.6 139.4l3.8 2.3l-0.9 1.5l-3.8 -2.3z"/><path fill="#c0c0c0" d="M130.6 138.1l1.9 1.1l-1.1 1.9l-1.9 -1.1zM133.3 141.6l1.9 1.1l-0.9 1.5l-1.9 -1.1zM133.6 140.5l1.9 1.1l-1.1 1.9l-1.9 -1.1zM133.3 138.3l1.9 1.1l-0.9 1.5l-1.9 -1.1zM130.6 135.0l1.9 1.1l-1.5 2.5l-1.9 -1.1z"/><path fill="#b0b0b0" d="M130.1 137.1l1.9 1.1l-0.9 1.5l-1.9 -1.1zM128.3 137.0l2.8 1.7l-0.9 1.5l-2.8 -1.7zM130.5 136.3l1.9 1.1l-1.5 2.5l-1.9 -1.1z"/><path fill="#c0c0c0" d="M116.4 126.6l1.9 1.1l-0.9 1.5l-1.9 -1.1zM118.9 125.7l1.9 1.1l-0.9 1.5l-1.9 -1.1zM119.4 128.2l1.9 1.1l-1.5 2.5l-1.9 -1.1zM119.4 128.7l1.9 1.1l-1.5 2.5l-1.9 -1.1zM117.6 125.2l1.9 1.1l-0.9 1.5l-1.9 -1.1z"/><path fill="#b0b0b0" d="M120.1 128.5l3.8 2.3l-1.5 2.5l-3.8 -2.3zM118.3 126.7l2.8 1.7l-1.1 1.9l-2.8 -1.7zM119.4 128.0l2.8 1.7l-1.5 2.5l-2.8 -1.7z"/><path fill="#82d882" d="M475.7 424.3l1.9 1.1l-1.5 2.5l-1.9 -1.1zM475.5 424.2l1.9 1.1l-1.5 2.5l-1.9 -1.1zM481.7 432.1l2.8 1.7l-1.5 2.5l-2.8 -1.7zM482.5 420.0l1.9 1.1l-1.1 1.9l-1.9 -1.1zM482.3 434.0l1.9 1.1l-1.5 2.5l-1.9 -1.1zM479.7 427.5l1.9 1.1l-1.1 1.9l-1.9 -1.1zM477.9 416.9l1.9 1.1l-1.1 1.9l-1.9 -1.1z"/><path fill="#a8a8a8" d="M479.6 416.3l1.9 1.1l-1.5 2.5l-1.9 -1.1zM479.5 431.2l1.9 1.1l-1.1 1.9l-1.9 -1.1zM484.7 427.8l2.8 1.7l-1.5 2.5l-2.8 -1.7z"/><g stroke="#333" stroke-width="1.35" stroke-dasharray="3 5.27" fill="none"><line x1="68.60" y1="41" x2="68.60" y2="549"/><line x1="147.30" y1="41" x2="147.30" y2="549"/><line x1="226.00" y1="41" x2="226.00" y2="549"/><line x1="304.70" y1="41" x2="304.70" y2="549"/><line x1="383.40" y1="41" x2="383.40" y2="549"/><line x1="462.10" y1="41" x2="462.10" y2="549"/><line x1="13" y1="67.20" x2="486" y2="67.20"/><line x1="13" y1="151.70" x2="486" y2="151.70"/><line x1="13" y1="236.20" x2="486" y2="236.20"/><line x1="13" y1="320.70" x2="486" y2="320.70"/><line x1="13" y1="405.20" x2="486" y2="405.20"/><line x1="13" y1="489.70" x2="486" y2="489.70"/></g><g stroke="#000" stroke-width="1.25" stroke-dasharray="12.2 11.5" fill="none"><path d="M13.00,55.89 Q249.00,216.18 485.00,343.32"/><path d="M13.00,152.94 Q249.50,312.51 486.00,436.77"/></g><g style="font-family:'Liberation Sans',sans-serif" font-size="12.5" fill="#000"><text x="68.60" y="300.2" text-anchor="middle">54</text><text x="147.30" y="300.2" text-anchor="middle">56</text><text x="226.00" y="300.2" text-anchor="middle">58</text><text x="304.70" y="300.2" text-anchor="middle">60</text><text x="383.40" y="300.2" text-anchor="middle">62</text><text x="462.10" y="300.2" text-anchor="middle">64</text><text x="235.5" y="66.70">-16</text><text x="235.5" y="151.20">-18</text><text x="235.5" y="235.70">-20</text><text x="235.5" y="320.20">-22</text><text x="235.5" y="404.70">-24</text><text x="235.5" y="489.20">-26</text></g><path d="M242.8,294.5 H255.8 M249.3,288.0 V301.0" stroke="#000" stroke-width="5" fill="none"/><text x="37.3" y="65.5" style="font-family:'Liberation Sans',sans-serif" font-size="25" fill="#000">2A23 storm height (km)</text><text x="438.5" y="522.7" style="font-family:'Liberation Sans',sans-serif" font-size="30" fill="#000">(i)</text><rect x="495" y="531.54" width="9" height="8.86" fill="#f6f6f6"/><rect x="495" y="523.08" width="9" height="8.86" fill="#eeeeee"/><rect x="495" y="514.63" width="9" height="8.86" fill="#e6e6e6"/><rect x="495" y="506.17" width="9" height="8.86" fill="#dedede"/><rect x="495" y="497.71" width="9" height="8.86" fill="#d6d6d6"/><rect x="495" y="489.25" width="9" height="8.86" fill="#cecece"/><rect x="495" y="480.80" width="9" height="8.86" fill="#c6c6c6"/><rect x="495" y="472.34" width="9" height="8.86" fill="#bfbfbf"/><rect x="495" y="463.88" width="9" height="8.86" fill="#b7b7b7"/><rect x="495" y="455.42" width="9" height="8.86" fill="#afafaf"/><rect x="495" y="446.97" width="9" height="8.86" fill="#a7a7a7"/><rect x="495" y="438.51" width="9" height="8.86" fill="#9f9f9f"/><rect x="495" y="430.05" width="9" height="8.86" fill="#979797"/><rect x="495" y="421.59" width="9" height="8.86" fill="#8f8f8f"/><rect x="495" y="413.14" width="9" height="8.86" fill="#82e082"/><rect x="495" y="404.68" width="9" height="8.86" fill="#7ad67a"/><rect x="495" y="396.22" width="9" height="8.86" fill="#72cc72"/><rect x="495" y="387.76" width="9" height="8.86" fill="#6ac26a"/><rect x="495" y="379.31" width="9" height="8.86" fill="#62b862"/><rect x="495" y="370.85" width="9" height="8.86" fill="#ccd4fc"/><rect x="495" y="362.39" width="9" height="8.86" fill="#b4c8fc"/><rect x="495" y="353.93" width="9" height="8.86" fill="#9cbffc"/><rect x="495" y="345.47" width="9" height="8.86" fill="#88b6fc"/><rect x="495" y="337.02" width="9" height="8.86" fill="#70aefc"/><rect x="495" y="328.56" width="9" height="8.86" fill="#58a6fc"/><rect x="495" y="320.10" width="9" height="8.86" fill="#4a94f8"/><rect x="495" y="311.64" width="9" height="8.86" fill="#4080f4"/><rect x="495" y="303.19" width="9" height="8.86" fill="#3868f6"/><rect x="495" y="294.73" width="9" height="8.86" fill="#3050f8"/><rect x="495" y="286.27" width="9" height="8.86" fill="#2838f8"/><rect x="495" y="277.81" width="9" height="8.86" fill="#0000ff"/><rect x="495" y="269.36" width="9" height="8.86" fill="#0000ee"/><rect x="495" y="260.90" width="9" height="8.86" fill="#0000dd"/><rect x="495" y="252.44" width="9" height="8.86" fill="#0000cc"/><rect x="495" y="243.98" width="9" height="8.86" fill="#ffff00"/><rect x="495" y="235.53" width="9" height="8.86" fill="#fff200"/><rect x="495" y="227.07" width="9" height="8.86" fill="#ffe600"/><rect x="495" y="218.61" width="9" height="8.86" fill="#ffd900"/><rect x="495" y="210.15" width="9" height="8.86" fill="#ffcc00"/><rect x="495" y="201.69" width="9" height="8.86" fill="#ff8400"/><rect x="495" y="193.24" width="9" height="8.86" fill="#ff7e00"/><rect x="495" y="184.78" width="9" height="8.86" fill="#ff7800"/><rect x="495" y="176.32" width="9" height="8.86" fill="#ff7200"/><rect x="495" y="167.86" width="9" height="8.86" fill="#ff6c00"/><rect x="495" y="159.41" width="9" height="8.86" fill="#ff4000"/><rect x="495" y="150.95" width="9" height="8.86" fill="#ff3400"/><rect x="495" y="142.49" width="9" height="8.86" fill="#ff2800"/><rect x="495" y="134.03" width="9" height="8.86" fill="#ff1c00"/><rect x="495" y="125.58" width="9" height="8.86" fill="#ff1000"/><rect x="495" y="117.12" width="9" height="8.86" fill="#cc0000"/><rect x="495" y="108.66" width="9" height="8.86" fill="#c10000"/><rect x="495" y="100.20" width="9" height="8.86" fill="#b60000"/><rect x="495" y="91.75" width="9" height="8.86" fill="#ab0000"/><rect x="495" y="83.29" width="9" height="8.86" fill="#a00000"/><rect x="495" y="74.83" width="9" height="8.86" fill="#640a04"/><rect x="495" y="66.37" width="9" height="8.86" fill="#600e08"/><rect x="495" y="57.92" width="9" height="8.86" fill="#5c110c"/><rect x="495" y="49.46" width="9" height="8.86" fill="#581410"/><rect x="495" y="41.00" width="9" height="8.86" fill="#541814"/><g stroke="#000" stroke-width="1"><line x1="504" y1="548.50" x2="507" y2="548.50"/><line x1="504" y1="497.70" x2="507" y2="497.70"/><line x1="504" y1="446.90" x2="507" y2="446.90"/><line x1="504" y1="396.10" x2="507" y2="396.10"/><line x1="504" y1="345.30" x2="507" y2="345.30"/><line x1="504" y1="294.50" x2="507" y2="294.50"/><line x1="504" y1="243.70" x2="507" y2="243.70"/><line x1="504" y1="192.90" x2="507" y2="192.90"/><line x1="504" y1="142.10" x2="507" y2="142.10"/><line x1="504" y1="91.30" x2="507" y2="91.30"/></g><g style="font-family:'Liberation Sans',sans-serif" font-size="20" fill="#000" text-anchor="middle"><text x="532.5" y="557.10">0.0</text><text x="532.5" y="506.30">2.0</text><text x="532.5" y="455.50">4.0</text><text x="532.5" y="404.70">6.0</text><text x="532.5" y="353.90">8.0</text><text x="532.5" y="303.10">10.0</text><text x="532.5" y="252.30">12.0</text><text x="532.5" y="201.50">14.0</text><text x="532.5" y="150.70">16.0</text><text x="532.5" y="99.90">18.0</text></g>
</g>
</svg></body></html>
